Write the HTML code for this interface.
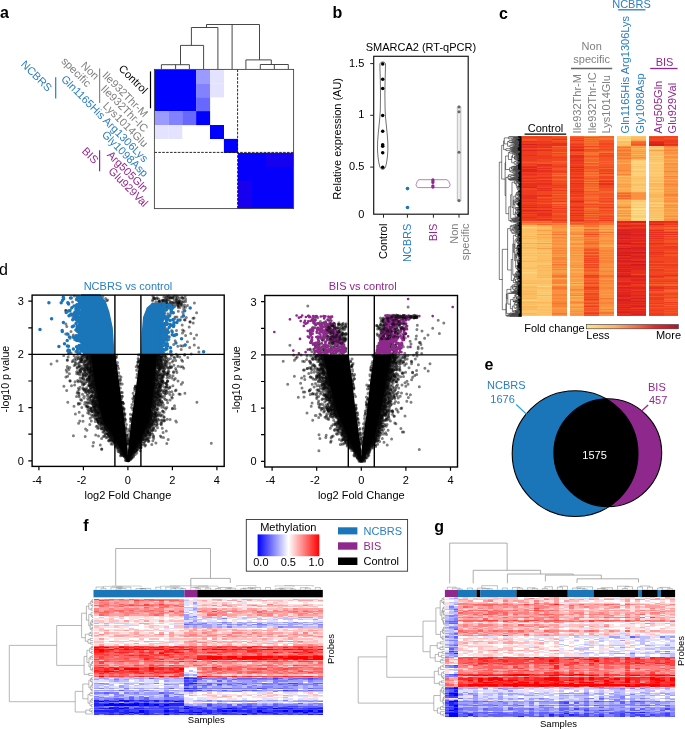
<!DOCTYPE html>
<html><head><meta charset="utf-8"><style>
html,body{margin:0;padding:0;background:#fff;width:685px;height:729px;overflow:hidden}
svg{display:block;will-change:transform}
svg{font-family:"Liberation Sans",sans-serif;font-size:11px}
</style></head><body>
<svg width="685" height="729" viewBox="0 0 685 729">
<text x="0" y="18.3" font-weight="bold" font-size="16">a</text>
<text x="332.5" y="18.3" font-weight="bold" font-size="16">b</text>
<text x="499" y="18.5" font-weight="bold" font-size="16">c</text>
<text x="-0.9" y="275.3" font-size="16">d</text>
<text x="484.5" y="370.3" font-weight="bold" font-size="16">e</text>
<text x="83.3" y="531" font-weight="bold" font-size="16">f</text>
<text x="434.3" y="532.1" font-weight="bold" font-size="16">g</text>
<rect x="154.4" y="69.4" width="41.8" height="41.8" fill="#0000ff"/>
<rect x="237.9" y="152.9" width="55.7" height="55.7" fill="#0500fc"/>
<rect x="196.1" y="69.4" width="14" height="14" fill="#9a9aff"/>
<rect x="196.1" y="83.3" width="14" height="14" fill="#8282ff"/>
<rect x="196.1" y="97.2" width="14" height="14" fill="#6868ff"/>
<rect x="210" y="69.4" width="14" height="14" fill="#e3e3ff"/>
<rect x="210" y="83.3" width="14" height="14" fill="#e3e3ff"/>
<rect x="154.3" y="111.1" width="14" height="14" fill="#9a9aff"/>
<rect x="168.3" y="111.1" width="14" height="14" fill="#8282ff"/>
<rect x="182.2" y="111.1" width="14" height="14" fill="#6868ff"/>
<rect x="196.1" y="111.1" width="14" height="14" fill="#0000ff"/>
<rect x="154.3" y="125" width="14" height="14" fill="#e3e3ff"/>
<rect x="168.3" y="125" width="14" height="14" fill="#e3e3ff"/>
<rect x="210" y="125" width="14" height="14" fill="#0000ff"/>
<rect x="223.9" y="138.9" width="14" height="14" fill="#0000ff"/>
<rect x="265.7" y="152.9" width="14" height="14" fill="#1500f0"/>
<rect x="279.6" y="152.9" width="14" height="14" fill="#1500f0"/>
<rect x="237.9" y="180.7" width="14" height="14" fill="#1800ee"/>
<rect x="237.9" y="194.6" width="14" height="14" fill="#1800ee"/>
<path d="M237.6 69.4L237.6 208.6" stroke="#111" stroke-width="0.9" stroke-dasharray="2.6 1.3"/>
<path d="M154.4 152.4L293.6 152.4" stroke="#111" stroke-width="0.9" stroke-dasharray="2.6 1.3"/>
<rect x="154.4" y="69.4" width="139.2" height="139.2" fill="none" stroke="#444" stroke-width="0.9"/>
<path d="M161.4 64.7L189.4 64.7M161.4 64.7L161.4 69M175.6 64.7L175.6 69M189.4 64.7L189.4 69M180.5 64.7L180.5 45.4M180.5 45.4L203.6 45.4M203.6 45.4L203.6 69M191.4 45.4L191.4 27.5M191.4 27.5L217.9 27.5M217.9 27.5L217.9 69M206.5 27.5L206.5 24.5M206.5 24.5L259.5 24.5M232.1 24.5L232.1 69M259.5 24.5L259.5 59.9M245.9 59.9L271.3 59.9M245.9 59.9L245.9 69M271.3 59.9L271.3 64.5M260.3 64.5L288.3 64.5M260.3 64.5L260.3 69M274.3 64.5L274.3 69M288.3 64.5L288.3 69" stroke="#333" stroke-width="0.9" fill="none"/>
<text transform="translate(143.2 94.4) rotate(45)" text-anchor="end">Control</text>
<text transform="translate(143.6 117.9) rotate(45)" text-anchor="end" fill="#7f7f7f">Ile932Thr-M</text>
<text transform="translate(143.6 132.8) rotate(45)" text-anchor="end" fill="#7f7f7f">Ile932Thr-IC</text>
<text transform="translate(143.6 147.8) rotate(45)" text-anchor="end" fill="#7f7f7f">Lys1014Glu</text>
<text transform="translate(143.6 162.8) rotate(45)" text-anchor="end" fill="#2a7ec1">Gln1165His Arg1306Lys</text>
<text transform="translate(143.6 177.7) rotate(45)" text-anchor="end" fill="#2a7ec1">Gly1098Asp</text>
<text transform="translate(143.6 192.7) rotate(45)" text-anchor="end" fill="#92278f">Arg505Gln</text>
<text transform="translate(143.6 207.6) rotate(45)" text-anchor="end" fill="#92278f">Glu929Val</text>
<text transform="translate(94.6 80.4) rotate(45)" text-anchor="end" fill="#7f7f7f">Non</text>
<text transform="translate(86.6 87.6) rotate(45)" text-anchor="end" fill="#7f7f7f">specific</text>
<text transform="translate(47.5 92.3) rotate(45)" text-anchor="end" fill="#2a7ec1">NCBRS</text>
<text transform="translate(93.9 164.4) rotate(45)" text-anchor="end" fill="#92278f">BIS</text>
<path d="M150.5 71.4L150.5 108.3" stroke="#000" stroke-width="1.2"/>
<path d="M99.6 68.4L99.6 102.9" stroke="#888" stroke-width="1.2"/>
<path d="M55.7 77.3L55.7 98.6" stroke="#2a7ec1" stroke-width="1.2"/>
<path d="M99.6 150.2L99.6 171.2" stroke="#92278f" stroke-width="1.2"/>
<rect x="373.7" y="56.3" width="94.5" height="157.9" fill="none" stroke="#1a1a1a" stroke-width="1.2"/>
<text x="420.9" y="51.3" text-anchor="middle">SMARCA2 (RT-qPCR)</text>
<path d="M370.2 63.6L373.7 63.6" stroke="#222" stroke-width="1"/>
<text x="364.3" y="66.7" text-anchor="end">1.5</text>
<path d="M370.2 115.3L373.7 115.3" stroke="#222" stroke-width="1"/>
<text x="364.3" y="118.4" text-anchor="end">1</text>
<path d="M370.2 167.1L373.7 167.1" stroke="#222" stroke-width="1"/>
<text x="364.3" y="170.2" text-anchor="end">0.5</text>
<text x="364.3" y="217.8" text-anchor="end">0</text>
<text transform="translate(341.2 138.8) rotate(-90)" text-anchor="middle">Relative expression (AU)</text>
<path d="M383.5 214.2L383.5 217.7" stroke="#222" stroke-width="1"/>
<path d="M407.4 214.2L407.4 217.7" stroke="#222" stroke-width="1"/>
<path d="M433.4 214.2L433.4 217.7" stroke="#222" stroke-width="1"/>
<path d="M459 214.2L459 217.7" stroke="#222" stroke-width="1"/>
<text transform="translate(387.4 223.6) rotate(-90)" text-anchor="end">Control</text>
<text transform="translate(411.3 223.6) rotate(-90)" text-anchor="end" fill="#2a7ec1">NCBRS</text>
<text transform="translate(437.3 223.6) rotate(-90)" text-anchor="end" fill="#92278f">BIS</text>
<text transform="translate(458.4 223.6) rotate(-90)" text-anchor="end" fill="#7f7f7f">Non</text>
<text transform="translate(469.4 223.6) rotate(-90)" text-anchor="end" fill="#7f7f7f">specific</text>
<path d="M382.7 61.8L384.5 62.4L385.5 63.8L385.4 70L385.1 80L384.9 95L385.1 110L385.6 118L386.4 126L387.2 134L387.8 142L387.9 150L387.4 157L386.5 163L385.5 167L384.3 168.8L382.7 169.5L382.7 169.5L381.1 168.8L379.9 167L378.9 163L378 157L377.5 150L377.6 142L378.2 134L379 126L379.8 118L380.3 110L380.5 95L380.3 80L380 70L379.9 63.8L380.9 62.4L382.7 61.8Z" fill="none" stroke="#333" stroke-width="0.7"/>
<circle cx="382.7" cy="64.1" r="1.75"/>
<circle cx="382.7" cy="79.2" r="1.75"/>
<circle cx="382.7" cy="88.5" r="1.75"/>
<circle cx="382.7" cy="115.5" r="1.75"/>
<circle cx="382.7" cy="131.3" r="1.75"/>
<circle cx="382.7" cy="144.8" r="1.75"/>
<circle cx="382.7" cy="146.2" r="1.75"/>
<circle cx="382.7" cy="152.7" r="1.75"/>
<circle cx="382.7" cy="167.2" r="1.75"/>
<circle cx="407.5" cy="188.6" r="1.8" fill="#1b75b9"/>
<circle cx="407.5" cy="207.5" r="1.8" fill="#1b75b9"/>
<path d="M419 179.7L446.5 179.7C448.5 179.7 449.5 183 450.2 184.8C449.5 186.5 449 187.6 448 187.6L418.2 187.6C417.2 187.6 416.6 186.5 416 184.8C416.7 183 417.5 179.7 419 179.7Z" fill="none" stroke="#8f288d" stroke-width="0.6"/>
<circle cx="432.9" cy="179.8" r="1.6" fill="#8f288d"/>
<circle cx="432.9" cy="181.1" r="1.6" fill="#8f288d"/>
<circle cx="432.9" cy="182.5" r="1.6" fill="#8f288d"/>
<circle cx="432.9" cy="185.8" r="1.6" fill="#8f288d"/>
<circle cx="432.9" cy="187.1" r="1.6" fill="#8f288d"/>
<path d="M457.3 107.5C457.3 105.3 460.9 105.3 460.9 107.5L460.9 200.2C460.9 202.3 457.3 202.3 457.3 200.2Z" fill="#ececec" stroke="#999" stroke-width="0.6"/>
<circle cx="459" cy="107.1" r="1.5" fill="#666"/>
<circle cx="459" cy="111.8" r="1.5" fill="#666"/>
<circle cx="459" cy="152.3" r="1.5" fill="#666"/>
<circle cx="459" cy="200.5" r="1.5" fill="#666"/>
<g transform="translate(522.3 136.3) scale(14.97 1)" shape-rendering="crispEdges">
<path fill="#f14620" d="M0 0h1v1h-1zM0 2h1v1h-1zM0 12h1v1h-1zM0 25h1v1h-1zM0 27h1v1h-1zM0 29h1v1h-1zM0 40h1v1h-1zM0 43h1v1h-1zM0 46h1v1h-1zM0 52h1v2h-1zM0 66h1v1h-1zM0 72h1v1h-1zM0 76h1v1h-1zM0 78h1v1h-1zM1 0h1v1h-1zM1 2h1v3h-1zM1 15h1v4h-1zM1 23h1v3h-1zM1 31h1v1h-1zM1 33h1v1h-1zM1 37h1v1h-1zM1 39h1v2h-1zM1 51h1v1h-1zM1 55h1v4h-1zM1 62h1v1h-1zM1 64h1v1h-1zM1 66h1v1h-1zM1 72h1v2h-1zM1 82h1v1h-1zM2 1h1v2h-1zM2 5h1v2h-1zM2 11h1v1h-1zM2 13h1v3h-1zM2 17h1v1h-1zM2 20h1v1h-1zM2 22h1v3h-1zM2 28h1v2h-1zM2 31h1v1h-1zM2 34h1v1h-1zM2 36h1v1h-1zM2 41h1v1h-1zM2 45h1v1h-1zM2 47h1v2h-1zM2 50h1v1h-1zM2 57h1v1h-1zM2 59h1v1h-1zM2 62h1v1h-1zM2 68h1v1h-1zM2 70h1v1h-1zM2 74h1v3h-1zM2 79h1v3h-1zM2 83h1v1h-1z"/>
<path fill="#ec3b1f" d="M0 1h1v1h-1zM0 6h1v2h-1zM0 9h1v1h-1zM0 13h1v1h-1zM0 15h1v4h-1zM0 20h1v5h-1zM0 28h1v1h-1zM0 32h1v1h-1zM0 36h1v2h-1zM0 39h1v1h-1zM0 41h1v1h-1zM0 44h1v1h-1zM0 54h1v5h-1zM0 63h1v2h-1zM0 67h1v2h-1zM0 70h1v1h-1zM0 73h1v1h-1zM0 79h1v2h-1zM0 82h1v3h-1zM1 1h1v1h-1zM1 5h1v3h-1zM1 10h1v1h-1zM1 13h1v1h-1zM1 19h1v4h-1zM1 30h1v1h-1zM1 36h1v1h-1zM1 38h1v1h-1zM1 42h1v1h-1zM1 45h1v2h-1zM1 49h1v2h-1zM1 53h1v1h-1zM1 60h1v1h-1zM1 63h1v1h-1zM1 65h1v1h-1zM1 68h1v3h-1zM1 75h1v2h-1zM1 80h1v2h-1zM1 84h1v1h-1zM2 21h1v1h-1zM2 30h1v1h-1zM2 35h1v1h-1zM2 49h1v1h-1zM2 51h1v1h-1zM2 54h1v1h-1zM2 65h1v1h-1zM2 72h1v1h-1zM2 84h1v1h-1z"/>
<path fill="#f35526" d="M0 3h1v2h-1zM0 26h1v1h-1zM1 12h1v1h-1zM1 26h1v2h-1zM1 43h1v1h-1zM1 61h1v1h-1zM1 67h1v1h-1zM2 0h1v1h-1zM2 4h1v1h-1zM2 12h1v1h-1zM2 18h1v2h-1zM2 26h1v2h-1zM2 32h1v2h-1zM2 38h1v1h-1zM2 40h1v1h-1zM2 42h1v1h-1zM2 44h1v1h-1zM2 46h1v1h-1zM2 52h1v2h-1zM2 55h1v2h-1zM2 60h1v2h-1zM2 63h1v2h-1zM2 71h1v1h-1zM2 73h1v1h-1zM2 77h1v2h-1zM2 82h1v1h-1zM2 85h1v2h-1z"/>
<path fill="#e62f1f" d="M0 5h1v1h-1zM0 10h1v2h-1zM0 19h1v1h-1zM0 30h1v1h-1zM0 38h1v1h-1zM0 42h1v1h-1zM0 45h1v1h-1zM0 47h1v4h-1zM0 59h1v4h-1zM0 65h1v1h-1zM0 69h1v1h-1zM0 75h1v1h-1zM0 77h1v1h-1zM0 81h1v1h-1zM1 8h1v2h-1zM1 11h1v1h-1zM1 14h1v1h-1zM1 28h1v2h-1zM1 32h1v1h-1zM1 34h1v2h-1zM1 41h1v1h-1zM1 44h1v1h-1zM1 47h1v2h-1zM1 52h1v1h-1zM1 54h1v1h-1zM1 59h1v1h-1zM1 71h1v1h-1zM1 77h1v3h-1zM1 83h1v1h-1zM2 3h1v1h-1zM2 7h1v3h-1z"/>
<path fill="#d61f1e" d="M0 8h1v1h-1z"/>
<path fill="#e1241e" d="M0 14h1v1h-1zM0 31h1v1h-1zM0 33h1v3h-1zM0 51h1v1h-1zM0 71h1v1h-1zM0 74h1v1h-1zM1 74h1v1h-1z"/>
<path fill="#f77431" d="M0 85h1v1h-1zM1 85h1v1h-1zM2 39h1v1h-1zM2 67h1v1h-1zM2 88h1v1h-1zM2 98h1v1h-1zM2 128h1v1h-1zM2 139h1v2h-1zM2 151h1v2h-1zM2 167h1v1h-1zM2 177h1v1h-1z"/>
<path fill="#f5652c" d="M0 86h1v1h-1zM1 86h1v1h-1zM1 88h1v1h-1zM2 10h1v1h-1zM2 16h1v1h-1zM2 25h1v1h-1zM2 37h1v1h-1zM2 43h1v1h-1zM2 58h1v1h-1zM2 66h1v1h-1zM2 69h1v1h-1z"/>
<path fill="#f98437" d="M0 87h1v2h-1zM1 87h1v1h-1zM2 87h1v1h-1zM2 96h1v1h-1zM2 101h1v1h-1zM2 112h1v1h-1zM2 114h1v1h-1zM2 117h1v1h-1zM2 121h1v3h-1zM2 126h1v1h-1zM2 129h1v1h-1zM2 131h1v1h-1zM2 133h1v1h-1zM2 141h1v1h-1zM2 144h1v4h-1zM2 150h1v1h-1zM2 153h1v1h-1zM2 158h1v2h-1zM2 162h1v1h-1zM2 165h1v2h-1zM2 168h1v3h-1zM2 178h1v1h-1z"/>
<path fill="#fcbe63" d="M0 89h1v2h-1zM0 93h1v4h-1zM0 98h1v1h-1zM0 109h1v1h-1zM0 114h1v1h-1zM0 117h1v1h-1zM0 119h1v1h-1zM0 122h1v1h-1zM0 124h1v1h-1zM0 131h1v2h-1zM0 144h1v3h-1zM0 150h1v1h-1zM0 152h1v3h-1zM0 156h1v1h-1zM0 159h1v3h-1zM0 165h1v1h-1zM0 167h1v2h-1zM0 172h1v1h-1zM0 178h1v1h-1zM1 91h1v2h-1zM1 97h1v1h-1zM1 99h1v1h-1zM1 104h1v1h-1zM1 108h1v2h-1zM1 111h1v1h-1zM1 113h1v2h-1zM1 116h1v1h-1zM1 119h1v5h-1zM1 125h1v2h-1zM1 130h1v1h-1zM1 132h1v2h-1zM1 135h1v4h-1zM1 140h1v1h-1zM1 144h1v4h-1zM1 151h1v2h-1zM1 167h1v1h-1zM1 170h1v2h-1zM1 173h1v2h-1zM1 176h1v1h-1zM1 178h1v1h-1z"/>
<path fill="#fdd57f" d="M0 91h1v1h-1zM0 136h1v1h-1zM0 164h1v1h-1zM1 150h1v1h-1z"/>
<path fill="#fdc56c" d="M0 92h1v1h-1zM0 97h1v1h-1zM0 99h1v1h-1zM0 101h1v1h-1zM0 103h1v4h-1zM0 108h1v1h-1zM0 110h1v1h-1zM0 116h1v1h-1zM0 118h1v1h-1zM0 120h1v1h-1zM0 126h1v5h-1zM0 133h1v1h-1zM0 135h1v1h-1zM0 138h1v6h-1zM0 149h1v1h-1zM0 163h1v1h-1zM0 169h1v1h-1zM0 174h1v3h-1zM0 179h1v1h-1zM1 106h1v1h-1zM1 115h1v1h-1zM1 118h1v1h-1zM1 127h1v2h-1zM1 142h1v2h-1zM1 148h1v2h-1zM1 153h1v3h-1zM1 157h1v1h-1zM1 161h1v5h-1zM1 168h1v2h-1zM1 172h1v1h-1zM1 175h1v1h-1zM1 177h1v1h-1z"/>
<path fill="#fcb65a" d="M0 100h1v1h-1zM0 102h1v1h-1zM0 111h1v2h-1zM0 125h1v1h-1zM0 147h1v1h-1zM0 151h1v1h-1zM0 155h1v1h-1zM0 157h1v2h-1zM0 162h1v1h-1zM0 166h1v1h-1zM0 170h1v2h-1zM0 173h1v1h-1zM0 177h1v1h-1zM1 90h1v1h-1zM1 93h1v1h-1zM1 95h1v2h-1zM1 100h1v1h-1zM1 102h1v2h-1zM1 105h1v1h-1zM1 110h1v1h-1zM1 117h1v1h-1zM1 124h1v1h-1zM1 129h1v1h-1zM1 131h1v1h-1zM1 134h1v1h-1zM1 139h1v1h-1zM1 141h1v1h-1zM1 159h1v1h-1zM1 166h1v1h-1z"/>
<path fill="#fbaa51" d="M0 107h1v1h-1zM1 89h1v1h-1zM1 101h1v1h-1zM2 142h1v1h-1zM2 148h1v1h-1z"/>
<path fill="#fdcd76" d="M0 113h1v1h-1zM0 115h1v1h-1zM0 121h1v1h-1zM0 123h1v1h-1zM0 134h1v1h-1zM0 137h1v1h-1zM0 148h1v1h-1zM1 156h1v1h-1zM1 158h1v1h-1zM1 160h1v1h-1zM1 179h1v1h-1z"/>
<path fill="#fa9d48" d="M1 94h1v1h-1zM1 98h1v1h-1zM1 107h1v1h-1zM1 112h1v1h-1zM2 92h1v3h-1zM2 97h1v1h-1zM2 99h1v2h-1zM2 103h1v1h-1zM2 106h1v1h-1zM2 109h1v2h-1zM2 113h1v1h-1zM2 118h1v1h-1zM2 120h1v1h-1zM2 127h1v1h-1zM2 132h1v1h-1zM2 134h1v3h-1zM2 149h1v1h-1zM2 172h1v1h-1zM2 179h1v1h-1z"/>
<path fill="#fa9040" d="M2 89h1v3h-1zM2 95h1v1h-1zM2 102h1v1h-1zM2 104h1v2h-1zM2 107h1v2h-1zM2 111h1v1h-1zM2 115h1v2h-1zM2 119h1v1h-1zM2 124h1v2h-1zM2 130h1v1h-1zM2 137h1v2h-1zM2 143h1v1h-1zM2 154h1v4h-1zM2 160h1v2h-1zM2 163h1v2h-1zM2 171h1v1h-1zM2 173h1v4h-1z"/>
</g>
<g transform="translate(569.6 136.3) scale(14.73 1)" shape-rendering="crispEdges">
<path fill="#f5652c" d="M0 0h1v1h-1zM0 86h1v1h-1zM0 88h1v1h-1zM1 3h1v1h-1zM1 5h1v1h-1zM1 7h1v2h-1zM1 11h1v1h-1zM1 19h1v1h-1zM1 21h1v1h-1zM1 23h1v3h-1zM1 28h1v1h-1zM1 33h1v2h-1zM1 38h1v1h-1zM1 40h1v2h-1zM1 43h1v1h-1zM1 48h1v3h-1zM1 52h1v1h-1zM1 56h1v2h-1zM1 59h1v2h-1zM1 62h1v2h-1zM1 65h1v1h-1zM1 67h1v1h-1zM1 69h1v1h-1zM1 73h1v2h-1zM1 76h1v1h-1zM1 80h1v1h-1zM1 87h1v2h-1zM1 93h1v1h-1zM1 96h1v1h-1zM1 100h1v1h-1zM1 107h1v1h-1zM1 112h1v1h-1zM1 121h1v1h-1zM1 132h1v2h-1zM1 135h1v1h-1zM1 137h1v2h-1zM1 142h1v2h-1zM1 145h1v1h-1zM1 148h1v2h-1zM1 154h1v1h-1zM1 156h1v1h-1zM1 165h1v1h-1zM1 168h1v1h-1zM1 171h1v1h-1zM1 175h1v1h-1zM2 0h1v2h-1zM2 15h1v1h-1zM2 25h1v1h-1zM2 27h1v1h-1zM2 32h1v1h-1zM2 38h1v2h-1zM2 43h1v1h-1zM2 55h1v2h-1zM2 61h1v1h-1zM2 73h1v1h-1zM2 78h1v1h-1zM2 85h1v2h-1z"/>
<path fill="#f35526" d="M0 1h1v1h-1zM0 3h1v1h-1zM0 5h1v2h-1zM0 16h1v1h-1zM0 18h1v1h-1zM0 43h1v1h-1zM0 61h1v1h-1zM0 87h1v1h-1zM1 1h1v1h-1zM1 14h1v2h-1zM1 20h1v1h-1zM1 27h1v1h-1zM1 30h1v3h-1zM1 35h1v1h-1zM1 42h1v1h-1zM1 45h1v1h-1zM1 47h1v1h-1zM1 55h1v1h-1zM1 58h1v1h-1zM1 64h1v1h-1zM1 70h1v2h-1zM1 75h1v1h-1zM1 79h1v1h-1zM1 81h1v2h-1zM1 85h1v2h-1zM1 113h1v2h-1zM1 116h1v1h-1zM1 119h1v1h-1zM1 123h1v1h-1zM1 125h1v1h-1zM1 129h1v2h-1zM1 134h1v1h-1zM1 144h1v1h-1zM1 146h1v1h-1zM1 150h1v1h-1zM1 155h1v1h-1zM1 159h1v2h-1zM1 162h1v1h-1zM1 164h1v1h-1zM1 166h1v1h-1zM1 169h1v1h-1zM1 172h1v3h-1zM1 178h1v2h-1zM2 4h1v3h-1zM2 9h1v1h-1zM2 11h1v2h-1zM2 14h1v1h-1zM2 18h1v1h-1zM2 21h1v4h-1zM2 26h1v1h-1zM2 28h1v3h-1zM2 36h1v1h-1zM2 46h1v1h-1zM2 52h1v3h-1zM2 57h1v4h-1zM2 63h1v2h-1zM2 66h1v1h-1zM2 69h1v2h-1zM2 72h1v1h-1zM2 75h1v3h-1zM2 79h1v1h-1zM2 81h1v1h-1zM2 83h1v1h-1z"/>
<path fill="#f14620" d="M0 2h1v1h-1zM0 7h1v1h-1zM0 9h1v1h-1zM0 12h1v1h-1zM0 15h1v1h-1zM0 17h1v1h-1zM0 28h1v1h-1zM0 32h1v1h-1zM0 36h1v1h-1zM0 39h1v2h-1zM0 46h1v1h-1zM0 52h1v1h-1zM0 58h1v1h-1zM0 62h1v2h-1zM0 67h1v3h-1zM0 72h1v2h-1zM0 75h1v2h-1zM0 78h1v1h-1zM0 80h1v1h-1zM0 82h1v1h-1zM0 85h1v1h-1zM1 10h1v1h-1zM1 13h1v1h-1zM1 68h1v1h-1zM1 77h1v1h-1zM1 84h1v1h-1zM1 98h1v1h-1zM1 117h1v1h-1zM1 120h1v1h-1zM1 122h1v1h-1zM1 124h1v1h-1zM1 126h1v1h-1zM1 128h1v1h-1zM1 131h1v1h-1zM1 140h1v2h-1zM1 147h1v1h-1zM1 152h1v2h-1zM1 157h1v2h-1zM1 161h1v1h-1zM1 167h1v1h-1zM1 176h1v1h-1zM2 7h1v2h-1zM2 10h1v1h-1zM2 13h1v1h-1zM2 17h1v1h-1zM2 19h1v2h-1zM2 31h1v1h-1zM2 33h1v3h-1zM2 40h1v3h-1zM2 44h1v1h-1zM2 49h1v3h-1zM2 62h1v1h-1zM2 65h1v1h-1zM2 68h1v1h-1zM2 74h1v1h-1zM2 80h1v1h-1zM2 82h1v1h-1z"/>
<path fill="#ec3b1f" d="M0 4h1v1h-1zM0 8h1v1h-1zM0 10h1v1h-1zM0 22h1v2h-1zM0 25h1v3h-1zM0 29h1v2h-1zM0 34h1v1h-1zM0 37h1v2h-1zM0 42h1v1h-1zM0 44h1v2h-1zM0 48h1v4h-1zM0 53h1v2h-1zM0 56h1v2h-1zM0 59h1v2h-1zM0 64h1v1h-1zM0 66h1v1h-1zM0 70h1v1h-1zM0 81h1v1h-1zM0 83h1v1h-1zM1 139h1v1h-1zM1 151h1v1h-1zM1 163h1v1h-1zM1 170h1v1h-1zM1 177h1v1h-1zM2 37h1v1h-1zM2 71h1v1h-1zM2 84h1v1h-1z"/>
<path fill="#e62f1f" d="M0 11h1v1h-1zM0 13h1v1h-1zM0 19h1v3h-1zM0 24h1v1h-1zM0 33h1v1h-1zM0 35h1v1h-1zM0 41h1v1h-1zM0 47h1v1h-1zM0 55h1v1h-1zM0 71h1v1h-1zM0 74h1v1h-1zM0 77h1v1h-1zM0 79h1v1h-1zM0 84h1v1h-1zM2 45h1v1h-1zM2 47h1v2h-1z"/>
<path fill="#e1241e" d="M0 14h1v1h-1zM0 31h1v1h-1zM0 65h1v1h-1z"/>
<path fill="#fa9d48" d="M0 89h1v1h-1zM0 93h1v1h-1zM0 95h1v1h-1zM0 102h1v1h-1zM0 104h1v1h-1zM0 113h1v1h-1zM0 115h1v2h-1zM0 120h1v5h-1zM0 126h1v3h-1zM0 130h1v1h-1zM0 133h1v2h-1zM0 137h1v3h-1zM0 141h1v1h-1zM0 143h1v3h-1zM0 150h1v3h-1zM0 155h1v1h-1zM0 158h1v1h-1zM0 161h1v2h-1zM0 170h1v1h-1zM0 173h1v2h-1zM0 176h1v1h-1zM0 179h1v1h-1zM1 92h1v1h-1zM2 89h1v3h-1zM2 95h1v1h-1zM2 99h1v1h-1zM2 101h1v3h-1zM2 106h1v1h-1zM2 108h1v1h-1zM2 132h1v1h-1zM2 143h1v1h-1zM2 155h1v1h-1zM2 158h1v1h-1zM2 161h1v1h-1zM2 171h1v2h-1zM2 174h1v1h-1z"/>
<path fill="#fa9040" d="M0 90h1v1h-1zM0 96h1v2h-1zM0 101h1v1h-1zM0 103h1v1h-1zM0 107h1v2h-1zM0 111h1v2h-1zM0 114h1v1h-1zM0 117h1v1h-1zM0 119h1v1h-1zM0 129h1v1h-1zM0 131h1v1h-1zM0 140h1v1h-1zM0 147h1v1h-1zM0 154h1v1h-1zM0 157h1v1h-1zM0 165h1v1h-1zM0 167h1v1h-1zM0 171h1v1h-1zM0 175h1v1h-1zM0 177h1v2h-1zM1 91h1v1h-1zM2 93h1v1h-1zM2 100h1v1h-1zM2 104h1v2h-1zM2 107h1v1h-1zM2 111h1v3h-1zM2 116h1v1h-1zM2 118h1v1h-1zM2 120h1v1h-1zM2 123h1v1h-1zM2 127h1v4h-1zM2 133h1v2h-1zM2 136h1v3h-1zM2 142h1v1h-1zM2 146h1v1h-1zM2 148h1v3h-1zM2 153h1v2h-1zM2 156h1v2h-1zM2 159h1v2h-1zM2 163h1v3h-1zM2 168h1v3h-1zM2 175h1v1h-1zM2 178h1v2h-1z"/>
<path fill="#fcb65a" d="M0 91h1v1h-1zM0 99h1v1h-1zM0 132h1v1h-1zM0 146h1v1h-1zM0 148h1v1h-1zM0 160h1v1h-1z"/>
<path fill="#fbaa51" d="M0 92h1v1h-1zM0 94h1v1h-1zM0 100h1v1h-1zM0 105h1v2h-1zM0 109h1v2h-1zM0 118h1v1h-1zM0 125h1v1h-1zM0 135h1v2h-1zM0 142h1v1h-1zM0 149h1v1h-1zM0 156h1v1h-1zM0 163h1v2h-1zM0 168h1v2h-1zM0 172h1v1h-1zM2 92h1v1h-1zM2 94h1v1h-1zM2 97h1v1h-1zM2 109h1v2h-1z"/>
<path fill="#f98437" d="M0 98h1v1h-1zM0 153h1v1h-1zM0 159h1v1h-1zM0 166h1v1h-1zM1 0h1v1h-1zM1 26h1v1h-1zM1 39h1v1h-1zM1 46h1v1h-1zM1 94h1v2h-1zM1 99h1v1h-1zM1 101h1v2h-1zM1 104h1v1h-1zM1 109h1v2h-1zM2 98h1v1h-1zM2 114h1v2h-1zM2 117h1v1h-1zM2 119h1v1h-1zM2 121h1v2h-1zM2 124h1v3h-1zM2 131h1v1h-1zM2 135h1v1h-1zM2 141h1v1h-1zM2 144h1v2h-1zM2 147h1v1h-1zM2 151h1v2h-1zM2 166h1v2h-1zM2 173h1v1h-1z"/>
<path fill="#f77431" d="M1 2h1v1h-1zM1 4h1v1h-1zM1 6h1v1h-1zM1 9h1v1h-1zM1 12h1v1h-1zM1 16h1v3h-1zM1 22h1v1h-1zM1 29h1v1h-1zM1 36h1v2h-1zM1 44h1v1h-1zM1 51h1v1h-1zM1 53h1v2h-1zM1 61h1v1h-1zM1 66h1v1h-1zM1 72h1v1h-1zM1 78h1v1h-1zM1 83h1v1h-1zM1 89h1v2h-1zM1 97h1v1h-1zM1 103h1v1h-1zM1 105h1v2h-1zM1 108h1v1h-1zM1 111h1v1h-1zM1 115h1v1h-1zM1 118h1v1h-1zM1 127h1v1h-1zM1 136h1v1h-1zM2 2h1v2h-1zM2 16h1v1h-1zM2 67h1v1h-1zM2 87h1v2h-1zM2 96h1v1h-1zM2 139h1v2h-1zM2 162h1v1h-1zM2 176h1v2h-1z"/>
</g>
<g transform="translate(616.7 136.3) scale(14.65 1)" shape-rendering="crispEdges">
<path fill="#fdd57f" d="M0 0h1v2h-1zM0 3h1v2h-1zM1 25h1v3h-1zM1 29h1v1h-1zM1 37h1v1h-1zM1 39h1v1h-1zM1 66h1v2h-1zM1 69h1v2h-1zM1 75h1v1h-1zM1 83h1v1h-1z"/>
<path fill="#fdcd76" d="M0 2h1v1h-1zM1 24h1v1h-1zM1 28h1v1h-1zM1 31h1v2h-1zM1 34h1v1h-1zM1 36h1v1h-1zM1 38h1v1h-1zM1 46h1v1h-1zM1 50h1v1h-1zM1 53h1v1h-1zM1 64h1v1h-1zM1 68h1v1h-1zM1 74h1v1h-1zM1 77h1v1h-1zM1 79h1v3h-1zM1 84h1v1h-1z"/>
<path fill="#fcbe63" d="M0 5h1v2h-1zM0 8h1v2h-1zM0 40h1v1h-1zM0 73h1v1h-1zM1 1h1v2h-1zM1 42h1v1h-1zM1 48h1v2h-1z"/>
<path fill="#fdc56c" d="M0 7h1v1h-1zM1 0h1v1h-1zM1 30h1v1h-1zM1 35h1v1h-1zM1 40h1v2h-1zM1 43h1v3h-1zM1 47h1v1h-1zM1 51h1v2h-1zM1 54h1v2h-1zM1 65h1v1h-1zM1 71h1v1h-1z"/>
<path fill="#fa9040" d="M0 10h1v1h-1zM0 12h1v1h-1zM0 16h1v1h-1zM0 20h1v1h-1zM0 23h1v1h-1zM0 25h1v1h-1zM0 28h1v6h-1zM0 35h1v1h-1zM0 63h1v1h-1zM0 77h1v1h-1zM0 79h1v1h-1zM1 21h1v1h-1zM1 57h1v6h-1z"/>
<path fill="#f77431" d="M0 11h1v1h-1zM0 14h1v1h-1zM0 17h1v1h-1zM0 19h1v1h-1zM0 22h1v1h-1zM1 5h1v1h-1z"/>
<path fill="#f98437" d="M0 13h1v1h-1zM0 15h1v1h-1zM0 18h1v1h-1zM0 21h1v1h-1zM0 34h1v1h-1zM0 38h1v1h-1zM0 56h1v1h-1zM0 58h1v1h-1zM0 61h1v1h-1zM0 71h1v1h-1z"/>
<path fill="#fa9d48" d="M0 24h1v1h-1zM0 26h1v1h-1zM0 36h1v2h-1zM0 39h1v1h-1zM0 48h1v1h-1zM0 50h1v1h-1zM0 70h1v1h-1zM0 74h1v2h-1zM0 80h1v1h-1zM0 83h1v2h-1zM1 11h1v1h-1zM1 15h1v1h-1zM1 17h1v1h-1zM1 19h1v1h-1zM1 22h1v1h-1zM1 56h1v1h-1zM1 63h1v1h-1z"/>
<path fill="#fbaa51" d="M0 27h1v1h-1zM0 41h1v2h-1zM0 44h1v2h-1zM0 47h1v1h-1zM0 49h1v1h-1zM0 51h1v1h-1zM0 53h1v3h-1zM0 65h1v1h-1zM0 68h1v2h-1zM0 72h1v1h-1zM0 76h1v1h-1zM0 82h1v1h-1zM1 4h1v1h-1zM1 10h1v1h-1zM1 13h1v2h-1zM1 16h1v1h-1zM1 20h1v1h-1z"/>
<path fill="#fcb65a" d="M0 43h1v1h-1zM0 46h1v1h-1zM0 52h1v1h-1zM0 64h1v1h-1zM0 66h1v2h-1zM0 78h1v1h-1zM0 81h1v1h-1zM1 3h1v1h-1zM1 12h1v1h-1zM1 18h1v1h-1zM1 23h1v1h-1z"/>
<path fill="#f5652c" d="M0 57h1v1h-1zM0 59h1v2h-1zM0 62h1v1h-1zM1 6h1v2h-1zM1 9h1v1h-1z"/>
<path fill="#e1241e" d="M0 85h1v2h-1zM0 89h1v2h-1zM0 93h1v1h-1zM0 95h1v1h-1zM0 97h1v1h-1zM0 99h1v3h-1zM0 104h1v3h-1zM0 108h1v1h-1zM0 110h1v1h-1zM0 113h1v3h-1zM0 118h1v1h-1zM0 121h1v1h-1zM0 126h1v1h-1zM0 128h1v1h-1zM0 130h1v1h-1zM0 134h1v1h-1zM0 137h1v2h-1zM0 141h1v1h-1zM0 146h1v3h-1zM0 152h1v1h-1zM0 154h1v1h-1zM0 156h1v3h-1zM0 165h1v3h-1zM0 169h1v1h-1zM0 173h1v1h-1zM0 175h1v1h-1zM1 89h1v1h-1zM1 93h1v4h-1zM1 99h1v2h-1zM1 102h1v1h-1zM1 104h1v2h-1zM1 108h1v1h-1zM1 113h1v2h-1zM1 119h1v1h-1zM1 121h1v2h-1zM1 126h1v1h-1zM1 130h1v4h-1zM1 139h1v1h-1zM1 141h1v1h-1zM1 143h1v2h-1zM1 147h1v1h-1zM1 151h1v2h-1zM1 155h1v1h-1zM1 159h1v1h-1zM1 167h1v1h-1zM1 169h1v1h-1zM1 173h1v1h-1zM1 175h1v3h-1z"/>
<path fill="#ec3b1f" d="M0 87h1v2h-1zM0 91h1v2h-1zM0 109h1v1h-1zM0 145h1v1h-1zM0 150h1v1h-1zM1 88h1v1h-1zM1 91h1v1h-1zM1 106h1v1h-1zM1 148h1v2h-1zM1 154h1v1h-1zM1 172h1v1h-1zM1 179h1v1h-1z"/>
<path fill="#d61f1e" d="M0 94h1v1h-1zM0 96h1v1h-1zM0 102h1v1h-1zM0 116h1v2h-1zM0 122h1v1h-1zM0 124h1v2h-1zM0 129h1v1h-1zM0 131h1v1h-1zM0 133h1v1h-1zM0 135h1v1h-1zM0 139h1v1h-1zM0 151h1v1h-1zM0 159h1v2h-1zM0 163h1v2h-1zM0 171h1v1h-1zM0 176h1v1h-1zM1 85h1v2h-1zM1 98h1v1h-1zM1 107h1v1h-1zM1 111h1v2h-1zM1 117h1v1h-1zM1 120h1v1h-1zM1 129h1v1h-1zM1 140h1v1h-1zM1 162h1v1h-1zM1 165h1v1h-1zM1 170h1v1h-1zM1 178h1v1h-1z"/>
<path fill="#cb1b1e" d="M0 98h1v1h-1zM0 107h1v1h-1zM0 112h1v1h-1zM0 119h1v1h-1zM0 140h1v1h-1zM1 116h1v1h-1zM1 125h1v1h-1zM1 128h1v1h-1z"/>
<path fill="#e62f1f" d="M0 103h1v1h-1zM0 111h1v1h-1zM0 120h1v1h-1zM0 123h1v1h-1zM0 127h1v1h-1zM0 132h1v1h-1zM0 136h1v1h-1zM0 142h1v3h-1zM0 149h1v1h-1zM0 153h1v1h-1zM0 155h1v1h-1zM0 161h1v2h-1zM0 168h1v1h-1zM0 170h1v1h-1zM0 172h1v1h-1zM0 174h1v1h-1zM0 177h1v3h-1zM1 90h1v1h-1zM1 92h1v1h-1zM1 97h1v1h-1zM1 101h1v1h-1zM1 103h1v1h-1zM1 109h1v2h-1zM1 115h1v1h-1zM1 118h1v1h-1zM1 123h1v2h-1zM1 127h1v1h-1zM1 134h1v4h-1zM1 142h1v1h-1zM1 145h1v2h-1zM1 150h1v1h-1zM1 153h1v1h-1zM1 156h1v3h-1zM1 160h1v2h-1zM1 163h1v2h-1zM1 166h1v1h-1zM1 168h1v1h-1zM1 171h1v1h-1zM1 174h1v1h-1z"/>
<path fill="#f35526" d="M1 8h1v1h-1z"/>
<path fill="#fedc88" d="M1 33h1v1h-1zM1 72h1v1h-1zM1 76h1v1h-1zM1 78h1v1h-1zM1 82h1v1h-1z"/>
<path fill="#fee491" d="M1 73h1v1h-1z"/>
<path fill="#f14620" d="M1 87h1v1h-1zM1 138h1v1h-1z"/>
</g>
<g transform="translate(649 136.3) scale(14.65 1)" shape-rendering="crispEdges">
<path fill="#f35526" d="M0 0h1v1h-1zM0 91h1v2h-1zM0 127h1v1h-1zM0 130h1v1h-1zM0 132h1v1h-1zM0 142h1v1h-1zM0 146h1v1h-1zM0 149h1v1h-1zM0 155h1v2h-1zM0 160h1v1h-1zM0 168h1v1h-1zM0 171h1v1h-1zM1 2h1v1h-1zM1 89h1v1h-1zM1 95h1v1h-1zM1 97h1v1h-1zM1 101h1v1h-1zM1 104h1v3h-1zM1 109h1v1h-1zM1 115h1v1h-1zM1 118h1v2h-1zM1 127h1v1h-1zM1 133h1v1h-1zM1 136h1v1h-1zM1 141h1v2h-1zM1 146h1v1h-1zM1 153h1v1h-1zM1 156h1v1h-1zM1 159h1v2h-1zM1 162h1v1h-1zM1 164h1v1h-1zM1 167h1v1h-1zM1 171h1v1h-1zM1 174h1v1h-1zM1 176h1v1h-1zM1 179h1v1h-1z"/>
<path fill="#ec3b1f" d="M0 1h1v1h-1zM0 87h1v1h-1zM0 104h1v1h-1zM0 108h1v1h-1zM0 111h1v2h-1zM0 114h1v1h-1zM0 117h1v2h-1zM0 120h1v1h-1zM0 125h1v2h-1zM0 128h1v2h-1zM0 131h1v1h-1zM0 133h1v2h-1zM0 139h1v1h-1zM0 141h1v1h-1zM0 145h1v1h-1zM0 147h1v1h-1zM0 150h1v1h-1zM0 154h1v1h-1zM0 158h1v2h-1zM0 161h1v3h-1zM0 167h1v1h-1zM0 170h1v1h-1zM0 174h1v1h-1zM0 177h1v2h-1zM1 4h1v3h-1zM1 9h1v1h-1zM1 88h1v1h-1zM1 100h1v1h-1zM1 107h1v1h-1zM1 110h1v3h-1zM1 117h1v1h-1zM1 128h1v2h-1zM1 145h1v1h-1zM1 150h1v1h-1zM1 152h1v1h-1zM1 166h1v1h-1z"/>
<path fill="#f14620" d="M0 2h1v3h-1zM0 89h1v2h-1zM0 93h1v1h-1zM0 95h1v1h-1zM0 97h1v1h-1zM0 99h1v1h-1zM0 101h1v1h-1zM0 103h1v1h-1zM0 105h1v2h-1zM0 109h1v2h-1zM0 113h1v1h-1zM0 115h1v1h-1zM0 119h1v1h-1zM0 121h1v4h-1zM0 135h1v4h-1zM0 143h1v2h-1zM0 153h1v1h-1zM0 157h1v1h-1zM0 164h1v3h-1zM0 169h1v1h-1zM0 172h1v2h-1zM0 175h1v2h-1zM0 179h1v1h-1zM1 0h1v2h-1zM1 3h1v1h-1zM1 7h1v1h-1zM1 87h1v1h-1zM1 90h1v1h-1zM1 93h1v1h-1zM1 102h1v2h-1zM1 108h1v1h-1zM1 113h1v2h-1zM1 116h1v1h-1zM1 120h1v7h-1zM1 130h1v3h-1zM1 134h1v2h-1zM1 137h1v2h-1zM1 140h1v1h-1zM1 143h1v2h-1zM1 147h1v1h-1zM1 151h1v1h-1zM1 157h1v2h-1zM1 161h1v1h-1zM1 168h1v1h-1zM1 170h1v1h-1zM1 172h1v2h-1zM1 175h1v1h-1zM1 177h1v2h-1z"/>
<path fill="#e62f1f" d="M0 5h1v1h-1zM0 86h1v1h-1zM0 94h1v1h-1zM0 96h1v1h-1zM0 98h1v1h-1zM0 100h1v1h-1zM0 102h1v1h-1zM0 107h1v1h-1zM0 116h1v1h-1zM0 140h1v1h-1zM0 151h1v2h-1zM1 8h1v1h-1zM1 85h1v2h-1zM1 96h1v1h-1zM1 98h1v1h-1zM1 139h1v1h-1z"/>
<path fill="#e1241e" d="M0 6h1v2h-1zM0 85h1v1h-1zM0 88h1v1h-1z"/>
<path fill="#d61f1e" d="M0 8h1v2h-1z"/>
<path fill="#fdc56c" d="M0 10h1v1h-1zM0 16h1v1h-1zM0 22h1v1h-1zM0 24h1v2h-1zM0 28h1v2h-1zM0 31h1v2h-1zM0 34h1v2h-1zM0 38h1v1h-1zM0 40h1v1h-1zM0 42h1v2h-1zM0 54h1v2h-1zM0 62h1v1h-1zM0 69h1v1h-1zM0 73h1v1h-1zM0 76h1v1h-1zM0 78h1v1h-1zM0 80h1v1h-1zM0 84h1v1h-1z"/>
<path fill="#fcbe63" d="M0 11h1v1h-1zM0 13h1v1h-1zM0 15h1v1h-1zM0 17h1v3h-1zM0 21h1v1h-1zM0 23h1v1h-1zM0 41h1v1h-1zM0 44h1v2h-1zM0 49h1v1h-1zM0 52h1v1h-1zM0 56h1v2h-1zM0 63h1v2h-1zM0 68h1v1h-1zM0 72h1v1h-1zM0 74h1v2h-1zM0 77h1v1h-1zM0 79h1v1h-1zM0 81h1v1h-1zM0 83h1v1h-1zM1 67h1v1h-1z"/>
<path fill="#fdcd76" d="M0 12h1v1h-1zM0 20h1v1h-1zM0 26h1v1h-1zM0 30h1v1h-1zM0 33h1v1h-1zM0 36h1v2h-1zM0 39h1v1h-1zM0 46h1v1h-1zM0 51h1v1h-1zM0 66h1v2h-1zM0 70h1v1h-1zM0 82h1v1h-1z"/>
<path fill="#fa9d48" d="M0 14h1v1h-1zM1 12h1v1h-1zM1 15h1v1h-1zM1 18h1v1h-1zM1 22h1v1h-1zM1 24h1v2h-1zM1 29h1v2h-1zM1 32h1v3h-1zM1 36h1v3h-1zM1 41h1v1h-1zM1 46h1v1h-1zM1 51h1v2h-1zM1 54h1v1h-1zM1 56h1v1h-1zM1 63h1v1h-1zM1 66h1v1h-1zM1 68h1v1h-1zM1 70h1v1h-1zM1 73h1v3h-1zM1 77h1v1h-1zM1 79h1v1h-1zM1 82h1v1h-1z"/>
<path fill="#fdd57f" d="M0 27h1v1h-1z"/>
<path fill="#fcb65a" d="M0 47h1v2h-1zM0 50h1v1h-1zM0 53h1v1h-1zM0 58h1v4h-1zM0 65h1v1h-1zM0 71h1v1h-1zM1 43h1v1h-1z"/>
<path fill="#f5652c" d="M0 148h1v1h-1zM1 91h1v2h-1zM1 94h1v1h-1zM1 99h1v1h-1zM1 148h1v2h-1zM1 154h1v2h-1zM1 163h1v1h-1zM1 165h1v1h-1zM1 169h1v1h-1z"/>
<path fill="#f98437" d="M1 10h1v1h-1zM1 14h1v1h-1zM1 35h1v1h-1zM1 40h1v1h-1zM1 48h1v1h-1zM1 58h1v2h-1z"/>
<path fill="#fa9040" d="M1 11h1v1h-1zM1 13h1v1h-1zM1 16h1v2h-1zM1 20h1v2h-1zM1 27h1v2h-1zM1 31h1v1h-1zM1 42h1v1h-1zM1 44h1v2h-1zM1 47h1v1h-1zM1 49h1v2h-1zM1 53h1v1h-1zM1 55h1v1h-1zM1 57h1v1h-1zM1 60h1v1h-1zM1 62h1v1h-1zM1 64h1v2h-1zM1 69h1v1h-1zM1 71h1v1h-1zM1 80h1v1h-1zM1 83h1v2h-1z"/>
<path fill="#fbaa51" d="M1 19h1v1h-1zM1 23h1v1h-1zM1 26h1v1h-1zM1 39h1v1h-1zM1 61h1v1h-1zM1 72h1v1h-1zM1 76h1v1h-1zM1 78h1v1h-1zM1 81h1v1h-1z"/>
</g>
<path d="M521.6 136.3L517.6 136.3L518.1 137.3L520.5 138.3L517.4 139.3L517.8 140.3L519.6 141.3L518.8 142.3L519.3 143.3L518.7 144.3L518.5 145.3L519.5 146.3L518.3 147.3L517.4 148.3L517.8 149.3L517.5 150.3L520 151.3L520 152.3L518.5 153.3L517.9 154.3L518.9 155.3L518.5 156.3L519.4 157.3L517.9 158.3L519.5 159.3L517.6 160.3L518.9 161.3L520.4 162.3L518.9 163.3L518.3 164.3L517.6 165.3L518 166.3L517.9 167.3L518.2 168.3L517.3 169.3L520.5 170.3L519.5 171.3L518.5 172.3L517.9 173.3L518.9 174.3L518.7 175.3L519.2 176.3L517.8 177.3L519.1 178.3L517.4 179.3L518.4 180.3L518.7 181.3L520.4 182.3L520.1 183.3L518.2 184.3L520.4 185.3L517.9 186.3L519.8 187.3L520.5 188.3L519.7 189.3L520.6 190.3L517.4 191.3L519.6 192.3L520.5 193.3L519.3 194.3L519.1 195.3L520 196.3L520 197.3L520 198.3L520.3 199.3L518.2 200.3L519.9 201.3L518.7 202.3L517.5 203.3L517.5 204.3L517.8 205.3L519 206.3L518.1 207.3L519.7 208.3L517.7 209.3L519.3 210.3L519.7 211.3L519 212.3L518.6 213.3L517.1 214.3L517.8 215.3L517.6 216.3L519.6 217.3L519.6 218.3L519.2 219.3L518.3 220.3L520.5 221.3L519 222.3L518.8 223.3L519.3 224.3L517.4 225.3L518.7 226.3L519 227.3L519.3 228.3L517.3 229.3L520.3 230.3L518.8 231.3L519.8 232.3L518.6 233.3L518.3 234.3L517.5 235.3L519.9 236.3L520.2 237.3L518.7 238.3L519.4 239.3L519.1 240.3L518.7 241.3L520.5 242.3L519.6 243.3L519.4 244.3L517.3 245.3L518.7 246.3L520.2 247.3L517.6 248.3L517.8 249.3L518.1 250.3L518 251.3L519 252.3L517.1 253.3L517.5 254.3L518.5 255.3L518.7 256.3L520.4 257.3L518.1 258.3L520.4 259.3L518 260.3L519.8 261.3L518.9 262.3L517.3 263.3L518.3 264.3L517.8 265.3L517.1 266.3L517.4 267.3L518.4 268.3L520.6 269.3L518.1 270.3L517.4 271.3L518.5 272.3L519.8 273.3L519.5 274.3L520 275.3L517.5 276.3L518.8 277.3L517.2 278.3L520 279.3L519.9 280.3L517.8 281.3L519.8 282.3L520 283.3L519.4 284.3L518.1 285.3L518.1 286.3L517.8 287.3L518.4 288.3L518 289.3L517.5 290.3L518.3 291.3L517.2 292.3L517.8 293.3L517.4 294.3L518 295.3L519.5 296.3L520.2 297.3L520.6 298.3L518.2 299.3L517.6 300.3L519.5 301.3L517.5 302.3L518.3 303.3L519.2 304.3L518.3 305.3L519.1 306.3L518.3 307.3L520.5 308.3L518.5 309.3L519.7 310.3L519.9 311.3L520.3 312.3L519.7 313.3L518.2 314.3L519.3 315.3L517.3 316.3L521.6 316.8Z" fill="#000"/>
<path d="M521.6 136.6L509.5 136.6M521.6 137.1L509.5 137.1M509.5 136.6L509.5 137.1M521.6 137.6L513.8 137.6M521.6 138.1L513.8 138.1M513.8 137.6L513.8 138.1M521.6 138.6L515.3 138.6M521.6 139.1L515.3 139.1M515.3 138.6L515.3 139.1M513.8 137.8L513.5 137.8M515.3 138.8L513.5 138.8M513.5 137.8L513.5 138.8M513.5 138.3L511.8 138.3M521.6 139.6L511.8 139.6M511.8 138.3L511.8 139.6M509.5 136.8L508.7 136.8M511.8 138.9L508.7 138.9M508.7 136.8L508.7 138.9M521.6 140.6L514.8 140.6M521.6 141.1L514.8 141.1M514.8 140.6L514.8 141.1M514.8 140.8L512.9 140.8M521.6 141.6L512.9 141.6M512.9 140.8L512.9 141.6M521.6 140.1L512.1 140.1M512.9 141.2L512.1 141.2M512.1 140.1L512.1 141.2M521.6 142.6L511.3 142.6M521.6 143.1L511.3 143.1M511.3 142.6L511.3 143.1M521.6 142.1L510.1 142.1M511.3 142.8L510.1 142.8M510.1 142.1L510.1 142.8M512.1 140.6L509 140.6M510.1 142.4L509 142.4M509 140.6L509 142.4M521.6 143.6L514.4 143.6M521.6 144.1L514.4 144.1M514.4 143.6L514.4 144.1M521.6 144.6L515 144.6M521.6 145.1L515 145.1M515 144.6L515 145.1M514.4 143.8L513.6 143.8M515 144.8L513.6 144.8M513.6 143.8L513.6 144.8M521.6 146.1L514.1 146.1M521.6 146.6L514.1 146.6M514.1 146.1L514.1 146.6M521.6 145.6L513.1 145.6M514.1 146.3L513.1 146.3M513.1 145.6L513.1 146.3M513.6 144.3L511.9 144.3M513.1 146L511.9 146M511.9 144.3L511.9 146M521.6 147.1L511.5 147.1M521.6 147.6L511.5 147.6M511.5 147.1L511.5 147.6M511.9 145.1L510 145.1M511.5 147.3L510 147.3M510 145.1L510 147.3M509 141.5L507.6 141.5M510 146.2L507.6 146.2M507.6 141.5L507.6 146.2M508.7 137.9L504.3 137.9M507.6 143.9L504.3 143.9M504.3 137.9L504.3 143.9M521.6 148.6L512.9 148.6M521.6 149.1L512.9 149.1M512.9 148.6L512.9 149.1M521.6 149.6L512 149.6M521.6 150.1L512 150.1M512 149.6L512 150.1M512.9 148.8L511 148.8M512 149.8L511 149.8M511 148.8L511 149.8M521.6 148.1L510.1 148.1M511 149.3L510.1 149.3M510.1 148.1L510.1 149.3M510.1 148.7L505.9 148.7M521.6 150.6L505.9 150.6M505.9 148.7L505.9 150.6M504.3 140.9L503.6 140.9M505.9 149.6L503.6 149.6M503.6 140.9L503.6 149.6M521.6 151.1L512.6 151.1M521.6 151.6L512.6 151.6M512.6 151.1L512.6 151.6M512.6 151.3L511.3 151.3M521.6 152.1L511.3 152.1M511.3 151.3L511.3 152.1M521.6 152.6L513.8 152.6M521.6 153.1L513.8 153.1M513.8 152.6L513.8 153.1M513.8 152.8L512.4 152.8M521.6 153.6L512.4 153.6M512.4 152.8L512.4 153.6M511.3 151.7L509.6 151.7M512.4 153.2L509.6 153.2M509.6 151.7L509.6 153.2M521.6 154.1L516.2 154.1M521.6 154.6L516.2 154.6M516.2 154.1L516.2 154.6M516.2 154.4L514.5 154.4M521.6 155.1L514.5 155.1M514.5 154.4L514.5 155.1M521.6 155.6L516.1 155.6M521.6 156.1L516.1 156.1M516.1 155.6L516.1 156.1M516.1 155.9L514.9 155.9M521.6 156.6L514.9 156.6M514.9 155.9L514.9 156.6M521.6 157.6L517.5 157.6M521.6 158.1L517.5 158.1M517.5 157.6L517.5 158.1M521.6 157.1L516.8 157.1M517.5 157.9L516.8 157.9M516.8 157.1L516.8 157.9M521.6 158.6L516.4 158.6M521.6 159.1L516.4 159.1M516.4 158.6L516.4 159.1M516.8 157.5L515.2 157.5M516.4 158.9L515.2 158.9M515.2 157.5L515.2 158.9M515.2 158.2L514.8 158.2M521.6 159.6L514.8 159.6M514.8 158.2L514.8 159.6M514.9 156.2L514.5 156.2M514.8 158.9L514.5 158.9M514.5 156.2L514.5 158.9M514.5 154.7L512.5 154.7M514.5 157.6L512.5 157.6M512.5 154.7L512.5 157.6M521.6 160.6L518.3 160.6M521.6 161.1L518.3 161.1M518.3 160.6L518.3 161.1M518.3 160.9L518.2 160.9M521.6 161.6L518.2 161.6M518.2 160.9L518.2 161.6M521.6 160.1L517.3 160.1M518.2 161.2L517.3 161.2M517.3 160.1L517.3 161.2M517.3 160.7L515.8 160.7M521.6 162.1L515.8 162.1M515.8 160.7L515.8 162.1M521.6 163.6L518.4 163.6M521.6 164.1L518.4 164.1M518.4 163.6L518.4 164.1M521.6 163.1L517.8 163.1M518.4 163.9L517.8 163.9M517.8 163.1L517.8 163.9M521.6 162.6L517.3 162.6M517.8 163.5L517.3 163.5M517.3 162.6L517.3 163.5M521.6 164.6L517.7 164.6M521.6 165.1L517.7 165.1M517.7 164.6L517.7 165.1M517.7 164.9L516.4 164.9M521.6 165.6L516.4 165.6M516.4 164.9L516.4 165.6M517.3 163.1L516 163.1M516.4 165.3L516 165.3M516 163.1L516 165.3M515.8 161.4L514.2 161.4M516 164.2L514.2 164.2M514.2 161.4L514.2 164.2M512.5 156.1L511.7 156.1M514.2 162.8L511.7 162.8M511.7 156.1L511.7 162.8M509.6 152.5L508.4 152.5M511.7 159.5L508.4 159.5M508.4 152.5L508.4 159.5M521.6 166.1L513.5 166.1M521.6 166.6L513.5 166.6M513.5 166.1L513.5 166.6M513.5 166.4L512.3 166.4M521.6 167.1L512.3 167.1M512.3 166.4L512.3 167.1M521.6 167.6L514.3 167.6M521.6 168.1L514.3 168.1M514.3 167.6L514.3 168.1M521.6 168.6L513.5 168.6M521.6 169.1L513.5 169.1M513.5 168.6L513.5 169.1M513.5 168.9L513.1 168.9M521.6 169.6L513.1 169.6M513.1 168.9L513.1 169.6M514.3 167.9L511.8 167.9M513.1 169.3L511.8 169.3M511.8 167.9L511.8 169.3M512.3 166.8L511.4 166.8M511.8 168.6L511.4 168.6M511.4 166.8L511.4 168.6M521.6 170.1L513.2 170.1M521.6 170.6L513.2 170.6M513.2 170.1L513.2 170.6M521.6 171.1L515.1 171.1M521.6 171.6L515.1 171.6M515.1 171.1L515.1 171.6M521.6 172.1L515.8 172.1M521.6 172.7L515.8 172.7M515.8 172.1L515.8 172.7M521.6 173.2L515.7 173.2M521.6 173.7L515.7 173.7M515.7 173.2L515.7 173.7M515.7 173.4L514.7 173.4M521.6 174.2L514.7 174.2M514.7 173.4L514.7 174.2M515.8 172.4L513.7 172.4M514.7 173.8L513.7 173.8M513.7 172.4L513.7 173.8M515.1 171.4L512.7 171.4M513.7 173.1L512.7 173.1M512.7 171.4L512.7 173.1M513.2 170.4L510.8 170.4M512.7 172.2L510.8 172.2M510.8 170.4L510.8 172.2M511.4 167.7L509.6 167.7M510.8 171.3L509.6 171.3M509.6 167.7L509.6 171.3M508.4 156L505.6 156M509.6 169.5L505.6 169.5M505.6 156L505.6 169.5M521.6 176.2L516.1 176.2M521.6 176.7L516.1 176.7M516.1 176.2L516.1 176.7M521.6 175.7L514.4 175.7M516.1 176.4L514.4 176.4M514.4 175.7L514.4 176.4M521.6 175.2L513.3 175.2M514.4 176L513.3 176M513.3 175.2L513.3 176M521.6 177.2L513.7 177.2M521.6 177.7L513.7 177.7M513.7 177.2L513.7 177.7M513.7 177.4L511.9 177.4M521.6 178.2L511.9 178.2M511.9 177.4L511.9 178.2M513.3 175.6L510.8 175.6M511.9 177.8L510.8 177.8M510.8 175.6L510.8 177.8M521.6 174.7L508.7 174.7M510.8 176.7L508.7 176.7M508.7 174.7L508.7 176.7M521.6 179.7L510 179.7M521.6 180.2L510 180.2M510 179.7L510 180.2M521.6 179.2L509.3 179.2M510 179.9L509.3 179.9M509.3 179.2L509.3 179.9M521.6 178.7L508.8 178.7M509.3 179.5L508.8 179.5M508.8 178.7L508.8 179.5M508.7 175.7L508.1 175.7M508.8 179.1L508.1 179.1M508.1 175.7L508.1 179.1M521.6 180.7L516.2 180.7M521.6 181.2L516.2 181.2M516.2 180.7L516.2 181.2M521.6 183.7L518.6 183.7M521.6 184.2L518.6 184.2M518.6 183.7L518.6 184.2M521.6 183.2L518.5 183.2M518.6 183.9L518.5 183.9M518.5 183.2L518.5 183.9M521.6 182.7L518.4 182.7M518.5 183.6L518.4 183.6M518.4 182.7L518.4 183.6M521.6 182.2L517.1 182.2M518.4 183.1L517.1 183.1M517.1 182.2L517.1 183.1M521.6 184.7L519.7 184.7M521.6 185.2L519.7 185.2M519.7 184.7L519.7 185.2M521.6 185.7L519.5 185.7M521.6 186.2L519.5 186.2M519.5 185.7L519.5 186.2M519.7 184.9L519.1 184.9M519.5 185.9L519.1 185.9M519.1 184.9L519.1 185.9M521.6 186.7L518.7 186.7M521.6 187.2L518.7 187.2M518.7 186.7L518.7 187.2M518.7 186.9L518.4 186.9M521.6 187.7L518.4 187.7M518.4 186.9L518.4 187.7M519.1 185.4L518.1 185.4M518.4 187.3L518.1 187.3M518.1 185.4L518.1 187.3M521.6 188.2L519 188.2M521.6 188.7L519 188.7M519 188.2L519 188.7M521.6 189.2L520 189.2M521.6 189.7L520 189.7M520 189.2L520 189.7M521.6 190.2L519.8 190.2M521.6 190.7L519.8 190.7M519.8 190.2L519.8 190.7M520 189.4L519.6 189.4M519.8 190.5L519.6 190.5M519.6 189.4L519.6 190.5M519.6 189.9L519 189.9M521.6 191.2L519 191.2M519 189.9L519 191.2M519 188.4L518.2 188.4M519 190.6L518.2 190.6M518.2 188.4L518.2 190.6M518.1 186.4L517.3 186.4M518.2 189.5L517.3 189.5M517.3 186.4L517.3 189.5M517.1 182.6L516.8 182.6M517.3 187.9L516.8 187.9M516.8 182.6L516.8 187.9M521.6 181.7L515.9 181.7M516.8 185.3L515.9 185.3M515.9 181.7L515.9 185.3M516.2 180.9L514.4 180.9M515.9 183.5L514.4 183.5M514.4 180.9L514.4 183.5M521.6 192.2L519 192.2M521.6 192.7L519 192.7M519 192.2L519 192.7M521.6 191.7L518 191.7M519 192.5L518 192.5M518 191.7L518 192.5M518 192.1L517.1 192.1M521.6 193.2L517.1 193.2M517.1 192.1L517.1 193.2M521.6 194.2L518.2 194.2M521.6 194.7L518.2 194.7M518.2 194.2L518.2 194.7M521.6 193.7L518.1 193.7M518.2 194.5L518.1 194.5M518.1 193.7L518.1 194.5M521.6 195.2L519.2 195.2M521.6 195.7L519.2 195.7M519.2 195.2L519.2 195.7M521.6 196.2L519.1 196.2M521.6 196.7L519.1 196.7M519.1 196.2L519.1 196.7M519.1 196.5L519 196.5M521.6 197.2L519 197.2M519 196.5L519 197.2M519.2 195.5L518.7 195.5M519 196.8L518.7 196.8M518.7 195.5L518.7 196.8M518.1 194.1L517.7 194.1M518.7 196.2L517.7 196.2M517.7 194.1L517.7 196.2M517.1 192.6L516.4 192.6M517.7 195.1L516.4 195.1M516.4 192.6L516.4 195.1M521.6 197.7L516.7 197.7M521.6 198.2L516.7 198.2M516.7 197.7L516.7 198.2M516.7 198L516.4 198M521.6 198.7L516.4 198.7M516.4 198L516.4 198.7M516.4 193.9L515.8 193.9M516.4 198.3L515.8 198.3M515.8 193.9L515.8 198.3M521.6 199.7L517.6 199.7M521.6 200.2L517.6 200.2M517.6 199.7L517.6 200.2M521.6 200.7L517.7 200.7M521.6 201.2L517.7 201.2M517.7 200.7L517.7 201.2M521.6 202.2L518.5 202.2M521.6 202.7L518.5 202.7M518.5 202.2L518.5 202.7M521.6 201.7L518.3 201.7M518.5 202.5L518.3 202.5M518.3 201.7L518.3 202.5M517.7 201L517.5 201M518.3 202.1L517.5 202.1M517.5 201L517.5 202.1M517.6 200L516.3 200M517.5 201.5L516.3 201.5M516.3 200L516.3 201.5M521.6 203.7L518.4 203.7M521.6 204.2L518.4 204.2M518.4 203.7L518.4 204.2M521.6 204.7L519.9 204.7M521.6 205.2L519.9 205.2M519.9 204.7L519.9 205.2M519.9 205L519.3 205M521.6 205.7L519.3 205.7M519.3 205L519.3 205.7M521.6 206.2L519.5 206.2M521.6 206.7L519.5 206.7M519.5 206.2L519.5 206.7M519.3 205.4L518.8 205.4M519.5 206.5L518.8 206.5M518.8 205.4L518.8 206.5M518.4 204L518 204M518.8 205.9L518 205.9M518 204L518 205.9M521.6 203.2L517 203.2M518 205L517 205M517 203.2L517 205M516.3 200.8L516.1 200.8M517 204.1L516.1 204.1M516.1 200.8L516.1 204.1M521.6 199.2L515.1 199.2M516.1 202.4L515.1 202.4M515.1 199.2L515.1 202.4M521.6 207.2L517.2 207.2M521.6 207.7L517.2 207.7M517.2 207.2L517.2 207.7M517.2 207.5L515.9 207.5M521.6 208.2L515.9 208.2M515.9 207.5L515.9 208.2M521.6 208.8L517.5 208.8M521.6 209.3L517.5 209.3M517.5 208.8L517.5 209.3M517.5 209L516.8 209M521.6 209.8L516.8 209.8M516.8 209L516.8 209.8M515.9 207.9L515.2 207.9M516.8 209.4L515.2 209.4M515.2 207.9L515.2 209.4M515.1 200.8L514.9 200.8M515.2 208.6L514.9 208.6M514.9 200.8L514.9 208.6M515.8 196.1L513.8 196.1M514.9 204.7L513.8 204.7M513.8 196.1L513.8 204.7M521.6 210.3L517.2 210.3M521.6 210.8L517.2 210.8M517.2 210.3L517.2 210.8M521.6 211.3L518.2 211.3M521.6 211.8L518.2 211.8M518.2 211.3L518.2 211.8M521.6 212.3L518.5 212.3M521.6 212.8L518.5 212.8M518.5 212.3L518.5 212.8M518.5 212.5L518 212.5M521.6 213.3L518 213.3M518 212.5L518 213.3M518.2 211.5L517.1 211.5M518 212.9L517.1 212.9M517.1 211.5L517.1 212.9M521.6 213.8L518.8 213.8M521.6 214.3L518.8 214.3M518.8 213.8L518.8 214.3M518.8 214L517.7 214M521.6 214.8L517.7 214.8M517.7 214L517.7 214.8M521.6 215.3L517.6 215.3M521.6 215.8L517.6 215.8M517.6 215.3L517.6 215.8M517.6 215.5L517.5 215.5M521.6 216.3L517.5 216.3M517.5 215.5L517.5 216.3M517.7 214.4L517.2 214.4M517.5 215.9L517.2 215.9M517.2 214.4L517.2 215.9M517.1 212.2L517 212.2M517.2 215.1L517 215.1M517 212.2L517 215.1M517.2 210.5L515.7 210.5M517 213.7L515.7 213.7M515.7 210.5L515.7 213.7M521.6 216.8L516.6 216.8M521.6 217.3L516.6 217.3M516.6 216.8L516.6 217.3M515.7 212.1L515.2 212.1M516.6 217L515.2 217M515.2 212.1L515.2 217M513.8 200.4L513.3 200.4M515.2 214.6L513.3 214.6M513.3 200.4L513.3 214.6M514.4 182.2L512 182.2M513.3 207.5L512 207.5M512 182.2L512 207.5M521.6 218.3L515.2 218.3M521.6 218.8L515.2 218.8M515.2 218.3L515.2 218.8M521.6 217.8L513.6 217.8M515.2 218.5L513.6 218.5M513.6 217.8L513.6 218.5M513.6 218.2L512 218.2M521.6 219.3L512 219.3M512 218.2L512 219.3M512 194.8L510.7 194.8M512 218.7L510.7 218.7M510.7 194.8L510.7 218.7M521.6 219.8L512.3 219.8M521.6 220.3L512.3 220.3M512.3 219.8L512.3 220.3M521.6 221.3L514.4 221.3M521.6 221.8L514.4 221.8M514.4 221.3L514.4 221.8M514.4 221.5L513.4 221.5M521.6 222.3L513.4 222.3M513.4 221.5L513.4 222.3M521.6 220.8L511.1 220.8M513.4 221.9L511.1 221.9M511.1 220.8L511.1 221.9M512.3 220L510.4 220M511.1 221.3L510.4 221.3M510.4 220L510.4 221.3M510.7 206.8L508.8 206.8M510.4 220.7L508.8 220.7M508.8 206.8L508.8 220.7M508.1 177.4L505.9 177.4M508.8 213.7L505.9 213.7M505.9 177.4L505.9 213.7M505.6 162.7L505.1 162.7M505.9 195.6L505.1 195.6M505.1 162.7L505.1 195.6M503.6 145.3L501.7 145.3M505.1 179.1L501.7 179.1M501.7 145.3L501.7 179.1M521.6 222.8L517.6 222.8M521.6 223.3L517.6 223.3M517.6 222.8L517.6 223.3M517.6 223L517.5 223M521.6 223.8L517.5 223.8M517.5 223L517.5 223.8M517.5 223.4L516.7 223.4M521.6 224.3L516.7 224.3M516.7 223.4L516.7 224.3M516.7 223.9L515.7 223.9M521.6 224.8L515.7 224.8M515.7 223.9L515.7 224.8M515.7 224.3L514.9 224.3M521.6 225.3L514.9 225.3M514.9 224.3L514.9 225.3M521.6 225.8L514.8 225.8M521.6 226.3L514.8 226.3M514.8 225.8L514.8 226.3M514.9 224.8L513.3 224.8M514.8 226L513.3 226M513.3 224.8L513.3 226M513.3 225.4L511 225.4M521.6 226.8L511 226.8M511 225.4L511 226.8M521.6 227.3L514.3 227.3M521.6 227.8L514.3 227.8M514.3 227.3L514.3 227.8M514.3 227.6L513.7 227.6M521.6 228.3L513.7 228.3M513.7 227.6L513.7 228.3M521.6 228.8L514.5 228.8M521.6 229.3L514.5 229.3M514.5 228.8L514.5 229.3M521.6 230.3L516.7 230.3M521.6 230.8L516.7 230.8M516.7 230.3L516.7 230.8M521.6 229.8L515.6 229.8M516.7 230.6L515.6 230.6M515.6 229.8L515.6 230.6M521.6 231.3L516.1 231.3M521.6 231.8L516.1 231.8M516.1 231.3L516.1 231.8M516.1 231.6L515.6 231.6M521.6 232.3L515.6 232.3M515.6 231.6L515.6 232.3M515.6 230.2L514.8 230.2M515.6 231.9L514.8 231.9M514.8 230.2L514.8 231.9M514.5 229.1L513.4 229.1M514.8 231.1L513.4 231.1M513.4 229.1L513.4 231.1M513.7 227.9L512.2 227.9M513.4 230.1L512.2 230.1M512.2 227.9L512.2 230.1M521.6 232.8L512.4 232.8M521.6 233.3L512.4 233.3M512.4 232.8L512.4 233.3M512.2 229L511.8 229M512.4 233.1L511.8 233.1M511.8 229L511.8 233.1M511 226.1L510.3 226.1M511.8 231L510.3 231M510.3 226.1L510.3 231M521.6 234.3L519 234.3M521.6 234.8L519 234.8M519 234.3L519 234.8M519 234.6L518 234.6M521.6 235.3L518 235.3M518 234.6L518 235.3M521.6 233.8L517.1 233.8M518 234.9L517.1 234.9M517.1 233.8L517.1 234.9M521.6 236.3L518.2 236.3M521.6 236.8L518.2 236.8M518.2 236.3L518.2 236.8M518.2 236.6L518 236.6M521.6 237.3L518 237.3M518 236.6L518 237.3M521.6 235.8L517 235.8M518 237L517 237M517 235.8L517 237M517.1 234.4L515.5 234.4M517 236.4L515.5 236.4M515.5 234.4L515.5 236.4M521.6 237.8L517 237.8M521.6 238.3L517 238.3M517 237.8L517 238.3M521.6 238.8L517.8 238.8M521.6 239.3L517.8 239.3M517.8 238.8L517.8 239.3M517.8 239.1L517.5 239.1M521.6 239.8L517.5 239.8M517.5 239.1L517.5 239.8M521.6 240.8L518 240.8M521.6 241.3L518 241.3M518 240.8L518 241.3M521.6 240.3L517.8 240.3M518 241.1L517.8 241.1M517.8 240.3L517.8 241.1M517.5 239.5L517.3 239.5M517.8 240.7L517.3 240.7M517.3 239.5L517.3 240.7M521.6 241.8L518.7 241.8M521.6 242.3L518.7 242.3M518.7 241.8L518.7 242.3M518.7 242.1L518 242.1M521.6 242.8L518 242.8M518 242.1L518 242.8M521.6 243.8L518.7 243.8M521.6 244.3L518.7 244.3M518.7 243.8L518.7 244.3M521.6 243.3L518.6 243.3M518.7 244.1L518.6 244.1M518.6 243.3L518.6 244.1M518 242.5L517.7 242.5M518.6 243.7L517.7 243.7M517.7 242.5L517.7 243.7M517.3 240.1L517 240.1M517.7 243.1L517 243.1M517 240.1L517 243.1M517 238.1L516.2 238.1M517 241.6L516.2 241.6M516.2 238.1L516.2 241.6M521.6 245.4L518.6 245.4M521.6 245.9L518.6 245.9M518.6 245.4L518.6 245.9M521.6 246.4L518.5 246.4M521.6 246.9L518.5 246.9M518.5 246.4L518.5 246.9M521.6 247.4L518.2 247.4M521.6 247.9L518.2 247.9M518.2 247.4L518.2 247.9M518.5 246.6L517.7 246.6M518.2 247.6L517.7 247.6M517.7 246.6L517.7 247.6M518.6 245.6L517.6 245.6M517.7 247.1L517.6 247.1M517.6 245.6L517.6 247.1M521.6 244.9L517.4 244.9M517.6 246.4L517.4 246.4M517.4 244.9L517.4 246.4M521.6 248.4L517.7 248.4M521.6 248.9L517.7 248.9M517.7 248.4L517.7 248.9M517.4 245.6L517.2 245.6M517.7 248.6L517.2 248.6M517.2 245.6L517.2 248.6M521.6 249.4L517.5 249.4M521.6 249.9L517.5 249.9M517.5 249.4L517.5 249.9M517.2 247.1L516.7 247.1M517.5 249.6L516.7 249.6M516.7 247.1L516.7 249.6M516.2 239.8L515 239.8M516.7 248.4L515 248.4M515 239.8L515 248.4M521.6 250.9L518.3 250.9M521.6 251.4L518.3 251.4M518.3 250.9L518.3 251.4M521.6 252.4L519.4 252.4M521.6 252.9L519.4 252.9M519.4 252.4L519.4 252.9M519.4 252.6L518.8 252.6M521.6 253.4L518.8 253.4M518.8 252.6L518.8 253.4M518.8 253L518.2 253M521.6 253.9L518.2 253.9M518.2 253L518.2 253.9M521.6 251.9L517.9 251.9M518.2 253.4L517.9 253.4M517.9 251.9L517.9 253.4M518.3 251.1L517.8 251.1M517.9 252.7L517.8 252.7M517.8 251.1L517.8 252.7M521.6 254.9L519.5 254.9M521.6 255.4L519.5 255.4M519.5 254.9L519.5 255.4M519.5 255.1L519.2 255.1M521.6 255.9L519.2 255.9M519.2 255.1L519.2 255.9M521.6 256.4L519.4 256.4M521.6 256.9L519.4 256.9M519.4 256.4L519.4 256.9M519.4 256.6L519.2 256.6M521.6 257.4L519.2 257.4M519.2 256.6L519.2 257.4M519.2 255.5L519.1 255.5M519.2 257L519.1 257M519.1 255.5L519.1 257M521.6 257.9L519.5 257.9M521.6 258.4L519.5 258.4M519.5 257.9L519.5 258.4M519.1 256.3L518.8 256.3M519.5 258.1L518.8 258.1M518.8 256.3L518.8 258.1M521.6 254.4L518.5 254.4M518.8 257.2L518.5 257.2M518.5 254.4L518.5 257.2M517.8 251.9L517.4 251.9M518.5 255.8L517.4 255.8M517.4 251.9L517.4 255.8M521.6 259.4L519.8 259.4M521.6 259.9L519.8 259.9M519.8 259.4L519.8 259.9M519.8 259.6L519.6 259.6M521.6 260.4L519.6 260.4M519.6 259.6L519.6 260.4M519.6 260L519.3 260M521.6 260.9L519.3 260.9M519.3 260L519.3 260.9M521.6 258.9L518.4 258.9M519.3 260.5L518.4 260.5M518.4 258.9L518.4 260.5M521.6 261.9L519 261.9M521.6 262.4L519 262.4M519 261.9L519 262.4M521.6 261.4L518.5 261.4M519 262.1L518.5 262.1M518.5 261.4L518.5 262.1M521.6 262.9L518.1 262.9M521.6 263.4L518.1 263.4M518.1 262.9L518.1 263.4M518.5 261.8L517.6 261.8M518.1 263.2L517.6 263.2M517.6 261.8L517.6 263.2M518.4 259.7L517.5 259.7M517.6 262.5L517.5 262.5M517.5 259.7L517.5 262.5M517.4 253.8L516.8 253.8M517.5 261.1L516.8 261.1M516.8 253.8L516.8 261.1M521.6 250.4L516.1 250.4M516.8 257.5L516.1 257.5M516.1 250.4L516.1 257.5M521.6 264.9L519.5 264.9M521.6 265.4L519.5 265.4M519.5 264.9L519.5 265.4M521.6 264.4L518.9 264.4M519.5 265.2L518.9 265.2M518.9 264.4L518.9 265.2M521.6 263.9L518.6 263.9M518.9 264.8L518.6 264.8M518.6 263.9L518.6 264.8M518.6 264.3L517.8 264.3M521.6 265.9L517.8 265.9M517.8 264.3L517.8 265.9M517.8 265.1L517.5 265.1M521.6 266.4L517.5 266.4M517.5 265.1L517.5 266.4M521.6 266.9L518.3 266.9M521.6 267.4L518.3 267.4M518.3 266.9L518.3 267.4M518.3 267.2L517.8 267.2M521.6 267.9L517.8 267.9M517.8 267.2L517.8 267.9M517.8 267.5L517.5 267.5M521.6 268.4L517.5 268.4M517.5 267.5L517.5 268.4M521.6 269.9L518.9 269.9M521.6 270.4L518.9 270.4M518.9 269.9L518.9 270.4M521.6 269.4L518 269.4M518.9 270.2L518 270.2M518 269.4L518 270.2M521.6 268.9L517.5 268.9M518 269.8L517.5 269.8M517.5 268.9L517.5 269.8M517.5 268L517.1 268M517.5 269.4L517.1 269.4M517.1 268L517.1 269.4M517.5 265.8L516.1 265.8M517.1 268.7L516.1 268.7M516.1 265.8L516.1 268.7M516.1 253.9L515.6 253.9M516.1 267.2L515.6 267.2M515.6 253.9L515.6 267.2M515 244.1L514.6 244.1M515.6 260.6L514.6 260.6M514.6 244.1L514.6 260.6M515.5 235.4L513.4 235.4M514.6 252.3L513.4 252.3M513.4 235.4L513.4 252.3M521.6 272.4L518.9 272.4M521.6 272.9L518.9 272.9M518.9 272.4L518.9 272.9M521.6 271.9L518.7 271.9M518.9 272.7L518.7 272.7M518.7 271.9L518.7 272.7M521.6 271.4L518.6 271.4M518.7 272.3L518.6 272.3M518.6 271.4L518.6 272.3M518.6 271.9L517.6 271.9M521.6 273.4L517.6 273.4M517.6 271.9L517.6 273.4M521.6 270.9L517.1 270.9M517.6 272.6L517.1 272.6M517.1 270.9L517.1 272.6M521.6 274.4L517.9 274.4M521.6 274.9L517.9 274.9M517.9 274.4L517.9 274.9M521.6 273.9L516.4 273.9M517.9 274.7L516.4 274.7M516.4 273.9L516.4 274.7M517.1 271.8L516 271.8M516.4 274.3L516 274.3M516 271.8L516 274.3M516 273L515.8 273M521.6 275.4L515.8 275.4M515.8 273L515.8 275.4M515.8 274.2L514 274.2M521.6 275.9L514 275.9M514 274.2L514 275.9M513.4 243.9L512.8 243.9M514 275.1L512.8 275.1M512.8 243.9L512.8 275.1M521.6 276.9L515.8 276.9M521.6 277.4L515.8 277.4M515.8 276.9L515.8 277.4M521.6 276.4L514.6 276.4M515.8 277.2L514.6 277.2M514.6 276.4L514.6 277.2M521.6 277.9L518.1 277.9M521.6 278.4L518.1 278.4M518.1 277.9L518.1 278.4M521.6 279.4L519.2 279.4M521.6 279.9L519.2 279.9M519.2 279.4L519.2 279.9M519.2 279.7L518.9 279.7M521.6 280.4L518.9 280.4M518.9 279.7L518.9 280.4M518.9 280.1L518.4 280.1M521.6 281L518.4 281M518.4 280.1L518.4 281M521.6 278.9L517.7 278.9M518.4 280.5L517.7 280.5M517.7 278.9L517.7 280.5M518.1 278.2L517.1 278.2M517.7 279.7L517.1 279.7M517.1 278.2L517.1 279.7M521.6 281.5L516 281.5M521.6 282L516 282M516 281.5L516 282M517.1 279L515.5 279M516 281.7L515.5 281.7M515.5 279L515.5 281.7M514.6 276.8L514.4 276.8M515.5 280.3L514.4 280.3M514.4 276.8L514.4 280.3M514.4 278.6L513.4 278.6M521.6 282.5L513.4 282.5M513.4 278.6L513.4 282.5M512.8 259.5L511.3 259.5M513.4 280.5L511.3 280.5M511.3 259.5L511.3 280.5M510.3 228.6L507.6 228.6M511.3 270L507.6 270M507.6 228.6L507.6 270M521.6 283L516.8 283M521.6 283.5L516.8 283.5M516.8 283L516.8 283.5M521.6 284L517.6 284M521.6 284.5L517.6 284.5M517.6 284L517.6 284.5M521.6 285L517.3 285M521.6 285.5L517.3 285.5M517.3 285L517.3 285.5M517.6 284.2L516.7 284.2M517.3 285.2L516.7 285.2M516.7 284.2L516.7 285.2M516.8 283.2L515.7 283.2M516.7 284.7L515.7 284.7M515.7 283.2L515.7 284.7M515.7 284L514.2 284M521.6 286L514.2 286M514.2 284L514.2 286M521.6 286.5L514.3 286.5M521.6 287L514.3 287M514.3 286.5L514.3 287M521.6 288L517.8 288M521.6 288.5L517.8 288.5M517.8 288L517.8 288.5M517.8 288.2L517 288.2M521.6 289L517 289M517 288.2L517 289M521.6 287.5L515.9 287.5M517 288.6L515.9 288.6M515.9 287.5L515.9 288.6M521.6 289.5L517.1 289.5M521.6 290L517.1 290M517.1 289.5L517.1 290M515.9 288L515.6 288M517.1 289.7L515.6 289.7M515.6 288L515.6 289.7M521.6 290.5L514.7 290.5M521.6 291L514.7 291M514.7 290.5L514.7 291M515.6 288.9L514.3 288.9M514.7 290.7L514.3 290.7M514.3 288.9L514.3 290.7M514.3 286.7L513 286.7M514.3 289.8L513 289.8M513 286.7L513 289.8M514.2 285L512.3 285M513 288.3L512.3 288.3M512.3 285L512.3 288.3M521.6 291.5L513.1 291.5M521.6 292L513.1 292M513.1 291.5L513.1 292M513.1 291.7L511.8 291.7M521.6 292.5L511.8 292.5M511.8 291.7L511.8 292.5M512.3 286.6L510.9 286.6M511.8 292.1L510.9 292.1M510.9 286.6L510.9 292.1M521.6 293L508.7 293M521.6 293.5L508.7 293.5M508.7 293L508.7 293.5M521.6 295L519 295M521.6 295.5L519 295.5M519 295L519 295.5M519 295.2L518.6 295.2M521.6 296L518.6 296M518.6 295.2L518.6 296M521.6 297L519.1 297M521.6 297.5L519.1 297.5M519.1 297L519.1 297.5M521.6 296.5L518.9 296.5M519.1 297.2L518.9 297.2M518.9 296.5L518.9 297.2M518.6 295.6L518.2 295.6M518.9 296.9L518.2 296.9M518.2 295.6L518.2 296.9M518.2 296.2L517.9 296.2M521.6 298L517.9 298M517.9 296.2L517.9 298M521.6 299L517.7 299M521.6 299.5L517.7 299.5M517.7 299L517.7 299.5M521.6 298.5L516.7 298.5M517.7 299.3L516.7 299.3M516.7 298.5L516.7 299.3M517.9 297.1L516.5 297.1M516.7 298.9L516.5 298.9M516.5 297.1L516.5 298.9M521.6 294.5L516.2 294.5M516.5 298L516.2 298M516.2 294.5L516.2 298M521.6 294L515.2 294M516.2 296.2L515.2 296.2M515.2 294L515.2 296.2M515.2 295.1L514.9 295.1M521.6 300L514.9 300M514.9 295.1L514.9 300M521.6 300.5L515.7 300.5M521.6 301L515.7 301M515.7 300.5L515.7 301M515.7 300.8L513.9 300.8M521.6 301.5L513.9 301.5M513.9 300.8L513.9 301.5M513.9 301.1L513.6 301.1M521.6 302L513.6 302M513.6 301.1L513.6 302M514.9 297.6L513.2 297.6M513.6 301.6L513.2 301.6M513.2 297.6L513.2 301.6M521.6 303L518.2 303M521.6 303.5L518.2 303.5M518.2 303L518.2 303.5M521.6 304L517.7 304M521.6 304.5L517.7 304.5M517.7 304L517.7 304.5M518.2 303.3L517.4 303.3M517.7 304.3L517.4 304.3M517.4 303.3L517.4 304.3M517.4 303.8L516.8 303.8M521.6 305L516.8 305M516.8 303.8L516.8 305M516.8 304.4L516 304.4M521.6 305.5L516 305.5M516 304.4L516 305.5M521.6 302.5L515 302.5M516 305L515 305M515 302.5L515 305M521.6 306L518.2 306M521.6 306.5L518.2 306.5M518.2 306L518.2 306.5M518.2 306.3L517.1 306.3M521.6 307L517.1 307M517.1 306.3L517.1 307M521.6 307.5L517.7 307.5M521.6 308L517.7 308M517.7 307.5L517.7 308M517.1 306.6L516.8 306.6M517.7 307.8L516.8 307.8M516.8 306.6L516.8 307.8M521.6 308.5L517.8 308.5M521.6 309L517.8 309M517.8 308.5L517.8 309M521.6 309.5L518.4 309.5M521.6 310L518.4 310M518.4 309.5L518.4 310M517.8 308.8L517.4 308.8M518.4 309.8L517.4 309.8M517.4 308.8L517.4 309.8M516.8 307.2L516.1 307.2M517.4 309.3L516.1 309.3M516.1 307.2L516.1 309.3M515 303.7L514.2 303.7M516.1 308.2L514.2 308.2M514.2 303.7L514.2 308.2M521.6 310.5L515 310.5M521.6 311L515 311M515 310.5L515 311M521.6 312L515.7 312M521.6 312.5L515.7 312.5M515.7 312L515.7 312.5M521.6 311.5L515.2 311.5M515.7 312.3L515.2 312.3M515.2 311.5L515.2 312.3M515 310.8L513 310.8M515.2 311.9L513 311.9M513 310.8L513 311.9M514.2 306L512.4 306M513 311.3L512.4 311.3M512.4 306L512.4 311.3M513.2 299.6L510.4 299.6M512.4 308.7L510.4 308.7M510.4 299.6L510.4 308.7M508.7 293.2L507.8 293.2M510.4 304.1L507.8 304.1M507.8 293.2L507.8 304.1M510.9 289.4L506.9 289.4M507.8 298.7L506.9 298.7M506.9 289.4L506.9 298.7M521.6 313.5L511.8 313.5M521.6 314L511.8 314M511.8 313.5L511.8 314M521.6 313L510.1 313M511.8 313.8L510.1 313.8M510.1 313L510.1 313.8M506.9 294L506.4 294M510.1 313.4L506.4 313.4M506.4 294L506.4 313.4M521.6 314.5L509 314.5M521.6 315L509 315M509 314.5L509 315M509 314.8L507.7 314.8M521.6 315.5L507.7 315.5M507.7 314.8L507.7 315.5M521.6 316L510.1 316M521.6 316.5L510.1 316.5M510.1 316L510.1 316.5M507.7 315.2L506.8 315.2M510.1 316.3L506.8 316.3M506.8 315.2L506.8 316.3M506.4 303.7L505.9 303.7M506.8 315.7L505.9 315.7M505.9 303.7L505.9 315.7M507.6 249.3L502.3 249.3M505.9 309.7L502.3 309.7M502.3 249.3L502.3 309.7M501.7 162.2L499.3 162.2M502.3 279.5L499.3 279.5M499.3 162.2L499.3 279.5" stroke="#000" stroke-width="0.5" fill="none"/>
<text x="545.5" y="131.7" text-anchor="middle">Control</text>
<path d="M524.6 134.2L566.2 134.2" stroke="#000" stroke-width="1.2"/>
<text transform="translate(580.9 133.4) rotate(-90)" fill="#7f7f7f">Ile932Thr-M</text>
<text transform="translate(595.6 133.4) rotate(-90)" fill="#7f7f7f">Ile932Thr-IC</text>
<text transform="translate(610.3 133.4) rotate(-90)" fill="#7f7f7f">Lys1014Glu</text>
<text transform="translate(629.1 133.4) rotate(-90)" fill="#2a7ec1">Gln1165His Arg1306Lys</text>
<text transform="translate(643.9 133.4) rotate(-90)" fill="#2a7ec1">Gly1098Asp</text>
<text transform="translate(661.6 133.4) rotate(-90)" fill="#92278f">Arg505Gln</text>
<text transform="translate(676.3 133.4) rotate(-90)" fill="#92278f">Glu929Val</text>
<text x="591.7" y="50.3" text-anchor="middle" fill="#7f7f7f">Non</text>
<text x="591.7" y="62.8" text-anchor="middle" fill="#7f7f7f">specific</text>
<path d="M571 68.5L612.2 68.5" stroke="#666" stroke-width="1.3"/>
<text x="631.5" y="7.8" text-anchor="middle" fill="#2a7ec1">NCBRS</text>
<path d="M618.2 9.8L645.4 9.8" stroke="#2a7ec1" stroke-width="1.3"/>
<text x="664.6" y="66.3" text-anchor="middle" fill="#92278f">BIS</text>
<path d="M650.2 68.5L677.5 68.5" stroke="#92278f" stroke-width="1.3"/>
<defs><linearGradient id="ylr"><stop offset="0" stop-color="#fee28c"/><stop offset="0.3" stop-color="#fbb470"/><stop offset="0.55" stop-color="#f46a45"/><stop offset="0.75" stop-color="#e8262c"/><stop offset="0.9" stop-color="#cc1a2c"/><stop offset="1" stop-color="#a81a32"/></linearGradient></defs>
<rect x="586.5" y="324.6" width="91.8" height="4.2" fill="url(#ylr)" stroke="#333" stroke-width="0.6"/>
<text x="524.2" y="331.8">Fold change</text>
<text x="586.3" y="338.7">Less</text>
<text x="681" y="338.7" text-anchor="end">More</text>
<path d="M127.9 460.8L127.9 458.1L127.9 455.5L127.9 452.8L127.8 450.2L127.5 447.5L127.2 444.8L126.9 442.2L126.6 439.5L126.3 436.9L126 434.2L125.7 431.5L125.4 428.9L125.1 426.2L124.8 423.6L124.5 420.9L124.1 418.2L123.8 415.6L123.4 412.9L123 410.3L122.7 407.6L122.3 404.9L121.9 402.3L121.6 399.6L121.2 397L120.8 394.3L120.5 391.6L120.1 389L119.7 386.3L119.4 383.7L119 381L118.6 378.3L118.3 375.7L117.9 373L117.6 370.4L117.2 367.7L116.9 365L116.5 362.4L116.2 359.7L115.8 357.1L115.4 354.4L91.2 354.4L91.5 357.1L91.9 359.7L92.2 362.4L92.5 365L92.9 367.7L93.2 370.4L93.5 373L93.9 375.7L94.2 378.3L94.5 381L95 383.7L95.5 386.3L96 389L96.5 391.6L97 394.3L97.5 397L98 399.6L98.4 402.3L98.9 404.9L99.4 407.6L100.2 410.3L101 412.9L101.7 415.6L102.5 418.2L103.3 420.9L104.8 423.6L106.6 426.2L108.4 428.9L110.1 431.5L111.9 434.2L113.4 436.9L114.9 439.5L116.4 442.2L117.9 444.8L119.4 447.5L121.2 450.2L122.9 452.8L124.6 455.5L125.7 458.1L126.8 460.8Z" fill="#000"/>
<path d="M127.9 460.8L127.9 458.1L127.9 455.5L127.9 452.8L128 450.2L128.3 447.5L128.6 444.8L128.9 442.2L129.2 439.5L129.5 436.9L129.8 434.2L130.1 431.5L130.4 428.9L130.7 426.2L131 423.6L131.3 420.9L131.7 418.2L132 415.6L132.4 412.9L132.8 410.3L133.1 407.6L133.5 404.9L133.9 402.3L134.2 399.6L134.6 397L135 394.3L135.3 391.6L135.7 389L136.1 386.3L136.4 383.7L136.8 381L137.2 378.3L137.5 375.7L137.9 373L138.2 370.4L138.6 367.7L138.9 365L139.3 362.4L139.6 359.7L140 357.1L140.4 354.4L156.8 354.4L156.6 357.1L156.4 359.7L156.2 362.4L155.9 365L155.7 367.7L155.5 370.4L155.3 373L155 375.7L154.8 378.3L154.6 381L154.3 383.7L153.9 386.3L153.6 389L153.3 391.6L152.9 394.3L152.6 397L152.3 399.6L151.9 402.3L151.6 404.9L151.3 407.6L150.8 410.3L150.4 412.9L150 415.6L149.6 418.2L149.1 420.9L148 423.6L146.8 426.2L145.5 428.9L144.3 431.5L143 434.2L141.7 436.9L140.4 439.5L139 442.2L137.7 444.8L136.4 447.5L134.6 450.2L132.9 452.8L131.2 455.5L130.1 458.1L129 460.8Z" fill="#000"/>
<path d="M111.9 435.5h0M118 444.8h0M82.5 384.8h0M103.1 419.7h0M96.1 384.8h0M124.9 456.1h0M97.6 395.8h0M98.6 406.9h0M95.6 394.1h0M107.7 427.5h0M96.5 386.5h0M113.6 440.5h0M101.9 416.1h0M98.9 405.6h0M126.2 459.4h0M115.3 439.8h0M101.1 415.8h0M93.4 392h0M89.7 375.6h0M77.2 367.2h0M120.7 449.8h0M76.7 371.8h0M113.2 435h0M116.8 443.7h0M116.4 441h0M126.7 458.3h0M96.1 409.6h0M112.6 433.3h0M93.2 399.1h0M79 366.4h0M99.9 403.8h0M119.7 445.8h0M111.4 432.5h0M111.4 432h0M96.1 404.7h0M103.3 428.9h0M95.2 392.1h0M86.9 368.2h0M121.7 449.2h0M86.1 365.1h0M102.8 417.8h0M91.3 358.1h0M113.1 434.2h0M85.3 391.2h0M120.9 448.6h0M99.9 409.7h0M109.1 435.6h0M122.3 449.1h0M91 396.5h0M89.6 372.5h0M96.1 383.3h0M123.2 451.8h0M93.5 378.5h0M101.7 414.8h0M104.2 421.2h0M128 459.7h0M100.9 414.8h0M93.4 374.8h0M83.9 390h0M87.7 412.7h0M82.9 385.3h0M102.9 432h0M89.4 371.6h0M93.6 364.5h0M104.2 420.1h0M113.1 434.6h0M94 372.2h0M122.4 448.6h0M103.4 421.1h0M97.1 392.1h0M123 454.5h0M101.4 421.2h0M94.2 403.9h0M98.2 397.1h0M85 356.6h0M93 366.7h0M86.1 356.3h0M124.7 454.4h0M97.4 419.9h0M109.9 434.7h0M97.1 408.6h0M99 398.7h0M102.6 428.6h0M92.6 386.6h0M114.4 439.4h0M98.9 410.1h0M94.8 380.9h0M96 415.3h0M105 421.2h0M118.9 443.7h0M107 430.8h0M95.1 412.7h0M98.6 400.3h0M95.3 394.5h0M127.7 460.3h0M91.6 358.2h0M90.7 362.3h0M78.3 381.7h0M89.1 366.8h0M96.4 383.4h0M74.6 384.9h0M101.9 415.9h0M92.6 361h0M124.2 453.3h0M109.8 439.5h0M106.1 424.2h0M114.2 442.7h0M96.4 384.7h0M104.8 420.5h0M107.3 430.9h0M115.8 440.4h0M114.6 435.9h0M97.2 397.6h0M97.7 408.1h0M95 401.1h0M124.5 456.1h0M127.8 460.1h0M107.9 434.3h0M108.9 428.3h0M86.5 389.5h0M94.3 391.8h0M103.8 419.1h0M99.8 405.8h0M98.3 413.1h0M98.2 394.9h0M95.4 373.6h0M124.8 453.2h0M93 357.4h0M102.2 416.7h0M97.1 392.2h0M83.8 369.7h0M93.2 365.8h0M119.1 451.4h0M121.5 454.2h0M117.3 444.2h0M87.8 358.5h0M92.2 386h0M105.7 428.5h0M118.6 443.5h0M96 405.5h0M102.9 423.3h0M127.2 457h0M116.1 444.6h0M113.9 434.9h0M119.5 446.9h0M89.6 372.3h0M126.2 455.7h0M97.7 400.5h0M101.5 428.4h0M89.4 369.9h0M122.2 451.4h0M105.7 433.6h0M99.4 407.1h0M84.1 358.8h0M123 451.8h0M88.3 390.4h0M108.6 430.5h0M107 424.1h0M97.6 398.1h0M96.3 411.4h0M120.9 451.7h0M97.6 396.7h0M94.2 377.7h0M95.3 381h0M97.5 398h0M126.1 460.5h0M89.9 397.8h0M120.9 448.5h0M99.3 420.9h0M99.3 423.7h0M94.2 365h0M93.5 372h0M79 363.3h0M88.9 375.9h0M98.3 410.8h0M98.8 422.3h0M120.8 447.1h0M110.6 430.6h0M91.6 357.7h0M97.6 400.4h0M107.4 428.5h0M97.3 398.4h0M91.7 411.6h0M90.1 364h0M91.1 361.6h0M120.3 448.7h0M87.6 365.5h0M85.3 365.4h0M84 379.1h0M93.2 378.4h0M117.8 441.9h0M94.8 384h0M89 361.6h0M118 444.7h0M101.9 414.1h0M89.7 361.3h0M95.8 374.8h0M90.4 362.8h0M101.2 415.3h0M110.3 432.6h0M117.8 441.6h0M113.2 433.5h0M77.1 393h0M83.6 368.6h0M127.7 460.1h0M89 377.8h0M112.7 432.8h0M113.6 440.3h0M95.2 385.2h0M120.7 449.8h0M91 401.1h0M94.1 406.2h0M98.5 396.7h0M110.9 434h0M95.5 414.6h0M81.6 368.3h0M120 449.3h0M113.3 434.5h0M94.3 399.1h0M91.1 371h0M121.5 453h0M92.8 402.8h0M92.6 382.3h0M96.6 411h0M88.7 403.3h0M97.7 395.5h0M84.9 402.6h0M108 434.3h0M91 387.5h0M96.5 392h0M95.4 386.7h0M109.2 427.5h0M106.9 425.7h0M80.2 370.7h0M89.3 372.1h0M105.3 425.5h0M114 435.4h0M99.5 404.5h0M122.3 451.5h0M100.9 410h0M106.9 426.3h0M103.7 416.4h0M111.4 436.8h0M91.2 386.6h0M123.7 452.3h0M84.3 369.3h0M80.7 361.3h0M88.3 365h0M87.2 356.4h0M97.1 393.9h0M100.9 422.6h0M89.7 368.7h0M88.3 358.7h0M95.2 407.4h0M102.9 417.7h0M105 424.2h0M82.9 378.7h0M91.3 380.6h0M88.5 370.5h0M92.8 366.9h0M101.6 421.7h0M63.9 386.2h0M91.1 365.3h0M88.9 363.5h0M94.9 406.8h0M92.8 377.2h0M84.6 366.5h0M123.3 452.2h0M97.3 395.8h0M101 414.8h0M100.3 407.4h0M101.2 415.8h0M97 395.4h0M112.9 435h0M94.8 413.5h0M99.1 408.8h0M98.6 404.8h0M82 359.5h0M94.3 368.5h0M99.6 407.8h0M82 355.6h0M80.6 371.2h0M92.1 383.6h0M123.1 450.4h0M96.1 383.9h0M67.2 359.9h0M121.6 448.1h0M92.4 356.7h0M95.2 387.4h0M90.3 355.2h0M97 396.5h0M98.6 413.9h0M117.5 443.1h0M109.3 432.9h0M95 379h0M91 355.6h0M91.4 408.3h0M89.4 385.9h0M85.5 373.2h0M100 417.9h0M99 407.7h0M104.1 430.8h0M109.5 431.9h0M88.3 411h0M89.8 380.8h0M123.8 451.4h0M111.1 430.7h0M100.6 412.3h0M125.7 456h0M114.2 436.2h0M93.5 380.1h0M108 428.6h0M89.9 359.7h0M120.5 448.7h0M87.9 391.2h0M97.8 399.2h0M91.8 365.1h0M126.3 455.1h0M121.1 451.4h0M92.8 374.2h0M123.4 403.4h0M127.4 438.3h0M126.6 439.7h0M127.7 443.9h0M122.3 402.3h0M122.3 396.4h0M124.7 414.9h0M120.1 382.9h0M119.2 381.1h0M126.9 436.4h0M122.3 392.5h0M117.5 362.5h0M153.3 393.4h0M147.7 430.8h0M151.5 399h0M149.2 420.7h0M150.2 415.9h0M140.5 436.6h0M159.4 377.9h0M161.4 364.9h0M143.8 432h0M132.1 457.8h0M154.4 367.4h0M152.1 400.3h0M158.4 399.9h0M134 448.9h0M136.7 446.6h0M157 371.5h0M161.4 401.8h0M170.1 375.6h0M129.3 456.6h0M149.6 409.8h0M163.1 432.4h0M148.9 414h0M151 419.3h0M147.4 422.3h0M149.2 415.1h0M147.4 428.1h0M169.5 392h0M146.4 424.1h0M158 408.9h0M153.5 389.9h0M151.4 400.1h0M131.9 452.3h0M149.8 421.5h0M158.6 378.1h0M153 388.8h0M151.5 394.5h0M157.7 368.1h0M149.2 420.3h0M166.8 362.8h0M143.9 443.2h0M138.7 441.1h0M154.3 359.8h0M137.3 445.5h0M152.2 393h0M127.8 460.2h0M145.9 425.5h0M150 415.2h0M151.3 394.1h0M166.8 364.5h0M160 366.4h0M142.7 437.3h0M128.1 459.3h0M159.2 383.3h0M149.9 402.7h0M169.9 394.4h0M151.3 405.4h0M146.5 439.1h0M155.6 393.8h0M153.1 407.8h0M155.8 396.9h0M161.5 380h0M158.6 392.1h0M145.5 427h0M146 428.3h0M148.3 441.6h0M135.7 446.2h0M139.8 438.7h0M156.3 356.7h0M132.9 452h0M137.7 443.6h0M149.2 416.9h0M132.3 452.8h0M153.4 382.6h0M153.2 397.2h0M128.8 460.7h0M156.6 362.5h0M144.9 428.8h0M153.5 394h0M159 369.5h0M152.3 414.2h0M128.1 459.7h0M161 416.1h0M142.8 438h0M151.4 404.8h0M153.7 389.6h0M147.5 421.2h0M151.4 399.1h0M130.6 458.8h0M155.6 357.3h0M160.7 423.7h0M147.1 435.1h0M152.7 401.9h0M155.1 361h0M143.5 432.7h0M154.8 414.8h0M143.3 436.8h0M148 423.9h0M140.2 446h0M158.6 415.1h0M148.5 415.3h0M132.7 453.7h0M146.3 428.4h0M161.3 389.7h0M158.4 405.8h0M154.2 392.4h0M139.5 437.2h0M150.5 402.5h0M152.2 400.6h0M156.7 380.1h0M151.2 400.9h0M149.8 417.8h0M133.3 454.7h0M152.6 388.8h0M153.7 428.3h0M130.5 455.7h0M157.2 421.8h0M132.7 450.4h0M132.1 453.4h0M151.1 391.6h0M157.2 378.9h0M134.9 451.8h0M160.9 385.9h0M138.5 445.9h0M159.6 391.8h0M149.4 424.7h0M134.9 447.4h0M165.3 354.6h0M160.2 363.5h0M168.2 388.4h0M159.9 356.7h0M137.1 446.7h0M155 380.6h0M152.1 384.4h0M153.2 383h0M152.9 396.9h0M141.5 439.7h0M161.1 380.7h0M157.8 359.9h0M152.4 385.8h0M164.7 360h0M155.3 364.8h0M152.8 421.4h0M154.5 389.5h0M158.5 406h0M157.3 409.4h0M155.5 365.9h0M155.7 365.1h0M163.5 371.1h0M165.5 389.9h0M142.9 432.8h0M161.3 378.8h0M164.8 372.2h0M152.9 391h0M160.3 390.9h0M138.8 443h0M157.7 357.6h0M137.8 441.6h0M146.3 427.7h0M154.2 385.2h0M149.7 417.4h0M139.3 440.7h0M137.7 441.1h0M134 448.8h0M136.5 450.4h0M167.6 402.8h0M154.8 383.2h0M152.1 404.5h0M154.1 365.8h0M159.4 396.6h0M158.6 390.7h0M160.5 359h0M153.4 401h0M155.5 356.7h0M159.2 365.3h0M147.5 420.4h0M151.6 412.1h0M162.1 396.4h0M129.9 455.4h0M146.4 424.6h0M148.9 415.4h0M158.1 406.4h0M129.7 454.9h0M136.9 446.7h0M157.7 403.6h0M160.2 387.1h0M152.2 397.2h0M158.8 363.4h0M158.6 364.4h0M155.4 356.3h0M146.5 424.7h0M154.3 378.6h0M134.2 449.1h0M163.5 376.8h0M154.4 373.5h0M149.8 426.1h0M149.4 419.6h0M159.7 357.2h0M158.9 400.2h0M142.9 439.4h0M146.6 427.1h0M159.4 390.4h0M160.5 393.7h0M144.9 427.9h0M145.1 426h0M134.8 449.4h0M166.1 357.2h0M152 423.9h0M158.8 374.8h0M154.5 383.2h0M151.8 414.2h0M157.4 378.6h0M160 367.5h0M168 392.8h0M156.7 366h0M167.2 358.3h0M150.4 411h0M146.4 425.5h0M154.4 416.8h0M157.1 379h0M155.5 365.1h0M157.7 372.9h0M145.5 444.9h0M144.9 428.4h0M134.9 450.1h0M154.7 372.7h0M132.5 450.1h0M155.2 363.6h0M152.8 396h0M153.5 381.1h0M159.1 394.1h0M140.2 442h0M158.9 355.4h0M128.4 459.5h0M167.2 372.5h0M134.2 450.6h0M142 433.6h0M147.6 426.9h0M142.7 436.9h0M140.4 436.8h0M165 364.4h0M131.3 454.4h0M151.5 390h0M150.2 413.1h0M163.3 377.2h0M152.7 414.2h0M153.2 437h0M138.6 448.3h0M146.8 426.9h0M153.4 382.9h0M135.8 449.1h0M155.5 403.3h0M152.9 393h0M148.3 419.4h0M130.7 458.6h0M147.4 433h0M144.8 438.2h0M151.4 432.9h0M140.5 436.4h0M159 360.4h0M158.8 394.1h0M147.8 419.6h0M139 441.6h0M155.7 372.4h0M152.3 399.2h0M166.2 383.5h0M137.6 447.6h0M154.3 394.3h0M155.2 378.3h0M156.1 355.6h0M159.1 382.5h0M159.1 354.5h0M127.8 459.7h0M154.5 360.4h0M160.8 357.1h0M163.7 382.6h0M159.1 395h0M157.3 372.8h0M150.7 417.9h0M161.9 383.8h0M152.1 400.1h0M150.8 414.5h0M155 357.7h0M150 420.5h0M150.9 406.1h0M151.2 399.9h0M128.5 460.1h0M131.9 453.8h0M141.4 434.8h0M145.5 425.4h0M153.1 391.2h0M148.7 420.3h0M140.2 436.1h0M140.8 438.2h0M151.4 416.3h0M160.1 358.5h0M156.1 361.8h0M141.5 436.3h0M157.5 398.7h0M148.4 420.1h0M154.6 369.9h0M127.1 460.6h0M145.6 436.9h0M155.9 391.7h0M151.2 406.3h0M155.8 372.7h0M161.6 362h0M134.8 448.4h0M147.2 420.5h0M153.5 428.5h0M158.5 386.3h0M164 417.4h0M153 383.2h0M156.1 398.2h0M138.8 443.3h0M132.4 453.3h0M156.4 398.8h0M148.7 426.5h0M149.1 424h0M134.3 448.1h0M157.3 364.6h0M138.5 361.3h0M133.1 393.3h0M128.7 434.3h0M130.6 418.2h0M130.5 421.5h0M127.8 435h0M132.1 415.1h0M137.3 365.2h0M135.7 386.6h0M128.6 439.9h0M128.6 436.5h0M138.1 358.5h0M173.1 297.9h0M179.9 307.5h0M178.8 303.1h0M178.5 306h0M167.5 298.3h0M166.8 303.2h0M166.1 297h0M158.7 298.9h0M163.4 302.2h0M162.5 300.2h0M178.3 307.6h0M168.2 297.3h0M160.9 304.5h0M167.1 307h0M183.8 301.6h0M179.6 300.4h0M178.3 306.7h0M176.9 299.1h0M181.2 305.7h0M183 298.5h0M152.9 296.2h0M159.5 300.2h0M154.2 298.5h0M166.5 301.3h0M165.9 306.1h0M170.5 306.3h0M158.6 306.6h0M168.7 305.5h0M160.1 305.8h0M178.4 300.3h0M175 317.1h0M190 321.8h0M170.1 301.6h0M167.8 313.7h0M194.1 317.9h0M194.2 338.5h0M173.8 325.1h0M174.1 321.9h0M191.3 354h0M169 339.4h0M172.9 307.2h0M179.9 305h0M182.5 333.1h0M185.6 335.4h0M100.3 296.4h0M106.6 300.8h0M97.2 303.6h0M95.3 302.9h0M66.1 310.6h0M78.8 298.2h0M75.3 315.1h0M74.6 339.5h0M71 331.4h0M77 296.7h0M75.2 313.2h0M78.2 350.5h0M77.4 331.5h0M82.2 337.2h0M87.8 303.8h0M85 297.2h0M97.5 426.1h0M80 403.5h0M63.7 355.4h0M79 392.9h0M83 421.2h0M84.7 404.3h0M166.3 431h0M176.1 389.9h0M182.6 361.3h0M171.2 355.6h0M151.8 444.5h0M174.9 408.6h0" stroke="#000" stroke-width="3.0" stroke-linecap="round" fill="none" stroke-opacity="0.5"/>
<path d="M93.5 396.5h0M94.2 405.1h0M92.6 375.6h0M87.6 398.6h0M97.5 399.8h0M95.1 384.4h0M92.9 368.5h0M113.9 435.5h0M102 423.3h0M108.8 428.8h0M101 425.3h0M117.3 441.3h0M119.9 444.2h0M114.9 436.6h0M106.4 428.9h0M115.4 442.6h0M128 460.6h0M115.8 440.5h0M102.6 421.2h0M84.2 365.3h0M116.6 445.5h0M95.8 375.8h0M91.4 395.3h0M93.8 389.1h0M97.2 398.5h0M117.1 442.5h0M99.3 418.2h0M80.4 369.4h0M105.5 425.2h0M91 360.6h0M101.8 423.3h0M95.2 397.2h0M125.6 456.3h0M87.9 377.9h0M108.3 434.2h0M91.8 396.8h0M78.5 358.8h0M89.7 369.5h0M116.2 439.5h0M102.3 421.3h0M121.9 449.1h0M101.3 410.3h0M95.9 393.9h0M89.4 357.2h0M82.7 388.4h0M91.8 384.1h0M81.7 367.3h0M113.7 435.2h0M116.4 440.8h0M84 379.8h0M101.4 409.2h0M86 361.7h0M92.3 362.9h0M93.9 381.3h0M98.9 411.5h0M99 403.8h0M99.6 402.7h0M87.1 380.1h0M96.4 396.7h0M106.3 427.3h0M95.4 389.7h0M106.9 427h0M128.6 460.2h0M91.6 389h0M90.5 355.7h0M95.6 409.2h0M81.3 361.6h0M67.6 376.3h0M79.1 396.8h0M99.7 412.6h0M89.9 356.4h0M98.4 398.6h0M80.2 371.7h0M106.9 423.4h0M97.3 413.8h0M121.6 451.4h0M116.1 439.3h0M111.6 440.2h0M125.1 454.7h0M92.3 389.4h0M86.7 365.2h0M91 370.3h0M78.3 403.2h0M120.7 449.1h0M122.1 450.1h0M92.2 358.4h0M91 357.1h0M95.8 402.9h0M81.4 381.5h0M93 366.7h0M126.1 457.3h0M112.8 436.3h0M93.8 396.8h0M91.6 354.4h0M94.1 364.4h0M92.4 381.6h0M97.4 401.2h0M114.9 439.2h0M103.4 414.9h0M99.6 409.9h0M82 378.2h0M91.5 362h0M106.1 425.4h0M112.7 444.3h0M97.8 390.1h0M121.4 448.7h0M102.3 420.1h0M118.1 448.6h0M96.8 412.8h0M112.1 438.4h0M112.8 437.7h0M100.9 414.2h0M101.8 415h0M94.3 372.3h0M118.1 441.9h0M107.3 429.6h0M120.5 450.8h0M98.7 399.2h0M95.4 375.8h0M86.1 362h0M97.1 400.1h0M112.3 438.4h0M85.3 366.6h0M92.5 356.2h0M105 433.4h0M101.2 408.9h0M121 448.5h0M110.3 436.8h0M92.4 386h0M123.1 454.4h0M87.2 367.7h0M91 358.9h0M92 357.6h0M124.1 453.5h0M94.4 382.1h0M93.9 404.8h0M128.9 460.5h0M83.7 381.7h0M95.1 408.1h0M83.6 361.9h0M90 376.4h0M121.7 452h0M125 453h0M101.4 427.2h0M97.2 405.4h0M91.9 356.6h0M106.8 425.4h0M90.8 363.7h0M101.9 413.6h0M91.8 354.7h0M89.1 396.8h0M114.7 437.2h0M115.5 438.2h0M126.8 458.2h0M93.4 415.1h0M97.5 396.7h0M104.7 423.4h0M84.5 364.2h0M87.9 370.5h0M91.1 367.7h0M96.4 404.4h0M94.9 378.1h0M97.4 406.7h0M81.8 359.7h0M122.6 450.7h0M96.2 393.9h0M93.9 375.5h0M114.3 438.9h0M116.9 439.5h0M95.4 406.3h0M79.8 421h0M87.4 359.3h0M81.8 407.4h0M90.1 373.8h0M116.3 439.6h0M101.2 426h0M112.3 441.6h0M96.3 397.3h0M92.6 359.8h0M109.1 428.5h0M91.9 371.3h0M93.3 370.8h0M96 402.1h0M124.1 456.5h0M89.1 382.9h0M118 445.8h0M116.7 442.1h0M89.9 381.5h0M92.8 358.1h0M98 415.5h0M89.5 370.5h0M95.6 381.2h0M85.3 363h0M123.2 451.3h0M108.9 428.3h0M94.6 378.2h0M80.3 356.7h0M116.4 440.9h0M74.1 355.7h0M128 460.1h0M93.6 405.9h0M96 385.1h0M117.5 442.1h0M95.1 381h0M121.5 448.8h0M104.5 424.4h0M92.4 364.5h0M92.6 386.7h0M91 370.9h0M97.2 401.2h0M121.3 455.3h0M84.2 389.9h0M97.9 403.9h0M105.2 422.4h0M124.8 452.6h0M87.5 357.3h0M87.4 359.2h0M90.3 385h0M95.1 389.7h0M92.7 381.3h0M90.7 400.2h0M116.5 443h0M104.5 425h0M120.9 447.9h0M116 440.2h0M89.8 424.5h0M94.9 410.4h0M106.8 428.1h0M106.4 425.3h0M93.7 371.8h0M113.4 433.7h0M93.1 386.7h0M96.9 395.5h0M95.7 420.9h0M80.5 357.8h0M92.9 401.7h0M99.2 411.4h0M86.1 406.2h0M109.2 428.8h0M103.4 417h0M91.6 370.7h0M117.6 449.5h0M88.7 407.1h0M121.2 449h0M117 441.7h0M101.6 425.7h0M91 392h0M102.3 415.4h0M122.9 451.1h0M128.3 459.7h0M102.8 417.4h0M87.7 381.4h0M127 459.7h0M75.5 357.6h0M87.3 364.3h0M85.4 383.3h0M95.2 375h0M92.4 378.1h0M81.9 361h0M122.2 450.7h0M113.8 434.7h0M96.6 401.7h0M93.4 401.4h0M93.1 387.1h0M104.4 423.8h0M91.3 410.5h0M95.9 401.1h0M94.4 385.2h0M127 459.4h0M123.1 453.5h0M106.2 424.4h0M95.1 384.1h0M95.2 370.9h0M92.8 375.9h0M110.3 430.7h0M128.1 460.3h0M85.2 361.2h0M74.8 359h0M94.7 410.5h0M112.5 443.2h0M95.2 374h0M95.3 421.4h0M105 427.2h0M127.6 458.1h0M125.1 457.3h0M101.2 409h0M90.3 407.9h0M95.8 384.5h0M97.9 421.4h0M111.6 435.1h0M107.3 426.2h0M88.3 385.6h0M92.4 358.6h0M94.1 374.8h0M94.9 382h0M119.8 449.2h0M103.9 432.1h0M95.4 410.4h0M83.4 375h0M97.3 389.2h0M100.3 418.5h0M96.9 419.3h0M91.1 368.4h0M98.8 399h0M114.4 437.8h0M90.9 369h0M98.3 402.7h0M110 433.5h0M95.5 396.3h0M93 360.9h0M95.4 382.8h0M92.5 369.4h0M94.8 406.7h0M95.8 414.5h0M90.5 378.5h0M89.8 407.6h0M97.3 386.4h0M93 364.5h0M77.2 368.3h0M95.5 384.6h0M126.6 435.9h0M124.3 415h0M122.8 406.7h0M126.5 431.4h0M126.2 434.7h0M122.1 396h0M125 422.1h0M116 357.3h0M125 413.7h0M119.3 375.7h0M123.2 407.9h0M121.6 398.6h0M133.5 449h0M139.8 440.5h0M143.3 439.6h0M131.7 453.4h0M159.4 368.7h0M150 437.2h0M147.3 437.3h0M148.4 425.3h0M162.2 382h0M129.1 456.5h0M152.7 394.8h0M148.6 432.5h0M153.6 375.3h0M147.8 419.6h0M145.4 440.8h0M159.9 387.3h0M128.5 458.5h0M167.1 400.3h0M128.6 458.8h0M150.4 423.7h0M153.9 406.5h0M156.3 357.1h0M156.9 404.8h0M159.7 364.8h0M159.9 394h0M141.8 437.1h0M157.2 375.1h0M151.1 414.8h0M152 422.9h0M153.8 394.3h0M168 367.7h0M149.3 418.2h0M151.9 413.9h0M130.9 455h0M162.7 386.1h0M150.5 402.1h0M155.3 416.3h0M151.4 420.7h0M137.2 446.2h0M149 414.4h0M148.9 441h0M161 355.1h0M149.5 413.7h0M139.9 440.1h0M167.8 381.1h0M153.7 376.9h0M156.5 355.2h0M155 379.5h0M161.8 407.2h0M146.5 436.4h0M152.9 396.6h0M150.5 417.2h0M128.4 459.5h0M148.5 417h0M165.9 383.3h0M157.5 355.5h0M133.9 452.3h0M156 392.7h0M142.3 437.5h0M160.2 366.1h0M148.1 435.7h0M139.2 446h0M152.5 402.5h0M155.4 419.5h0M152.2 395.6h0M158.4 394.4h0M153.9 400.2h0M153.6 395.3h0M129.5 455.5h0M134.5 448.1h0M156.9 423.7h0M154.7 375.5h0M173.9 356.9h0M154.4 373.1h0M152.2 385.5h0M127.5 460.2h0M152.3 419.2h0M146.4 428.6h0M149.3 413.1h0M136.6 442.7h0M159.2 361.6h0M143 435.3h0M137.6 443.2h0M154.5 377.8h0M151.3 419.9h0M130.7 458.8h0M139.1 441.7h0M152.2 399.2h0M149.6 413.7h0M156.4 397.6h0M160.1 369.1h0M147.2 423.3h0M165.7 365.9h0M155 412.2h0M151.3 399.1h0M153.7 436.1h0M148.5 420.7h0M151.3 423.2h0M160.3 399.3h0M165.7 374.2h0M129.9 454.8h0M154.4 401.7h0M156.5 359.2h0M128.9 458.2h0M144 436.5h0M154.2 398.7h0M167.4 361.3h0M156.5 359.7h0M153.1 409.2h0M152.5 430.7h0M161 394.7h0M184.5 355h0M155.5 362.1h0M141.1 440.2h0M140.4 437.5h0M129.4 456.4h0M147.5 430.5h0M137.2 450.1h0M150.1 413.4h0M133.5 452.5h0M148.7 417h0M165.1 363.3h0M152.5 395.8h0M146.8 425h0M135.6 446.3h0M158.6 392.2h0M154.6 386.6h0M139.6 447.8h0M159.6 400.7h0M132.9 450.6h0M155.8 382.4h0M149.9 426.7h0M155.3 375.1h0M139 441.1h0M145.1 428.7h0M145.2 434.7h0M162.3 365.5h0M147.1 424.9h0M160.3 383.8h0M162.3 415h0M152 401.4h0M148.8 418.2h0M128.2 459.8h0M147.8 426.4h0M157.2 364.9h0M164 390.4h0M149.8 428.2h0M152.4 393.7h0M138.1 443.2h0M159.5 380.4h0M144.1 431h0M153.3 387.2h0M159.1 365.2h0M160.6 386.7h0M150.2 411.6h0M155.8 414.6h0M157.9 377.9h0M154.3 395.9h0M155.3 387.4h0M152.7 390.3h0M139.6 447.4h0M156.5 385.1h0M136.7 446.3h0M149.4 423.8h0M161.1 374.6h0M130.7 454.4h0M150.6 412.7h0M154.5 383.8h0M154.4 399.1h0M166.8 385.2h0M150.9 420.7h0M139.7 438.7h0M156.9 403.5h0M144.8 431.4h0M148.8 425.2h0M155.9 423h0M149.6 415.4h0M155.6 385.6h0M130 455h0M158.3 376.7h0M157.2 397.9h0M148.2 417.1h0M156.3 397.5h0M156.8 426.5h0M151.7 403.2h0M140.5 438h0M158.1 403.1h0M146.3 423.6h0M168.1 372.8h0M161.7 423h0M168.9 371.8h0M152.1 407h0M153 400.9h0M162.4 376.4h0M160.5 366.5h0M135.6 446.6h0M163.2 374.3h0M157.8 401.6h0M145.7 430.7h0M128.9 460.1h0M140.3 442.8h0M150 420.2h0M158.1 356.1h0M146.6 423h0M155.5 406.2h0M163 385.5h0M150.6 416.5h0M153.3 370.6h0M146.3 425.1h0M146 427.6h0M153.4 374h0M129.1 458.3h0M176.2 370.5h0M173.6 372.6h0M140.4 435.4h0M157.3 379.9h0M150.9 425.1h0M142.5 434.7h0M161.1 362.5h0M151.4 401.6h0M143.3 437.9h0M151.6 391.5h0M155.4 354.4h0M155.4 400.7h0M147.8 438.2h0M158.2 389.6h0M160.4 386.6h0M167 386.4h0M146.1 426h0M151.8 418.5h0M132 453.2h0M149 412.3h0M150.4 411.7h0M145.7 426.7h0M161.9 401.3h0M152.9 392.4h0M149.5 434.8h0M160.4 359.4h0M160 375.8h0M160.2 363.1h0M164.9 420.3h0M162.9 380.6h0M162.1 406.8h0M129.3 457.3h0M140.9 437.1h0M153.4 387.2h0M154.6 399.6h0M148.2 423.4h0M147.2 423.4h0M154.4 379.5h0M130.5 455.2h0M151.9 398.4h0M141.1 447.5h0M138 444.1h0M151 420h0M164.4 368.7h0M149.1 426.2h0M159.7 391h0M131.6 452h0M162.5 358.7h0M132.3 452.2h0M155.1 361.9h0M164.4 387.2h0M153.4 387.5h0M153.8 408.9h0M152.1 404.2h0M160.8 378.7h0M156.3 356.1h0M158.1 360.3h0M150.1 423h0M142.2 432.4h0M153.7 393.7h0M160.7 404.1h0M149.4 409.4h0M158.6 390.6h0M162.5 359.6h0M142.4 434.5h0M157.5 427.8h0M144.7 428.4h0M179.8 357.1h0M153.8 418.9h0M156.3 423.2h0M178 356.1h0M137.9 442.3h0M158.2 389.1h0M151.1 400.4h0M150.1 417.2h0M158.3 363.7h0M155.3 423.8h0M152.4 388h0M155.1 365.4h0M165 356h0M133.9 449.6h0M134.4 446.7h0M161.1 356.2h0M147.1 423.9h0M145.1 431.9h0M160.6 389.5h0M128.2 458.8h0M144 432.7h0M160.2 389.8h0M141.6 436.9h0M161.9 402.6h0M132.4 451.9h0M141.9 435.7h0M151.7 398.2h0M157.9 360.8h0M135.5 445.4h0M162.4 374.6h0M150.5 410.7h0M140.3 441.6h0M152.5 404h0M158.6 419.8h0M159.9 404.4h0M172.2 362h0M145.6 432.2h0M151.3 425.2h0M143.9 433.2h0M148.7 415.4h0M159.1 389.1h0M128 444h0M130.4 425.6h0M139.2 361.5h0M138.9 359.4h0M132 404.6h0M135.5 386.8h0M138.7 366.5h0M134.4 397.6h0M130.3 427.8h0M138.1 362.9h0M133.3 401.8h0M136.7 377.6h0M178.8 306.5h0M168.5 296h0M174 304.8h0M173.6 303.6h0M177.6 296.7h0M170.5 297.2h0M179.2 301.3h0M172.4 305.6h0M178.9 303.3h0M177.5 297.1h0M155.9 305.4h0M179 302.6h0M152.4 306.1h0M156.8 298.8h0M169 299.7h0M159.2 301.5h0M158.5 307.5h0M169.3 297.3h0M174.7 303.2h0M176.7 303h0M166.1 305.6h0M176.3 300.3h0M161.3 304.6h0M152.5 306.7h0M173.1 297.2h0M155.6 298.9h0M168.7 299.4h0M175.2 305.3h0M152.5 300.8h0M161.2 303.7h0M164.7 312.8h0M184.7 345.3h0M170.3 314.4h0M167.7 307.3h0M176.5 330.6h0M190.8 333.5h0M187.4 341.8h0M182.6 329.9h0M189.7 347.4h0M198.9 351.9h0M174.5 319h0M173.7 344.5h0M167.4 354h0M194.4 303.1h0M95.4 302.7h0M105.6 298.4h0M107.6 299.9h0M94.5 298.2h0M81.8 334.9h0M82.1 328h0M71.1 353h0M78.4 338.8h0M79.3 346.7h0M65.6 310.6h0M82.7 326.2h0M85.2 335.5h0M78.9 300.8h0M70.1 338.2h0M88.4 303h0M91.2 295.9h0M73.4 435.8h0M86.7 374.6h0M51.1 364h0M67.8 402.3h0M70.1 381h0M77.8 391.6h0M196.9 402.3h0M211.3 443.2h0M172.4 408.7h0M166.8 407.6h0M178 381h0M180.2 394.3h0M161.3 436.9h0M163.5 437.4h0M85.6 428.9h0M90.1 418.2h0M80.6 399.4h0M93.5 442.5h0M78.6 423.2h0M86.9 430.2h0M85.2 436.4h0M81.6 366.3h0M155.9 442.9h0M170.3 367.7h0M173.1 394.6h0M168.2 439.5h0M170.1 419.6h0M171.7 397h0" stroke="#000" stroke-width="3.0" stroke-linecap="round" fill="none" stroke-opacity="0.5"/>
<path d="M125.9 459.4h0M123.6 454h0M93.5 367.3h0M82 362h0M66.2 369.9h0M89.2 356.5h0M91.3 365.4h0M96.2 405.4h0M127.7 458.4h0M126.7 457.9h0M93.6 369.8h0M89.4 392.5h0M67.4 367.2h0M104.9 430.3h0M92 416.8h0M84.6 375h0M121.7 447.5h0M93.6 401.7h0M98.5 416.1h0M102.1 411.4h0M123.8 451h0M94.3 406.4h0M103.2 421.7h0M85.7 392.4h0M80.1 387.3h0M95.7 378.4h0M100.7 411.1h0M92.3 368.8h0M114.3 438.4h0M94.4 380.2h0M99 400.5h0M100.4 412.1h0M93.3 379h0M116.3 440.7h0M82.9 375.3h0M89.7 378.8h0M89.4 376.5h0M89.2 384.6h0M92.9 386.4h0M114.9 437h0M125.6 454.4h0M105.8 423.9h0M78.4 388.2h0M75.6 363.2h0M89.3 382.1h0M101.5 419.6h0M85.8 365.4h0M93 392.2h0M94 373h0M95.6 396.6h0M93.6 382.6h0M87.4 355.8h0M117.6 441.2h0M107.8 429h0M98.2 422.5h0M112.6 439.1h0M108.7 434.5h0M90.1 372.4h0M118.2 442.6h0M84.7 370.2h0M74.2 365.5h0M120.9 446.8h0M124.6 453.4h0M123.8 455h0M119.6 445.3h0M127.5 458.5h0M81.1 358.3h0M93 404.9h0M83.4 369.1h0M67.8 367.7h0M89.3 402.4h0M101 421.3h0M97.4 388.2h0M116.8 441.3h0M125.2 453.8h0M89.1 361.3h0M119.5 446.7h0M78.1 373.3h0M117.1 441.9h0M93.4 380.9h0M69.4 373.8h0M91.1 369h0M93.8 381.2h0M95.6 383.7h0M90.1 368.4h0M99.6 406.5h0M116.1 443.2h0M126.4 455.8h0M111.1 443.9h0M121.7 452h0M93 357.5h0M106 427.2h0M97.8 405.3h0M92.1 354.5h0M107.3 428.4h0M95.6 406.7h0M98.8 396.8h0M111.8 435.3h0M93.9 380.9h0M102.2 414.8h0M83.7 397.5h0M91 359.8h0M96.1 403.1h0M88.5 363.5h0M102.7 418.4h0M102.1 417.5h0M103.1 420.9h0M93.4 376.2h0M85.9 354.5h0M87 406.5h0M91.4 370.7h0M95 386.5h0M102.9 423.4h0M103.2 429.1h0M98.5 412.4h0M91.8 408h0M110.8 435.4h0M97.4 386.1h0M96 418.6h0M94.6 406.8h0M89.4 366.7h0M92.4 372.9h0M114.1 440.1h0M86.9 360.2h0M95.3 410.5h0M88.1 366.4h0M97.5 398h0M114.9 442.8h0M93.8 372.2h0M92.2 373.3h0M102.9 415.5h0M82.8 375.7h0M76.7 373.8h0M107.9 430.9h0M94.9 402.7h0M115.2 440h0M100.4 421.2h0M86.9 357.9h0M91.3 382.4h0M125.3 460.3h0M106 427.9h0M123 453.4h0M112.6 434.5h0M103 421.1h0M113.4 440.4h0M83 355.6h0M75.4 413.9h0M88.8 356.9h0M98.5 405.2h0M127.7 459h0M109.1 431.7h0M109.8 437.9h0M96 396.6h0M104.7 420.9h0M97 391.4h0M98.3 393.2h0M96.1 407.1h0M88.1 356.7h0M96.5 386.8h0M91.1 382.2h0M102.9 426.9h0M91.6 360.5h0M91.4 391.4h0M88.2 373.6h0M84 397.9h0M108.6 428.7h0M88.3 360.7h0M95.6 391.6h0M95.5 380.7h0M110.4 441h0M111.8 431.8h0M114.7 440.8h0M124.9 453.3h0M99.5 402.9h0M100.5 404.8h0M96.5 406h0M90.6 387.4h0M114.7 439.3h0M121 453.9h0M126.9 455.8h0M94.7 417.8h0M91.1 380.4h0M114.5 441.2h0M110.2 431.3h0M113.8 440.3h0M115.2 437.6h0M109.5 433.1h0M117.9 443h0M91.3 356h0M96.1 401.2h0M82.5 361.3h0M87.4 395.6h0M108 430.7h0M96.3 412.4h0M100.5 407.2h0M85.2 374.5h0M98.4 414h0M105.5 430.2h0M101.5 408.3h0M93.8 385.3h0M100.6 403h0M88.7 380.8h0M117.9 448.1h0M92.5 371.4h0M78.9 366.8h0M127.2 459.6h0M89.7 366.4h0M93.8 400.2h0M95.9 384h0M100.3 412.6h0M101.2 416.3h0M91.6 359.1h0M93.6 374.1h0M84.2 361.6h0M111.6 431.2h0M92.9 355.9h0M116 446.7h0M88.5 390.8h0M104 426.3h0M85.1 372h0M91 369.8h0M93.6 369.9h0M91.9 365.1h0M120.3 445.6h0M119.8 446.6h0M105.6 423.2h0M109.1 429.6h0M73 360.4h0M99.5 416.3h0M120.9 451.2h0M108.8 431.6h0M94.5 383.4h0M124.4 455.7h0M123 450.2h0M100.8 418.4h0M84.4 396.6h0M105.1 423.8h0M94.8 412.4h0M101.9 415.9h0M92.2 387.3h0M105.7 423h0M106.8 424.4h0M104.6 428.1h0M83.3 374.4h0M99.3 402.9h0M95.1 369.8h0M111.5 434.9h0M77.6 356.3h0M119.4 446.4h0M106.8 429.7h0M92.2 380.1h0M88.7 368.8h0M93.6 378.1h0M97.4 387.6h0M116.5 438.8h0M93 373.8h0M101.2 416.8h0M116.7 443.9h0M90.6 385.3h0M77.3 373.4h0M108.9 435.3h0M92.6 355.7h0M122 451.9h0M115.3 447h0M80.4 359.5h0M84.7 374.1h0M90.1 409.2h0M115.2 439.1h0M95 399.2h0M93.6 371.1h0M83.8 384.3h0M107.1 425.4h0M94.3 404h0M103.5 423.1h0M109.8 432.1h0M90 363.1h0M112.8 436h0M126 455.8h0M97.4 390.3h0M91.3 367.6h0M92.5 362.7h0M91.2 364.9h0M93.4 360.5h0M107 434h0M92.6 411.5h0M113.8 439h0M125.4 455.8h0M121.1 447.9h0M94.9 379h0M91.7 375.3h0M100.9 413h0M101.3 424.1h0M91.2 362.7h0M88.8 356.5h0M94.1 371.4h0M112.3 434.8h0M90.8 358.7h0M83.5 388.4h0M120 452.8h0M101.9 411.4h0M85.5 354.9h0M99.3 407.8h0M96.2 387.6h0M99.9 410.1h0M94.9 389.6h0M92.9 385.4h0M99.9 398.8h0M81.6 400.2h0M95.1 384.6h0M88.8 358.6h0M109 441.1h0M109.3 431.4h0M114.5 436h0M88.3 368.7h0M108.4 431.2h0M94.7 399.6h0M94 371.8h0M95.7 393h0M93.2 408.6h0M102.3 423.1h0M125.6 429.3h0M120.7 384.3h0M126.4 424.4h0M123.8 410.6h0M128.5 442.5h0M120.1 379.1h0M116.2 357.6h0M122.5 402.2h0M122.2 383.9h0M122.7 407.9h0M125.1 419.1h0M123.3 403.4h0M137 444.3h0M155.5 355.8h0M138 443.6h0M146.7 422h0M164.1 416.8h0M156.8 409.6h0M151.8 392.4h0M157.7 383.7h0M153.5 382.8h0M143.6 434h0M149.4 410.9h0M156.9 371.8h0M155.5 421.5h0M156.3 357.6h0M157.9 394h0M159.4 396.8h0M154.2 388h0M144.2 433.2h0M140 441h0M158.4 363.8h0M154 393.5h0M154.3 375.3h0M160.5 384.4h0M154 367h0M154.5 404.8h0M152.5 402.7h0M152.5 398h0M151.2 416.1h0M151.5 400.6h0M147.5 427.7h0M158.8 402.7h0M150 406.8h0M131.4 453.4h0M149 426.2h0M153.3 394.5h0M153.3 403.1h0M163.6 355.1h0M154.6 360.3h0M157.1 375.9h0M128.5 460.5h0M127.7 460.7h0M155.6 376.4h0M135.2 446.7h0M173.3 360.4h0M175.3 378.4h0M160 367.2h0M155.5 373.3h0M157.1 374.5h0M128.9 460.5h0M157.9 364h0M155.1 425.5h0M160.7 405.1h0M138.2 441.5h0M151.5 392.1h0M144.5 436.3h0M155.9 360.8h0M152.4 405.6h0M148.9 416.4h0M145 430.8h0M157.7 364.3h0M163.9 371.1h0M142.5 435.5h0M152.9 416.2h0M160.3 375h0M161.1 374.1h0M162.8 403h0M127.3 459.8h0M131.3 456.7h0M172.3 398h0M155.3 413.1h0M137.4 449.5h0M153.8 365.2h0M151.5 405h0M164.4 366.6h0M131.8 454.2h0M162.1 361h0M142 434.9h0M164.6 392.9h0M147.2 422.9h0M154.7 369.7h0M153 413h0M154.4 370.3h0M132.6 451.3h0M140.5 447.6h0M143.9 428h0M158.4 404.8h0M153.5 387.8h0M144.9 428.3h0M153.2 376.6h0M161.4 403.2h0M141.1 438h0M146.9 434.1h0M156.3 378.2h0M148 423.9h0M153.1 381.5h0M152.2 426.1h0M152.7 412.9h0M161.8 357.8h0M162.7 391.1h0M150.1 408.8h0M138.6 442.4h0M149.6 417.1h0M151.6 403.9h0M155.5 385.7h0M156 379.7h0M147.4 422.2h0M133.1 452.3h0M153.4 384.6h0M156.2 415.7h0M158.5 370.9h0M148 440.1h0M136.3 449.7h0M154.8 395h0M153.9 390.9h0M155.3 384.6h0M139.2 439.5h0M149 412.6h0M160 413.1h0M155 393h0M153.6 392.1h0M130.5 453.9h0M155.2 407.3h0M139.7 440.6h0M152.2 391.7h0M167 384.8h0M180.7 366.8h0M148.4 421.7h0M156.9 415.3h0M160.6 405.2h0M141.7 442.4h0M161.4 364.4h0M152 406.3h0M161.9 397.2h0M128.4 458.3h0M154.6 413h0M178.1 366.3h0M155.9 376.1h0M149.5 410.2h0M158 397.2h0M150.9 412.2h0M156.1 378.5h0M152 400.2h0M130.4 455.7h0M154.4 384h0M159.9 390.7h0M163.5 354.9h0M162 357h0M154.2 374.4h0M159.7 355.3h0M140.1 441.4h0M141.7 445h0M151.6 398.1h0M150.5 403.5h0M151.9 404.1h0M129.7 456.6h0M154.4 368.7h0M139.7 440.7h0M163.4 404.8h0M132.3 451.5h0M137.9 447.6h0M154.5 376.2h0M147.6 431.9h0M132.3 453.5h0M155.8 371h0M171.9 391.8h0M159.9 378.8h0M145.8 428.1h0M150.2 399.7h0M164.5 369.2h0M155.8 396.1h0M147.1 422.3h0M158 363.6h0M164.2 407.5h0M153.5 399.4h0M187.8 357.4h0M129.2 458.6h0M153.6 421.1h0M149.7 431.7h0M153.8 375.6h0M166.9 374.4h0M154.6 384.2h0M156.9 360.6h0M159.8 367.4h0M154.2 395.7h0M150.7 430h0M154.8 369.4h0M139.1 442.4h0M151.9 394.2h0M152.6 415h0M157.7 363.3h0M151.7 408h0M149.1 424.1h0M165.4 363.9h0M155 372.6h0M153 399.6h0M153.5 373.8h0M133.4 455.7h0M157.6 418.9h0M130 454.5h0M131.9 453.9h0M149.5 429.2h0M165.2 362h0M163 370.4h0M140.7 440h0M147.6 423h0M167 378.1h0M159.7 386.3h0M152.4 393.4h0M163.2 359.4h0M156.2 388h0M165 357.7h0M150.5 423.6h0M154.2 379.4h0M165.3 367.6h0M139.1 440.8h0M152.1 392.6h0M138.3 440.4h0M158.7 387.6h0M151.2 398.5h0M149.4 421h0M167 367.3h0M151.2 407.6h0M131.9 453.2h0M133.2 451.7h0M152.8 379.2h0M160.7 420.5h0M165.8 358.1h0M154.4 405.3h0M162.2 359.1h0M153.4 395.2h0M147.6 419h0M152.8 388.2h0M159.6 357.3h0M160.8 358.8h0M181.6 360.1h0M158.7 354.4h0M184.9 393.2h0M153.3 393.3h0M132.3 452.5h0M164.5 395.8h0M156.3 413.1h0M139.4 440.5h0M131.2 453.3h0M140 437.5h0M172.1 354.8h0M168.3 370.4h0M155.7 414.2h0M158.6 387.7h0M148.2 417.4h0M151.4 409h0M158.7 389.9h0M158.2 394.5h0M154.2 402.3h0M145.1 430.2h0M166.5 390.9h0M159.1 365.5h0M149.7 416.8h0M156.4 399.9h0M145.8 439.9h0M150.5 410.9h0M143.3 432.8h0M158.4 358.4h0M171.3 354.5h0M135.7 450.7h0M154 372.7h0M152.3 428.5h0M157.8 358h0M159.5 363.4h0M166.2 383.2h0M152.7 388.4h0M163.6 363.3h0M175.6 368.6h0M161.7 367.2h0M155.5 359h0M165.1 373.3h0M150.2 413.2h0M156.8 420.8h0M135.2 454.6h0M152.7 390.4h0M154.1 373.8h0M151.4 400.9h0M161.4 360.7h0M151 417.7h0M163.5 420.4h0M162.8 411.2h0M158.2 356.4h0M157.9 391.8h0M146.2 429.3h0M134.5 448.7h0M135.1 452.3h0M135.1 448.3h0M133.2 449.5h0M162.8 375.3h0M152.5 430.1h0M153.2 395.6h0M143.2 433h0M166.3 361.5h0M129.8 455.4h0M150.2 410.7h0M157.8 362.8h0M151 418.5h0M160 387.2h0M165.9 387.2h0M135.6 446.4h0M169.6 363.3h0M150.6 408.1h0M128.6 458.8h0M147.9 431.8h0M153.5 386.3h0M161.5 381.4h0M151.6 408.1h0M162.7 367.4h0M150.6 410.8h0M148.4 421.7h0M159.7 366.3h0M150.7 400.2h0M183.7 368.2h0M155.3 376.3h0M138.2 444.4h0M145.3 435h0M138 370.9h0M128.7 429.4h0M129.7 431.4h0M136.6 370.2h0M132.7 409.5h0M133.9 400.2h0M138.6 367.3h0M133.7 399.4h0M137.7 362.1h0M134.1 396.1h0M134.7 390.5h0M138.3 355h0M153.6 297.7h0M166.8 302.9h0M161.8 306.9h0M170.4 302.7h0M156.7 307h0M177.8 305.8h0M163.3 304.2h0M178 304.6h0M181.3 303h0M165.1 300.6h0M163.9 300.3h0M172.3 297.8h0M184.5 304.9h0M158.5 304.7h0M176.7 303.3h0M156.8 302h0M172.4 302.4h0M155.8 302h0M182.4 302.3h0M176.4 302.3h0M182.2 298.1h0M159.3 301.6h0M176.5 302.1h0M171.6 304.7h0M165.4 304.1h0M179.8 303h0M155.4 305.3h0M162 301.6h0M168.8 307.5h0M165.9 306.2h0M182.7 312h0M176.9 317.1h0M178.3 311.3h0M196.6 334.9h0M190.1 322h0M198.5 347.7h0M175.2 335.1h0M173.4 312.7h0M176.2 354.3h0M186.3 317.5h0M187.5 305.4h0M170.2 353.6h0M183.2 313.6h0M166.7 318.2h0M96.8 299.5h0M104.6 302.8h0M100.8 298.6h0M97.7 303.8h0M83.5 307.9h0M68.3 334.3h0M85.4 298.3h0M72.5 302.1h0M75.8 351.5h0M83.1 307.9h0M72.8 316.5h0M75.9 330h0M74.3 296h0M73.3 334.9h0M85.1 296.4h0M87.6 298.8h0M82.5 394.3h0M74 406.3h0M67.4 360.3h0M92.9 446.1h0M67.3 366.5h0M70 380.8h0M175.7 360.4h0M179 394h0M176.4 421.9h0M161.2 421.4h0M166.8 443.5h0M175.8 420.9h0" stroke="#000" stroke-width="3.0" stroke-linecap="round" fill="none" stroke-opacity="0.5"/>
<path d="M98.5 435.9h0M110.4 428.7h0M106.3 437.7h0M97.3 389.4h0M92.1 375.6h0M109.3 427.9h0M95.8 405.5h0M99.5 416.6h0M91.5 358.3h0M108.9 427.8h0M86.5 391.6h0M120.7 447h0M76.3 359.7h0M87.3 364.7h0M106.6 424.5h0M87.5 393.9h0M94.4 369.9h0M123.9 452.3h0M111.8 434.7h0M86.4 390.3h0M118.3 441.7h0M80 381.1h0M103.3 416.3h0M121.5 450.6h0M94.6 385.8h0M97.5 409.8h0M91.1 384.4h0M95.7 383.2h0M100.9 419.2h0M89 391.2h0M98 393.7h0M123.6 453.5h0M101.2 417.9h0M87.2 374h0M101.6 420h0M97.3 405.1h0M104.4 422.5h0M79.9 375h0M96.3 391.7h0M94.9 377.5h0M98.4 417.4h0M95.3 383.4h0M127.9 460.4h0M107.1 428.4h0M86.9 401.9h0M96.9 385.2h0M104.8 421.4h0M104.6 436.3h0M92.4 358h0M90 371.9h0M97.7 396.3h0M98.3 403.8h0M108.2 429.5h0M116.8 444.5h0M92.6 411.5h0M83.7 356.6h0M112.7 433.1h0M118.7 442.8h0M87.7 355.2h0M98.9 395.6h0M110.2 440h0M123.6 452.4h0M109.3 432.3h0M113.5 440.6h0M93.2 363.4h0M90.9 377.6h0M111.3 432.5h0M97.1 403.3h0M90.8 356.9h0M98.2 413.8h0M86.9 368.5h0M123.4 452.1h0M102.8 420.6h0M98.3 406.4h0M94.2 415.9h0M123.5 451.7h0M101.1 423h0M90.6 363.6h0M94.6 386.9h0M94 397.2h0M88.2 354.9h0M90.2 398.8h0M90.2 388.6h0M115.7 439.9h0M124.6 453.8h0M83.1 356h0M99.2 406.7h0M112.2 438.3h0M94.8 409.2h0M79.2 412.3h0M97.9 419.5h0M96.9 397.2h0M123.3 454.1h0M101 409.8h0M109.4 428.3h0M94.4 389.1h0M94.8 382.3h0M113.1 435.1h0M110.9 431.8h0M92 392.1h0M80.2 369.8h0M90.6 357h0M99.7 406.8h0M103.7 415.4h0M97.4 397.7h0M94.3 409h0M127.3 459.7h0M91.6 403.3h0M100.3 402.4h0M89.7 385.8h0M97.4 389.6h0M87.1 379.3h0M86.8 360h0M99.1 409.2h0M89.1 390.6h0M106.9 424.3h0M123.3 454.2h0M78.9 371.3h0M86.6 387.7h0M103.6 421.4h0M93.8 366.8h0M87.2 364.6h0M97.2 391.3h0M95.1 370h0M100.3 405.1h0M93.3 374.2h0M90.2 373h0M89.7 356.8h0M123.6 451.5h0M115.6 442.5h0M111.3 434.2h0M99.7 417.4h0M95.8 386.4h0M88.7 393.6h0M109.2 433.5h0M97.8 411.5h0M102 418.5h0M101.5 411.4h0M95.5 377h0M122.5 449.6h0M96.3 398.3h0M93.3 370.4h0M98 402.1h0M90.8 367.9h0M99 400.8h0M121.7 452.7h0M86.9 369.4h0M106.6 424.7h0M114.5 437.8h0M110.6 430.8h0M125.4 454.7h0M89.1 413.7h0M92.3 395.5h0M108.8 433.7h0M115.4 439.2h0M99.9 407.4h0M98.1 398h0M88 391.4h0M117 447.3h0M107.9 429.7h0M92.9 370.6h0M72.3 361.7h0M126.2 456h0M90 363.4h0M113.6 433.7h0M92.9 383.7h0M122.2 451.7h0M82.1 382.8h0M108.3 426.9h0M97 402.8h0M82.5 356.6h0M87.8 363.2h0M104.3 426.2h0M91.2 361.6h0M121.5 450h0M96.9 385.9h0M95.6 405.6h0M115.2 439.7h0M103.3 414.7h0M84.5 370.6h0M97.7 394.2h0M93.2 400.4h0M97.8 404.1h0M109.8 430.1h0M101.8 423.4h0M89.9 370.4h0M112.5 433.3h0M94.2 380.9h0M115.5 445.3h0M99.6 410.8h0M112.8 437.2h0M99.6 408.8h0M114.3 436.8h0M85.7 354.6h0M85.9 359.8h0M127.8 458.2h0M89.2 376.5h0M104.5 426.7h0M95.8 395.9h0M113.7 434.9h0M112.6 434.4h0M85 355.7h0M99.8 410.1h0M111.1 438.3h0M124 452.9h0M108.8 433.7h0M119.8 444.2h0M126.8 456.9h0M96.9 405.5h0M90.4 359.9h0M104.8 422.9h0M90.2 360.6h0M104.6 421.8h0M99.1 395.3h0M120.3 447h0M127.1 457.5h0M115 438.6h0M118.2 441.3h0M110.2 429.8h0M98 419.9h0M91.2 356h0M97.7 398h0M114.6 438h0M128.1 460.8h0M124.3 453.9h0M88.9 378.5h0M103.4 421h0M116 446.2h0M106.7 424.8h0M128.2 460.7h0M107.3 426.7h0M97.1 392h0M81.4 369.4h0M98.8 428.1h0M110.9 433.7h0M100.7 410.5h0M99.4 406.9h0M98.2 398.4h0M108.8 436.3h0M118.4 443.5h0M90.2 364.5h0M97.3 391.6h0M113.2 440.9h0M100 425.4h0M128.2 459.4h0M98.1 418.7h0M84.4 368.4h0M95.5 387.7h0M111.7 436.5h0M121.5 449.4h0M102.4 424.5h0M118.1 442.9h0M93.4 406.4h0M98.1 395h0M79 370.7h0M94.6 376h0M123.9 453.5h0M116.7 439.7h0M84.6 356.8h0M95.6 389.6h0M113.7 440.4h0M92.3 374.9h0M91.7 402.8h0M125.8 457.3h0M91.5 375.2h0M101.4 429.1h0M93 369.9h0M114.6 436.7h0M119.8 445.4h0M105.1 426.8h0M92.4 359.1h0M97.2 397h0M95.1 383.1h0M90.5 360.2h0M126.7 456.6h0M78.5 404.2h0M114.6 437.5h0M93.1 354.7h0M101.3 414.9h0M109.1 435.7h0M93.1 374.6h0M127.4 457h0M86.1 368.1h0M116.8 439.5h0M97 396.5h0M92.1 370.7h0M86.2 375.7h0M123.8 452.5h0M109.5 429.9h0M98 407h0M75.1 361.8h0M113.5 435.9h0M108.2 426.8h0M123.6 455.6h0M101.5 410.7h0M94.7 389.1h0M84.2 383.9h0M86.6 357.3h0M102.5 413.5h0M103.8 422.5h0M90.6 383.4h0M94.8 372.6h0M121.9 453.6h0M88.6 400.1h0M104.5 423.8h0M128.4 459.9h0M116.6 443.9h0M94.2 382.6h0M117.5 441.8h0M113.7 441.5h0M88.2 407.6h0M95.7 403.2h0M98.3 420.9h0M96.7 416.5h0M96.2 381.4h0M93.9 370.6h0M91.5 414.7h0M122.7 451.2h0M92.8 371.6h0M101.2 407.4h0M121.3 392.6h0M125.3 419.9h0M118.7 372.7h0M123.8 412.9h0M117.2 365.2h0M124.4 417.4h0M127.3 438.4h0M123.4 409.1h0M122.6 402.7h0M118.5 368.5h0M126.2 428.4h0M127.1 440.1h0M136.5 445.5h0M150.9 417.8h0M131.9 454.2h0M151 395.8h0M155.4 366h0M158.7 363.6h0M147.7 421.2h0M163.3 367.8h0M153.9 387.4h0M152.9 440.7h0M150.7 406.8h0M149.4 429.4h0M140.3 437.6h0M154.6 383.6h0M153.5 399.1h0M153.7 438.5h0M154.5 370.2h0M157.9 368h0M154.9 404.8h0M151.3 405.3h0M153.5 375.6h0M151.7 416.1h0M158.4 382.1h0M149.6 409.8h0M153.8 385.4h0M154.6 386.5h0M160.5 375.3h0M143.6 434.4h0M147.4 425.4h0M141.2 438.2h0M154.3 369.7h0M145.5 425.4h0M153.4 408h0M154.5 365.6h0M162.3 377.3h0M160.1 356.3h0M143.5 431h0M145.7 429.6h0M143.9 428h0M147 422.6h0M152.6 423.2h0M149.3 431h0M127.9 459.8h0M129.6 456.4h0M146.3 430.1h0M151.2 409.4h0M152.7 400.9h0M141.8 433.3h0M149.2 421.9h0M132.2 452.8h0M155 397.4h0M147.3 426.4h0M152.5 387h0M135.7 447.8h0M131 457.1h0M159.7 362.8h0M153.5 407h0M160.8 363.2h0M134.6 448.7h0M133.2 452.1h0M154.2 406.7h0M142.5 434.6h0M151.1 416.2h0M147.1 430.8h0M134.5 450.8h0M158.9 384h0M170.2 365.9h0M132.9 451.7h0M153.8 372.7h0M157.2 376.3h0M152.7 397.4h0M155.1 385.4h0M149.4 432.6h0M150.3 417.2h0M149.5 412.1h0M152.9 381.9h0M131.1 452.8h0M131.3 452h0M151.2 434.6h0M143.2 441.4h0M136.3 447.7h0M130 455.3h0M157.5 413.7h0M148.8 417.7h0M133.4 450.3h0M154.8 410.6h0M153.8 396.6h0M156.7 357h0M127.7 459.4h0M160.6 385h0M162.7 355.6h0M145.2 426h0M142.5 439.6h0M153.6 405.6h0M158.1 365.6h0M144.4 441.7h0M130.8 456.8h0M156.5 380.5h0M159.6 372.5h0M153.5 374.2h0M160 356.3h0M150.2 404.9h0M155 359.7h0M138.5 441.6h0M156.6 372.1h0M162.6 381.2h0M153.9 369.6h0M159.4 400h0M148.3 421.8h0M157.2 364h0M140.8 444.1h0M149.9 416.7h0M156.9 358.3h0M158.1 392.5h0M156.5 361.4h0M150.1 424.4h0M158.3 359.9h0M135.5 445.6h0M131.6 452.6h0M141.5 437.6h0M137.1 446.5h0M149.9 411.2h0M152.8 403.9h0M154.2 374.2h0M140.2 439.4h0M164 420.9h0M154.5 418.2h0M154.3 373.1h0M140.2 439.7h0M151 412.9h0M140.4 440.7h0M152 410.3h0M129.6 457.8h0M155.1 384h0M141 437h0M157.6 415.9h0M159.5 395.9h0M152.5 398h0M136.3 448.9h0M132.7 452.2h0M156.6 355.1h0M158.5 383h0M150.1 418.5h0M155.7 361h0M157.8 412h0M150.4 404.1h0M143.1 432.6h0M163.9 374.7h0M153.5 386.6h0M155.5 375.2h0M154.1 421.3h0M159.2 374.5h0M151.4 405.4h0M150.2 417.2h0M156.5 384.4h0M162.1 419.9h0M127 460.4h0M153.7 380.5h0M160 363h0M137.8 441.6h0M156.7 377.7h0M140.2 437.2h0M155.7 418.7h0M148.5 415.5h0M142.2 438.1h0M157.3 424.5h0M127.9 458.7h0M165.8 408.9h0M158.4 356.8h0M155.3 375.4h0M151.6 402.6h0M145.7 426.1h0M138.6 442h0M139.6 442.6h0M146.9 424.6h0M132.1 453.4h0M135.9 450.7h0M135.6 451.1h0M155.1 362.6h0M163.2 382.8h0M151.7 394.3h0M135.6 445.8h0M150.5 418.9h0M149.9 421.4h0M149 413.7h0M151.6 400.9h0M162.7 372h0M154.7 400.8h0M175.4 390.8h0M149.7 408.5h0M155.6 370.5h0M162 367.8h0M155 362.6h0M149.5 428h0M155.7 366h0M171.4 366.8h0M156.6 388h0M137.1 444.5h0M150 415.1h0M168.5 359.6h0M162.7 411.1h0M151.1 413h0M153.6 388h0M153.9 376.9h0M138.5 440.9h0M148 424.5h0M146.3 428h0M134.5 451.8h0M145.7 425.8h0M152.7 434.3h0M167.2 381.4h0M153.2 374.3h0M132.7 450.8h0M162.3 363.9h0M146.6 428h0M168.2 374.1h0M151.6 393.2h0M133.2 449.5h0M154.8 367.9h0M151.7 406.4h0M157.1 398.6h0M153.1 400.8h0M159.8 401.5h0M156.6 391h0M153.7 383.3h0M173.5 371.7h0M159.5 363.2h0M153.1 384.8h0M149.9 423.5h0M155.6 375.8h0M155.3 404.7h0M151.1 397.2h0M147.5 426.1h0M142.1 433.9h0M148.1 426.2h0M170 386.9h0M151.1 412.9h0M138.9 441.9h0M137.8 443.4h0M153.4 420.1h0M157.9 413.7h0M132.4 452.3h0M166.5 387h0M149.1 426.7h0M149.4 407.9h0M133.8 450.7h0M141.4 435.2h0M148.8 419h0M166.2 393.6h0M155.3 364h0M154.9 357.7h0M144 433.2h0M138.5 440.2h0M149.7 418.6h0M158.8 367.8h0M142.1 437.4h0M136.7 445.5h0M131.7 457.1h0M145 446h0M153.3 381h0M138.6 441.5h0M137.3 443h0M156.3 415h0M139.4 439.1h0M146.5 431.2h0M139.3 437.5h0M142.5 438.3h0M147.4 432.7h0M133.3 450.6h0M147.9 430.5h0M150.5 408.9h0M132.8 450.1h0M160.6 360.1h0M141 440.2h0M156 375.5h0M143.9 444.8h0M158.1 365h0M153.1 399.6h0M154.6 370.5h0M151.1 405.4h0M128.2 459.8h0M155.9 358.6h0M140.3 444.4h0M154.2 389.9h0M146.8 422.7h0M144.5 434.7h0M145 433.2h0M139.6 443h0M156.1 363h0M148.5 414.8h0M149.1 411h0M145.9 425.1h0M150.3 407.2h0M151.1 396.4h0M153.6 379.5h0M143 432.9h0M149.8 435h0M154.6 414h0M155.7 376.4h0M156.4 376.2h0M157.4 356.3h0M156 411.4h0M148.8 427.3h0M155 392.5h0M161 368.9h0M153.5 394.8h0M157.1 394.7h0M152.5 400.1h0M155.4 430.4h0M159 384.2h0M159.6 357.4h0M151 420.3h0M159.4 386.8h0M158.6 364.2h0M155.1 386.9h0M159.4 369.6h0M150.9 412h0M165.4 399.5h0M153 423.8h0M154.7 376.7h0M136.2 366.8h0M128.2 440.9h0M137.2 374.2h0M134.3 395.9h0M137.7 366.4h0M137.2 374.6h0M126.7 441.9h0M130.4 414.3h0M130.9 419.6h0M137.9 367.6h0M134.4 396.5h0M134.7 388.5h0M181.8 304.4h0M178.7 302.6h0M168.6 304.9h0M165.1 307.4h0M164.8 299.6h0M153.3 305.1h0M171.2 297.9h0M152.6 304.1h0M165.7 302.3h0M183.7 307h0M174 302.5h0M168.2 303.7h0M169 307.5h0M176 297h0M170.1 297.7h0M173.6 306.9h0M163.9 296.7h0M176.3 296.3h0M173.8 305.9h0M179.5 298h0M185.1 296.8h0M185.7 299.3h0M161.9 307.2h0M155.2 307h0M167.4 305.6h0M153 304.2h0M184.4 297.7h0M159.4 301.4h0M166.2 300.2h0M162.6 300.3h0M193 318.2h0M168 304.5h0M172.6 307.6h0M183.7 309.1h0M170.6 304.3h0M181.6 317.1h0M185.1 320h0M182.6 346.1h0M177.8 346.3h0M184 330.9h0M182.2 325h0M172.2 320h0M173.2 325.7h0M173.7 306.5h0M99.1 300.3h0M102.9 301.7h0M94.9 302.7h0M96.5 297.9h0M65.9 324.1h0M83.2 336h0M76.1 336h0M68.5 303.1h0M79.6 339h0M69.6 351.4h0M78.6 320.7h0M81.5 322.1h0M78.8 324.4h0M82.9 300.2h0M91.3 301.4h0M83.6 300.9h0M76.5 396.4h0M75.1 381.8h0M80.6 370.5h0M87.8 409.1h0M101.8 449h0M65.9 377.1h0M160.4 435.9h0M177.2 356.4h0M166.2 391.2h0M184.8 354.6h0M171.9 377.9h0M172.9 385.8h0" stroke="#000" stroke-width="3.0" stroke-linecap="round" fill="none" stroke-opacity="0.5"/>
<path d="M91.4 371.8h0M96.5 410.5h0M96.8 394.1h0M78.1 358.2h0M106 429.5h0M126.8 457.5h0M95.6 401.3h0M93.1 395.3h0M97.2 397.7h0M113.6 435.4h0M114.8 436.9h0M110.7 431.9h0M86.1 381.5h0M79.9 365.4h0M94.5 410h0M111.2 431.9h0M107.5 427.2h0M91 396.5h0M124 453.2h0M90.7 389.8h0M118.4 447.9h0M105.8 426.3h0M90.1 357.3h0M98.2 405.8h0M97.6 398.6h0M84.8 372h0M92.8 369.9h0M92.9 372.1h0M107.8 431.6h0M77.6 380.6h0M98 391.1h0M93.4 403h0M98.7 423.3h0M118.5 445.2h0M78.6 393.4h0M100.4 404.5h0M86.9 403.5h0M96.8 414.3h0M92.8 380.2h0M116 440h0M101.5 417.9h0M89.5 411.3h0M117.9 442.7h0M123.7 451.5h0M103 416.7h0M89.1 380.1h0M92.9 359.1h0M97.5 401h0M122.6 451.7h0M114.2 438.9h0M90.2 354.9h0M75.3 364.7h0M124.9 456.5h0M68.1 356.9h0M109.7 429.2h0M126.2 457.1h0M93.2 394h0M79.4 365.4h0M104.5 423.4h0M96.6 402.3h0M97.4 420h0M123.5 452.3h0M104.7 435.7h0M122.4 455.6h0M57 360.9h0M97.6 403.5h0M90.2 356.7h0M97.2 396.9h0M94.5 407.5h0M95.6 415.5h0M107.5 428.8h0M126.9 457.7h0M110.7 430.3h0M94.5 390.6h0M106 425.5h0M89.8 369.6h0M86.3 369.6h0M117.4 441h0M113.9 437.3h0M124.4 454.8h0M94.9 384.5h0M121.2 450.8h0M97.6 409.9h0M122.3 449.4h0M93.5 360.6h0M93.9 364.7h0M92.6 381.5h0M81.6 359.4h0M94.9 402.9h0M108.2 432.8h0M95.4 389.8h0M126.6 458h0M118.9 450.2h0M103.8 416.7h0M118.1 451.4h0M128.4 460.1h0M112 433.5h0M116 441.8h0M114.7 439.9h0M111.8 440.1h0M119.9 445.4h0M92.4 366.3h0M85.2 361.4h0M112 432.6h0M100 399.6h0M91.8 379.1h0M98.4 408h0M69.8 367.5h0M123.8 451.1h0M88.5 379.3h0M83.7 375.7h0M121.3 453h0M93.2 390.5h0M115.3 439.3h0M128 460.6h0M102.5 422.1h0M91.7 354.7h0M79 395.1h0M111 432.6h0M108.2 436.5h0M67 372.1h0M97.3 401.1h0M98.5 405.1h0M93.9 394.5h0M87.3 379.5h0M104.5 418.1h0M107.3 426.5h0M94.3 373.6h0M100.1 407.6h0M120.1 449.1h0M88 357.5h0M113.3 435.8h0M118.9 449.2h0M94 384.8h0M79.2 389.4h0M85.3 376.2h0M88.5 356h0M88 371.7h0M117.3 440.8h0M117.2 442h0M113.7 439h0M93.3 365.3h0M105.3 424.6h0M118 442h0M116.2 439.3h0M127.1 459.7h0M92.7 387.7h0M93.7 372.1h0M93.7 365.2h0M124.6 452.6h0M99.7 407h0M94.3 379.3h0M91.1 371.1h0M104.6 429.6h0M126.8 458.4h0M92.3 373.1h0M93.1 361h0M109.1 428.4h0M111.2 431.3h0M107.3 433.6h0M104.9 428.5h0M80.1 378.3h0M84.4 354.8h0M108.9 427.6h0M93.3 393.6h0M102.8 423h0M92.8 383.7h0M98.9 418.2h0M115.2 440.6h0M110.3 429.4h0M93 403h0M118.3 444.7h0M95.5 374.8h0M87.8 367.9h0M101.8 410.3h0M80.9 359.5h0M96.2 404.2h0M99.7 420.9h0M85.8 355.1h0M99.5 412.9h0M98.1 394.3h0M109 432h0M68.9 369.5h0M100.9 422.5h0M82.9 377.4h0M92.7 357.5h0M91.1 385.2h0M123.3 452.8h0M82.5 358h0M95.9 411.8h0M98.8 397.4h0M91.5 359.4h0M123.7 454.5h0M127.1 459.6h0M120.2 449.2h0M95 386.8h0M126 455.5h0M87.6 367.3h0M96 410.7h0M103.3 436.6h0M93.7 398.3h0M96.3 426.6h0M97.3 414.3h0M98.6 422.3h0M125.4 457.8h0M104.2 417.1h0M94.5 374.4h0M89.8 356.8h0M110 432h0M97.9 390.7h0M104.9 420.9h0M102.5 418.7h0M81.1 372.9h0M92.2 395.6h0M113.6 436h0M94.8 396h0M106.3 426.5h0M95.6 385.3h0M93.1 380.4h0M97 391.4h0M101.6 417.2h0M93.2 376.5h0M93 362h0M92.5 371.9h0M93.7 363.9h0M87.3 405.9h0M124.7 452.7h0M99.9 405.6h0M92.8 361.1h0M101.6 410.3h0M101.6 410.2h0M97.5 397.8h0M107.2 436.9h0M99.3 418.5h0M104.9 419.5h0M120.9 447.1h0M79.8 361.9h0M82.7 373.2h0M94.1 387.4h0M90.9 366.8h0M91.1 368.2h0M125.6 454.4h0M85 389.2h0M126.4 458.6h0M114.3 441h0M102.8 422.9h0M108.2 427.7h0M127.1 458.2h0M117.5 446.3h0M126.1 457.1h0M92.1 369.4h0M107.4 426.7h0M83 373h0M85.9 370.8h0M108.5 427.2h0M88.7 355.2h0M66.7 390.5h0M94.8 393.1h0M91.6 374.6h0M113.9 436.5h0M90.1 371.6h0M99.3 400.5h0M97.9 421.6h0M120.5 455.8h0M77.7 364h0M100.5 407.1h0M108.5 440.5h0M95.5 403.2h0M92.4 383.8h0M89.4 359.1h0M94.2 379.1h0M96.6 383.1h0M87.1 358.1h0M97 394.6h0M111.8 438.4h0M92.5 368.3h0M109.6 429h0M94.2 376.5h0M101.6 438.4h0M89.9 377.2h0M78.3 373.7h0M96.5 412.3h0M120.4 449.5h0M92.8 400.4h0M93.5 371h0M87.6 370.6h0M120.6 449.2h0M92 362.4h0M97.6 418.7h0M106.7 428.6h0M88.8 362h0M113 434.8h0M93.6 362.6h0M84.7 354.7h0M104.4 421.2h0M95.1 389.8h0M111.2 432h0M95.5 388.3h0M95.7 377.8h0M91.7 403.7h0M85.9 368.8h0M92.2 369.7h0M111.1 434.7h0M90.8 361.7h0M97.3 386.8h0M91.3 421h0M108.1 430h0M95.5 419h0M94.9 389h0M114.8 437.8h0M91.2 359.6h0M89.9 368.4h0M97.8 395.8h0M95.7 434.9h0M106.1 425h0M124 452.8h0M116 441.3h0M83.9 364h0M94.4 367.9h0M116 441.8h0M121 377h0M124 414.1h0M117.7 366.3h0M124.9 419.4h0M124.3 408.7h0M126.7 435h0M120.5 380.2h0M120.3 388.1h0M128.3 441h0M122.2 402.2h0M125.7 427.2h0M116.8 355.2h0M144.5 427.6h0M155 386.9h0M150.6 415.1h0M154.7 395.7h0M158.4 389.6h0M156.4 355.3h0M156.8 360h0M137.3 445.3h0M146.9 426.2h0M133.2 449.5h0M172.5 408.3h0M137.9 442.4h0M153.9 367.7h0M148.6 421.1h0M153.1 382.2h0M152 391.7h0M130.4 453.9h0M132 453.3h0M153.4 404.7h0M145.1 430.9h0M132.4 452h0M141.5 433.6h0M155.9 420.2h0M169.6 387.8h0M146.3 438.9h0M152.6 425.1h0M135.9 446.8h0M162.1 377.9h0M174 379.8h0M158.2 361.3h0M146.5 424.2h0M156.3 364.8h0M152.9 429.5h0M149.2 410.5h0M141.9 436.3h0M152 415.7h0M157.9 383.6h0M151.6 396.6h0M157 355.2h0M157.9 367.8h0M148.2 432.4h0M173.9 365.2h0M155.7 376h0M150 420.7h0M151.8 405.6h0M132.2 451.5h0M146.8 425.5h0M156.4 401.1h0M155.4 396.9h0M153.9 378.6h0M128.1 458.7h0M139 444.8h0M140.2 450.8h0M143.6 438.9h0M153.7 381.6h0M143 432.3h0M141.1 436.5h0M147.6 427.2h0M149.6 421.3h0M154.5 361.9h0M167.5 381h0M169.3 377.6h0M140.5 439.8h0M160.4 396.3h0M155.1 379.6h0M163.5 366.1h0M156.2 394.5h0M160.9 360.4h0M174.7 358h0M149.7 423.2h0M151.6 430.2h0M151.1 416.6h0M154.9 362.9h0M143.8 432.7h0M154.6 377.8h0M155.7 416.8h0M138.6 439.8h0M150.7 421.3h0M154.2 380.1h0M157.7 364.2h0M148.5 416.5h0M138.4 441.2h0M130.7 455.8h0M152.5 396.3h0M152.2 392.4h0M149.9 425.8h0M151.5 393h0M145.6 435.6h0M150.3 401.1h0M151.9 397.7h0M158.6 355.4h0M140.7 438.5h0M154.3 410.3h0M154.1 413.8h0M133.6 454h0M152 423.1h0M157.2 385.5h0M135.7 446h0M158 396.1h0M145.5 430.2h0M152.6 397.6h0M153.2 391.8h0M138.1 444.2h0M154.2 383.4h0M149.5 408h0M149.6 433.4h0M149.4 408.9h0M161 366.8h0M133.9 451h0M159.2 366.4h0M176.9 372.5h0M149 426.5h0M154.8 374.3h0M136.8 442.8h0M149.8 434.8h0M159.7 399.4h0M153.7 402.2h0M148.5 424.5h0M165.4 360.7h0M153.5 402.8h0M155.3 367.3h0M138.8 439.5h0M150.6 427.1h0M152.7 395.6h0M153.4 416.1h0M162.1 376.4h0M138.6 445.7h0M163.9 371.6h0M133.7 449.7h0M161.3 356.6h0M141.5 439.2h0M141.2 435.1h0M156.2 392.7h0M159.3 371h0M150 414.6h0M131.7 454.2h0M173 375.7h0M165 356h0M155.2 358.9h0M155.2 369h0M135.3 448.7h0M153.1 382.1h0M159.1 358.1h0M128.8 456h0M137.5 446.4h0M152.3 398.9h0M152.8 381.3h0M148.4 438.3h0M153.2 404.8h0M154.1 372h0M171.5 367.3h0M150.3 416.9h0M151.7 409.8h0M129.9 455.6h0M128.2 460h0M136.5 447h0M169.7 367.8h0M167.8 373.3h0M150.2 410.3h0M151.2 419.1h0M158.3 393.9h0M157 359.8h0M154.7 374.8h0M157.7 363.9h0M149.8 417.2h0M128.9 459.1h0M146.1 427.6h0M157.6 382.4h0M165.3 393.4h0M153.7 428.1h0M162.8 367h0M149.3 419h0M150.6 417.7h0M161.8 367.9h0M138.6 442.9h0M143.5 432.6h0M130.9 458.3h0M182.6 382.5h0M131.2 452.7h0M157.3 367.2h0M157 354.6h0M149.5 411.2h0M153.8 377.5h0M155.1 408.5h0M136.8 444.4h0M157.9 381.3h0M138.8 445.2h0M138.3 446h0M127.8 459.7h0M154.5 376.7h0M149.6 419.5h0M157 389.5h0M129.4 455.6h0M167.3 419.3h0M155.9 387.5h0M152.4 410h0M130.3 456.6h0M155 387.2h0M143.5 429.3h0M158.2 373.2h0M157.5 394.8h0M156.1 373.6h0M156.1 355.5h0M151.3 393.1h0M130.7 458.3h0M156.5 396.2h0M131.8 458.3h0M150.7 401.8h0M151 423.6h0M149.2 407.5h0M135 451.2h0M148.4 421.5h0M140.6 447.7h0M138.6 440.9h0M162.1 357h0M145.7 434.8h0M154.3 419.3h0M164.3 398.2h0M151 413.3h0M134.6 448.6h0M138.2 444.2h0M155.7 363.1h0M152.3 391.1h0M153.1 391.9h0M153 393.6h0M157.6 365.2h0M151.6 396.3h0M136 445.1h0M145.3 432.1h0M150.6 406.7h0M143.9 433.6h0M154.5 417h0M160.2 415.2h0M154.2 369.3h0M156.7 392.1h0M170.5 358.4h0M155 354.6h0M159 385.7h0M144.6 431h0M153.4 423.7h0M159.5 387.8h0M129.5 458.3h0M130.2 455.6h0M156.3 375.7h0M139.8 437.7h0M162.4 380.8h0M161.3 424.7h0M136 449.1h0M153.8 373.9h0M136 447h0M144.9 427.3h0M152.9 402.3h0M139 444.8h0M155.9 367.2h0M137.8 442.5h0M139.5 440.9h0M147.8 427.1h0M140.8 436.7h0M131.5 452.1h0M149.5 418.2h0M153.4 401.7h0M144.1 434.6h0M153.2 420.7h0M150.3 400.8h0M162.8 354.8h0M154.6 407.1h0M155.5 363.2h0M130.6 459.6h0M159 384.5h0M129.7 458.5h0M155.5 394.3h0M170.1 399.9h0M153 396.9h0M155.2 403.9h0M153.5 390.1h0M127.7 460.5h0M130.3 455.4h0M150.7 415.7h0M157.5 382.4h0M152.2 411.6h0M151.1 405.7h0M182.6 366.7h0M155.3 413h0M150 409.5h0M153.1 380.6h0M152.7 403.7h0M150 419.9h0M159.1 368h0M141.3 434.4h0M136.1 450.5h0M132 453.5h0M153.8 384.5h0M159.4 359.4h0M161.5 381.7h0M158.5 396.3h0M133.5 456.7h0M135.2 446.4h0M133.3 449.6h0M140.4 445.1h0M151.2 399.4h0M169.1 368h0M147.6 431h0M159.7 366.6h0M154.8 372.6h0M153 394.9h0M142.9 438.2h0M156.4 379.8h0M131.8 453h0M157.1 408.8h0M136.8 453.1h0M150.2 402.3h0M157.8 357.9h0M155.5 390.9h0M159.5 369h0M164.1 412.3h0M154.1 387.4h0M154.9 381.4h0M153.3 389h0M132.4 451.8h0M151.9 392.2h0M128 443.7h0M135.4 386.1h0M131.6 407.4h0M129.2 439h0M135.2 388.6h0M131.2 420h0M132.7 398.4h0M130.9 419.1h0M135 387.6h0M139.6 354.7h0M138.7 361.2h0M129.8 430.7h0M174.3 296.1h0M167.4 300.5h0M170.5 297.8h0M174.3 300.1h0M176.2 299.2h0M166.8 299h0M165.7 298h0M181 304.3h0M177.7 304.7h0M178.8 302.2h0M175.8 300h0M153.2 304.6h0M181.8 297.2h0M185.6 301.5h0M169.8 304.3h0M171 307h0M152.9 299.5h0M157.1 297.7h0M160.1 304.1h0M181.5 301.5h0M154.5 298.4h0M185.5 307.3h0M156.8 305.6h0M167.3 307.3h0M163.6 301h0M171.7 302.2h0M176.9 301.9h0M166.9 297.1h0M171.4 306.6h0M154.4 298h0M180.7 345.8h0M181.2 349.6h0M167.2 344.3h0M194.3 344.9h0M193.2 322.9h0M166.4 328.7h0M175.2 340.8h0M180.7 303.3h0M184.4 319.7h0M189.2 327h0M179 301.7h0M173.9 335.7h0M171.7 330.4h0M196.6 312.7h0M102.8 296.4h0M95.4 297.9h0M97.1 300.1h0M102.8 301.3h0M81.7 340.5h0M77.6 304.4h0M78.4 300.4h0M70.4 315h0M77.4 328.7h0M65.7 334.1h0M66.8 326.5h0M68.7 352.4h0M76.4 306.9h0M79.5 304.1h0M87.2 302.3h0M89.3 301.7h0M71.5 385.8h0M101.6 449.2h0M91.3 409.4h0M97.6 428.2h0M100.3 445h0M82.8 415.8h0M162.3 428.2h0M164.7 392.5h0M181.3 384.2h0M174.5 405.7h0M163.2 392.5h0M167.4 375.9h0" stroke="#000" stroke-width="3.0" stroke-linecap="round" fill="none" stroke-opacity="0.5"/>
<path d="M114.6 354.4L112.8 327.8L109.4 311.8L105.7 301.2L100.3 294.3L81.2 294.3L80.1 311.8L82.3 333.1L84.5 354.4Z" fill="#1b75b9"/>
<path d="M80 348.6h0M78.4 310.5h0M84.4 330.5h0M81.4 318.8h0M79.9 313.9h0M80.9 333.6h0M78.3 308.9h0M83 306h0M82.8 351h0M83 328.7h0M83.1 319.1h0M68.3 349.9h0M83 315.9h0M82.6 326.4h0M75.5 318.9h0M79.8 345.8h0M82.5 340h0M81.1 350.3h0M84 309.9h0M80.4 317.1h0M80.4 348.3h0M80.3 330.9h0M84.2 324.3h0M78.3 312.8h0M83.3 316.7h0M80 319.2h0M77.1 307.3h0M69.4 350.4h0M80.2 339.4h0M81.6 316h0M81.5 342.2h0M84.6 327.5h0M82.9 319.5h0M79.6 297.2h0M79.4 326.3h0M62.2 330.4h0M74.8 317.6h0M79.9 338.1h0M77.5 310.7h0M77.7 299.2h0M77.1 321.1h0M79.9 298.4h0M78.5 325.9h0M79.2 333.5h0M81.9 303h0M78.4 335.6h0M83.9 340.4h0M82.9 316.7h0M67.3 333.9h0M74 306h0M86.7 351.8h0M83.9 343.9h0M81.9 345.1h0M76 323.5h0M70.5 298.1h0M83.3 298h0M63.6 298.8h0M84.8 332.2h0M75.9 309h0M84.9 335.9h0M85.3 351.5h0M83.3 298.1h0M80.9 319.7h0M77.3 339.2h0M63.3 297.2h0M79.3 322.3h0M74.4 314.4h0M83.5 313.5h0M75.4 315h0M71.2 297.9h0M78.4 300.6h0M84.2 351.3h0M82.9 341.4h0M85.7 338.5h0M85.9 346.9h0M80.3 334.9h0M81.6 313.4h0M76.6 346.8h0M80 326.8h0M82.1 334.2h0M77.7 305.3h0M83.4 312.9h0M82.7 337.1h0M79.4 327.1h0M86.8 352.9h0M79.3 329.3h0M82.2 321.3h0M84.2 325.6h0M85.3 340.9h0M81.7 307.1h0M76.9 351.3h0M70 310.6h0M83.8 344.3h0M78.4 340h0M66.2 312.5h0M84 336.2h0M80.2 304.7h0M84.3 335.8h0M83.3 313.9h0M86.1 353.3h0M83 317.2h0M81.8 304.2h0M83.2 313.3h0M86 344.3h0M79.7 321.2h0M83.4 302.9h0M74.3 317.4h0M82.3 343.6h0M77.2 316h0M77.9 311.6h0M81.9 320.4h0M85.6 352.5h0M84.2 334.9h0M71.8 307.8h0M78.3 311.4h0M84.1 333.6h0M67.2 340.4h0M62.6 300.2h0M86 353.4h0M81.9 341.1h0M82.7 327.4h0M85.2 350.9h0M84.6 334.1h0M76.8 318.2h0M76.5 315.7h0M78.1 331.5h0M71 313.9h0M79.1 328h0M77.6 349.1h0M77.1 327.9h0M86.3 353.2h0M81.7 305.5h0M74.5 337.3h0M68.9 353.8h0M76.4 319.8h0M68.5 346.2h0M77.2 326.6h0M74.2 315.9h0M83.2 306.4h0M77.1 311.6h0M78.8 320.9h0M83.5 341.4h0M83.3 332.9h0M81.2 303.4h0M80.2 333.1h0M84.7 353h0M80.4 304.1h0M83.5 351.2h0M68.6 303.9h0M69.4 336.9h0M82.9 323.2h0M82.7 304.7h0M81.4 312.2h0M80.8 329h0M51.6 318.7h0M74.2 313.3h0M82 305.2h0M80.7 324.6h0M83.9 344.4h0M83.4 344.5h0M77.6 297.3h0M79.1 321.6h0M81 301.6h0M80.2 302.9h0M83.8 325.8h0M77.9 328.8h0M80.6 346.4h0M83.4 300.3h0M80.1 320.2h0M84.5 351.7h0M77 314.3h0M80.2 303.2h0M79.7 340.9h0M81.7 319h0M84.4 335h0M82.4 324.5h0M80.2 340.7h0M82.2 304h0M73 336.9h0M84.9 350.9h0M85.1 343.7h0M77.3 304.8h0M82.9 312.3h0M82.9 333h0M85.5 343.7h0M85 341.1h0M79.8 307.2h0M77.8 300.1h0M86 348.6h0M83.4 336.4h0M78.5 310.6h0M78.7 320h0M82.1 334.9h0M69 315.8h0M80.5 329h0M82.6 301.4h0M83.8 333h0M81.2 325.7h0M83.3 342.9h0M83.9 326.5h0M79.5 302.5h0M79.8 323.9h0M82.4 337.7h0M82.7 308.4h0M83.7 318.8h0M84.1 327.6h0M73.6 325.9h0M83.8 328.9h0M85.1 346.9h0M68.5 311.1h0M85.4 344.1h0M83.3 312.3h0M73.9 337.5h0M83.2 335.6h0M82.2 332.4h0M83.4 324.7h0M77.7 317.6h0M82.6 326.6h0M79.1 345.5h0M76 340h0M75 312h0M80.8 329.7h0M83.5 330.7h0M81.5 317.3h0M82.7 326.5h0M82.3 337.9h0M83.1 348.3h0M76 336.2h0M82.9 323.1h0M72.7 319.8h0M81.1 325.1h0M83.7 342.5h0M81.8 308.3h0M67.4 346.1h0M79.7 352.8h0M76.3 335.8h0M80.4 312.2h0M76.5 299.6h0M80 348.7h0M82.7 347.6h0M84.3 328.9h0M80.1 348.3h0M82.7 307.5h0M76.1 330.1h0M77 351.9h0M84.6 353.5h0M84.2 333.2h0M83.1 332.4h0M81.6 317.3h0M78.1 353.1h0M82.2 336.4h0M77.5 304.9h0M84.9 342.6h0M77 340.6h0M77.9 336.6h0M76.6 305h0M82.8 351.3h0M82.4 311.6h0M40 329.4h0M48.9 302.8h0M61.2 302.8h0M63.4 322.5h0M64.5 343.8h0M67.8 350.7h0M62.3 331.5h0M58.9 346.4h0M72.3 326.7h0M67.8 302.8h0M71.2 314.5h0M73.4 349.1h0M76.7 338.4h0" stroke="#1b75b9" stroke-width="3.5" stroke-linecap="round" fill="none"/>
<path d="M141.2 354.4L141.7 333.1L143 317.2L146.8 307.6L152.4 302.8L161.3 302.8L163.9 317.2L162.4 338.4L161.3 354.4Z" fill="#1b75b9"/>
<path d="M170.3 324.6h0M166.1 333.6h0M165.1 316.4h0M173 312.4h0M163.3 328.7h0M169.9 320.6h0M162.5 346.1h0M161.3 337h0M161.7 351.8h0M165.5 343.8h0M168.7 308h0M171.1 312.6h0M161.2 353.7h0M166.3 309.9h0M162.5 319.7h0M162.3 315.1h0M163.8 311.1h0M167 339.8h0M185.2 345h0M173.1 312.7h0M167.1 336.9h0M166.4 320.8h0M171.9 309.1h0M164.4 317.9h0M170.8 306.1h0M164.3 329.6h0M165.5 305.5h0M163.3 311.8h0M162.4 307.5h0M163.5 313h0M160.7 333.8h0M164.3 309.7h0M183.5 316h0M166.9 324.6h0M161.2 316.7h0M167.5 346.1h0M173.2 319.5h0M163.3 325.5h0M170.2 304.9h0M161.3 324.3h0M161.6 336.2h0M162.9 338.2h0M162.8 352.3h0M166.9 349h0M161.4 341.5h0M174.2 306.4h0M162.8 323.9h0M162.5 343.1h0M165.7 318.4h0M163.9 313.7h0M163.6 332.9h0M161.4 345.6h0M164.4 325.9h0M162.2 307.9h0M167.2 323.6h0M163.6 315.2h0M162.6 310.3h0M163 332.3h0M163.2 304.1h0M161.9 340.3h0M165.7 349.5h0M170.5 347.8h0M175.9 342.9h0M163.5 340.1h0M164.1 310.8h0M168.5 316.3h0M165.2 305.5h0M161.2 328.1h0M160.8 353.6h0M161.4 315h0M163.3 304.6h0M165.1 337.9h0M164 303.9h0M167.8 305.3h0M164 353.7h0M161.4 335.5h0M164.2 327.5h0M167.4 330.2h0M169.2 327.4h0M162.2 334.6h0M162 341.7h0M173.8 325.4h0M171.2 325.2h0M162.3 332.8h0M167.8 331.5h0M169.5 316.1h0M166.6 334.9h0M167.1 340.3h0M165 349.9h0M167.1 343.8h0M166.8 319.6h0M163.8 326.9h0M180 320.1h0M161.8 315h0M170.9 351.5h0M171.7 309.4h0M162.9 349.2h0M167.8 318.3h0M161.9 326.1h0M171.2 310.6h0M172.3 334.7h0M164.7 323.4h0M163.7 308h0M162.4 319.4h0M165.1 305.8h0M163.9 341h0M163.6 316.4h0M162.6 328h0M162.1 349.2h0M176.5 334.4h0M181.6 338.8h0M162.7 307.2h0M162.8 310.3h0M169.3 327.3h0M163.3 337.8h0M162.9 325.9h0M165 318h0M161.5 325.1h0M169 336.9h0M161.2 325.1h0M168.7 307.6h0M167.8 317.1h0M168.4 332.3h0M166.3 348.1h0M174.5 335.2h0M164.8 334.7h0M173.9 323.1h0M165.7 318.2h0M162.2 330.4h0M161.7 330.9h0M173.5 326.5h0M162.2 324.4h0M161.1 348.2h0M166 339.7h0M163.9 318.1h0M178 320.3h0M162.7 310.8h0M165.3 331.1h0M165.1 307.2h0M165.1 340h0M165.4 316.6h0M165.3 345.2h0M161.5 343h0M172.2 331.7h0M172.2 308.3h0M184.7 310.8h0M163.4 307.4h0M162.9 327h0M163.9 341.7h0M171.5 307.8h0M203.6 351.7h0M190.2 308.1h0M176.9 322.5h0" stroke="#1b75b9" stroke-width="3.5" stroke-linecap="round" fill="none"/>
<path d="M114.9 295.1V466.4M140.9 295.1V466.4M32.1 354.4H224.2" stroke="#000" stroke-width="1.4" fill="none"/>
<rect x="32.1" y="295.1" width="192.1" height="171.3" fill="none" stroke="#000" stroke-width="1.4"/>
<path d="M28.3 460.8H32.1M28.3 434.2H32.1M28.3 407.6H32.1M28.3 381H32.1M28.3 354.4H32.1M28.3 327.8H32.1M28.3 301.2H32.1M38.9 466.4V470.2M83.4 466.4V470.2M127.9 466.4V470.2M172.4 466.4V470.2M216.9 466.4V470.2" stroke="#000" stroke-width="1.2"/>
<text x="23.9" y="464.8" text-anchor="end">0</text>
<text x="23.9" y="411.6" text-anchor="end">1</text>
<text x="23.9" y="358.4" text-anchor="end">2</text>
<text x="23.9" y="305.2" text-anchor="end">3</text>
<text x="37.1" y="484" text-anchor="middle">-4</text>
<text x="81.6" y="484" text-anchor="middle">-2</text>
<text x="127.9" y="484" text-anchor="middle">0</text>
<text x="172.4" y="484" text-anchor="middle">2</text>
<text x="216.9" y="484" text-anchor="middle">4</text>
<text x="127.9" y="499.2" text-anchor="middle">log2 Fold Change</text>
<text transform="translate(9.2 379.1) rotate(-90)" text-anchor="middle" font-size="10.6">-log10 p value</text>
<text x="128" y="290" text-anchor="middle" fill="#2a7ec1">NCBRS vs control</text>
<path d="M361.3 461.3L361.3 458.6L361.3 456L361.3 453.3L361.3 450.7L360.9 448L360.6 445.3L360.2 442.7L359.8 440L359.4 437.4L359.1 434.7L358.7 432L358.3 429.4L357.9 426.7L357.6 424.1L357.2 421.4L356.8 418.7L356.4 416.1L356 413.4L355.7 410.8L355.3 408.1L355 405.4L354.7 402.8L354.4 400.1L354.1 397.5L353.8 394.8L353.5 392.1L353.2 389.5L353 386.8L352.7 384.2L352.4 381.5L352 378.8L351.7 376.2L351.3 373.5L351 370.9L350.6 368.2L350.2 365.5L349.9 362.9L349.5 360.2L349.2 357.6L348.8 354.9L323.4 354.9L323.9 357.6L324.5 360.2L325.1 362.9L325.6 365.5L326.2 368.2L326.7 370.9L327.3 373.5L327.9 376.2L328.4 378.8L329 381.5L329.6 384.2L330.3 386.8L331 389.5L331.6 392.1L332.3 394.8L333 397.5L333.6 400.1L334.3 402.8L335 405.4L335.7 408.1L336.8 410.8L337.9 413.4L339 416.1L340.1 418.7L341.2 421.4L342.3 424.1L343.5 426.7L344.6 429.4L345.7 432L346.8 434.7L348.1 437.4L349.4 440L350.7 442.7L352 445.3L353.3 448L354.8 450.7L356.4 453.3L358 456L359.1 458.6L360.2 461.3Z" fill="#000"/>
<path d="M361.3 461.3L361.3 458.6L361.3 456L361.3 453.3L361.3 450.7L361.7 448L362 445.3L362.4 442.7L362.8 440L363.2 437.4L363.5 434.7L363.9 432L364.3 429.4L364.7 426.7L365 424.1L365.4 421.4L365.8 418.7L366.2 416.1L366.6 413.4L366.9 410.8L367.3 408.1L367.6 405.4L367.9 402.8L368.2 400.1L368.5 397.5L368.8 394.8L369.1 392.1L369.4 389.5L369.6 386.8L369.9 384.2L370.2 381.5L370.6 378.8L370.9 376.2L371.3 373.5L371.6 370.9L372 368.2L372.4 365.5L372.7 362.9L373.1 360.2L373.4 357.6L373.8 354.9L391.4 354.9L390.9 357.6L390.4 360.2L389.9 362.9L389.4 365.5L388.8 368.2L388.3 370.9L387.8 373.5L387.3 376.2L386.8 378.8L386.3 381.5L385.8 384.2L385.3 386.8L384.8 389.5L384.3 392.1L383.8 394.8L383.3 397.5L382.8 400.1L382.4 402.8L381.9 405.4L381.4 408.1L380.7 410.8L380.1 413.4L379.5 416.1L378.9 418.7L378.2 421.4L377.6 424.1L377 426.7L376.4 429.4L375.8 432L375.1 434.7L374 437.4L372.8 440L371.6 442.7L370.5 445.3L369.3 448L367.8 450.7L366.2 453.3L364.6 456L363.5 458.6L362.4 461.3Z" fill="#000"/>
<path d="M327.6 395h0M335.1 400.2h0M313.4 356.8h0M358.4 454.4h0M320.2 381.5h0M341.5 423.6h0M334.1 403.3h0M325.6 373.4h0M349.8 445.4h0M307 356.1h0M338.6 422.6h0M323.9 374.4h0M349.6 443.6h0M331 384.6h0M351.4 440.7h0M358.8 457.5h0M306.6 359.5h0M335 430.3h0M353.5 448.3h0M343.6 430.1h0M325.6 382h0M324.3 364.3h0M334.6 410.4h0M317.7 355.1h0M333.5 395.1h0M343.1 421.5h0M348.4 436.4h0M329.8 376.6h0M348.4 436.3h0M341.1 419.2h0M353 444.8h0M320.1 361.5h0M326.7 418.6h0M362 460.6h0M348.7 435.4h0M345.4 427.9h0M344.4 428.6h0M333.4 399.9h0M325.9 380.5h0M330.5 389.4h0M345.1 426.1h0M336.5 412.2h0M327.9 410h0M331.2 395.5h0M325.7 395h0M316.3 356.8h0M328.3 399.5h0M333.3 396.3h0M342.3 420.2h0M349.8 437.4h0M360.5 458.1h0M323.3 370.8h0M322.5 383h0M330.4 382.3h0M346.1 429.8h0M336.6 406.1h0M329.7 375h0M337.8 431.6h0M333 417.3h0M345.5 432.5h0M333.7 397.6h0M331.1 386.6h0M331.9 410.1h0M335.4 413.4h0M334.7 405h0M347.1 446h0M325.9 365.8h0M329.3 396.3h0M328.3 371.5h0M356.2 451.9h0M334.5 408.8h0M317.1 393.1h0M339.4 417.9h0M339.5 417h0M320.9 356.3h0M335.4 405h0M354.4 447h0M333.7 399.5h0M327 368h0M322.4 372.2h0M332.8 404.4h0M328.4 399.4h0M359.6 455.3h0M321.7 385.1h0M341.9 429.4h0M322.2 369.8h0M324.5 388.7h0M361.5 460.7h0M321.7 363.5h0M354.8 451.3h0M333.9 406.7h0M333.2 424.5h0M346.4 430.9h0M325.7 367.8h0M343.1 431h0M334 394.8h0M351.9 442.9h0M332.2 399.5h0M316.1 356.1h0M320.1 372.4h0M322.4 364.3h0M325.9 382.1h0M349.3 437h0M331.5 387.8h0M344.7 428.1h0M347 432.6h0M337.5 409.7h0M329.7 395.7h0M323.8 384.5h0M327.4 369.8h0M331.3 404.7h0M345.2 441h0M353.4 445.5h0M333.8 414.6h0M361.3 460.6h0M337.1 410.7h0M360.4 458.2h0M333.9 399.8h0M351.3 442h0M314.1 372.2h0M346.8 432.9h0M339.4 415.8h0M358.8 456.4h0M321.3 362.3h0M341.8 423.2h0M327.2 372.7h0M331.2 399.4h0M326.6 381.6h0M347.7 438.4h0M332 402.9h0M330.1 391.5h0M322.8 404.6h0M330.4 408.3h0M318.6 396.4h0M331.8 399.4h0M329.1 386.7h0M328.7 383.7h0M356.2 450h0M345.4 430.3h0M328.5 411.1h0M361.6 460.7h0M330.1 390.6h0M351.1 446h0M324.3 364.2h0M346 431.7h0M336.4 408.4h0M332.5 404.1h0M351.4 446.1h0M330.6 386.2h0M358.5 453.4h0M335.4 409.1h0M340.3 420.8h0M310.5 389.6h0M327.8 378.2h0M336.5 408.4h0M336.1 416.2h0M356.1 450.2h0M330.7 407.3h0M350 447.5h0M344.8 437.3h0M319.6 355.6h0M343.1 439.5h0M325.6 378h0M328.5 419.5h0M328.9 380.3h0M325.9 357.7h0M323.7 360.5h0M329 388h0M333.9 412.7h0M354.2 447.9h0M350.1 439h0M359.7 458.5h0M325.7 372.9h0M343.8 424.9h0M318.6 371.4h0M332.2 398.6h0M344.8 428.7h0M312.3 366h0M328.8 385.5h0M322.8 398.8h0M351.8 443.6h0M331.6 385h0M340.8 425.2h0M349.4 438.3h0M343.7 430.3h0M334.7 400.6h0M325.8 365.2h0M325.9 398.8h0M324.6 358.9h0M337.5 412.7h0M332.1 400h0M331.3 382.9h0M324.6 363.9h0M297.2 357.1h0M324.7 360.4h0M323.3 368.5h0M319.8 361.5h0M326.7 368.2h0M326.2 358.8h0M331.1 382.6h0M334.4 404.4h0M314.3 371.5h0M325.8 384.9h0M356 454h0M352.8 446.1h0M330.7 381.4h0M331 413.3h0M338.9 420.6h0M326.8 364.9h0M337.1 407.4h0M350.3 443h0M342.7 438.8h0M331.5 386.8h0M359.3 457.6h0M321 368.6h0M326.7 368.1h0M319.8 380.2h0M324.9 366.5h0M348.2 440.1h0M333.5 405.7h0M321.3 409.9h0M320.7 369.1h0M321.6 404.1h0M327.9 373.9h0M321.9 367.5h0M350.1 444.8h0M331.3 384.7h0M324.6 362.2h0M316 415.6h0M328.5 383.2h0M349.1 443.3h0M320.6 369.2h0M339.4 417.5h0M312.6 393.9h0M321.4 377.2h0M316.9 371.3h0M310.9 368.7h0M335.1 429.4h0M331.1 437.8h0M349.7 436.5h0M336.1 409.9h0M357 452.5h0M323.3 360.6h0M350.8 443.3h0M325.7 362h0M331.7 406.6h0M349.5 438.7h0M352.2 444.2h0M326.8 363.8h0M354.1 450.1h0M344.4 426.4h0M339.1 425.2h0M339.3 423.9h0M327.1 364.4h0M315 358.6h0M324.4 366.9h0M325.5 356h0M329.2 384.4h0M327.3 396.5h0M318.8 377.8h0M318.4 375.6h0M355.3 450h0M325.8 395.5h0M326.6 396.8h0M354.5 453.8h0M321 380.9h0M332.3 396h0M319 358.4h0M361.6 460.6h0M358.5 456.5h0M345.7 428.4h0M320.4 373.1h0M327.1 364.3h0M315.2 367.1h0M316.9 355.3h0M318.3 403.1h0M352.6 444.6h0M331 390h0M320.4 386.8h0M352.4 446.5h0M334.5 397.2h0M337 412.3h0M341.2 434.3h0M318.6 356.9h0M320.3 387.9h0M340.6 416.8h0M338.8 423.9h0M337.2 412.7h0M359.6 457h0M354.9 452.2h0M323.7 382.3h0M337 413.8h0M330.7 398.2h0M349.3 436.8h0M325.3 385.9h0M354.7 450.3h0M347.8 436.3h0M346.3 431.5h0M330 401.1h0M321.1 358.4h0M360 428.4h0M359 422.9h0M355.8 409.8h0M352.4 369.5h0M352 359h0M357.8 414.7h0M352.6 371h0M353.1 363.5h0M356.3 412.7h0M355.5 396.5h0M358.4 425h0M356.4 408.2h0M387.2 387h0M368 449.6h0M394.1 358h0M380.6 414.5h0M381.9 415h0M382.5 396.1h0M381 403.5h0M386.4 412.9h0M379.3 410.8h0M393 368.6h0M381.4 410.4h0M387.4 395.9h0M392.5 357.6h0M369.1 444.1h0M390.5 376.7h0M384.7 381.2h0M377.8 429.2h0M377.7 429.2h0M364.4 456.7h0M385.7 378.1h0M387.1 396.5h0M387 372.8h0M392.9 356.2h0M363.4 454.6h0M369.3 444.2h0M387.8 374.2h0M389.6 393.7h0M380.7 418.1h0M381.7 408.3h0M363.6 455.6h0M385.1 402.7h0M387.4 378.5h0M367.4 449.3h0M362.1 459.1h0M389.5 359h0M413.5 355.3h0M377.9 431.6h0M388.7 372.9h0M372.3 437.8h0M375 433.2h0M388.6 396.3h0M374.9 429.5h0M385.3 404.4h0M381.1 415.9h0M376.1 439.2h0M393.5 369.7h0M365.2 451.7h0M406.3 363.8h0M363.7 456.3h0M396.2 363h0M374.9 441.8h0M368.3 447h0M388.8 362.4h0M384.1 390.8h0M387.5 388h0M394.7 360.3h0M369 448.2h0M377.1 427.5h0M366.1 451.7h0M387.4 385.8h0M375.7 430.2h0M374.9 438h0M386.9 370.6h0M376.4 423.7h0M371.6 443h0M379 421.7h0M385.9 389.6h0M390.9 362h0M396.7 357.1h0M388.7 361.5h0M381.9 425.9h0M364.9 453h0M390.1 372.2h0M368.7 449.7h0M385.9 393.1h0M385.2 386.5h0M390.4 405.4h0M389.9 364h0M377.4 421.6h0M367 457.7h0M387.4 370.2h0M379 437.4h0M382.1 409.8h0M401.5 393h0M387.1 411.6h0M388.9 411h0M389.5 359h0M376.9 435h0M376.9 423.4h0M387.2 368.6h0M382.6 393.9h0M381.6 411.2h0M386.9 385.8h0M402.3 357.2h0M395.9 381.8h0M369.6 443.9h0M379.8 427.5h0M367.1 448.2h0M360.4 461.2h0M391.4 364.6h0M380.4 413.2h0M396 363.4h0M371.2 441.4h0M378.6 412.8h0M392.1 356.1h0M375.7 446.5h0M391.1 377.4h0M391.1 411.2h0M389.2 408.8h0M388.1 386h0M388.8 365.5h0M374.9 437.4h0M387.3 382.9h0M376.6 426.9h0M390.4 374.6h0M398.4 402.4h0M398.3 378.8h0M386.9 406.2h0M379.3 421.8h0M366.8 450.3h0M374.8 439.2h0M367.5 447.8h0M381.1 425.4h0M378.8 413.7h0M387.4 375.2h0M384.9 387.3h0M380.4 407.2h0M403 361.7h0M380.7 424.7h0M392.1 363.3h0M364.2 455.9h0M387.8 371h0M386.6 409.6h0M365 452.6h0M385.2 376.7h0M366.1 451.7h0M384.1 383.1h0M368.3 447.6h0M363.1 458.6h0M390.7 355.4h0M373 438h0M369.4 446.6h0M394.6 376.5h0M383.3 405h0M362.1 458.7h0M384.7 399.1h0M363.2 458.3h0M388.6 367.9h0M372.7 445.8h0M362.6 456.8h0M382.8 390.8h0M376.8 424.6h0M376 430h0M389.2 360.1h0M372.4 436.5h0M376.3 432.7h0M396 357.4h0M388.6 369.7h0M381 424.2h0M362.4 459.5h0M387.6 372.1h0M396.9 368.2h0M390.9 355.4h0M392.1 411.5h0M383.2 410.2h0M385.6 415.3h0M378.9 427.8h0M384.7 396.8h0M389.5 405.7h0M377.8 433.6h0M383.4 412.3h0M382.6 404.7h0M399.7 364.2h0M381.4 424.6h0M382.8 404.7h0M392.5 370.2h0M381.9 395.1h0M364.4 455.2h0M363.9 454.8h0M388 400.7h0M386.3 419.4h0M371.5 441.6h0M374.8 442.2h0M397.6 374.5h0M384.8 425.6h0M385.7 394.1h0M383.2 397.3h0M372.6 443.6h0M374.9 432h0M372 439.5h0M377.9 424.7h0M393.2 366.2h0M388.2 374.9h0M389 357.2h0M392.3 361.5h0M363.2 457.8h0M372.8 438.6h0M379.2 417.9h0M380.6 421.9h0M388 373.4h0M387.9 363.7h0M394.4 360.4h0M366.9 452.3h0M384 395.4h0M387.4 368.7h0M378.2 430.9h0M370.9 439.4h0M386.3 378h0M396.6 386.2h0M372.1 440.5h0M383.7 395.4h0M399.9 362.8h0M371.4 444.2h0M369 447.6h0M404.6 357.7h0M371.2 440h0M377.1 431.6h0M384.8 379.6h0M396.7 370.1h0M394.3 416.2h0M377.7 424.7h0M374.3 429.9h0M389.1 374.6h0M385.9 379.1h0M376.6 422.9h0M369.9 448.2h0M385.5 374.7h0M384.9 382h0M362.7 457.5h0M373.1 437.5h0M367.9 448.6h0M396.3 386.1h0M367.5 448.4h0M379.9 412.9h0M377.1 434.2h0M386.3 378.2h0M394.2 361.9h0M396.9 366.6h0M389.6 397.7h0M416.7 374.4h0M381.2 411.7h0M388.2 404.5h0M374.9 430.8h0M364.7 455.8h0M371.7 440.6h0M384.5 391.8h0M369.7 447h0M372.5 438.1h0M373.6 439.4h0M392.6 355.2h0M368 447.7h0M395.1 356.4h0M389.3 369.4h0M377.7 440.2h0M382.9 397h0M369.3 450.2h0M379 426.1h0M391.3 403.8h0M379.9 412h0M385.2 388.1h0M383.3 401.8h0M384.2 387h0M362.3 460.2h0M376.1 427.3h0M386.6 378.8h0M400 370.6h0M373.2 436.8h0M390.6 359.1h0M384.3 407.2h0M385.7 399.6h0M389.1 382.8h0M388.1 376h0M392.9 362.9h0M369 447.5h0M362 457.7h0M390.5 379.2h0M390 371.3h0M364.2 455.2h0M392.2 385.3h0M384.7 398.8h0M377.4 429h0M380.9 424.9h0M380.7 414.9h0M383.6 396.2h0M411.8 361.8h0M383.7 395.3h0M378.5 435.6h0M382.9 392.7h0M389.3 367.7h0M366.5 453h0M372.3 437.6h0M375.8 422.6h0M382.8 390.3h0M389.1 356.2h0M380.1 412.8h0M388.8 367.2h0M387.9 363.6h0M377.6 430h0M371.6 443.7h0M388.4 379.4h0M370 380h0M363.7 433.3h0M372 363.6h0M364.7 415.6h0M360 443.8h0M370.1 375.7h0M367.5 389.1h0M369.9 374.8h0M362.7 437.9h0M365.3 410.9h0M372.2 364.4h0M368.2 387.1h0M409.1 316.2h0M407.2 318h0M397.8 317.3h0M387.6 316.9h0M407.4 317.4h0M406.2 317.8h0M414.7 316.4h0M403.3 317.7h0M389.6 316.7h0M414.1 318h0M393.8 317.2h0M414.8 316.2h0M414.6 315.3h0M396.8 315.6h0M406.3 317.9h0M406 316.1h0M380.8 336.7h0M389.2 322.6h0M394.3 347.6h0M396 319.8h0M382.5 341.7h0M387.6 344.9h0M377.9 326.8h0M395.1 345.2h0M387.7 350.6h0M377.6 329.1h0M392.3 319.8h0M382 341.7h0M384.9 345.8h0M387 333.1h0M382.1 330.2h0M396.2 327.7h0M386.4 344.7h0M381.4 338.4h0M377.3 346.2h0M385.2 339.5h0M384.9 347.6h0M383.9 343.9h0M394 335.4h0M383.6 335.4h0M395.8 347.4h0M380.4 341.2h0M389.8 330.2h0M381.3 345.3h0M394.7 351.7h0M388.4 318.8h0M394.5 328.9h0M380.1 328.5h0M313.3 319.4h0M334.1 325.4h0M316.2 323.2h0M331.2 325.5h0M328.9 319.6h0M334.7 327.1h0M325.6 347.6h0M345.3 334h0M343.2 326.7h0M327.2 345.4h0M346.1 339.2h0M326.6 330.7h0M342.5 346.8h0M330.1 349.4h0M346.1 323.7h0M337.7 336.1h0M344.9 329.2h0M333.8 336.4h0M333.4 324.2h0M330.1 339.8h0M324.3 351.1h0M330.7 333.8h0M331.5 331.2h0M327.4 353.7h0M341.7 334.5h0M335.3 346.7h0M335.5 349.8h0M339.5 333.8h0M330.9 332.9h0M343 333.3h0M332.2 325.7h0M342.3 343.8h0M340 350.2h0M331.6 340h0M404.8 327.8h0M404.8 353.3h0M418.2 348.8h0M420.3 342.4h0M417.3 325.2h0M310.9 342.1h0M317.5 343.7h0M322.3 339.4h0M310.2 349.7h0M312.1 340h0M315.2 347h0M320.8 415.2h0M325.9 416.8h0M318.5 404h0M315.3 415.4h0M330.6 442.3h0M304 397.1h0M401 408.5h0M388.1 430.2h0M400.9 428.6h0M402.4 432.1h0M412.6 372.7h0M391 402h0" stroke="#000" stroke-width="3.0" stroke-linecap="round" fill="none" stroke-opacity="0.5"/>
<path d="M319.3 361h0M339.8 431.6h0M321.8 359h0M360.6 460.9h0M327.5 377.5h0M354.2 449.8h0M351.7 442.4h0M355.6 455.4h0M307 413.1h0M335 408.2h0M331.3 409.6h0M340.7 424.3h0M333.2 410.5h0M335.1 414.4h0M339.2 420.8h0M334.3 403.3h0M335.2 423.9h0M312.1 359h0M342.1 430.1h0M329.1 392.7h0M347.2 434.4h0M327 370.7h0M344.5 426.1h0M327.5 371.7h0M342 421h0M351.7 445.2h0M349.6 442.2h0M359.8 455.6h0M342 424.2h0M351.4 439.8h0M333.7 420.3h0M324.6 411.1h0M343.4 428.1h0M341.3 417.7h0M358.6 454.9h0M322.2 363.3h0M349.4 437.5h0M331.5 386.8h0M324 374.4h0M325.5 380h0M321.4 373.3h0M315.6 379.6h0M349.2 438.4h0M324.7 372.8h0M360.9 460.2h0M326.5 387.6h0M336.9 428.7h0M326.5 366h0M329.6 402.4h0M317.6 373h0M333.3 397.1h0M346.8 436.9h0M318.7 385.4h0M333.5 403.5h0M339.5 423.6h0M345.6 436h0M343.3 422.9h0M336.8 407.3h0M325 363.9h0M331.9 390.4h0M310.7 363.4h0M331 392.8h0M327.4 379.3h0M340.6 421.9h0M344.1 429.5h0M343 432h0M358 455.8h0M325.1 360.3h0M346.6 433.8h0M336.8 416.1h0M330.4 402.2h0M327.6 379.4h0M357 454.4h0M333.5 401.2h0M345.7 432.3h0M322.9 361.4h0M331.3 383.7h0M357.5 455.7h0M325 417.2h0M327.7 383.4h0M342.4 439.7h0M339 415h0M355.1 450h0M359.4 459.1h0M346.8 443.6h0M314.5 368.7h0M327.3 404.5h0M327.2 372.6h0M351.4 443.1h0M339 427.2h0M353 445.2h0M343.8 424.9h0M335.3 407.8h0M329.7 397.1h0M338.4 412.7h0M337.8 421.9h0M340.7 418.5h0M327.9 378.5h0M338.8 412.8h0M351.6 443.3h0M333.3 400.3h0M340.8 419.5h0M333.8 399.1h0M334.8 411.7h0M329 397.4h0M326.5 364.5h0M328.1 384.6h0M320.1 362.8h0M323.3 361.3h0M328.8 395.8h0M321.8 369.2h0M340.6 429.5h0M323.7 361.1h0M326.4 368.3h0M313.3 364.6h0M346.8 435.3h0M360.2 460.2h0M357.8 456.4h0M323.9 365.4h0M358 453.5h0M328.3 397.8h0M356.3 449.3h0M331.2 393.3h0M322.7 377.3h0M320.1 364.7h0M328.7 382.9h0M325 395.2h0M334.3 400h0M347.7 432.2h0M331.3 397h0M344 426.6h0M328.3 390.6h0M348.3 435.5h0M353.5 445.4h0M330.3 400h0M323.7 379.9h0M331 388.5h0M337.3 422.8h0M354.2 449.1h0M335.2 403.7h0M319.8 359.9h0M293.6 354.9h0M350.4 443.5h0M333.1 394.2h0M351.6 444.2h0M323 372.3h0M348.6 435.4h0M348.4 440.5h0M310.7 355.9h0M317 385.8h0M343.5 426.6h0M323.2 369.8h0M332.1 403.4h0M345.7 429.7h0M341.1 419h0M324.5 386.5h0M328.4 384h0M350.2 445.8h0M323.3 355.2h0M301.6 378.1h0M335 412.8h0M319.4 374.6h0M361.5 461.1h0M350.4 445.1h0M354 448.9h0M340.4 416.6h0M342.8 435h0M336.4 407.3h0M337.8 418.2h0M319.6 375h0M331.9 386.5h0M321.5 381.8h0M324.8 371.7h0M322 399.4h0M328.7 407.5h0M353.2 446.6h0M360.2 458.2h0M356.5 451.3h0M327.8 379h0M322.4 358.3h0M350.6 439.1h0M338.8 429.4h0M335.8 405.7h0M318.4 381.9h0M322.1 361.7h0M337 410.5h0M335.4 400.9h0M349.3 441.8h0M359.6 458.2h0M331.3 393h0M326.4 381.6h0M332 411.4h0M318.5 368.9h0M326.7 407.4h0M344.2 427h0M326.2 376.9h0M325 381.9h0M346.3 433.6h0M334.6 399.7h0M322.8 357.1h0M357.7 457.2h0M337.6 407.2h0M326.5 368.6h0M324 358.6h0M345.7 439.9h0M329.6 395.8h0M323.1 383.8h0M334.7 404.1h0M347.7 433.6h0M329.7 376.8h0M359.4 456.8h0M328.2 369.4h0M329.8 381.3h0M349.6 439.6h0M341.4 426h0M325.1 372.2h0M319.2 391.1h0M330.9 414.2h0M352.1 447.1h0M342.8 420.6h0M336.2 405.7h0M360.4 459h0M348.7 436.7h0M344.5 431.4h0M335.5 407.5h0M351.2 441.9h0M331.1 385.1h0M318.3 389.8h0M337.3 414.5h0M326.5 360.6h0M304.4 369.9h0M329.7 378.6h0M331.2 393.4h0M326.8 416h0M355.5 450.7h0M331.8 406.8h0M335.4 405.6h0M328.6 410.8h0M322.9 364.6h0M355.5 452.7h0M312.6 393.6h0M322.2 385.7h0M358.6 453.5h0M333.8 405.4h0M325.8 357h0M324.9 379.7h0M336.9 408.5h0M323.7 361.5h0M337 427.5h0M328.6 400.1h0M344.7 425.2h0M328 374.2h0M321.8 379.4h0M331.3 384.9h0M346.7 435.2h0M343 425.7h0M324.8 355.6h0M338.5 413.5h0M352.5 447.9h0M326.2 366.2h0M344.4 431.7h0M336.8 406.8h0M324.9 382.7h0M351.5 442.6h0M356.8 453.3h0M353.9 450.7h0M325.9 405.2h0M345.7 428.9h0M320.5 355.3h0M331.9 394.2h0M336.9 410h0M327 368.4h0M337.6 414h0M331.3 406.4h0M320.4 373.2h0M358.2 458.9h0M326.4 396.7h0M341.4 419.1h0M358.3 456.8h0M350.2 438.5h0M328.2 372.6h0M344 443.8h0M341.6 431.4h0M346.3 431h0M326.4 368.5h0M323.7 363.7h0M325.7 382.1h0M333.2 401.1h0M344.5 433.2h0M328.3 418.5h0M329.6 396.4h0M340 419.8h0M346.8 433.1h0M327.8 395.9h0M329.3 385.5h0M336.2 410.5h0M341.5 422.3h0M345 427.8h0M341.9 420.9h0M339.4 439.4h0M352.9 376.3h0M353.6 388.9h0M360.9 440.3h0M356.1 413.2h0M355.7 406.9h0M360.8 443h0M351.7 374.1h0M352.7 382.9h0M353.8 376.1h0M351.4 366.5h0M357.6 418.5h0M355.3 405.5h0M379.9 414.4h0M399.6 361h0M392.7 361.9h0M394.2 362.8h0M383.9 400.6h0M367.8 454h0M375.7 434.2h0M368.8 455.3h0M384.3 406.7h0M367.6 446.7h0M388.3 397.3h0M363.1 456.7h0M383.8 391.3h0M382.8 396.1h0M387.2 382.1h0M392.2 381.7h0M385.5 420.6h0M381.4 403.6h0M389.1 375.8h0M371.9 447.6h0M389.8 401.3h0M403.5 376.4h0M387.3 391.3h0M379.6 419.7h0M394.1 354.9h0M408 384.2h0M367.5 447.7h0M390.4 421h0M379.9 428h0M386.4 371.3h0M399.8 369h0M388.1 379.6h0M362.7 456.8h0M377.2 441h0M379.7 431.1h0M391.5 381.3h0M372.8 440.9h0M381.1 399.7h0M386.5 389.9h0M392.6 414.6h0M366.1 453.2h0M369.5 445.8h0M380.6 433.1h0M382 426.6h0M393.7 390.4h0M383.6 399.5h0M369.3 444h0M375.7 427.6h0M387.9 370.8h0M389.6 355h0M396.5 378.9h0M375.6 423.8h0M393.3 365.9h0M374.3 432.4h0M407 381.3h0M375.9 438.2h0M375.1 435.2h0M382.6 397.3h0M382.7 411h0M374.2 436.3h0M383.3 411.5h0M385.4 413.4h0M386.2 400.7h0M393.9 361.2h0M391 355h0M391.2 361h0M388.1 368.9h0M387.5 382.5h0M385.9 377.8h0M388.4 402.6h0M378.2 437.9h0M387.9 373.8h0M383.8 402.1h0M386.2 426.2h0M374.6 444.7h0M384.1 409h0M388.1 366.1h0M365.4 453.9h0M385.4 389.4h0M361.8 458.1h0M389.8 364.9h0M376.7 424.3h0M392.7 355.9h0M376 432.1h0M385.2 385.8h0M372.9 443.6h0M378.9 424.1h0M367.4 449.2h0M374 430.9h0M395.1 361.4h0M390 373.7h0M389.3 359.9h0M371.6 438.8h0M385.3 385.3h0M370.6 448.7h0M373.9 440h0M390.6 370h0M385.3 400.4h0M389.9 369.8h0M387.8 371.9h0M407.2 359h0M376 433.4h0M377.9 422.8h0M388.1 376.3h0M393.8 370.3h0M390.8 389.8h0M394.2 377h0M381.4 409h0M365 453.9h0M391.7 362.3h0M365.4 457.8h0M389.6 373.4h0M379.7 411.9h0M374.7 439.4h0M378.4 425.2h0M384.4 401.1h0M395.5 389.8h0M378.2 420.3h0M385 377.1h0M380.8 420.5h0M390.9 360.9h0M390 361.5h0M377.9 422.1h0M363.9 454.1h0M361.6 460.5h0M391.4 372.7h0M392.8 391.9h0M392 371.7h0M389.6 356.4h0M374.7 431.3h0M390.1 388h0M388 388.8h0M390.7 375.5h0M390.8 375.2h0M364.7 453.4h0M364.2 459.3h0M393 368.5h0M379.9 425.9h0M385.9 401.1h0M375 435.8h0M383.6 389.8h0M391 361.6h0M389.3 376.6h0M366.6 449.4h0M392.6 372.7h0M365.4 451.5h0M387.1 368.1h0M374.6 432h0M371.1 443.3h0M391.8 362.3h0M387.1 374.1h0M387.5 371.3h0M386.6 378.4h0M375.6 434.8h0M385.1 398.2h0M386.1 410.8h0M393.2 382.9h0M368.3 448.4h0M387.9 368.4h0M377 418.9h0M388.2 377.3h0M378.7 423.5h0M391.8 356.4h0M385 395.2h0M370 443.1h0M384.7 399.2h0M361.4 459.1h0M386.5 373.9h0M393.6 365.5h0M382.6 415.4h0M389.7 358.2h0M394 416h0M388.2 365.2h0M380.4 423.1h0M395.4 361.9h0M385.8 388h0M384.3 401.1h0M381.5 401.2h0M391.5 394.3h0M382.8 400.4h0M392.1 398.5h0M383.9 406h0M377.3 422.3h0M383 400.9h0M390.5 361.5h0M378.5 439.5h0M387.5 376.4h0M392.9 387.6h0M387.3 372.5h0M409 367.7h0M363.4 458.6h0M393.5 394.9h0M389.3 410.4h0M385.1 384.7h0M388 386.2h0M391.2 389h0M375.8 435.3h0M388.5 416.4h0M391.2 360.8h0M363.1 457h0M381.4 434.2h0M372 438.5h0M390.4 380.7h0M376.8 424h0M390.1 375.4h0M385.9 380.4h0M377.2 421.5h0M376.5 426h0M377.7 421.6h0M387.3 379.1h0M384.1 414.2h0M394.4 364.8h0M379.5 417.3h0M388.7 363.4h0M374.7 433.7h0M383.8 406.1h0M394.2 365.5h0M377.5 418.3h0M389.5 363.6h0M367.6 447.8h0M394.3 365.9h0M382.6 392.2h0M375.4 433.6h0M362 457.5h0M389.5 372.2h0M370.7 441.8h0M384.2 399.3h0M373.9 436.5h0M373.8 433.4h0M363.5 456.2h0M379 414.7h0M381.3 399.4h0M364.3 456.1h0M393 374.4h0M397.9 357h0M390.3 365h0M379.4 415.3h0M377.9 434.7h0M382.4 416h0M382.5 406.3h0M380 419h0M382.6 431.5h0M378.3 420.7h0M363.4 458.1h0M382.8 394.4h0M362.8 459.5h0M392.8 355.1h0M391.1 368.5h0M396.3 364.3h0M387.4 420.1h0M400.2 396.3h0M368.8 446.1h0M392.8 357h0M383.3 398.5h0M383.6 396.5h0M384.5 389h0M379.7 412.9h0M390.3 377.7h0M374.9 441.5h0M390.9 400.8h0M385.8 376.2h0M367.3 449.3h0M379.1 434.5h0M392.1 377.8h0M384.3 414.3h0M390.9 375.5h0M388 398.8h0M374 439.8h0M369.7 445.8h0M379.7 423.6h0M398.1 411.9h0M384.6 390.2h0M390.9 386.4h0M375.9 436.3h0M382.8 408.3h0M368.5 449.9h0M377.2 425.4h0M384.8 398.1h0M383.4 398.4h0M377.5 432.1h0M369.4 450.9h0M389.2 369.9h0M376 437.5h0M393.7 362.9h0M389.3 402.7h0M385.5 379.6h0M388.4 384h0M383.7 389.3h0M383.8 433.9h0M385.4 388.8h0M371.3 442.5h0M377.8 421.5h0M383.7 408.8h0M382.2 418.3h0M387.7 367.8h0M380.6 417.5h0M393.8 359.1h0M383.1 408.9h0M362 458.4h0M382.1 416.1h0M367.6 404.9h0M366.5 405.1h0M366.2 401.9h0M371.6 370.3h0M363.5 423.7h0M365.1 418.6h0M363.8 431.9h0M367.3 400.3h0M366.4 396.9h0M373.4 356.9h0M361.9 441.6h0M364.5 418.4h0M410.1 317.9h0M405.8 317.8h0M415.4 317.3h0M403.5 315.5h0M392.6 315.2h0M406.3 317.3h0M401.2 318.1h0M400.3 317.6h0M404 315.5h0M413.8 317.8h0M387.4 315.2h0M415 317.4h0M401.4 317.8h0M388.2 315.5h0M411.2 316.2h0M409.1 317.2h0M379.9 351.6h0M385.8 326.5h0M377.3 354.4h0M376.6 325.6h0M387.7 337.3h0M381 324.8h0M392.2 347.3h0M384 343.7h0M377.5 350.2h0M379.7 326.6h0M395.8 333.9h0M394.4 351.9h0M394.5 329h0M379.3 328.3h0M386.6 339.3h0M376.8 325.8h0M393 339h0M393.5 323.1h0M388.2 324.2h0M382.8 334.5h0M377.8 350.8h0M390.8 327.5h0M391.4 323.3h0M391.9 342.5h0M396.5 351.2h0M383.5 317.9h0M387.5 331.2h0M381 353.7h0M384.8 333.3h0M396 320.6h0M388.5 317.7h0M390.1 328.8h0M326.7 328.2h0M315.2 324.4h0M335.8 331.2h0M326.1 328.9h0M315.1 317.2h0M320.4 321.6h0M340.5 341.8h0M344.3 327.6h0M342.5 327.8h0M344.8 338.9h0M323.4 335.5h0M339.1 331.4h0M336.4 352.5h0M332.6 326.3h0M343.3 338.6h0M343.5 345.1h0M340.6 349.4h0M332.9 336.3h0M331.5 344.7h0M331 338.6h0M325.8 326.3h0M334.8 323.8h0M325 347.2h0M345.2 351.3h0M330.9 346.4h0M323.7 332.2h0M340.2 338.6h0M345.8 348.3h0M334.3 341.6h0M340.5 349.9h0M341.1 326.9h0M327.5 327.5h0M339.5 353.2h0M332.9 338.6h0M416.3 353.3h0M403.3 346.8h0M411 344.1h0M406 327.6h0M407.9 347h0M323.3 349.2h0M311.6 341.5h0M314.5 350.7h0M313.2 344.6h0M318.4 346.4h0M310.1 349.1h0M283.2 361.3h0M294.4 376.2h0M312.2 384.2h0M316.7 376.2h0M303.3 392.1h0M318.9 450.7h0M419.3 449.6h0M412.6 377.2h0M403.7 432h0M394.8 423h0M424.9 368.2h0M428.2 370.9h0M408.1 307h0M443.8 323h0M439.4 333.6h0M432.7 328.3h0M419.3 386.8h0M410.4 394.8h0M307.8 306h0M289.9 345.3h0M301.1 354.9h0M415.9 338.9h0M418.2 346.9h0M438.2 320.3h0M287.7 384.2h0M294.4 360.2h0M319.1 406.8h0M319.9 413.9h0M312.4 377.9h0M318.7 417.6h0M302.6 361.3h0M307.4 368.5h0M394.3 397.6h0M415.3 358.9h0M411.5 363.7h0M411.6 379.8h0M417 356h0M402.4 373.5h0" stroke="#000" stroke-width="3.0" stroke-linecap="round" fill="none" stroke-opacity="0.5"/>
<path d="M360.5 458.2h0M349.5 444.3h0M344.1 439.5h0M340.1 428.3h0M361.1 460.3h0M328.6 369.8h0M302 388h0M328.4 408.8h0M322.2 357.5h0M343.3 432.3h0M337.4 430h0M327.1 373.2h0M330.6 383.6h0M326.7 388.3h0M342.1 436h0M316.2 359.3h0M354.9 449.8h0M336.3 433.7h0M360.4 459.9h0M352.8 448.7h0M322.7 366.8h0M329 373h0M328.7 374.9h0M318.7 360h0M329 400.1h0M322.8 364.4h0M355.4 452.2h0M330.8 388.8h0M323.6 372.9h0M330.9 410.1h0M347 434.3h0M331.3 390.2h0M324.1 383.4h0M321 356h0M345.4 428.7h0M350.4 438.5h0M355.5 452h0M345 430.9h0M324.6 383.8h0M359.4 455.9h0M335.9 404.9h0M320.2 358.1h0M333.9 401.5h0M352.8 443.3h0M350.6 441.6h0M327.3 376.3h0M331.6 385.1h0M333.2 403.4h0M326.1 366.9h0M338.8 416.9h0M329.9 398h0M337.6 410.6h0M316.4 394.8h0M332.7 397.8h0M341.3 420.6h0M347.3 432.5h0M337.1 412.5h0M327.1 378.5h0M318.3 380.8h0M338.8 412.6h0M350.4 441.6h0M334.9 410.5h0M325.9 396.3h0M310.2 361.6h0M353.6 446.6h0M342.9 433.4h0M361.9 460.3h0M331.5 388.5h0M327.2 380.6h0M352.1 442.7h0M320 377.9h0M324.4 394.1h0M327.5 368.8h0M324.3 406.9h0M339.7 415.8h0M322.2 363.7h0M353.8 447.1h0M328.3 380h0M326.2 391.6h0M325.8 395.9h0M344.4 436h0M339.9 421.6h0M326.1 375.9h0M350.7 439.9h0M331 388h0M336.8 417h0M355.3 451.2h0M357 452.8h0M327.4 373.8h0M341.7 428.4h0M356.5 453.7h0M339.1 412.2h0M323.9 371.3h0M333.4 413.9h0M328.9 387.5h0M324.1 361.3h0M336 414.8h0M334.1 396.2h0M341.5 440.9h0M349.6 442.6h0M345.9 433.6h0M319.5 370.3h0M344 439.3h0M328.7 382.4h0M335.8 413.8h0M326.5 387.4h0M313.6 379.3h0M330.7 386.4h0M323.4 355.8h0M319.4 375.9h0M334.6 408.8h0M329.1 390.3h0M343.4 430.1h0M357.2 456.7h0M320.6 356.2h0M333.1 436h0M348.4 436.4h0M332.7 390.6h0M349.5 447h0M320.2 364.6h0M357.7 458h0M323.7 360.2h0M343.2 429.1h0M339.9 417h0M324.3 356.1h0M331.6 426.1h0M334.9 408.5h0M328.5 383.5h0M325.6 377.2h0M331 394.5h0M330.2 389h0M342.4 425.2h0M346.4 440.9h0M359.7 456.2h0M328.1 373.7h0M346.8 432.5h0M350.4 439.6h0M331.1 387.3h0M335.7 405.7h0M335.3 422.2h0M298.3 397.2h0M359.7 456.7h0M323.6 372.6h0M327.2 399.8h0M323.3 391.5h0M346.5 435.9h0M351.5 445.8h0M347.6 439.2h0M357.9 454.5h0M354.3 450.1h0M329 376h0M343.9 434.8h0M320 404.5h0M351.9 447.9h0M333.3 397h0M353.3 445.1h0M334.8 406.7h0M352.1 446.6h0M339.9 414.7h0M327.4 396.4h0M327.2 409.3h0M360.8 458.7h0M358.8 453.6h0M339.8 424.7h0M336.6 411.2h0M337 407.3h0M318.7 390.5h0M346.8 432.5h0M329.9 388.7h0M324.2 358.4h0M332.7 404.9h0M330.4 387.5h0M338.2 412h0M339.3 420.8h0M341.3 418.8h0M343.8 425.9h0M336.7 413.2h0M333.9 401.1h0M326.2 393h0M342.3 425h0M329.8 378.8h0M327.1 382.5h0M350.3 441h0M341.8 425.7h0M319.6 356.6h0M351.8 444.1h0M317.7 376.5h0M347.6 437.1h0M347.4 444.8h0M334.6 414.8h0M338 414.2h0M325.9 397.1h0M325.3 387.2h0M336.8 407.6h0M322 357.5h0M339 424.1h0M325.6 377.7h0M350 440.4h0M354.1 448.9h0M337.2 426.2h0M345.9 434h0M356.2 451.9h0M323.7 387.6h0M324.4 356.7h0M351 443.7h0M320.9 368.8h0M346.8 436.3h0M313.3 359.4h0M329.1 406.5h0M360.8 460.7h0M353.8 444.3h0M328.9 391.8h0M322 388.9h0M350.9 439.8h0M325.7 362.8h0M347.3 443.9h0M324.5 357.5h0M338.7 421.5h0M321.5 366.4h0M343.3 423.6h0M350.6 440.6h0M331.2 384.1h0M355.7 450.3h0M347.1 436.5h0M346.9 430.6h0M332.4 406.9h0M347.9 435.7h0M329.1 398.5h0M354.8 450.1h0M348.5 443.6h0M346.8 442.5h0M334.4 404h0M329.9 378.5h0M354.5 449.5h0M350.3 440.5h0M321.8 384.6h0M324.1 395.4h0M360.2 458.9h0M323 361.1h0M325.2 356.3h0M340.1 413.8h0M329.7 382h0M332.2 395h0M346.3 432.9h0M340.9 422.2h0M330.7 385.5h0M329.6 379.8h0M344.9 437.8h0M317.2 368.6h0M341.1 426.7h0M324.7 366.7h0M323 355.6h0M324.7 381.3h0M330.2 385.1h0M332.2 390.3h0M325.5 377.2h0M310.8 376.9h0M360.8 460.6h0M325.8 380.8h0M316.3 356.9h0M322.7 368h0M334.5 398.4h0M338.3 413.3h0M341.7 428h0M359.8 457.2h0M332.4 417h0M331.4 396h0M328.5 371.9h0M336.5 411.8h0M336.7 407.4h0M359.1 460.2h0M325 357h0M328.7 385.7h0M350.7 442.8h0M345.8 431.1h0M326.5 361.8h0M347.2 441h0M355.5 449.1h0M334.1 397.7h0M355.8 450.8h0M351.5 443.4h0M342.3 444.2h0M327.2 393.7h0M317.9 355.1h0M331.2 391.3h0M348.5 435.3h0M316.7 398.6h0M330.1 388.1h0M343.5 428.8h0M326.5 365.4h0M340.2 424h0M317.4 356.3h0M339.6 416.9h0M331.9 405.2h0M329.8 390h0M334.4 399.6h0M330.6 408.4h0M331.8 395.5h0M326.8 382.1h0M327.7 368.5h0M353.9 387.7h0M351.9 365.3h0M357.5 412.8h0M358.2 419.3h0M350.6 361.2h0M354.3 378.8h0M355.4 408.7h0M359.7 434.8h0M353 379.5h0M360.4 435.6h0M353.3 384.2h0M352.7 380.4h0M387.2 382.1h0M373.7 440.5h0M387.4 365.2h0M394.2 396.5h0M377.8 432.4h0M375.7 428.3h0M372.6 440.5h0M362.6 456.8h0M388.2 379h0M380.2 413.8h0M393.4 374h0M386.3 384.9h0M375.2 435.3h0M379.2 410.8h0M370.4 445.4h0M377.7 418.1h0M373.1 443h0M388.2 375.9h0M380.6 418.2h0M362.2 459.5h0M392.6 370.8h0M363.4 457h0M366.7 449.6h0M396.3 381.5h0M390.1 358.2h0M382.2 397.5h0M392.6 356.6h0M376.8 431.2h0M368.7 452.4h0M377.9 435.5h0M391.1 396h0M362.6 459.5h0M386.3 394h0M371 443.2h0M386.8 375.4h0M388.6 381.4h0M389 357.4h0M381.5 409.8h0M366.8 450.6h0M361.4 460.8h0M389.6 377.8h0M382.4 399.4h0M379.1 421.4h0M388.5 363.6h0M393.3 379.6h0M387.8 375h0M383.6 403.4h0M365 454.8h0M361.7 459h0M385.6 406.5h0M389.1 369.1h0M373.2 439.2h0M388.9 414.3h0M388.8 368.3h0M387.2 445.1h0M389.3 369.1h0M388.8 383.3h0M385.9 385.6h0M384.9 387.4h0M386.7 417.8h0M381.3 410.9h0M364.6 460.9h0M384.3 389.3h0M368.6 449.9h0M391.7 372.6h0M393.7 375.2h0M370.7 443.6h0M385.6 375.3h0M387.2 385.3h0M391.3 356.2h0M380.1 423.6h0M371 445.1h0M384.3 386.9h0M376.6 434.3h0M376.5 429.8h0M387.1 406.9h0M381.8 415.7h0M363.8 456.2h0M381 407.2h0M381.6 418.6h0M394.7 390.7h0M391.2 389.5h0M370.3 440.4h0M391.2 356h0M387.3 395.2h0M367.3 448.9h0M386.4 383.6h0M388.9 362.8h0M387.1 375.3h0M393.8 358h0M363.1 456h0M380 415.2h0M378.4 413.2h0M381.6 403.6h0M370.3 445h0M390.2 359.6h0M370.6 444.2h0M384.4 390.8h0M373.9 434.7h0M389.5 380.7h0M377.7 417.4h0M385.4 415.2h0M379.6 441.4h0M396.4 368.9h0M388 372.1h0M378.4 421.5h0M381.5 407.2h0M384 394.8h0M390.1 355.1h0M376 432h0M369.9 446.1h0M387.3 397.6h0M381.8 400.1h0M378.8 421.1h0M373.7 432.6h0M380.6 412.9h0M366.5 451h0M383.1 404.7h0M375.4 430.4h0M395.2 360.2h0M370.8 443.3h0M386.5 372.6h0M377.8 421.5h0M385.1 406.4h0M368.1 446.2h0M392.6 411.1h0M385.5 399.7h0M388.4 381.5h0M383.6 407.1h0M378.2 421.5h0M392.8 362.2h0M382.4 393.2h0M387.7 370.5h0M397.5 384.8h0M386.6 385.3h0M384.5 409.2h0M373.6 437.1h0M388.8 378.8h0M364 456.4h0M405 382.8h0M385.3 413.9h0M387.2 378h0M387.4 378.1h0M376.1 436.4h0M386.1 378.7h0M374.6 430.7h0M373.7 433.8h0M385.7 385.5h0M371.6 443.2h0M365.6 452.2h0M374.8 436.7h0M388.6 379.7h0M363.4 458.7h0M376.3 432.3h0M388.9 391.4h0M382.7 389.9h0M390 384.9h0M388.9 359.5h0M393.4 358.5h0M379.6 432.3h0M361.6 458.6h0M380.3 413.9h0M366.6 450.7h0M379.3 429.5h0M389.1 366.8h0M361.5 460.6h0M395.5 401.4h0M378.2 417.9h0M398.7 388h0M385.3 397.2h0M375.6 445.2h0M367.4 450.8h0M411.3 361.3h0M371.5 441h0M389.7 403.5h0M382.1 417h0M389.4 392.7h0M364.9 455.4h0M385.6 377.7h0M384.7 386h0M367.4 455.2h0M371.7 443.4h0M388.6 389.4h0M378.9 427.9h0M378.3 419h0M381.3 405.1h0M390.8 373.2h0M386.3 382.7h0M386.4 387.8h0M391.3 371.6h0M374.7 439.2h0M403.4 372.9h0M396 357.9h0M371 442.5h0M390.3 371.1h0M377.7 429.6h0M376.5 438.3h0M379.5 421.8h0M389.6 404.4h0M376.7 426.6h0M396 374.7h0M385.5 399.4h0M382.4 402.7h0M390.7 372.5h0M382.5 400.9h0M373.7 436.4h0M389.1 372.1h0M373.3 439.6h0M396.2 377.1h0M371.8 443.3h0M383 394.4h0M379.2 412.2h0M379 419.2h0M373.9 430.6h0M381.1 405.7h0M383.2 420.5h0M376.9 418.5h0M363.6 455.6h0M374.9 428.7h0M371.7 446.1h0M372.1 446.2h0M385 386.1h0M375.7 426h0M404.9 359.6h0M365.7 453.3h0M387.8 374.1h0M369.3 448.4h0M376.8 426.2h0M380.8 402.9h0M379 420.8h0M389.4 403.5h0M366.6 455.1h0M367.9 454.1h0M385 396.1h0M387.6 403.3h0M388.3 378.3h0M396.3 356.8h0M390.6 362.3h0M373 437h0M381.5 403.9h0M364.9 457.2h0M377.9 428.2h0M391 378h0M377.6 414.9h0M376.9 421.8h0M368.6 447.2h0M379.4 424.8h0M390.1 372.2h0M392.7 375.6h0M379.2 412.8h0M384.4 382.7h0M381.8 429.4h0M430 363.7h0M388.6 370.9h0M398.2 379.7h0M367 452.4h0M376.3 428.6h0M362.4 461.2h0M389.9 367.3h0M395.9 355.9h0M383.7 393.4h0M383.9 414.7h0M379.5 419.7h0M389.5 368.7h0M377 441.2h0M384.7 392.9h0M384.8 404.4h0M383.4 393.7h0M405.1 356.6h0M387.1 374.3h0M382.5 403.9h0M380.4 424.3h0M376.1 422.6h0M390.3 376.4h0M363.8 455.7h0M395.2 361.8h0M383.2 388.8h0M388.2 393.5h0M372.6 444.2h0M388.4 397.8h0M362.9 458.7h0M384.2 404.4h0M382.2 400.2h0M363.4 456.5h0M395.1 367.4h0M403.7 361.4h0M374.3 433.6h0M393.1 379.9h0M387.9 375.7h0M377.3 424h0M368.8 447.4h0M391 358.3h0M395.7 369.3h0M390.6 374.1h0M395 361.2h0M397.2 361.8h0M384.1 401.3h0M390.7 370.2h0M389.6 372.7h0M369.3 447.3h0M372.6 355.6h0M369.1 385.6h0M367.8 398.9h0M366.8 384.9h0M363.2 428.1h0M365 421.6h0M364.5 426.5h0M360.7 438.2h0M370.7 370h0M367.3 405h0M360.5 445h0M363 437h0M390.2 316.1h0M394.8 316.4h0M387.5 317.1h0M389.1 316.7h0M404.9 315.9h0M403.7 318.1h0M387 316h0M416.4 315.9h0M416.9 315.8h0M408 317.8h0M406.4 318.1h0M415.4 317.3h0M400.4 316.5h0M410.9 316.5h0M396.5 317h0M402.9 316.9h0M396.2 347.8h0M380.4 335.1h0M389.7 327.6h0M384.7 332.7h0M396.8 327.7h0M378.9 327.9h0M381 339.5h0M395.9 346.7h0M387.8 353.8h0M396.2 343.9h0M388.6 325.8h0M385.7 330.4h0M377.7 335.2h0M383.3 320.3h0M389.9 341.5h0M392.8 344.3h0M386.4 340.6h0M379.9 339.1h0M388 344.2h0M382.3 340.5h0M396.3 319.4h0M390.1 343.8h0M393.2 338.9h0M384.4 339.8h0M391.2 338.2h0M394.1 326.5h0M390.2 345.7h0M377 325.6h0M393.3 350.2h0M392.8 353.3h0M389.5 328.8h0M378.3 349.5h0M318 328.1h0M331 323.5h0M318.4 323.4h0M331.5 324.4h0M328.8 321.1h0M321.6 325.6h0M344.1 339h0M338.6 331.5h0M339.3 343.1h0M333.1 330.6h0M330.7 326.3h0M325.3 341.7h0M337.3 345.7h0M335.9 339.8h0M344.1 344.9h0M328.4 337.2h0M346 333.5h0M325.3 327.2h0M344.5 349.3h0M345.5 351.2h0M327.2 334.1h0M342 324.6h0M345.4 334.2h0M345.9 334.6h0M328.6 351.4h0M331.4 340h0M335.8 344.2h0M344.1 340.3h0M327.4 339.2h0M345.2 339h0M335.9 338.2h0M337.4 327.8h0M342 334.7h0M341.8 351h0M424.6 338.3h0M417.2 352.6h0M416.4 336.1h0M422 331.1h0M421.7 353.4h0M318.5 340h0M323.6 345.2h0M322.3 340.2h0M315.7 350.7h0M324.7 350.6h0M323.7 352.9h0M309.5 367.8h0M326.2 435.2h0M312.7 420.3h0M300.6 383.2h0M312.1 402.9h0M309.4 390.9h0M384 442.3h0M391.6 438.9h0M406.7 393.9h0M386.5 434.6h0M391.3 404.4h0M418.4 364.7h0" stroke="#000" stroke-width="3.0" stroke-linecap="round" fill="none" stroke-opacity="0.5"/>
<path d="M321 392.2h0M333 395.6h0M312.8 358.5h0M343.7 427.7h0M325.2 359.7h0M356.7 451.6h0M354.5 456.1h0M315.5 383.5h0M327.6 383.7h0M338.1 422.9h0M335.3 399.5h0M322.2 368.7h0M329.6 399.5h0M337 411.1h0M340.2 418.2h0M323.6 374.8h0M352.8 446.3h0M340.2 417.1h0M317.7 361.8h0M334.3 404.5h0M327.2 378.5h0M329 387.4h0M320.8 374.1h0M338.2 430.2h0M353.3 447h0M345.3 433.3h0M353.1 448h0M319.9 357.8h0M332.1 415.2h0M328.6 411.3h0M346.1 430.8h0M330 383.7h0M346.5 435.7h0M357.4 451.3h0M324.7 357.9h0M333.8 409.5h0M344.8 428h0M339.7 416.6h0M326.3 374.9h0M311.9 369.8h0M327.7 413.8h0M325.8 374.7h0M347.5 435.6h0M326.5 365.5h0M360.2 458.4h0M328.5 389h0M317 390h0M341.7 419.8h0M345.3 432.8h0M325 365h0M331 383.7h0M352.8 444.6h0M356 450.4h0M322.2 408.6h0M324.1 387.2h0M320.9 356.5h0M359.8 455.6h0M321.7 365.3h0M327.7 378.2h0M314.9 365.8h0M328.5 381.1h0M346.4 435.7h0M337.1 408h0M346.2 429.2h0M334.5 401.1h0M338.1 420h0M327.2 408.7h0M334.9 412.3h0M337.9 411.8h0M329.4 388.2h0M355.5 449.8h0M355.1 456h0M346 442.1h0M338.8 411.7h0M324.4 363.6h0M342.4 431.1h0M335.9 413.8h0M330.7 393.3h0M359.1 461.2h0M338 408.7h0M338.1 420.3h0M334.2 414h0M359.5 458.7h0M355.4 450.6h0M336.7 413.3h0M320.7 367.4h0M352.8 446h0M358.3 455.1h0M328.9 374.4h0M336.7 406.1h0M346.2 430.4h0M341 426.4h0M328.2 391.4h0M354.2 449.7h0M323.8 371.7h0M324.7 355.2h0M347.2 430.8h0M358.8 456.5h0M348 434.9h0M361.6 460.2h0M357.3 452.7h0M353.9 445.4h0M329.1 398.3h0M327.6 405.8h0M351.6 450.4h0M349.3 437h0M359.3 456.6h0M334.2 395.3h0M326 359.5h0M330.7 415.9h0M336.1 401.5h0M336.3 410.6h0M354 448.8h0M362.1 461h0M356.9 452.5h0M331.5 405.6h0M345.8 439h0M323.5 372.3h0M327.6 409.9h0M342.3 424.3h0M348.4 440.4h0M342.5 431.6h0M332.5 409.4h0M330 388.2h0M332.3 392.8h0M335 411.2h0M337.7 421.8h0M322.1 374.5h0M346.1 437h0M329.4 388.7h0M360.4 458.5h0M332.6 388.6h0M331.3 388.9h0M345.7 433.9h0M317.6 369.2h0M338.6 412h0M330.5 415.8h0M352.1 443.5h0M342.5 432.9h0M340.2 415.7h0M336.6 412.3h0M324.3 373.3h0M324.1 384.1h0M347.2 434.7h0M332.4 397.8h0M344.2 429.6h0M334.6 409h0M320.4 355.1h0M323.2 378.1h0M338.2 412h0M327.3 374.1h0M348.4 441.9h0M344.6 433.1h0M340.5 417h0M319.4 359h0M359.7 457.4h0M356.8 457h0M344.9 429.1h0M326.2 400.5h0M349.7 438h0M323.3 378.1h0M329.6 385.8h0M328.4 388.6h0M326.6 382h0M338.8 415h0M361.6 460.5h0M349.5 440.3h0M337.8 409.7h0M340.1 424.3h0M351 446.5h0M320.7 376.4h0M332.9 393.3h0M326.2 363.3h0M339.6 415.8h0M345.4 430.2h0M359.2 458.4h0M356.4 449.8h0M358.7 454.7h0M336.4 424.6h0M354.7 452.6h0M352.3 447.2h0M334.7 409h0M343.5 429.5h0M323.5 388.7h0M323.3 371.3h0M319.5 376.5h0M327.7 365.7h0M339.3 428.2h0M329.8 385.2h0M334.8 401.6h0M350.9 442h0M356.6 451.4h0M349.2 441.2h0M353.9 447h0M327.1 373.4h0M338.2 408.6h0M343.3 433.8h0M352.9 445.4h0M330.3 387h0M355.4 450.7h0M310.2 377h0M351.3 442.8h0M341.3 425.9h0M309.3 390.6h0M304.4 361.5h0M332 403.1h0M334.3 398.8h0M351.9 448.6h0M324.5 358.1h0M345.9 429.7h0M338.2 423h0M326.7 413.9h0M341.9 431.9h0M336.8 416.2h0M348.4 436.1h0M330.6 390.2h0M326.3 381.4h0M325.9 361h0M340.3 444.6h0M325.7 390h0M352 449.8h0M334.4 406.1h0M350.3 439.1h0M328.6 376.5h0M359.8 457.2h0M344.1 435.9h0M326.4 376.3h0M355.6 450.5h0M334.9 410.7h0M327.5 378.2h0M327.4 406.6h0M339.4 412.7h0M325.5 383.9h0M331.4 400.9h0M347.1 432.4h0M334.5 396.4h0M319.7 407.7h0M358.5 457.3h0M295.8 358.4h0M357.9 452.5h0M330.1 381h0M329.9 383.2h0M355.7 453.2h0M349.2 438.8h0M348.3 434h0M331.1 396.5h0M356.4 449.6h0M345.7 428.7h0M348 439.6h0M327.3 366.4h0M311.1 367.8h0M334.6 415.8h0M319.8 365.2h0M327.6 389h0M356.7 451.6h0M330.1 408.5h0M324.4 364.8h0M340.4 423h0M335 424.8h0M326.2 388.8h0M323.8 384.9h0M330.1 377.7h0M350.8 443.5h0M343.4 439.2h0M351.7 443.8h0M331 410.3h0M329.2 391.2h0M316.4 355.9h0M341.3 421.2h0M339.3 419.7h0M330.3 428.2h0M326.4 389.3h0M360.4 457.9h0M334.4 408.7h0M342.2 434.8h0M324.8 399.1h0M334.4 398.7h0M325 366.2h0M361 460.5h0M327 390.4h0M322.5 358.8h0M327.1 380.5h0M345.4 438.3h0M343.8 430.6h0M331.9 386.7h0M326.6 397.8h0M334.7 403.2h0M323.8 411.9h0M333.9 398.9h0M324.8 372h0M316.5 377.3h0M345.7 435h0M323.3 355.8h0M324.6 388.5h0M343 424.8h0M352.5 445.7h0M347.4 436.3h0M329.2 393.8h0M334.3 430.1h0M330.6 387h0M357.1 420.4h0M352.4 364.8h0M356 405.1h0M352.8 384.8h0M353.6 386h0M360.4 433.2h0M352 366.2h0M354.6 374.5h0M355.5 409.3h0M358.1 422.3h0M352.4 374.3h0M356.4 416h0M381.1 408.8h0M374.1 436.8h0M364.8 454.4h0M367.8 447.7h0M366.4 450.1h0M376.3 423.3h0M378.9 414.3h0M402.1 372.8h0M387 388.4h0M367.1 451.1h0M388.1 363.3h0M391.1 370.6h0M392 376.5h0M385.1 408.3h0M364.3 457.4h0M403.7 356.4h0M387.6 410.1h0M380.9 403.7h0M376.6 428.8h0M387.1 373.6h0M382.8 407.1h0M386.9 392h0M379.7 415.6h0M380 413.2h0M398.2 397.9h0M372.9 448h0M387.7 368.8h0M372.9 436.6h0M393.1 370.7h0M377.7 430.1h0M377.3 424.3h0M384 387.3h0M369.1 445.8h0M375.5 435.2h0M384.2 403.9h0M382.1 396.3h0M373.4 442.9h0M363.9 456.1h0M379.7 420.8h0M376 425h0M393.5 375.8h0M362.6 461.2h0M390.6 390.1h0M376.4 435.6h0M384.3 399.5h0M362.1 458.2h0M379.8 407.5h0M364.5 456.8h0M374.1 442.4h0M381.8 413h0M380.6 415.4h0M386.7 371.5h0M394.2 374h0M386.6 375.4h0M386.2 419.1h0M382.6 392.6h0M388.9 364.6h0M388.8 372h0M383.1 410.1h0M378.3 413.6h0M385.2 391.9h0M382.4 421h0M385.4 408h0M369.3 446.8h0M392.2 410.7h0M391.8 372.3h0M365.7 458.2h0M380.7 423.8h0M385 401.9h0M372.6 443.2h0M389.6 379.1h0M374.7 427.8h0M387.2 393.2h0M361.6 458.2h0M390.8 366.2h0M387.8 376.5h0M375.4 440.4h0M389.3 364h0M372.7 437.6h0M397.1 410.1h0M394.9 359.3h0M370 443.4h0M370.5 442.4h0M386.5 376h0M383.5 412.2h0M372.7 437.3h0M379.7 418.1h0M376.6 425.8h0M389.2 400h0M382.8 402.8h0M380.6 429.6h0M374.8 427.6h0M383.4 412.2h0M389.3 358.1h0M386.8 412h0M394.2 357.7h0M387.9 369h0M401.1 358.7h0M392.5 370.3h0M394.3 393.6h0M371.1 444.8h0M385 385h0M391.9 357.2h0M391.8 382.2h0M380.8 428.1h0M363.5 459h0M376.6 420.3h0M368.8 449.1h0M366.3 452.4h0M378.2 416.7h0M390.3 371.2h0M362.6 457.4h0M382.2 417.2h0M380.2 420.5h0M382.4 417.1h0M381.9 414h0M373.3 435.6h0M383.2 400.6h0M396 369.4h0M380 409.5h0M387.2 387.2h0M371.2 440.7h0M370.2 447h0M387.3 379.6h0M385.1 386.9h0M395.1 357.3h0M378.5 411.2h0M388.1 369.4h0M374.2 433.9h0M371.4 446.5h0M384.6 383.9h0M391.1 360.2h0M361.4 459.5h0M372.9 438.3h0M385.5 388h0M380.5 409.3h0M380.3 407h0M393.4 356.9h0M384.5 395.4h0M388.1 379.7h0M392.2 361.1h0M389 363.2h0M379.2 424h0M367.3 449.4h0M364.6 455h0M364.3 453.8h0M372.9 436.1h0M381.6 406.2h0M386.7 393.9h0M405.4 356h0M379 432h0M393.2 362.1h0M388.6 358.5h0M393.8 359.4h0M389.2 393.3h0M389.2 365.5h0M366.7 451.4h0M383.8 386.8h0M371.9 439.3h0M365.7 450.5h0M371 442.4h0M374.7 427.8h0M386.7 387.8h0M385.7 384.2h0M377.4 431.2h0M379.7 417.1h0M364.1 456.2h0M380 409.5h0M387.9 376.8h0M387.7 386.6h0M360.4 461.1h0M381.5 399.5h0M401.5 363.2h0M368.6 447.3h0M378.5 425.2h0M379.8 409.1h0M379.8 409h0M377.3 435.4h0M384.3 405.4h0M382.3 404.5h0M387.2 392.3h0M372.8 440.6h0M388 380.9h0M368.2 448.5h0M388 369h0M385.1 405.9h0M378.9 428.5h0M381.5 425.5h0M382.5 395.2h0M390.3 355.4h0M396.2 408.9h0M375.6 437.7h0M369.1 445.8h0M393 370h0M384.8 394h0M370.6 441.5h0M389.1 360.1h0M393.5 369.9h0M392.2 355.4h0M380.4 427.8h0M378.5 416.1h0M377.2 434.6h0M382.8 401.3h0M385.6 385.7h0M394.4 375.5h0M384.6 413.5h0M401.2 360.3h0M380.9 403h0M374.5 432.7h0M370.4 443.5h0M388.1 369.5h0M373.3 437.5h0M387.5 372.4h0M393 374h0M385.9 409.6h0M375.2 425.2h0M384.9 388h0M390.6 368.8h0M382.2 429.6h0M396.8 381.7h0M384.8 388.2h0M362.9 456.7h0M382.2 392.1h0M392.3 360.3h0M377.9 421.5h0M379.5 412.4h0M383 399.3h0M375.4 429.9h0M373.1 444.4h0M376.8 424.2h0M389.4 365.2h0M365.2 452.8h0M382 402.4h0M380.5 406.6h0M391.3 369.1h0M382.5 394.1h0M379 417.5h0M382.1 404.7h0M393.8 375.3h0M382.1 397.7h0M365.6 452h0M379.2 421.7h0M375 435.1h0M361.7 460.3h0M384.3 386.3h0M374 440.6h0M380.9 424.7h0M379.9 420.8h0M380.8 416.2h0M394 380.3h0M382.1 396.1h0M381.9 417.8h0M383.1 397.6h0M382.6 393.1h0M384.4 394.6h0M378.2 418.4h0M379.5 412.1h0M382.7 388.8h0M365.5 454h0M382.6 422.8h0M365.7 452.3h0M379.2 426.8h0M386.5 373.6h0M389.3 387.8h0M383.8 429.2h0M369.3 452.6h0M412.6 372.2h0M403.5 357h0M384.3 406.4h0M385.1 390.1h0M364.6 455.3h0M384.7 392h0M381.8 403.6h0M383.5 426.8h0M407.9 355.8h0M379.6 406.7h0M383.1 403.3h0M378.7 419.3h0M395.9 394h0M383.7 395.6h0M375.5 436.4h0M383.4 408.8h0M383.1 407.2h0M380.6 406.1h0M371.6 439.9h0M387.6 378.9h0M361.1 459.8h0M386.9 380.1h0M382.2 404.9h0M392 360.5h0M383.2 415.8h0M389 418.9h0M387.7 367.7h0M377.9 419.1h0M370.1 443.4h0M389 402h0M390.1 358.4h0M375.8 430.7h0M376.8 422.1h0M387.3 403.4h0M369.3 388.8h0M361.6 443.3h0M373.6 355h0M368 398.6h0M363.2 429.6h0M371.1 366.6h0M365.4 413.3h0M366.7 403.6h0M364 428.7h0M371.1 370.1h0M362.2 434.3h0M366.9 408.2h0M408.4 315.8h0M389.9 316.6h0M396.2 315h0M408.6 315.5h0M395.2 315.6h0M414.8 317.1h0M400.2 316.6h0M417 317.3h0M407.2 318.1h0M402.8 315.9h0M398.8 316.2h0M391.2 318.1h0M409.5 318.1h0M396.3 317.1h0M397.6 315.6h0M404.2 315.8h0M387.3 350.2h0M383.9 330.1h0M395.7 327.3h0M392.3 349.9h0M393.5 322.2h0M377.2 334h0M392.2 345.5h0M384.4 337.2h0M392.6 334.8h0M383.5 324.9h0M383.5 344.4h0M390.3 318h0M382.9 331.4h0M380.4 348.6h0M385 342.1h0M381.4 330.6h0M380.5 344.3h0M393.7 349.1h0M382.6 320.2h0M396.7 326.2h0M382.2 329h0M390.1 350.2h0M384.6 319.6h0M380.8 330.5h0M380.4 324.6h0M380.4 349.2h0M377.2 349.8h0M390.7 329.9h0M390.8 339.5h0M383.6 334h0M390.6 347.4h0M386 345.6h0M318.1 328.1h0M323.6 323.4h0M321.8 328.7h0M315.3 327.5h0M325.6 321.5h0M321.8 324.2h0M343.7 341h0M339.5 324.3h0M337.9 343.9h0M337.7 339.2h0M329.6 329.3h0M341.6 341h0M331.5 351.4h0M342.9 328.5h0M340 336h0M345.2 340.3h0M334 346.9h0M329.3 345.4h0M331.7 337.5h0M334.1 334.9h0M332.4 332.4h0M330.1 349.9h0M345.8 349h0M345 340.7h0M329.7 330.5h0M326.9 332.3h0M333.3 341.1h0M343.7 351.8h0M326.9 328.7h0M323.7 324h0M342.2 350.6h0M333.7 325.8h0M346 327h0M331.6 351.1h0M416.9 329.6h0M420.9 344.5h0M419.3 342.6h0M402.9 320h0M398.9 326.1h0M318.8 344.1h0M314.7 344.6h0M311.9 351.7h0M319.4 343.3h0M314 343.5h0M323.3 339.9h0M319 434.8h0M304.3 376.2h0M337.3 434.3h0M307.2 368.4h0M325.8 437.6h0M296.1 358h0M414.8 375.6h0M395.9 423.8h0M401.7 408.1h0M398.2 392.3h0M406.8 401.2h0M392.8 412h0" stroke="#000" stroke-width="3.0" stroke-linecap="round" fill="none" stroke-opacity="0.5"/>
<path d="M337.6 411.4h0M326.4 368.6h0M342.5 422.9h0M353.9 455.2h0M310.4 362.4h0M325.2 363.6h0M340.6 418.1h0M329.2 377.5h0M340.9 418.3h0M326.8 387.4h0M345.3 434.6h0M322 359.5h0M326.7 394.9h0M353.5 447.1h0M352.5 449.1h0M352.5 446.2h0M340.4 421.3h0M336.1 409h0M347.9 432.8h0M333.4 404.9h0M326.6 385.9h0M316.6 378.2h0M360 458.6h0M331.3 396.3h0M331.9 397.4h0M326.4 381.4h0M324.1 368h0M352.2 446.4h0M330.9 398.2h0M337.4 415.7h0M357.5 457.9h0M360.1 458.6h0M331.2 392.6h0M324 409h0M338.2 418.5h0M328 394.8h0M348.5 435.2h0M324.8 402.1h0M358.2 454.3h0M347.9 436.7h0M355.3 448.7h0M325.6 357.2h0M315.4 356.8h0M341.7 426.8h0M332.7 410.6h0M357.7 453h0M323.2 388.1h0M314 365.6h0M351 443.5h0M316.9 396.9h0M311.3 372.5h0M334.1 395.8h0M340.9 421.5h0M356.6 453.6h0M345.6 429.8h0M325.9 361.9h0M336.7 414.2h0M360.7 457.5h0M323.8 355.5h0M359.9 459.3h0M352.8 445.1h0M329.2 403.3h0M344 424.5h0M357.5 453.1h0M358.8 454.9h0M341.6 433.3h0M334.7 398.6h0M331.3 384.6h0M338.8 433.3h0M326 364.2h0M326.1 366.6h0M326.9 393.6h0M323 365.9h0M353.9 449.1h0M325.1 363.5h0M332.2 411.2h0M350.1 443.9h0M324.9 363.5h0M322.4 370.5h0M319.9 379.2h0M347.7 432.2h0M342.2 433.6h0M325 395h0M350 437.9h0M333 412.8h0M350.4 441h0M352.2 445.5h0M330.7 410.5h0M347.4 437.9h0M320.8 363.8h0M324.3 362.2h0M327.4 368.5h0M340 415.9h0M358.7 454.1h0M350.7 442.4h0M327.8 383.9h0M331.7 391.2h0M336.2 405.3h0M318 355.4h0M321.5 370.8h0M322.7 359.5h0M349.5 437h0M328.3 409.5h0M331.4 401.7h0M335.2 408.2h0M338.7 414.3h0M340.7 426.1h0M348 437.2h0M329.7 391.9h0M328.8 380.9h0M342.6 427.4h0M343.1 422.6h0M350.6 446h0M325 385.1h0M338.4 413.1h0M334.2 405.8h0M358.9 454h0M349.2 436.4h0M323.9 357h0M347.8 437.4h0M331.3 395.9h0M348.5 443.2h0M323.4 360.6h0M361 458.5h0M327.7 396.4h0M347.3 433.4h0M349.7 448.3h0M342.2 420.1h0M333.2 399.6h0M352 443.2h0M327 367.8h0M354.1 445.8h0M321.9 365h0M330 401.8h0M322.7 366.2h0M324.2 357.2h0M325.1 363.8h0M350.5 443.7h0M325.8 362.4h0M339.3 416.9h0M331.3 402.6h0M355.7 450.6h0M338.7 416.3h0M330.1 416.6h0M335 402.2h0M323.1 394.6h0M344.8 442.6h0M332.3 390.7h0M320.5 394h0M323 378.2h0M326.2 361.2h0M343.8 437.3h0M338.9 422.1h0M326.7 370.7h0M328.8 380.5h0M330.7 414.5h0M356.7 450.9h0M345.3 430h0M321.8 408.2h0M336.7 405.3h0M349.4 440.3h0M351.2 444h0M322.4 368.9h0M356.9 455.3h0M343.9 426h0M327.4 371.4h0M334.4 410.3h0M321.8 359h0M334.3 409.7h0M345.6 427.6h0M344.8 426.1h0M334.7 411h0M338.3 411.3h0M318.6 400.9h0M327.5 388.2h0M318.7 374h0M344.2 430.7h0M339.6 420.1h0M340.7 418h0M355.1 447.2h0M323.3 368.2h0M332.6 403.2h0M351.2 448.4h0M323.6 372.9h0M325.5 367.9h0M327.3 376.1h0M323.8 388.9h0M326.8 378.4h0M362.1 460.5h0M357.5 456.8h0M345.7 439.4h0M329.9 380.2h0M325.8 377.4h0M332.7 407.9h0M326 361.5h0M357.8 452.9h0M354.8 451.2h0M356.7 449.9h0M332.3 394.2h0M334.9 400.6h0M322.4 357.2h0M360.9 460.3h0M324.3 363.9h0M322.8 372.2h0M358.3 455.5h0M348.5 440.4h0M344.8 435.2h0M329.1 393.2h0M331.2 400.2h0M330.6 394.8h0M336.2 406.9h0M325.4 360h0M342.1 422.8h0M316.6 359.2h0M333.9 400.5h0M341.9 421h0M352.2 443.4h0M336.3 404.3h0M333.4 393.4h0M354 448.9h0M333.7 409.2h0M309.3 361.3h0M330.1 412.6h0M351.7 441.3h0M342 425.9h0M337.7 411h0M335 403.8h0M314.1 387h0M328.7 395.1h0M351.6 442.5h0M344.1 432.8h0M359.1 457.4h0M356.5 452.5h0M331.5 396.3h0M335.6 417.3h0M337.6 415.7h0M331.2 394.8h0M334 397.9h0M320 369.9h0M352.3 446.3h0M345.5 432.6h0M326.5 364.3h0M357.1 455.6h0M337.9 413.4h0M322.5 356.2h0M343.9 424.6h0M336.8 414.5h0M324.7 369h0M333.7 400h0M336.2 424.1h0M329.6 381.9h0M316.6 375.4h0M330.9 385.5h0M326.7 370.5h0M328.4 403.7h0M325.9 362.2h0M356.7 454h0M335.3 410h0M304.8 391.9h0M331.4 384.1h0M339.1 421.9h0M328.3 410.9h0M326 395.2h0M323.5 364.5h0M326.6 407.5h0M358.7 454.1h0M343.9 427.7h0M346 439.6h0M328.2 376.5h0M338.2 418.6h0M335.6 407.1h0M358.8 459h0M327.4 384.2h0M332.3 396.8h0M314.5 394.1h0M359.4 458.3h0M334.6 399.3h0M308.7 373.6h0M353.5 450.5h0M354 444.9h0M329.7 384.5h0M340.6 416h0M322.9 380.5h0M342.2 425.4h0M355.7 450.3h0M353.2 446.3h0M337.4 423.9h0M327.6 375.8h0M304.8 379.4h0M329.9 379h0M352.4 443.7h0M346.4 435h0M326.1 366.1h0M352.4 447.5h0M324.1 357h0M340.2 417.6h0M334.3 412.6h0M359.2 456.5h0M334.2 401.2h0M341.4 426.6h0M354.3 394.3h0M360 432.7h0M350.6 361.8h0M352.6 380.8h0M356.9 418.1h0M358.4 429.6h0M354.3 378.9h0M359.4 429.6h0M359.5 435h0M351.4 366.4h0M360.3 438.4h0M353.9 388.3h0M363.8 455.1h0M390.7 361.8h0M386.1 385.1h0M379.5 421.7h0M398.4 361.2h0M386.8 411.4h0M389.1 366.2h0M368.2 448.3h0M376.6 427.5h0M374.5 441.8h0M386.2 403.3h0M377.5 418.3h0M393.4 355.9h0M384.6 388.1h0M391.4 397.2h0M363.4 458.9h0M373.8 434.8h0M376.6 425.3h0M368 455.4h0M363 456.5h0M386.6 374.1h0M366.9 450.3h0M366 451.3h0M389 401.8h0M387 424.5h0M387.5 369.1h0M384.8 392h0M389.6 398.7h0M375 433.3h0M385.5 400h0M389.3 378.6h0M388.5 393.7h0M383 409.2h0M366.1 452.6h0M387.9 378.8h0M368.7 450.8h0M389.6 372.2h0M378.6 427.8h0M373.7 435.6h0M387.8 415h0M399.3 356.5h0M382.2 393h0M383.1 396.7h0M397 393.7h0M375.6 426.7h0M388.3 379h0M383 391.1h0M384.4 393.7h0M389.6 379h0M388.7 377.8h0M395.6 388.1h0M381.5 422.7h0M372 445h0M364.9 456.1h0M378.6 419.5h0M388.5 416.9h0M388.3 391h0M362.8 458.7h0M404.7 365.3h0M374.3 434.8h0M394.1 375.4h0M387 392.7h0M387.3 378.4h0M397.1 395.8h0M381.4 403.7h0M383 409h0M390.7 370.4h0M384.1 390h0M375.5 430.6h0M379.6 435.7h0M384.5 387.9h0M369.2 444h0M384.9 415.1h0M376.2 424.1h0M368.1 452.8h0M398.7 369.5h0M384.2 414.6h0M392.9 363.9h0M390 395.1h0M394.2 360h0M383.7 395.4h0M386.3 380.8h0M396.3 373.2h0M375.4 439.2h0M392 364.6h0M403.5 363h0M389 356.2h0M388.3 363.2h0M389.6 380.4h0M365.9 452.1h0M399.7 366.9h0M367.5 456.2h0M388.1 371.6h0M396.9 366.2h0M394.6 363.7h0M390.1 368.7h0M384.5 420.2h0M385.6 432.7h0M362.6 458.9h0M382.3 405.8h0M389.4 364.9h0M362 457.3h0M387.2 372.4h0M389.4 360h0M366.7 450.7h0M384 400.2h0M388.8 362.8h0M384.7 384.4h0M386.6 394.1h0M394.1 379.6h0M373.2 434.7h0M394.8 398.6h0M362.4 456.2h0M361.5 458.1h0M369 446.1h0M394.1 387.8h0M371.1 440.6h0M383.8 400.6h0M369.6 444h0M389.9 357.7h0M370 450.3h0M379.6 406.3h0M392.9 355.3h0M380.1 411.5h0M395.2 355.7h0M374.4 440.1h0M378 431.7h0M383.1 388.6h0M379.6 418.2h0M373.7 440.2h0M369.3 444.5h0M372.3 437.4h0M381.7 404.1h0M387.9 384.9h0M378.5 412.8h0M386.4 384.3h0M364.4 456.1h0M373.8 440.6h0M374.8 427.1h0M383.7 397.7h0M386.3 383.1h0M363.8 458.6h0M381.6 395.3h0M384.8 392.8h0M382.2 418.6h0M393.6 363.5h0M399.2 359.6h0M393.8 357h0M378.5 416.6h0M389.8 359.4h0M378.2 414.2h0M384.5 405.8h0M377.5 425.8h0M373.5 437.7h0M386.3 374.3h0M394.3 358.4h0M391 378.9h0M382.5 414.7h0M379.9 417.7h0M384.6 402.2h0M381.6 400.8h0M384.4 408.9h0M384.2 395.5h0M387.4 379.2h0M364.7 461.1h0M377.4 431.4h0M393 380.1h0M371 441.1h0M375.8 429.4h0M389.2 370.7h0M387.3 392.1h0M387.2 387.4h0M384.4 395.8h0M375.3 438.4h0M385.1 381.8h0M365.4 452.9h0M379.3 416.7h0M388.6 412.2h0M382.3 438.5h0M388.5 364.5h0M363.2 457.2h0M383.8 395.7h0M361 460.9h0M361.6 461h0M385.8 378.6h0M369 447.2h0M378.2 423.1h0M398.6 376h0M362.3 459h0M385.3 390.7h0M379.4 412.1h0M381.2 402.9h0M393.9 396.5h0M383.6 419.9h0M364.4 458.7h0M382.8 426.5h0M370 444.3h0M381.7 422.8h0M379.5 419.5h0M370.6 443.6h0M386.9 412h0M402 384.9h0M364 454.6h0M385.2 381.3h0M391.8 398.8h0M389.6 372.7h0M380.3 433.3h0M363.3 458.1h0M387.8 377.4h0M385.7 414.3h0M367 448.5h0M388.8 374h0M390.2 358.6h0M378.5 412.8h0M393.6 361.6h0M394.4 403.4h0M382.2 399.2h0M376.6 425.8h0M379.7 417.5h0M379.4 424.6h0M377.6 444.3h0M383.9 385.3h0M385.7 383.3h0M366.1 451h0M388.1 375.4h0M390.6 359h0M368.6 446.3h0M396.7 358.9h0M385.8 387.3h0M392 363.9h0M385 394.2h0M405.8 386.2h0M375.5 434.2h0M375.6 435h0M395.2 376.4h0M382.2 393.9h0M391.4 365.6h0M373.5 442.6h0M377.5 418.4h0M360.9 459.7h0M385.6 383.8h0M389.1 372.7h0M396.4 363.3h0M379 424.9h0M368.6 445.8h0M364.9 453.8h0M382.9 393.2h0M384.9 379.6h0M405.6 372.2h0M366.7 450h0M386.2 381.9h0M381.7 415.5h0M393.4 362.9h0M388.3 393.6h0M383.5 412.2h0M376.3 425.4h0M377.8 429.7h0M368.3 447.1h0M390 400.7h0M368.2 446.1h0M367.1 451.1h0M376.3 432h0M391.7 369.8h0M375.3 437.8h0M389.5 407.1h0M378.7 417h0M372 440.7h0M375.3 430.3h0M389.4 392.8h0M362.8 459.9h0M384.5 387.1h0M391 371.4h0M376.2 436.5h0M398.8 363.2h0M380.1 406.6h0M381.9 420.3h0M390.6 358.4h0M388.8 366.6h0M367.6 452.3h0M395.7 357.3h0M362.7 458.9h0M365.6 453.3h0M391.9 392.2h0M394.6 358h0M382.5 409.2h0M385.1 387.3h0M386 406.3h0M368.2 447.4h0M374.2 438.5h0M381.7 394.8h0M384.4 424h0M379.9 415.4h0M390.6 359h0M369.1 449h0M390.7 364.1h0M361.5 460.4h0M378 424.7h0M392.8 354.9h0M395.8 366.6h0M375.8 431.8h0M366.8 406.6h0M366.7 410.5h0M365.1 423.9h0M366.6 404.4h0M372.6 361.5h0M369 386h0M368 393.4h0M368.5 393h0M362.1 440.5h0M361.6 440.9h0M365.5 413.5h0M370.8 367.9h0M391.6 316.4h0M410.9 316.8h0M393.4 315.5h0M416.6 317.7h0M410.8 317.6h0M398.2 315.4h0M388.4 316.6h0M387.7 316.9h0M415.1 316.9h0M388.3 317.2h0M394 317.3h0M397.6 317.2h0M393.9 315.3h0M400.1 315.8h0M398.2 315.7h0M396.2 317.3h0M387.5 341h0M379.8 351.8h0M393.6 326.8h0M391.9 353.7h0M383.2 321.4h0M389.7 332.6h0M394 322.2h0M378.3 345.7h0M385.3 354.2h0M389.9 326.8h0M387.4 338.7h0M393.8 321.9h0M390.7 344.1h0M393 323.1h0M380.9 334.3h0M389.8 345.9h0M380.7 340.7h0M388.8 343.1h0M378.9 343.2h0M395.2 345.1h0M391.3 347.9h0M394.7 322.7h0M391 340.9h0M383.8 337h0M379.2 336.4h0M395.1 333.9h0M383.8 319h0M396.2 347.4h0M391.5 322.2h0M381.6 349.7h0M377.6 353.4h0M389.3 324.9h0M312.8 327.2h0M317.8 317.8h0M327 329.6h0M313.8 321.1h0M326.5 332.2h0M335.8 332.1h0M346.5 334.1h0M330.7 328.7h0M325.2 337.2h0M339.5 328.5h0M329.3 349.1h0M345.3 324.7h0M331.2 348.1h0M337.5 346.4h0M334.3 328.3h0M338.5 324.2h0M339.1 332.5h0M337.2 333.8h0M340.9 350h0M335.9 351.3h0M345.5 325.5h0M343.1 323.2h0M327.8 346.7h0M339.3 336.3h0M328.4 349.3h0M342.1 347.2h0M327.4 339h0M339.4 346.6h0M329.6 339.7h0M334.5 336.5h0M339.9 328.4h0M323.9 336.6h0M332.9 347.1h0M343.1 334.1h0M428 335.1h0M400.5 333.8h0M398.4 332.9h0M410.1 341.3h0M422 348.3h0M322.7 347.4h0M324.6 345.1h0M323 349.4h0M320 344.6h0M320.2 349.2h0M315.8 345.8h0M311.2 406.3h0M319.9 438.4h0M303.4 369.9h0M331.1 440.9h0M310.3 394.6h0M331.9 436.4h0M411 402.3h0M416.6 370.4h0M408.4 397.5h0M400.7 376.7h0M400.8 360.7h0M405 416h0" stroke="#000" stroke-width="3.0" stroke-linecap="round" fill="none" stroke-opacity="0.5"/>
<path d="M333.1 336.7h0M323.6 339h0M336.4 340.1h0M336.1 341.3h0M333.2 332.6h0M324.2 318.5h0M325.9 336.3h0M321.2 347.4h0M334.1 323.7h0M329.3 349.3h0M325.4 325.2h0M313 344.2h0M318.7 342.5h0M315 343.1h0M331.3 320.7h0M310.2 329.8h0M323.3 326.6h0M331.2 350.5h0M332.8 339.4h0M317.1 329.3h0M330.2 329.2h0M334.8 324.6h0M330.3 324.3h0M310.3 342.7h0M321.8 329.1h0M322.1 323h0M330.1 327.4h0M330.4 350h0M321 338.5h0M316.1 324.9h0M338.4 339.9h0M317.9 347.6h0M312.6 333.7h0M327.2 328.3h0M327.2 349.9h0M322.1 352.3h0M327.2 347h0M311.3 340.4h0M324.6 352.1h0M319.6 350.2h0M329.9 329.4h0M309.6 336.5h0M329.9 330.4h0M343.4 353.2h0M343.6 345.2h0M337.7 350.3h0M325.6 332.5h0M321.1 337.5h0M309.2 337.6h0M341.1 351.4h0M333.8 353.3h0M325.4 331.4h0M320.8 350h0M320.6 325.9h0M338.5 341.7h0M310.1 333.8h0M331.9 348.9h0M341.9 351.9h0M326.9 340.3h0M324 322.5h0M340 340h0M309.5 331.5h0M342.1 345.7h0M337.4 339.7h0M303.8 325.9h0M314.8 321.1h0M345.2 351.4h0M333.4 333.7h0M341.4 343h0M342.5 342.4h0M337.8 332.2h0M324.8 353.3h0M324.3 338.3h0M320.8 324.6h0M341.9 349.9h0M316.7 344.9h0M337.4 334.8h0M327.3 346.1h0M321.1 353.3h0M338.6 342.6h0M342.7 353.4h0M327.6 319.7h0M340 341.3h0M319.3 348.9h0M307.4 323h0M318 339.2h0M337.9 349.5h0M340.2 340.4h0M328.8 337h0M321.9 346.8h0M325.4 349.3h0M335.4 330.7h0M332.8 340h0M318.3 337h0M319.4 337.3h0M317.8 338.1h0M313.4 322.8h0M330.1 329.5h0M342.2 341.6h0M310.6 320.8h0M328.3 328.4h0M323 330.4h0M325.6 347.5h0M326.4 353.6h0M307.7 330.8h0M334 330.1h0M318.8 346.8h0M329.5 351.4h0M312 338.3h0M325.6 350.3h0M327.7 332.8h0M325.7 324.5h0M333.7 340.6h0M332.7 353h0M312 320.4h0M328.1 351.3h0M336.7 349.2h0M313.9 343.7h0M318.2 323.4h0M317.3 330.5h0M322.7 327.4h0M332.2 339.7h0M319.9 351.3h0M319.1 341.5h0M338 333.1h0M340.4 346.5h0M320 323.8h0M342.5 345.8h0M305 320.8h0M326 323.7h0M319.4 351.1h0M339.3 341.6h0M319.5 350.8h0M328.9 350.6h0M319.2 333.4h0M333.5 323.9h0M319.6 330.7h0M310.9 332h0M343.1 349.1h0M323.7 316.1h0M329.3 337.4h0M322.7 337.8h0M342 347.8h0M312.2 319.6h0M326.1 345h0M326 325h0M343.2 347.9h0M338.6 339.1h0M315.5 351.3h0M333.5 329.6h0M338.6 347.8h0M327.8 350h0M334.1 339.2h0M334.4 330.5h0M328.9 343.5h0M318.6 341.2h0M339.6 337h0M337.7 335.3h0M328.2 332.4h0M318.5 323h0M320.7 331h0M319.3 348h0M325.6 350.9h0M312.2 337.4h0M308.2 321.4h0M314.1 321.7h0M320 325.4h0M343.4 351.7h0M341.7 347h0M338.7 333.5h0M331.7 339.4h0M317.7 351.4h0M325.4 353.1h0M304.1 322.5h0M317.5 349.7h0M333.6 351.2h0M325.6 322.3h0M316.3 337.1h0M325.4 343.4h0M335.1 330h0M314.1 328.1h0M325.4 316.4h0M338.8 348.6h0M336.8 343.1h0M317.9 336.5h0M327.1 330.5h0M338.3 337.6h0M331.9 337.3h0M323.8 345.3h0M336.6 340.1h0M343.3 350.9h0M337.7 339.8h0M336.1 338.7h0M305.7 323.7h0M320.6 336.8h0M311.9 338.5h0M311.3 329.6h0M323.8 333.9h0M316.6 344.9h0M317.7 342.3h0M334.5 341.2h0M334.8 346h0M339.5 343h0M323.9 339.2h0M343.9 351h0M322.2 332.3h0M315.7 342.8h0M329.9 330h0M320.5 328.3h0M328.5 326h0M337.6 351.3h0M344.6 349.6h0M331.1 336.9h0M319.2 353.2h0M329.3 340.3h0M344 352.3h0M330.7 317.2h0M301 317h0M334.1 329.6h0M336.7 331.6h0M311.6 340.4h0M344.2 347.8h0M314.6 352.8h0M335.8 341.1h0M298.9 317.7h0M313.1 330.8h0M315.8 316.6h0M340.6 340.3h0M324.7 323.8h0M335.8 335.7h0M319.9 332.4h0M336 353h0M335.7 344.2h0M317.5 352h0M318.3 346.2h0M320.9 329.1h0M320.5 337.2h0M344.1 347.9h0M344.9 348.1h0M305.9 317h0M316.7 316.8h0M335.2 350.3h0M316.4 316.5h0M333.9 332.4h0M339 351h0M334.9 333.3h0M344.4 347.1h0M325.9 351.3h0M337.9 344h0M318.5 328.7h0M326.6 352.2h0M330.9 353.4h0M314.4 353.5h0M331.7 337.8h0M311.3 330.6h0M320.5 334.9h0M314.4 328.1h0M316.7 331.8h0M327.9 346.4h0M300.7 321.1h0M312.7 318.3h0M334.4 348.9h0M333.7 343.5h0M315.1 319.6h0M328.4 325.4h0M330.7 331.9h0M315 348.1h0M341.5 344.1h0M326 327.7h0M331.9 341.9h0M341.3 352.7h0M325.4 337.1h0M312.9 329.1h0M313.6 349.3h0M343.8 346.4h0M326 334.1h0M315.6 320h0M327.6 336.3h0M307.8 336.6h0M330.5 318.3h0M323.8 346.2h0M338.5 337.4h0M311.4 342.6h0M330.7 323.5h0M316.9 347.5h0M311.1 334.8h0M327.8 324.3h0M324.7 330.6h0M314.5 323.8h0M337.2 341.5h0M329.6 330.5h0M342.6 348.8h0M318.4 346.3h0M325.5 342.3h0M321.8 343.3h0M316.8 332.7h0M335.2 327.8h0M340.3 350.7h0M320.2 347.7h0M319.6 333.2h0M330.8 316.8h0M315.5 316.5h0M316.9 316.4h0M309.2 317.1h0M332.1 316.7h0M313.2 316.1h0M323.4 316.3h0M328.4 316.7h0M314.9 316.5h0M317 316.8h0M308.2 315.8h0M316.3 316.2h0M310.2 316.9h0M315.7 316.9h0M320.8 316.5h0M329.1 317h0M309.2 316h0M316.1 316.5h0M274.3 332h0M289.9 319.3h0M296.6 315.5h0M302.2 315.5h0M298.9 353.3h0M293.3 350.6h0M300 338.9h0M307.8 349.6h0M305.6 352.2h0M312.2 328.3h0M400.5 320.6h0M386.8 328.2h0M384.3 330.1h0M386.7 352.3h0M379 346.8h0M393.7 346.4h0M393 331.3h0M400.6 320.5h0M381.8 338.2h0M388.3 333.6h0M386.9 340.5h0M395.5 348.8h0M400.4 351.6h0M384.2 345h0M383.8 352.9h0M401.3 329.6h0M384.8 348.7h0M389.3 351h0M396.2 330.5h0M390.3 349.4h0M383.1 348.6h0M401.4 348.1h0M407.1 326.1h0M383.8 329.2h0M378.3 347.4h0M384.8 332.4h0M391.7 334.5h0M386.3 323.9h0M388.3 331.6h0M380.8 345.2h0M398.2 343.8h0M376.8 351h0M391.1 321h0M387.7 337.6h0M398.6 343.1h0M384.1 325h0M394.3 341.4h0M385.3 341h0M390.8 318.8h0M407 329.2h0M394.3 326.1h0M393.3 349.4h0M384.5 328.4h0M401 331.4h0M406.6 326.5h0M406 320.3h0M396.2 341h0M401.2 319.7h0M397.4 318.4h0M396.5 353.1h0M393.2 334.7h0M398.8 330.5h0M384.2 351.9h0M388.6 335.5h0M394.1 338h0M380.1 341.8h0M384 342.6h0M379.4 347.5h0M388.2 324.1h0M395 346.1h0M383 335.9h0M387.1 335.9h0M384.5 344.4h0M393 328h0M395.1 353h0M380.1 345.5h0M385.8 319.8h0M390.1 323.5h0M394.4 319h0M388.6 348.9h0M385.1 338.4h0M388.8 319.4h0M397.3 337h0M381.5 351.2h0M401.9 327.3h0M399 317.5h0M392.3 347.2h0M383.1 333.3h0M377.2 351.4h0M381.5 348.9h0M386.2 319.6h0M378.9 345.4h0M389.2 339.4h0M388.5 333.4h0M384.6 325h0M406.2 317.4h0M396.1 324.5h0M391.2 349.1h0M399.5 331.2h0M389.5 323.8h0M399.1 321.2h0M377.6 347.9h0M376.1 353.4h0M382.3 349.1h0M391.4 317.3h0M402.4 327.9h0M404 333.2h0M391.1 331.6h0M403.2 337h0M392.6 318.7h0M399.9 349.8h0M393.2 321.8h0M375.7 353.4h0M384.1 353.1h0M387.7 329.2h0M377.3 351.2h0M379.6 343.2h0M406.1 323.6h0M388 343.6h0M382.9 333.7h0M383.8 338.6h0M392.6 345.6h0M401.2 328.1h0M381.7 350.2h0M395.3 319.6h0M404.4 333.9h0M388 351.2h0M390.4 322.5h0M396.8 339.6h0M402.1 343.3h0M386.5 317.3h0M388.6 350.4h0M385.7 330.3h0M387.2 318.6h0M394.1 324.8h0M401.1 348.2h0M392.2 342.2h0M399.1 346.4h0M389.1 345.4h0M378.2 353.7h0M405.5 333.6h0M388.7 347.8h0M387.3 346.6h0M393.2 342.5h0M395.4 323.1h0M386.9 341.7h0M402.6 340.1h0M380.8 337.3h0M389.5 349h0M379.3 347h0M393.2 320.8h0M395.2 331.4h0M398.9 346.1h0M385.8 345.1h0M397.3 347.9h0M398.9 317h0M408.1 319.3h0M387.6 349.5h0M401.5 338.2h0M383.7 335.1h0M392 338.8h0M389.5 349.8h0M396.9 334.1h0M381.7 349.1h0M391.3 329.7h0M392.9 324.1h0M396.5 351.2h0M379 348.3h0M384.7 331.1h0M393 326.1h0M391.1 335.4h0M392 348.2h0M380.5 340.1h0M397.7 316.9h0M388.7 332.9h0M398.4 323.3h0M388.3 348.9h0M404.1 321.8h0M403.7 338.4h0M404.9 328.6h0M380 342.9h0M381.4 334.7h0M394 325.2h0M389.3 351.7h0M386.4 353h0M381.6 351.6h0M380.4 352.7h0M377.7 348.3h0M392.1 320.1h0M409 319.3h0M397.3 349.6h0M394.9 316.9h0M393.5 344.8h0M394 348.2h0M389.7 330.4h0M385 346.7h0M388.9 339.6h0M381.3 347.4h0M399.4 321.5h0M387.3 342.8h0M395.6 340.9h0M388.1 339h0M380.4 349.1h0M379.2 352.1h0M386 318.5h0M391.7 327.7h0M398 343.6h0M394.7 320.5h0M391.9 323.4h0M384.6 349.6h0M387.5 326.6h0M387.7 342.7h0M387.9 332h0M381.8 347.1h0M386.6 319.1h0M385.7 321.9h0M392.2 341.3h0M389.2 323.3h0M386.4 343.1h0M393.5 341.1h0M400.7 336.1h0M381.8 336.2h0M405.2 323.3h0M388.8 353.6h0M382 348.5h0M383.4 351.7h0M386.2 320.3h0M393.2 316.9h0M383 349.8h0M385.4 345.9h0M399.2 347.9h0M392.8 345.4h0M394.4 320.5h0M403.3 334.7h0M402.3 345.2h0M400.6 331.7h0M391.6 338.5h0M404.3 332h0M385.5 340.3h0M388.4 342.8h0M381.1 335.7h0M387 338.9h0M388.6 331.3h0M397.6 338.4h0M391.1 335.6h0M387.6 333.9h0M398.9 324.1h0M399.1 352.7h0M381.9 349.5h0M377 352.3h0M390.8 339.4h0M390.3 342h0M382 340.6h0M395.6 324h0M389.9 334.1h0M388.9 328.9h0M400.7 323.3h0M397.8 321.2h0M383.8 329h0M383.5 347.3h0M395.7 339.1h0M396.1 331.1h0M382.2 350.1h0M385.8 348.3h0M386.9 331.7h0M394.6 323.6h0M404.2 333.2h0M383.4 338h0M383.1 345h0M386.6 334.2h0M388.9 324.6h0M385.3 342.1h0M390.9 323.6h0M392.1 347.6h0M391.4 338.6h0M388.7 335.1h0M388.6 344.5h0M390.9 321.5h0M386.8 318.6h0M404.1 331h0M386.1 324.5h0M393 319.4h0M395.4 334.2h0M401.4 342.8h0M396.8 322h0M393.2 338.3h0M396.9 342.8h0M398 336.8h0M385.5 349.8h0M390.1 350.8h0M393.4 323.9h0M403.6 333.4h0M380.2 343.5h0M383.5 353.5h0M397.1 324.2h0M384.4 339.9h0M389.5 320.1h0M404.1 331.5h0M403.8 323.1h0M391.8 349.1h0M386.7 334.4h0M387.8 325.7h0M403.9 340.1h0M387.1 319.9h0M382 338.5h0M381.1 336.4h0M383.7 334.8h0M390 318.1h0M390.1 353.5h0M377.5 348.1h0M384.9 329.2h0M382.5 343.4h0M390.6 338h0M392.1 336.4h0M393.1 337.5h0M389.5 322.6h0M390.8 342.4h0M393.3 326.6h0M391.6 329.6h0M378.8 352.6h0M379.2 350.1h0M393.6 335.7h0M385.3 351h0M393.5 348.5h0M392.1 324.3h0M395.5 327.6h0M399.4 322.1h0M400.5 327.6h0M401 345.7h0M383.6 340h0M392 341.1h0M392.7 346.7h0M403 321.4h0M395.2 332.1h0M382.4 334.5h0M396.2 321.9h0M379.6 347.1h0M383.3 336.3h0M388.6 348.9h0M387.5 347.1h0M397 333.7h0M393.1 318.7h0M385.7 343.7h0M382.8 345.6h0M393.3 322.9h0M391.4 330.6h0M391.3 335.2h0M385.9 322.4h0M382.5 351.4h0M393.9 339.3h0M395.2 336.2h0M383.5 352.8h0M385.9 343.5h0M400.1 324.3h0M383.7 333.3h0M397.1 348.5h0M390.1 352.4h0M385.1 344.5h0M397.6 330.6h0M378.2 351.3h0M387.5 322.1h0M388.8 334.6h0M388.8 321.3h0M380.8 343.1h0M390.8 340.2h0M389.9 318.1h0M382.5 330.5h0M388.8 347.5h0M392.4 320.6h0M389.1 348h0M392.7 323.9h0M381.4 337.3h0M386.4 326.9h0M387.1 348.8h0M385.7 322.4h0M396.2 342.1h0M384.3 349.8h0M382 337.7h0M394 341.2h0M379.8 353.8h0M384.4 341.7h0M390.9 328.6h0M376.2 353h0M390.2 340.9h0M403.2 320.1h0M394.3 350.1h0M382.4 352.4h0M379.4 347.6h0M391.1 337.8h0M377.2 351.5h0M406.8 316.4h0M400.4 316.4h0M394.2 316.4h0M408.5 316.7h0M389.8 315.8h0M403.1 315.9h0M391.5 316.2h0M385.4 315.6h0M387.9 315.8h0M405.1 316h0M389.5 315.9h0M391.2 316.2h0M410.4 316.1h0M419.3 316.1h0M432.7 316.1h0M408.1 336.3h0M410.4 346.9h0M400.3 344.3h0M401.4 352.2h0M408.1 299h0M452.7 307h0M403.7 328.3h0M405.9 333.6h0" stroke="#8f288d" stroke-width="2.7" stroke-linecap="round" fill="none"/>
<path d="M341.6 338.8h0M341.9 335.9h0M330.4 334.6h0M332.2 324.9h0M337.2 336.1h0M333 339.7h0M331.8 336.4h0M338.3 324.3h0M341.8 343.3h0M344.4 338.1h0M328.5 330h0M331.6 329.6h0M338.8 330h0M330.7 336.2h0M329.3 331h0M330.5 339.1h0M330.8 337h0M340 339h0M335 328.2h0M333.2 332.4h0M327.9 326.9h0M333.3 343.8h0M343.4 333.7h0M336.7 334.7h0M336.8 336.2h0M333.6 341.6h0M329.4 327.5h0M334.2 337.3h0M327.6 336.2h0M339.3 337.3h0M329.9 329.2h0M339.9 331.7h0M337.1 328.6h0M331.2 342.5h0M334 341.8h0M331.4 325.6h0M341 335.1h0M341.4 332h0M329.9 330.4h0M330.3 331.2h0M337.5 331.5h0M334.3 328.7h0M329.1 326.9h0M332.7 331h0M329.7 332.5h0M390.2 317.9h0M388.6 321.6h0M390.7 331.1h0M380.6 325.1h0M383.4 326h0M387.1 329.5h0M383.9 335.6h0M381.6 321.6h0M392.2 324.1h0M394 324.3h0M393.9 336.6h0M390.4 335.8h0M395.8 318.7h0M384.5 324.9h0M385 334.3h0M387.6 338.8h0M386.3 328.6h0M383.4 322.7h0M404.1 335.6h0M399.3 325.3h0M390.4 329.1h0M389.9 331.4h0M384 329.6h0M382 327h0M380.4 317.9h0M395.2 332.2h0M394.9 329.3h0M403.3 323.8h0M402.3 328.8h0M405.8 333.7h0M381 322.3h0M393.3 337.1h0M390.7 333.5h0M397.3 318.7h0M401.1 329h0M404 318.9h0M381.1 333h0M389.4 331.1h0M387.7 335.2h0M381.2 338.7h0M389.1 331.3h0M405.3 319h0M391.1 333.2h0M387.8 318.5h0M389.9 337.1h0M386 331.3h0M404.6 329.6h0M399.2 321.4h0M389.8 318.3h0M398.3 333h0M402.8 318.5h0M383.8 327h0M386.4 324.3h0M392.7 320.1h0M399.5 318.1h0M410.7 317h0M416.5 316.6h0M396.7 317.2h0M404.9 317.4h0M414.2 317.2h0M398.2 316.3h0M410.6 316.5h0M414.6 316.3h0M414.4 316.4h0M399.3 316.8h0M401.6 317h0M399.7 317.6h0M414.9 315.7h0M413.1 317.6h0M413 315.9h0M404.4 317.1h0M394.4 316.2h0M392.3 316.4h0M403.1 315.6h0M414.7 316.6h0" stroke="#000" stroke-width="3.0" stroke-linecap="round" fill="none" stroke-opacity="0.45"/>
<path d="M341 324.9h0M343.2 340.3h0M341.8 338.7h0M330.8 338.9h0M341.9 333.1h0M338.3 341.4h0M335.7 337.4h0M339 340h0M336.3 341.3h0M343.2 330.1h0M327 330.1h0M329.9 323h0M338.9 322.7h0M332.6 336.3h0M344.5 341.2h0M330.9 332.7h0M340.3 337.5h0M338.3 327.6h0M340.5 329.7h0M332.7 342.7h0M333 336.1h0M341.2 324.9h0M329.6 342.2h0M331.6 343.6h0M333.2 326h0M342.7 324.5h0M333.6 322.9h0M337.8 332.9h0M345.6 326.3h0M335.1 326.8h0M345.4 337.5h0M342.9 336.5h0M338.6 325.5h0M340.1 343.2h0M336.4 335.6h0M329.1 327.8h0M333.2 334.2h0M335.9 338.3h0M336.5 328.2h0M342 329.1h0M344.4 336.2h0M343.5 335.8h0M344 342.3h0M339.3 331.4h0M344.9 341.1h0M382.3 320.4h0M387.8 330.8h0M397.2 324.2h0M384.1 327.2h0M381.9 318.7h0M382.4 338.8h0M397.9 334.3h0M391.9 326h0M402.7 327h0M381.2 320.2h0M404.4 338h0M396.5 329.5h0M387.6 332.6h0M385.5 338.8h0M381.9 320.9h0M397.7 329.5h0M383 336.4h0M398.2 335.4h0M405.3 338h0M392 331.8h0M384.3 322.6h0M398 321.5h0M403.9 324.4h0M382.9 326.6h0M381.1 332.1h0M381.8 337.8h0M387 318.2h0M389.2 338.2h0M393.3 323.1h0M387.7 320.6h0M401.1 323h0M392.2 326.6h0M401.2 327.8h0M387.4 338.6h0M380.9 330.3h0M395.1 320h0M395.6 336.5h0M401.7 323.6h0M395.3 332.3h0M394.4 324.7h0M405.4 324.7h0M389.5 336.2h0M399.4 324.2h0M394 320.7h0M395.8 331.2h0M392.8 324.8h0M382.2 337.7h0M387.4 318.5h0M398.7 336.9h0M402.8 328.7h0M382.9 332h0M404.1 337.8h0M383.1 328.8h0M383.7 329h0M383.6 325.5h0M399.2 316.7h0M404.2 316.1h0M400.7 316.6h0M409 316.5h0M398.9 316.7h0M416.9 317.2h0M406.9 316.9h0M396.3 317.1h0M416.5 316.5h0M391.8 316.9h0M413.3 316h0M412.8 316.5h0M411 316.7h0M414.4 317.5h0M397.9 316.7h0M404.5 317.6h0M413.3 315.8h0M396.1 316.6h0M402.4 316.5h0M396.6 317h0" stroke="#000" stroke-width="3.0" stroke-linecap="round" fill="none" stroke-opacity="0.45"/>
<path d="M348.3 295.5V467M374.3 295.5V467M264.8 354.9H457.5" stroke="#000" stroke-width="1.4" fill="none"/>
<rect x="264.8" y="295.5" width="192.7" height="171.5" fill="none" stroke="#000" stroke-width="1.4"/>
<path d="M261 461.3H264.8M261 434.7H264.8M261 408.1H264.8M261 381.5H264.8M261 354.9H264.8M261 328.3H264.8M261 301.7H264.8M272.1 467V470.8M316.7 467V470.8M361.3 467V470.8M405.9 467V470.8M450.5 467V470.8" stroke="#000" stroke-width="1.2"/>
<text x="256.6" y="465.3" text-anchor="end">0</text>
<text x="256.6" y="412.1" text-anchor="end">1</text>
<text x="256.6" y="358.9" text-anchor="end">2</text>
<text x="256.6" y="305.7" text-anchor="end">3</text>
<text x="270.3" y="484" text-anchor="middle">-4</text>
<text x="314.9" y="484" text-anchor="middle">-2</text>
<text x="361.3" y="484" text-anchor="middle">0</text>
<text x="405.9" y="484" text-anchor="middle">2</text>
<text x="450.5" y="484" text-anchor="middle">4</text>
<text x="361.3" y="499.2" text-anchor="middle">log2 Fold Change</text>
<text transform="translate(239.5 379.6) rotate(-90)" text-anchor="middle" font-size="10.6">-log10 p value</text>
<text x="362.7" y="290" text-anchor="middle" fill="#92278f">BIS vs control</text>
<defs><clipPath id="cb"><circle cx="607.8" cy="452.7" r="53.9"/></clipPath></defs>
<circle cx="575.1" cy="453.6" r="62.9" fill="#1b75b9"/>
<circle cx="607.8" cy="452.7" r="53.9" fill="#8f288d"/>
<circle cx="575.1" cy="453.6" r="62.9" fill="#000" clip-path="url(#cb)"/>
<circle cx="575.1" cy="453.6" r="62.9" fill="none" stroke="#000" stroke-width="1.1"/>
<circle cx="607.8" cy="452.7" r="53.9" fill="none" stroke="#000" stroke-width="1.1"/>
<text x="594.6" y="458.6" text-anchor="middle" fill="#fff">1575</text>
<text x="487" y="389.3" fill="#2a7ec1">NCBRS</text>
<text x="490.3" y="402.7" fill="#2a7ec1">1676</text>
<path d="M516.2 404.5L526.7 414.4" stroke="#27a6df" stroke-width="1.3"/>
<text x="648" y="391.3" fill="#92278f">BIS</text>
<text x="648.9" y="404.1" fill="#92278f">457</text>
<path d="M648.1 405.1L641.6 410.9" stroke="#92278f" stroke-width="1.3"/>
<g transform="translate(93.5 598.7) scale(5.05 1.2)" shape-rendering="crispEdges">
<path fill="#ff4040" d="M0 0h1v1h-1zM1 1h1v1h-1zM8 1h1v1h-1zM13 1h1v1h-1zM10 4h1v1h-1zM13 4h1v1h-1zM7 5h1v1h-1zM10 5h1v1h-1zM15 10h1v1h-1zM6 39h1v1h-1zM9 39h2v1h-2zM14 39h1v1h-1zM17 39h1v1h-1zM3 40h1v1h-1zM8 40h1v1h-1zM10 40h1v1h-1zM16 40h1v1h-1zM1 41h1v1h-1zM7 41h1v1h-1zM9 41h6v1h-6zM17 41h1v1h-1zM4 42h1v1h-1zM14 42h1v1h-1zM3 43h1v1h-1zM5 43h3v1h-3zM9 43h1v1h-1zM11 43h1v1h-1zM16 43h1v1h-1zM2 44h1v1h-1zM7 44h1v1h-1zM10 44h1v1h-1zM15 44h1v1h-1zM0 45h2v1h-2zM5 45h1v1h-1zM11 45h1v1h-1zM0 46h3v1h-3zM9 46h1v1h-1zM11 46h3v1h-3zM15 46h1v1h-1zM17 46h1v1h-1zM2 47h1v1h-1zM4 47h1v1h-1zM6 47h1v1h-1zM8 47h1v1h-1zM12 47h2v1h-2zM1 48h1v1h-1zM9 48h3v1h-3zM15 48h1v1h-1zM1 49h1v1h-1zM6 49h1v1h-1zM11 49h2v1h-2zM17 49h1v1h-1zM0 50h1v1h-1zM16 50h2v1h-2zM1 52h2v1h-2zM5 52h1v1h-1zM12 52h2v1h-2zM15 52h1v1h-1zM1 53h1v1h-1zM1 55h1v1h-1zM8 55h1v1h-1zM11 55h1v1h-1zM13 55h1v1h-1zM15 55h1v1h-1zM0 57h1v1h-1zM4 57h5v1h-5zM10 57h1v1h-1zM12 57h1v1h-1zM14 57h2v1h-2zM17 57h1v1h-1zM0 58h2v1h-2zM3 58h1v1h-1zM9 58h2v1h-2zM14 58h1v1h-1zM16 58h1v1h-1zM1 59h1v1h-1zM3 59h1v1h-1zM7 59h2v1h-2zM10 59h1v1h-1zM13 59h1v1h-1zM15 59h1v1h-1zM5 60h2v1h-2zM9 60h2v1h-2zM12 60h4v1h-4zM0 61h2v1h-2zM4 61h4v1h-4zM9 61h1v1h-1zM13 61h1v1h-1zM3 62h1v1h-1zM5 62h1v1h-1zM8 62h1v1h-1zM11 62h1v1h-1zM13 62h2v1h-2zM17 62h1v1h-1zM17 63h1v1h-1zM3 64h3v1h-3zM8 64h1v1h-1zM10 64h3v1h-3z"/>
<path fill="#ff9f9f" d="M1 0h1v1h-1zM6 0h1v1h-1zM9 0h1v1h-1zM17 0h1v1h-1zM0 1h1v1h-1zM4 1h1v1h-1zM7 1h1v1h-1zM0 2h3v1h-3zM4 2h3v1h-3zM9 2h3v1h-3zM16 2h1v1h-1zM0 3h1v1h-1zM3 3h1v1h-1zM5 3h2v1h-2zM9 3h2v1h-2zM12 3h1v1h-1zM17 3h1v1h-1zM3 4h2v1h-2zM9 4h1v1h-1zM16 4h1v1h-1zM17 5h1v1h-1zM3 6h1v1h-1zM6 6h5v1h-5zM12 6h1v1h-1zM15 6h1v1h-1zM1 7h2v1h-2zM4 7h1v1h-1zM6 7h1v1h-1zM8 7h1v1h-1zM11 7h1v1h-1zM15 7h1v1h-1zM1 8h2v1h-2zM4 8h2v1h-2zM9 8h1v1h-1zM11 8h1v1h-1zM16 8h2v1h-2zM1 9h1v1h-1zM8 9h1v1h-1zM14 9h1v1h-1zM16 9h1v1h-1zM1 10h1v1h-1zM6 10h1v1h-1zM16 10h1v1h-1zM8 11h3v1h-3zM12 11h1v1h-1zM15 11h1v1h-1zM0 12h1v1h-1zM3 12h3v1h-3zM9 12h1v1h-1zM14 12h1v1h-1zM17 12h1v1h-1zM3 13h3v1h-3zM7 13h4v1h-4zM15 13h2v1h-2zM5 14h1v1h-1zM6 18h1v1h-1zM10 18h1v1h-1zM13 18h1v1h-1zM0 20h1v1h-1zM2 20h1v1h-1zM9 20h2v1h-2zM2 22h1v1h-1zM2 26h1v1h-1zM6 26h1v1h-1zM2 28h1v1h-1zM8 28h1v1h-1zM13 28h1v1h-1zM15 28h1v1h-1zM8 29h1v1h-1zM12 29h1v1h-1zM15 29h1v1h-1zM0 30h1v1h-1zM4 30h3v1h-3zM9 30h1v1h-1zM15 30h1v1h-1zM17 30h1v1h-1zM4 31h2v1h-2zM8 31h1v1h-1zM15 31h1v1h-1zM1 33h1v1h-1zM3 35h1v1h-1zM10 35h2v1h-2zM8 37h1v1h-1zM1 38h1v1h-1zM7 45h1v1h-1zM9 51h1v1h-1zM13 51h5v1h-5zM2 53h2v1h-2zM6 53h1v1h-1zM14 53h1v1h-1zM1 54h1v1h-1zM4 54h1v1h-1zM6 54h2v1h-2zM9 54h1v1h-1zM12 54h1v1h-1zM16 54h1v1h-1zM3 55h1v1h-1zM5 55h1v1h-1zM3 56h1v1h-1zM7 56h1v1h-1zM13 56h2v1h-2zM7 63h1v1h-1zM14 63h2v1h-2z"/>
<path fill="#ff8080" d="M2 0h1v1h-1zM4 0h1v1h-1zM8 0h1v1h-1zM12 0h5v1h-5zM3 1h1v1h-1zM5 1h2v1h-2zM10 1h1v1h-1zM14 1h1v1h-1zM17 1h1v1h-1zM8 2h1v1h-1zM13 2h1v1h-1zM15 2h1v1h-1zM17 2h1v1h-1zM1 3h2v1h-2zM4 3h1v1h-1zM8 3h1v1h-1zM13 3h1v1h-1zM1 4h1v1h-1zM6 4h1v1h-1zM8 4h1v1h-1zM11 4h2v1h-2zM14 4h2v1h-2zM17 4h1v1h-1zM2 5h4v1h-4zM12 5h1v1h-1zM15 5h1v1h-1zM2 6h1v1h-1zM4 6h1v1h-1zM11 6h1v1h-1zM13 6h1v1h-1zM16 6h1v1h-1zM14 7h1v1h-1zM0 8h1v1h-1zM3 8h1v1h-1zM6 8h3v1h-3zM10 8h1v1h-1zM12 8h2v1h-2zM0 9h1v1h-1zM2 9h2v1h-2zM6 9h1v1h-1zM9 9h2v1h-2zM12 9h2v1h-2zM15 9h1v1h-1zM17 9h1v1h-1zM3 10h2v1h-2zM7 10h3v1h-3zM11 10h2v1h-2zM0 11h1v1h-1zM3 11h1v1h-1zM5 11h3v1h-3zM11 11h1v1h-1zM13 11h2v1h-2zM16 11h2v1h-2zM1 12h2v1h-2zM6 12h3v1h-3zM11 12h2v1h-2zM16 12h1v1h-1zM2 13h1v1h-1zM6 13h1v1h-1zM11 13h1v1h-1zM13 13h1v1h-1zM17 13h1v1h-1zM1 29h1v1h-1zM13 29h1v1h-1zM12 39h1v1h-1zM3 41h1v1h-1zM10 43h1v1h-1zM12 44h1v1h-1zM4 45h1v1h-1zM12 45h1v1h-1zM14 45h2v1h-2zM16 47h1v1h-1zM4 48h1v1h-1zM13 48h1v1h-1zM0 49h1v1h-1zM3 49h1v1h-1zM7 49h2v1h-2zM15 49h2v1h-2zM7 50h2v1h-2zM14 50h2v1h-2zM0 51h1v1h-1zM3 51h3v1h-3zM12 51h1v1h-1zM9 52h1v1h-1zM0 53h1v1h-1zM4 53h2v1h-2zM7 53h2v1h-2zM10 53h4v1h-4zM15 53h1v1h-1zM0 54h1v1h-1zM2 54h1v1h-1zM5 54h1v1h-1zM8 54h1v1h-1zM10 54h1v1h-1zM13 54h1v1h-1zM4 55h1v1h-1zM6 55h2v1h-2zM10 55h1v1h-1zM14 55h1v1h-1zM1 56h2v1h-2zM6 56h1v1h-1zM8 56h3v1h-3zM15 56h3v1h-3zM4 59h1v1h-1zM16 62h1v1h-1zM0 63h1v1h-1zM2 63h1v1h-1zM4 63h1v1h-1zM8 63h4v1h-4zM13 63h1v1h-1z"/>
<path fill="#ff6060" d="M3 0h1v1h-1zM5 0h1v1h-1zM7 0h1v1h-1zM10 0h2v1h-2zM2 1h1v1h-1zM9 1h1v1h-1zM11 1h2v1h-2zM15 1h2v1h-2zM2 4h1v1h-1zM5 4h1v1h-1zM7 4h1v1h-1zM0 5h2v1h-2zM6 5h1v1h-1zM8 5h2v1h-2zM11 5h1v1h-1zM13 5h2v1h-2zM16 5h1v1h-1zM1 6h1v1h-1zM5 6h1v1h-1zM14 6h1v1h-1zM17 6h1v1h-1zM10 7h1v1h-1zM13 7h1v1h-1zM4 9h2v1h-2zM7 9h1v1h-1zM11 9h1v1h-1zM0 10h1v1h-1zM2 10h1v1h-1zM5 10h1v1h-1zM10 10h1v1h-1zM13 10h1v1h-1zM17 10h1v1h-1zM1 11h2v1h-2zM13 12h1v1h-1zM1 13h1v1h-1zM12 13h1v1h-1zM0 39h1v1h-1zM2 39h3v1h-3zM7 39h1v1h-1zM11 39h1v1h-1zM15 39h1v1h-1zM4 40h1v1h-1zM14 40h1v1h-1zM2 41h1v1h-1zM5 41h1v1h-1zM15 41h2v1h-2zM4 43h1v1h-1zM8 43h1v1h-1zM12 43h2v1h-2zM17 43h1v1h-1zM3 44h1v1h-1zM8 44h1v1h-1zM2 45h2v1h-2zM6 45h1v1h-1zM8 45h3v1h-3zM16 45h2v1h-2zM3 46h6v1h-6zM10 46h1v1h-1zM16 46h1v1h-1zM0 47h2v1h-2zM3 47h1v1h-1zM5 47h1v1h-1zM11 47h1v1h-1zM15 47h1v1h-1zM17 47h1v1h-1zM0 48h1v1h-1zM2 48h2v1h-2zM5 48h4v1h-4zM12 48h1v1h-1zM14 48h1v1h-1zM16 48h2v1h-2zM2 49h1v1h-1zM4 49h2v1h-2zM9 49h1v1h-1zM13 49h2v1h-2zM1 50h6v1h-6zM9 50h1v1h-1zM11 50h2v1h-2zM2 51h1v1h-1zM6 51h3v1h-3zM10 51h2v1h-2zM0 52h1v1h-1zM3 52h2v1h-2zM6 52h3v1h-3zM10 52h2v1h-2zM14 52h1v1h-1zM16 52h1v1h-1zM16 53h1v1h-1zM11 54h1v1h-1zM0 55h1v1h-1zM2 55h1v1h-1zM9 55h1v1h-1zM12 55h1v1h-1zM16 55h2v1h-2zM0 56h1v1h-1zM5 56h1v1h-1zM11 56h2v1h-2zM2 57h1v1h-1zM9 57h1v1h-1zM5 58h1v1h-1zM6 59h1v1h-1zM9 59h1v1h-1zM12 59h1v1h-1zM14 59h1v1h-1zM3 61h1v1h-1zM10 61h2v1h-2zM17 61h1v1h-1zM0 62h1v1h-1zM2 62h1v1h-1zM4 62h1v1h-1zM6 62h2v1h-2zM10 62h1v1h-1zM12 62h1v1h-1zM15 62h1v1h-1zM1 63h1v1h-1zM3 63h1v1h-1zM5 63h2v1h-2zM12 63h1v1h-1zM16 63h1v1h-1zM0 64h1v1h-1zM2 64h1v1h-1zM6 64h2v1h-2zM14 64h1v1h-1zM17 64h1v1h-1z"/>
<path fill="#ffbfbf" d="M3 2h1v1h-1zM7 2h1v1h-1zM7 3h1v1h-1zM11 3h1v1h-1zM14 3h3v1h-3zM0 4h1v1h-1zM0 6h1v1h-1zM3 7h1v1h-1zM5 7h1v1h-1zM7 7h1v1h-1zM9 7h1v1h-1zM12 7h1v1h-1zM16 7h2v1h-2zM14 8h2v1h-2zM14 10h1v1h-1zM4 11h1v1h-1zM10 12h1v1h-1zM15 12h1v1h-1zM0 13h1v1h-1zM3 14h1v1h-1zM10 14h1v1h-1zM13 14h1v1h-1zM15 14h1v1h-1zM17 14h1v1h-1zM1 15h1v1h-1zM3 16h1v1h-1zM5 16h1v1h-1zM3 17h1v1h-1zM9 17h1v1h-1zM0 18h2v1h-2zM3 18h2v1h-2zM8 18h1v1h-1zM15 18h3v1h-3zM1 19h1v1h-1zM3 19h1v1h-1zM4 20h3v1h-3zM11 20h1v1h-1zM13 20h1v1h-1zM16 20h2v1h-2zM10 21h1v1h-1zM0 22h2v1h-2zM4 22h5v1h-5zM11 22h2v1h-2zM16 22h2v1h-2zM0 23h1v1h-1zM4 23h1v1h-1zM11 23h1v1h-1zM14 23h1v1h-1zM16 23h2v1h-2zM1 24h1v1h-1zM7 24h1v1h-1zM1 25h1v1h-1zM7 25h2v1h-2zM12 25h1v1h-1zM1 26h1v1h-1zM4 26h2v1h-2zM8 26h4v1h-4zM13 26h1v1h-1zM17 26h1v1h-1zM8 27h1v1h-1zM0 28h1v1h-1zM3 28h2v1h-2zM7 28h1v1h-1zM11 28h1v1h-1zM2 29h1v1h-1zM4 29h4v1h-4zM9 29h2v1h-2zM14 29h1v1h-1zM16 29h2v1h-2zM1 30h1v1h-1zM7 30h1v1h-1zM10 30h4v1h-4zM16 30h1v1h-1zM0 31h1v1h-1zM3 31h1v1h-1zM6 31h2v1h-2zM9 31h5v1h-5zM17 31h1v1h-1zM9 33h1v1h-1zM11 33h2v1h-2zM15 33h3v1h-3zM7 34h1v1h-1zM0 35h2v1h-2zM4 35h3v1h-3zM8 35h1v1h-1zM12 35h2v1h-2zM15 35h2v1h-2zM0 36h2v1h-2zM14 36h2v1h-2zM11 37h3v1h-3zM4 38h1v1h-1zM6 38h1v1h-1zM11 38h1v1h-1zM17 38h1v1h-1zM1 51h1v1h-1zM9 53h1v1h-1zM17 53h1v1h-1zM3 54h1v1h-1zM14 54h1v1h-1zM17 54h1v1h-1zM4 56h1v1h-1z"/>
<path fill="#ffdfdf" d="M12 2h1v1h-1zM14 2h1v1h-1zM0 7h1v1h-1zM14 13h1v1h-1zM2 14h1v1h-1zM4 14h1v1h-1zM6 14h4v1h-4zM11 14h2v1h-2zM14 14h1v1h-1zM16 14h1v1h-1zM3 15h1v1h-1zM5 15h1v1h-1zM7 15h5v1h-5zM13 15h1v1h-1zM16 15h2v1h-2zM0 16h3v1h-3zM7 16h2v1h-2zM10 16h2v1h-2zM13 16h1v1h-1zM16 16h1v1h-1zM0 17h1v1h-1zM2 17h1v1h-1zM4 17h1v1h-1zM7 17h1v1h-1zM10 17h4v1h-4zM17 17h1v1h-1zM2 18h1v1h-1zM5 18h1v1h-1zM7 18h1v1h-1zM9 18h1v1h-1zM11 18h2v1h-2zM14 18h1v1h-1zM2 19h1v1h-1zM5 19h2v1h-2zM8 19h2v1h-2zM11 19h1v1h-1zM13 19h2v1h-2zM16 19h2v1h-2zM1 20h1v1h-1zM3 20h1v1h-1zM7 20h2v1h-2zM12 20h1v1h-1zM15 20h1v1h-1zM8 21h1v1h-1zM11 21h1v1h-1zM17 21h1v1h-1zM3 22h1v1h-1zM13 22h2v1h-2zM1 23h3v1h-3zM5 23h2v1h-2zM10 23h1v1h-1zM12 23h2v1h-2zM0 24h1v1h-1zM5 24h1v1h-1zM11 24h2v1h-2zM16 24h2v1h-2zM0 25h1v1h-1zM2 25h2v1h-2zM5 25h2v1h-2zM10 25h1v1h-1zM14 25h1v1h-1zM0 26h1v1h-1zM3 26h1v1h-1zM7 26h1v1h-1zM12 26h1v1h-1zM14 26h3v1h-3zM1 27h2v1h-2zM9 27h1v1h-1zM15 27h1v1h-1zM17 27h1v1h-1zM5 28h2v1h-2zM9 28h2v1h-2zM16 28h2v1h-2zM0 29h1v1h-1zM3 29h1v1h-1zM11 29h1v1h-1zM2 30h2v1h-2zM8 30h1v1h-1zM1 31h2v1h-2zM14 31h1v1h-1zM16 31h1v1h-1zM3 32h1v1h-1zM6 32h1v1h-1zM8 32h2v1h-2zM16 32h1v1h-1zM0 33h1v1h-1zM2 33h1v1h-1zM4 33h3v1h-3zM14 33h1v1h-1zM0 34h2v1h-2zM4 34h1v1h-1zM8 34h2v1h-2zM16 34h2v1h-2zM2 35h1v1h-1zM7 35h1v1h-1zM9 35h1v1h-1zM14 35h1v1h-1zM17 35h1v1h-1zM4 36h2v1h-2zM10 36h1v1h-1zM13 36h1v1h-1zM16 36h2v1h-2zM0 37h4v1h-4zM5 37h3v1h-3zM14 37h1v1h-1zM16 37h1v1h-1zM0 38h1v1h-1zM2 38h2v1h-2zM7 38h4v1h-4zM12 38h3v1h-3zM15 54h1v1h-1zM2 75h1v1h-1zM10 75h1v1h-1zM1 77h1v1h-1z"/>
<path fill="#ffffff" d="M0 14h2v1h-2zM0 15h1v1h-1zM2 15h1v1h-1zM6 15h1v1h-1zM12 15h1v1h-1zM14 15h1v1h-1zM4 16h1v1h-1zM6 16h1v1h-1zM9 16h1v1h-1zM12 16h1v1h-1zM14 16h2v1h-2zM17 16h1v1h-1zM1 17h1v1h-1zM5 17h2v1h-2zM8 17h1v1h-1zM14 17h1v1h-1zM16 17h1v1h-1zM7 19h1v1h-1zM10 19h1v1h-1zM12 19h1v1h-1zM15 19h1v1h-1zM14 20h1v1h-1zM0 21h2v1h-2zM3 21h3v1h-3zM9 21h1v1h-1zM12 21h3v1h-3zM9 22h2v1h-2zM15 22h1v1h-1zM7 23h3v1h-3zM15 23h1v1h-1zM2 24h3v1h-3zM6 24h1v1h-1zM8 24h3v1h-3zM13 24h1v1h-1zM9 25h1v1h-1zM11 25h1v1h-1zM13 25h1v1h-1zM15 25h3v1h-3zM0 27h1v1h-1zM3 27h5v1h-5zM10 27h4v1h-4zM16 27h1v1h-1zM1 28h1v1h-1zM12 28h1v1h-1zM14 28h1v1h-1zM14 30h1v1h-1zM0 32h3v1h-3zM4 32h2v1h-2zM11 32h4v1h-4zM17 32h1v1h-1zM3 33h1v1h-1zM7 33h2v1h-2zM10 33h1v1h-1zM13 33h1v1h-1zM2 34h2v1h-2zM5 34h2v1h-2zM10 34h5v1h-5zM2 36h2v1h-2zM6 36h4v1h-4zM11 36h2v1h-2zM4 37h1v1h-1zM9 37h2v1h-2zM15 37h1v1h-1zM17 37h1v1h-1zM5 38h1v1h-1zM15 38h1v1h-1zM7 68h1v1h-1zM13 68h1v1h-1zM1 69h2v1h-2zM9 69h1v1h-1zM13 69h1v1h-1zM4 71h2v1h-2zM8 71h1v1h-1zM12 71h2v1h-2zM2 72h1v1h-1zM4 72h1v1h-1zM7 72h1v1h-1zM17 72h1v1h-1zM13 73h1v1h-1zM0 75h2v1h-2zM4 75h1v1h-1zM7 75h2v1h-2zM11 75h2v1h-2zM15 75h2v1h-2z"/>
<path fill="#dfdfff" d="M4 15h1v1h-1zM15 15h1v1h-1zM15 17h1v1h-1zM0 19h1v1h-1zM4 19h1v1h-1zM2 21h1v1h-1zM6 21h2v1h-2zM15 21h2v1h-2zM14 24h2v1h-2zM4 25h1v1h-1zM14 27h1v1h-1zM7 32h1v1h-1zM10 32h1v1h-1zM15 32h1v1h-1zM15 34h1v1h-1zM16 38h1v1h-1zM0 65h1v1h-1zM8 65h1v1h-1zM10 65h1v1h-1zM12 65h1v1h-1zM17 65h1v1h-1zM3 66h1v1h-1zM1 67h1v1h-1zM7 67h2v1h-2zM10 67h2v1h-2zM0 68h3v1h-3zM8 68h1v1h-1zM10 68h2v1h-2zM0 69h1v1h-1zM3 69h6v1h-6zM10 69h3v1h-3zM14 69h4v1h-4zM3 70h2v1h-2zM13 70h1v1h-1zM11 71h1v1h-1zM17 71h1v1h-1zM9 72h7v1h-7zM1 73h1v1h-1zM3 73h2v1h-2zM7 73h6v1h-6zM17 73h1v1h-1zM5 74h1v1h-1zM3 75h1v1h-1zM5 75h1v1h-1zM13 75h1v1h-1zM17 75h1v1h-1zM13 76h1v1h-1zM2 77h1v1h-1zM4 77h2v1h-2zM10 77h1v1h-1zM13 77h1v1h-1zM15 77h1v1h-1zM5 78h1v1h-1zM17 78h1v1h-1zM3 79h1v1h-1zM0 80h1v1h-1zM3 80h1v1h-1zM7 80h1v1h-1zM9 80h1v1h-1zM12 80h1v1h-1zM16 80h1v1h-1zM2 81h1v1h-1zM10 81h1v1h-1z"/>
<path fill="#ff2020" d="M1 39h1v1h-1zM5 39h1v1h-1zM8 39h1v1h-1zM13 39h1v1h-1zM16 39h1v1h-1zM1 40h1v1h-1zM6 40h2v1h-2zM9 40h1v1h-1zM11 40h3v1h-3zM15 40h1v1h-1zM17 40h1v1h-1zM0 41h1v1h-1zM4 41h1v1h-1zM6 41h1v1h-1zM8 41h1v1h-1zM2 42h1v1h-1zM5 42h1v1h-1zM7 42h1v1h-1zM11 42h1v1h-1zM16 42h2v1h-2zM0 43h1v1h-1zM2 43h1v1h-1zM14 43h2v1h-2zM0 44h2v1h-2zM4 44h3v1h-3zM9 44h1v1h-1zM11 44h1v1h-1zM13 44h2v1h-2zM17 44h1v1h-1zM14 46h1v1h-1zM7 47h1v1h-1zM9 47h2v1h-2zM14 47h1v1h-1zM10 49h1v1h-1zM10 50h1v1h-1zM13 50h1v1h-1zM17 52h1v1h-1zM1 57h1v1h-1zM3 57h1v1h-1zM13 57h1v1h-1zM16 57h1v1h-1zM2 58h1v1h-1zM12 58h2v1h-2zM15 58h1v1h-1zM0 59h1v1h-1zM2 59h1v1h-1zM5 59h1v1h-1zM11 59h1v1h-1zM16 59h2v1h-2zM0 60h2v1h-2zM4 60h1v1h-1zM7 60h2v1h-2zM11 60h1v1h-1zM16 60h2v1h-2zM2 61h1v1h-1zM8 61h1v1h-1zM12 61h1v1h-1zM14 61h3v1h-3zM1 62h1v1h-1zM9 62h1v1h-1zM9 64h1v1h-1zM15 64h2v1h-2z"/>
<path fill="#ff0000" d="M0 40h1v1h-1zM2 40h1v1h-1zM5 40h1v1h-1zM0 42h2v1h-2zM3 42h1v1h-1zM6 42h1v1h-1zM8 42h3v1h-3zM12 42h2v1h-2zM15 42h1v1h-1zM1 43h1v1h-1zM16 44h1v1h-1zM13 45h1v1h-1zM11 57h1v1h-1zM4 58h1v1h-1zM6 58h3v1h-3zM11 58h1v1h-1zM17 58h1v1h-1zM2 60h2v1h-2zM1 64h1v1h-1zM13 64h1v1h-1z"/>
<path fill="#9f9fff" d="M1 65h1v1h-1zM5 65h1v1h-1zM7 65h1v1h-1zM13 65h1v1h-1zM15 65h2v1h-2zM1 66h2v1h-2zM4 66h1v1h-1zM8 66h2v1h-2zM12 66h1v1h-1zM14 66h1v1h-1zM16 66h2v1h-2zM0 67h1v1h-1zM6 67h1v1h-1zM4 68h1v1h-1zM14 68h1v1h-1zM0 70h1v1h-1zM2 70h1v1h-1zM6 70h1v1h-1zM9 70h1v1h-1zM17 70h1v1h-1zM2 71h1v1h-1zM9 71h1v1h-1zM15 71h2v1h-2zM5 72h1v1h-1zM5 73h1v1h-1zM0 74h1v1h-1zM3 74h1v1h-1zM8 74h2v1h-2zM12 74h1v1h-1zM14 74h1v1h-1zM0 76h5v1h-5zM6 76h2v1h-2zM9 76h1v1h-1zM11 76h1v1h-1zM14 76h3v1h-3zM9 77h1v1h-1zM14 77h1v1h-1zM7 78h1v1h-1zM10 78h3v1h-3zM0 79h1v1h-1zM2 79h1v1h-1zM5 79h1v1h-1zM7 79h6v1h-6zM4 80h1v1h-1zM5 81h1v1h-1zM11 81h1v1h-1zM17 81h1v1h-1zM0 82h1v1h-1zM2 82h3v1h-3zM6 82h1v1h-1zM8 82h1v1h-1zM11 82h1v1h-1zM13 82h1v1h-1zM17 82h1v1h-1zM1 83h1v1h-1zM6 83h1v1h-1zM8 83h1v1h-1zM11 83h3v1h-3zM13 86h1v1h-1zM15 86h1v1h-1zM3 89h1v1h-1z"/>
<path fill="#bfbfff" d="M2 65h3v1h-3zM6 65h1v1h-1zM9 65h1v1h-1zM11 65h1v1h-1zM14 65h1v1h-1zM0 66h1v1h-1zM5 66h3v1h-3zM10 66h1v1h-1zM13 66h1v1h-1zM15 66h1v1h-1zM2 67h2v1h-2zM5 67h1v1h-1zM9 67h1v1h-1zM12 67h6v1h-6zM3 68h1v1h-1zM5 68h2v1h-2zM9 68h1v1h-1zM12 68h1v1h-1zM15 68h3v1h-3zM5 70h1v1h-1zM7 70h2v1h-2zM10 70h2v1h-2zM14 70h3v1h-3zM0 71h2v1h-2zM3 71h1v1h-1zM6 71h2v1h-2zM10 71h1v1h-1zM0 72h2v1h-2zM3 72h1v1h-1zM6 72h1v1h-1zM8 72h1v1h-1zM16 72h1v1h-1zM0 73h1v1h-1zM2 73h1v1h-1zM6 73h1v1h-1zM14 73h3v1h-3zM2 74h1v1h-1zM4 74h1v1h-1zM7 74h1v1h-1zM10 74h2v1h-2zM13 74h1v1h-1zM16 74h2v1h-2zM6 75h1v1h-1zM9 75h1v1h-1zM14 75h1v1h-1zM8 76h1v1h-1zM12 76h1v1h-1zM17 76h1v1h-1zM0 77h1v1h-1zM3 77h1v1h-1zM6 77h3v1h-3zM11 77h2v1h-2zM16 77h2v1h-2zM9 78h1v1h-1zM16 78h1v1h-1zM1 79h1v1h-1zM6 79h1v1h-1zM13 79h1v1h-1zM15 79h1v1h-1zM1 80h2v1h-2zM6 80h1v1h-1zM8 80h1v1h-1zM10 80h2v1h-2zM13 80h1v1h-1zM15 80h1v1h-1zM17 80h1v1h-1zM1 81h1v1h-1zM3 81h1v1h-1zM6 81h1v1h-1zM8 81h1v1h-1zM12 81h2v1h-2zM15 81h1v1h-1zM5 82h1v1h-1zM12 82h1v1h-1zM5 86h1v1h-1z"/>
<path fill="#6060ff" d="M11 66h1v1h-1zM15 74h1v1h-1zM5 76h1v1h-1zM2 78h1v1h-1zM13 78h1v1h-1zM14 80h1v1h-1zM14 81h1v1h-1zM7 82h1v1h-1zM10 82h1v1h-1zM4 83h2v1h-2zM7 83h1v1h-1zM10 83h1v1h-1zM1 84h1v1h-1zM3 84h2v1h-2zM13 84h1v1h-1zM16 84h1v1h-1zM8 85h1v1h-1zM11 85h1v1h-1zM13 85h1v1h-1zM2 86h1v1h-1zM10 86h1v1h-1zM17 86h1v1h-1zM1 89h1v1h-1zM4 89h2v1h-2zM7 89h1v1h-1zM10 89h1v1h-1zM12 89h1v1h-1zM15 89h2v1h-2zM0 90h2v1h-2zM5 90h1v1h-1zM8 90h2v1h-2zM11 90h2v1h-2zM14 90h1v1h-1zM17 90h1v1h-1zM7 91h1v1h-1zM0 92h1v1h-1zM2 92h2v1h-2zM9 92h5v1h-5zM17 92h1v1h-1zM17 93h1v1h-1zM4 95h1v1h-1zM7 95h1v1h-1zM9 95h1v1h-1zM13 95h1v1h-1zM17 95h1v1h-1zM6 96h1v1h-1zM13 96h1v1h-1zM15 96h1v1h-1zM17 96h1v1h-1z"/>
<path fill="#8080ff" d="M4 67h1v1h-1zM1 70h1v1h-1zM12 70h1v1h-1zM14 71h1v1h-1zM1 74h1v1h-1zM6 74h1v1h-1zM10 76h1v1h-1zM0 78h2v1h-2zM3 78h2v1h-2zM6 78h1v1h-1zM8 78h1v1h-1zM14 78h2v1h-2zM4 79h1v1h-1zM14 79h1v1h-1zM16 79h2v1h-2zM5 80h1v1h-1zM0 81h1v1h-1zM4 81h1v1h-1zM7 81h1v1h-1zM9 81h1v1h-1zM16 81h1v1h-1zM1 82h1v1h-1zM9 82h1v1h-1zM14 82h3v1h-3zM0 83h1v1h-1zM2 83h2v1h-2zM9 83h1v1h-1zM14 83h4v1h-4zM1 86h1v1h-1zM3 86h2v1h-2zM6 86h2v1h-2zM9 86h1v1h-1zM11 86h2v1h-2zM14 86h1v1h-1zM16 86h1v1h-1zM2 89h1v1h-1zM6 89h1v1h-1zM8 89h1v1h-1zM17 89h1v1h-1zM2 90h1v1h-1zM7 90h1v1h-1zM10 90h1v1h-1zM1 92h1v1h-1zM15 92h1v1h-1zM12 95h1v1h-1zM1 96h1v1h-1zM8 96h1v1h-1z"/>
<path fill="#2020ff" d="M0 84h1v1h-1zM2 84h1v1h-1zM6 84h2v1h-2zM9 84h1v1h-1zM12 84h1v1h-1zM14 84h1v1h-1zM0 85h1v1h-1zM3 85h2v1h-2zM10 85h1v1h-1zM12 85h1v1h-1zM14 85h1v1h-1zM17 85h1v1h-1zM0 87h1v1h-1zM7 87h1v1h-1zM9 87h1v1h-1zM15 87h3v1h-3zM0 88h2v1h-2zM9 88h1v1h-1zM11 88h1v1h-1zM15 88h3v1h-3zM13 89h1v1h-1zM3 90h2v1h-2zM6 90h1v1h-1zM1 91h2v1h-2zM4 91h1v1h-1zM6 91h1v1h-1zM8 91h2v1h-2zM14 91h1v1h-1zM4 92h1v1h-1zM0 93h5v1h-5zM6 93h1v1h-1zM10 93h1v1h-1zM15 93h2v1h-2zM3 94h1v1h-1zM5 94h2v1h-2zM8 94h1v1h-1zM10 94h1v1h-1zM14 94h1v1h-1zM16 94h1v1h-1zM6 95h1v1h-1zM8 95h1v1h-1zM10 95h1v1h-1zM3 96h1v1h-1zM5 96h1v1h-1zM10 96h1v1h-1z"/>
<path fill="#0000ff" d="M5 84h1v1h-1zM1 85h1v1h-1zM6 85h1v1h-1zM16 85h1v1h-1zM3 87h1v1h-1zM5 87h1v1h-1zM8 87h1v1h-1zM10 87h1v1h-1zM2 88h7v1h-7zM10 88h1v1h-1zM12 88h1v1h-1zM14 88h1v1h-1zM3 91h1v1h-1zM5 91h1v1h-1zM9 93h1v1h-1zM14 93h1v1h-1zM7 94h1v1h-1zM9 94h1v1h-1zM17 94h1v1h-1zM14 96h1v1h-1z"/>
<path fill="#4040ff" d="M8 84h1v1h-1zM10 84h2v1h-2zM15 84h1v1h-1zM17 84h1v1h-1zM2 85h1v1h-1zM5 85h1v1h-1zM7 85h1v1h-1zM9 85h1v1h-1zM15 85h1v1h-1zM0 86h1v1h-1zM8 86h1v1h-1zM1 87h2v1h-2zM4 87h1v1h-1zM6 87h1v1h-1zM11 87h4v1h-4zM13 88h1v1h-1zM0 89h1v1h-1zM9 89h1v1h-1zM11 89h1v1h-1zM14 89h1v1h-1zM13 90h1v1h-1zM15 90h2v1h-2zM0 91h1v1h-1zM10 91h4v1h-4zM15 91h3v1h-3zM5 92h4v1h-4zM14 92h1v1h-1zM16 92h1v1h-1zM5 93h1v1h-1zM7 93h2v1h-2zM11 93h3v1h-3zM0 94h3v1h-3zM4 94h1v1h-1zM11 94h3v1h-3zM15 94h1v1h-1zM0 95h4v1h-4zM5 95h1v1h-1zM11 95h1v1h-1zM14 95h3v1h-3zM0 96h1v1h-1zM2 96h1v1h-1zM4 96h1v1h-1zM7 96h1v1h-1zM9 96h1v1h-1zM11 96h2v1h-2zM16 96h1v1h-1z"/>
</g>
<g transform="translate(184.4 598.7) scale(4.27 1.2)" shape-rendering="crispEdges">
<path fill="#dfdfff" d="M0 0h1v1h-1zM2 0h1v1h-1zM2 1h1v1h-1zM0 2h3v1h-3zM0 3h1v1h-1zM0 4h1v1h-1zM0 5h1v1h-1zM2 6h1v1h-1zM0 8h2v1h-2zM0 9h1v1h-1zM2 10h1v1h-1zM2 11h1v1h-1zM1 13h2v1h-2zM1 16h1v1h-1zM0 18h2v1h-2zM0 61h1v1h-1zM2 61h1v1h-1zM0 62h2v1h-2zM0 64h1v1h-1zM2 64h1v1h-1zM0 78h1v1h-1zM0 83h2v1h-2zM0 84h2v1h-2zM0 85h2v1h-2zM1 87h1v1h-1z"/>
<path fill="#ffffff" d="M1 0h1v1h-1zM1 5h1v1h-1zM0 6h2v1h-2zM1 10h1v1h-1zM1 11h1v1h-1zM0 12h1v1h-1zM0 32h2v1h-2zM1 57h1v1h-1zM0 58h3v1h-3zM0 59h1v1h-1zM2 59h1v1h-1zM0 60h1v1h-1zM1 61h1v1h-1zM2 62h1v1h-1zM1 64h1v1h-1zM0 80h1v1h-1zM0 81h3v1h-3zM1 82h2v1h-2zM2 83h1v1h-1zM1 86h1v1h-1z"/>
<path fill="#bfbfff" d="M0 1h1v1h-1zM2 4h1v1h-1zM0 7h3v1h-3zM1 9h2v1h-2zM0 11h1v1h-1zM1 12h1v1h-1zM1 14h1v1h-1zM2 15h1v1h-1zM2 16h1v1h-1zM1 17h2v1h-2zM0 19h1v1h-1zM2 19h1v1h-1zM2 20h1v1h-1zM0 22h2v1h-2zM1 23h1v1h-1zM1 59h1v1h-1zM1 60h1v1h-1zM1 63h1v1h-1zM1 78h1v1h-1zM2 84h1v1h-1zM2 85h1v1h-1zM0 87h1v1h-1zM2 87h1v1h-1zM2 88h1v1h-1z"/>
<path fill="#ffdfdf" d="M1 1h1v1h-1zM1 3h1v1h-1zM1 4h1v1h-1zM2 5h1v1h-1zM0 10h1v1h-1zM2 12h1v1h-1zM1 24h1v1h-1zM0 26h1v1h-1zM0 27h1v1h-1zM2 27h1v1h-1zM2 32h1v1h-1zM0 34h1v1h-1zM2 57h1v1h-1zM2 60h1v1h-1zM2 78h1v1h-1zM0 79h3v1h-3zM0 82h1v1h-1zM0 86h1v1h-1zM2 86h1v1h-1z"/>
<path fill="#9f9fff" d="M2 3h1v1h-1zM2 8h1v1h-1zM0 13h1v1h-1zM0 14h1v1h-1zM0 15h2v1h-2zM0 16h1v1h-1zM0 17h1v1h-1zM2 18h1v1h-1zM0 20h2v1h-2zM2 22h1v1h-1zM0 23h1v1h-1zM2 23h1v1h-1zM0 63h1v1h-1zM2 63h1v1h-1zM2 69h1v1h-1zM1 73h1v1h-1zM0 75h2v1h-2zM0 88h2v1h-2z"/>
<path fill="#8080ff" d="M2 14h1v1h-1zM1 19h1v1h-1zM1 21h2v1h-2zM2 65h1v1h-1zM1 67h1v1h-1zM2 71h1v1h-1zM1 72h2v1h-2zM0 73h1v1h-1zM2 75h1v1h-1zM0 77h1v1h-1zM2 77h1v1h-1z"/>
<path fill="#6060ff" d="M0 21h1v1h-1zM1 65h1v1h-1zM0 67h1v1h-1zM2 67h1v1h-1zM1 68h1v1h-1zM0 69h2v1h-2zM1 71h1v1h-1zM2 73h1v1h-1zM2 76h1v1h-1zM1 77h1v1h-1zM1 89h2v1h-2zM0 92h1v1h-1zM2 95h1v1h-1zM0 96h1v1h-1z"/>
<path fill="#ffbfbf" d="M0 24h1v1h-1zM0 25h2v1h-2zM0 33h3v1h-3zM1 34h1v1h-1zM2 36h1v1h-1zM0 37h1v1h-1zM0 38h1v1h-1zM0 57h1v1h-1zM2 80h1v1h-1z"/>
<path fill="#ff9f9f" d="M2 24h1v1h-1zM2 25h1v1h-1zM1 26h2v1h-2zM1 27h1v1h-1zM0 28h3v1h-3zM0 29h1v1h-1zM0 30h1v1h-1zM1 31h2v1h-2zM2 34h1v1h-1zM0 35h1v1h-1zM0 36h2v1h-2zM1 37h2v1h-2zM1 38h2v1h-2zM1 50h1v1h-1zM0 51h1v1h-1zM2 51h1v1h-1zM0 53h1v1h-1zM2 53h1v1h-1zM0 54h2v1h-2zM0 55h2v1h-2zM1 56h2v1h-2zM1 80h1v1h-1z"/>
<path fill="#ff8080" d="M1 29h2v1h-2zM1 30h2v1h-2zM0 31h1v1h-1zM1 35h2v1h-2zM0 41h1v1h-1zM0 43h1v1h-1zM0 47h1v1h-1zM2 47h1v1h-1zM0 50h1v1h-1zM1 51h1v1h-1zM1 53h1v1h-1zM2 54h1v1h-1zM0 56h1v1h-1z"/>
<path fill="#ff6060" d="M0 39h1v1h-1zM2 39h1v1h-1zM1 40h1v1h-1zM2 41h1v1h-1zM0 44h2v1h-2zM0 45h3v1h-3zM0 46h3v1h-3zM1 47h1v1h-1zM1 48h2v1h-2zM0 49h2v1h-2zM2 50h1v1h-1zM0 52h2v1h-2zM2 55h1v1h-1z"/>
<path fill="#ff4040" d="M1 39h1v1h-1zM0 40h1v1h-1zM2 40h1v1h-1zM1 41h1v1h-1zM2 42h1v1h-1zM1 43h2v1h-2zM2 44h1v1h-1zM0 48h1v1h-1zM2 49h1v1h-1z"/>
<path fill="#ff0000" d="M0 42h1v1h-1z"/>
<path fill="#ff2020" d="M1 42h1v1h-1zM2 52h1v1h-1z"/>
<path fill="#4040ff" d="M0 65h1v1h-1zM1 66h1v1h-1zM0 68h1v1h-1zM2 68h1v1h-1zM0 70h1v1h-1zM0 71h1v1h-1zM0 72h1v1h-1zM1 74h2v1h-2zM0 76h2v1h-2zM0 90h1v1h-1zM2 90h1v1h-1zM1 91h2v1h-2zM1 92h2v1h-2zM0 93h1v1h-1zM2 93h1v1h-1zM0 95h2v1h-2zM2 96h1v1h-1z"/>
<path fill="#2020ff" d="M0 66h1v1h-1zM2 66h1v1h-1zM1 70h2v1h-2zM0 74h1v1h-1zM0 89h1v1h-1zM1 90h1v1h-1zM1 93h1v1h-1zM0 94h2v1h-2zM1 96h1v1h-1z"/>
<path fill="#0000ff" d="M0 91h1v1h-1zM2 94h1v1h-1z"/>
</g>
<g transform="translate(197.2 598.7) scale(5.02 1.2)" shape-rendering="crispEdges">
<path fill="#ffdfdf" d="M0 0h3v1h-3zM5 0h1v1h-1zM8 0h1v1h-1zM14 0h5v1h-5zM24 0h1v1h-1zM2 1h1v1h-1zM5 1h1v1h-1zM8 1h2v1h-2zM11 1h1v1h-1zM17 1h1v1h-1zM19 1h1v1h-1zM23 1h1v1h-1zM0 2h1v1h-1zM2 2h1v1h-1zM9 2h1v1h-1zM11 2h2v1h-2zM15 2h1v1h-1zM17 2h1v1h-1zM21 2h4v1h-4zM0 3h3v1h-3zM4 3h1v1h-1zM8 3h1v1h-1zM13 3h2v1h-2zM16 3h2v1h-2zM21 3h1v1h-1zM0 4h1v1h-1zM3 4h2v1h-2zM9 4h1v1h-1zM12 4h1v1h-1zM15 4h1v1h-1zM17 4h4v1h-4zM23 4h2v1h-2zM4 5h1v1h-1zM9 5h1v1h-1zM18 5h1v1h-1zM23 5h1v1h-1zM0 6h4v1h-4zM5 6h1v1h-1zM9 6h3v1h-3zM21 6h1v1h-1zM0 7h1v1h-1zM2 7h1v1h-1zM7 7h4v1h-4zM14 7h2v1h-2zM21 7h1v1h-1zM23 7h1v1h-1zM9 8h1v1h-1zM13 8h1v1h-1zM14 9h1v1h-1zM0 12h1v1h-1zM10 12h1v1h-1zM18 12h1v1h-1zM22 12h1v1h-1zM15 13h1v1h-1zM18 13h1v1h-1zM0 14h1v1h-1zM3 14h1v1h-1zM8 14h1v1h-1zM12 14h1v1h-1zM17 14h1v1h-1zM7 18h1v1h-1zM12 18h1v1h-1zM1 24h1v1h-1zM5 24h5v1h-5zM16 24h4v1h-4zM8 25h3v1h-3zM16 25h1v1h-1zM19 25h1v1h-1zM21 25h1v1h-1zM23 25h1v1h-1zM2 26h1v1h-1zM6 26h1v1h-1zM16 26h1v1h-1zM4 27h4v1h-4zM9 27h1v1h-1zM11 27h1v1h-1zM16 27h2v1h-2zM21 27h1v1h-1zM23 27h2v1h-2zM4 28h1v1h-1zM20 28h1v1h-1zM22 28h1v1h-1zM17 29h1v1h-1zM23 29h1v1h-1zM5 30h1v1h-1zM15 30h1v1h-1zM24 30h1v1h-1zM20 31h1v1h-1zM4 32h1v1h-1zM8 32h1v1h-1zM14 32h2v1h-2zM20 32h1v1h-1zM23 32h1v1h-1zM4 33h1v1h-1zM15 33h2v1h-2zM23 33h2v1h-2zM0 34h2v1h-2zM3 34h2v1h-2zM7 34h2v1h-2zM10 34h1v1h-1zM12 34h1v1h-1zM17 34h1v1h-1zM20 34h3v1h-3zM24 34h1v1h-1zM10 35h1v1h-1zM13 35h1v1h-1zM24 35h1v1h-1zM3 36h1v1h-1zM11 36h2v1h-2zM14 36h1v1h-1zM16 36h1v1h-1zM24 36h1v1h-1zM4 37h2v1h-2zM8 37h3v1h-3zM16 37h2v1h-2zM22 37h2v1h-2zM0 38h1v1h-1zM2 38h1v1h-1zM4 38h1v1h-1zM7 38h2v1h-2zM10 38h2v1h-2zM14 38h1v1h-1zM0 51h1v1h-1zM10 53h1v1h-1zM18 56h1v1h-1zM5 63h2v1h-2zM8 63h1v1h-1zM11 63h1v1h-1zM13 63h1v1h-1zM21 63h3v1h-3zM4 78h1v1h-1zM9 78h1v1h-1zM19 78h1v1h-1zM21 78h1v1h-1zM2 79h3v1h-3zM6 79h2v1h-2zM9 79h2v1h-2zM12 79h1v1h-1zM14 79h1v1h-1zM16 79h1v1h-1zM18 79h1v1h-1zM22 79h1v1h-1zM0 80h2v1h-2zM6 80h2v1h-2zM9 80h1v1h-1zM16 80h1v1h-1zM19 80h1v1h-1zM22 80h1v1h-1zM2 81h1v1h-1zM4 81h1v1h-1zM11 81h3v1h-3zM17 81h1v1h-1zM22 81h3v1h-3zM0 82h4v1h-4zM5 82h1v1h-1zM11 82h2v1h-2zM15 82h2v1h-2zM21 82h1v1h-1zM23 82h1v1h-1zM2 83h2v1h-2zM6 83h2v1h-2zM15 83h1v1h-1zM21 83h1v1h-1zM0 86h1v1h-1zM11 86h1v1h-1z"/>
<path fill="#ff9f9f" d="M3 0h2v1h-2zM9 0h2v1h-2zM19 0h1v1h-1zM1 1h1v1h-1zM4 1h1v1h-1zM6 1h2v1h-2zM10 1h1v1h-1zM13 1h1v1h-1zM20 1h3v1h-3zM24 1h1v1h-1zM8 2h1v1h-1zM5 4h1v1h-1zM1 5h1v1h-1zM6 5h1v1h-1zM10 5h1v1h-1zM14 5h4v1h-4zM6 6h1v1h-1zM12 6h1v1h-1zM0 8h3v1h-3zM5 8h1v1h-1zM7 8h1v1h-1zM10 8h2v1h-2zM17 8h1v1h-1zM20 8h5v1h-5zM2 9h1v1h-1zM6 9h1v1h-1zM9 9h2v1h-2zM18 9h3v1h-3zM22 9h1v1h-1zM2 10h1v1h-1zM4 10h1v1h-1zM9 10h3v1h-3zM14 10h1v1h-1zM17 10h1v1h-1zM20 10h1v1h-1zM1 11h1v1h-1zM3 11h1v1h-1zM7 11h3v1h-3zM11 11h1v1h-1zM13 11h5v1h-5zM20 11h2v1h-2zM24 11h1v1h-1zM5 12h1v1h-1zM8 12h1v1h-1zM11 12h2v1h-2zM15 12h1v1h-1zM17 12h1v1h-1zM19 12h1v1h-1zM24 12h1v1h-1zM4 13h1v1h-1zM6 13h2v1h-2zM10 13h1v1h-1zM13 13h1v1h-1zM16 13h2v1h-2zM21 13h3v1h-3zM1 14h2v1h-2zM4 14h1v1h-1zM6 14h1v1h-1zM13 14h2v1h-2zM16 14h1v1h-1zM18 14h1v1h-1zM24 14h1v1h-1zM2 24h1v1h-1zM15 24h1v1h-1zM3 25h1v1h-1zM7 25h1v1h-1zM1 26h1v1h-1zM7 26h3v1h-3zM11 26h1v1h-1zM13 26h2v1h-2zM22 26h2v1h-2zM2 27h2v1h-2zM2 28h1v1h-1zM9 28h1v1h-1zM12 28h1v1h-1zM14 28h3v1h-3zM19 28h1v1h-1zM23 28h1v1h-1zM2 29h4v1h-4zM12 29h2v1h-2zM18 29h1v1h-1zM20 29h2v1h-2zM0 30h1v1h-1zM7 30h2v1h-2zM12 30h1v1h-1zM16 30h2v1h-2zM20 30h2v1h-2zM0 31h4v1h-4zM6 31h1v1h-1zM8 31h3v1h-3zM14 31h1v1h-1zM17 31h1v1h-1zM19 31h1v1h-1zM21 31h1v1h-1zM23 31h1v1h-1zM18 32h1v1h-1zM1 33h1v1h-1zM3 33h1v1h-1zM5 33h1v1h-1zM13 33h1v1h-1zM18 33h1v1h-1zM5 35h1v1h-1zM7 35h1v1h-1zM9 35h1v1h-1zM11 35h1v1h-1zM17 35h1v1h-1zM19 35h1v1h-1zM4 36h1v1h-1zM6 36h1v1h-1zM10 36h1v1h-1zM20 36h1v1h-1zM14 37h1v1h-1zM1 38h1v1h-1zM6 38h1v1h-1zM19 38h3v1h-3zM23 38h1v1h-1zM13 41h1v1h-1zM8 45h1v1h-1zM18 45h1v1h-1zM0 46h4v1h-4zM16 46h1v1h-1zM4 51h2v1h-2zM10 51h1v1h-1zM16 51h1v1h-1zM22 51h3v1h-3zM0 53h2v1h-2zM4 53h1v1h-1zM7 53h1v1h-1zM11 53h2v1h-2zM14 53h1v1h-1zM17 53h2v1h-2zM20 53h2v1h-2zM0 54h1v1h-1zM5 54h4v1h-4zM10 54h2v1h-2zM19 54h4v1h-4zM2 55h1v1h-1zM5 55h2v1h-2zM8 55h2v1h-2zM16 55h1v1h-1zM18 55h1v1h-1zM0 56h1v1h-1zM5 56h1v1h-1zM11 56h2v1h-2zM17 56h1v1h-1zM19 56h2v1h-2zM22 56h1v1h-1zM24 56h1v1h-1zM13 57h1v1h-1zM17 57h1v1h-1zM9 58h1v1h-1zM9 59h2v1h-2zM13 59h1v1h-1zM18 59h1v1h-1zM22 59h1v1h-1zM4 60h1v1h-1zM16 60h1v1h-1zM18 60h1v1h-1zM3 61h1v1h-1zM0 62h1v1h-1zM6 62h2v1h-2zM9 62h1v1h-1zM11 62h1v1h-1zM24 62h1v1h-1zM1 63h1v1h-1zM14 63h1v1h-1zM17 63h1v1h-1zM24 63h1v1h-1zM17 80h1v1h-1zM5 81h1v1h-1z"/>
<path fill="#ffffff" d="M6 0h1v1h-1zM13 0h1v1h-1zM3 2h5v1h-5zM10 2h1v1h-1zM14 2h1v1h-1zM18 2h2v1h-2zM7 3h1v1h-1zM10 3h3v1h-3zM18 3h3v1h-3zM22 3h3v1h-3zM13 4h1v1h-1zM8 6h1v1h-1zM24 6h1v1h-1zM3 7h4v1h-4zM11 7h3v1h-3zM17 7h3v1h-3zM22 7h1v1h-1zM24 7h1v1h-1zM6 11h1v1h-1zM5 14h1v1h-1zM9 14h1v1h-1zM13 15h2v1h-2zM0 16h1v1h-1zM7 16h1v1h-1zM11 16h1v1h-1zM13 16h1v1h-1zM3 17h1v1h-1zM6 17h1v1h-1zM10 17h1v1h-1zM16 17h1v1h-1zM19 17h1v1h-1zM24 17h1v1h-1zM1 18h1v1h-1zM4 18h1v1h-1zM6 18h1v1h-1zM8 18h2v1h-2zM11 18h1v1h-1zM13 18h1v1h-1zM16 18h2v1h-2zM19 18h4v1h-4zM11 20h1v1h-1zM10 24h4v1h-4zM0 25h1v1h-1zM13 25h1v1h-1zM18 25h1v1h-1zM13 27h1v1h-1zM15 27h1v1h-1zM18 27h1v1h-1zM0 32h1v1h-1zM2 32h1v1h-1zM5 32h1v1h-1zM10 32h1v1h-1zM12 32h2v1h-2zM16 32h2v1h-2zM21 32h2v1h-2zM2 33h1v1h-1zM5 34h2v1h-2zM9 34h1v1h-1zM15 34h1v1h-1zM18 34h1v1h-1zM9 36h1v1h-1zM17 36h2v1h-2zM0 37h1v1h-1zM7 37h1v1h-1zM20 37h1v1h-1zM13 38h1v1h-1zM16 38h1v1h-1zM18 38h1v1h-1zM13 69h1v1h-1zM21 69h1v1h-1zM12 75h1v1h-1zM16 75h1v1h-1zM20 75h1v1h-1zM0 78h2v1h-2zM3 78h1v1h-1zM5 78h4v1h-4zM10 78h2v1h-2zM15 78h2v1h-2zM20 78h1v1h-1zM23 78h1v1h-1zM0 79h1v1h-1zM8 79h1v1h-1zM17 79h1v1h-1zM20 79h2v1h-2zM24 79h1v1h-1zM4 80h1v1h-1zM11 80h1v1h-1zM13 80h1v1h-1zM0 81h2v1h-2zM7 81h1v1h-1zM9 81h2v1h-2zM15 81h2v1h-2zM19 81h1v1h-1zM7 82h4v1h-4zM14 82h1v1h-1zM18 82h3v1h-3zM22 82h1v1h-1zM24 82h1v1h-1zM4 83h2v1h-2zM8 83h1v1h-1zM10 83h3v1h-3zM16 83h1v1h-1zM19 83h1v1h-1zM24 83h1v1h-1zM1 86h3v1h-3zM6 86h3v1h-3zM10 86h1v1h-1zM17 86h1v1h-1zM19 86h1v1h-1zM24 86h1v1h-1z"/>
<path fill="#ffbfbf" d="M7 0h1v1h-1zM11 0h2v1h-2zM20 0h4v1h-4zM0 1h1v1h-1zM3 1h1v1h-1zM12 1h1v1h-1zM14 1h3v1h-3zM18 1h1v1h-1zM1 2h1v1h-1zM16 2h1v1h-1zM3 3h1v1h-1zM5 3h1v1h-1zM15 3h1v1h-1zM1 4h2v1h-2zM6 4h3v1h-3zM10 4h2v1h-2zM16 4h1v1h-1zM21 4h2v1h-2zM0 5h1v1h-1zM2 5h1v1h-1zM7 5h2v1h-2zM12 5h2v1h-2zM19 5h2v1h-2zM22 5h1v1h-1zM24 5h1v1h-1zM4 6h1v1h-1zM7 6h1v1h-1zM13 6h8v1h-8zM22 6h2v1h-2zM1 7h1v1h-1zM16 7h1v1h-1zM4 8h1v1h-1zM6 8h1v1h-1zM8 8h1v1h-1zM12 8h1v1h-1zM14 8h3v1h-3zM18 8h1v1h-1zM0 9h1v1h-1zM3 9h1v1h-1zM5 9h1v1h-1zM8 9h1v1h-1zM12 9h1v1h-1zM16 9h1v1h-1zM23 9h1v1h-1zM0 11h1v1h-1zM10 11h1v1h-1zM23 11h1v1h-1zM1 12h1v1h-1zM6 12h2v1h-2zM9 12h1v1h-1zM16 12h1v1h-1zM0 13h2v1h-2zM8 13h2v1h-2zM11 13h1v1h-1zM19 13h1v1h-1zM24 13h1v1h-1zM7 14h1v1h-1zM10 14h2v1h-2zM15 14h1v1h-1zM19 14h5v1h-5zM0 24h1v1h-1zM3 24h2v1h-2zM14 24h1v1h-1zM20 24h5v1h-5zM1 25h2v1h-2zM4 25h3v1h-3zM11 25h2v1h-2zM14 25h2v1h-2zM17 25h1v1h-1zM20 25h1v1h-1zM22 25h1v1h-1zM24 25h1v1h-1zM0 26h1v1h-1zM4 26h2v1h-2zM10 26h1v1h-1zM12 26h1v1h-1zM15 26h1v1h-1zM17 26h5v1h-5zM24 26h1v1h-1zM1 27h1v1h-1zM8 27h1v1h-1zM10 27h1v1h-1zM12 27h1v1h-1zM14 27h1v1h-1zM19 27h2v1h-2zM22 27h1v1h-1zM0 28h1v1h-1zM3 28h1v1h-1zM5 28h2v1h-2zM10 28h1v1h-1zM13 28h1v1h-1zM17 28h2v1h-2zM24 28h1v1h-1zM0 29h2v1h-2zM7 29h3v1h-3zM11 29h1v1h-1zM15 29h2v1h-2zM22 29h1v1h-1zM24 29h1v1h-1zM1 30h1v1h-1zM4 30h1v1h-1zM9 30h3v1h-3zM13 30h2v1h-2zM18 30h2v1h-2zM23 30h1v1h-1zM4 31h1v1h-1zM11 31h1v1h-1zM13 31h1v1h-1zM15 31h1v1h-1zM18 31h1v1h-1zM22 31h1v1h-1zM1 32h1v1h-1zM3 32h1v1h-1zM6 32h2v1h-2zM9 32h1v1h-1zM11 32h1v1h-1zM19 32h1v1h-1zM24 32h1v1h-1zM0 33h1v1h-1zM6 33h7v1h-7zM14 33h1v1h-1zM17 33h1v1h-1zM19 33h4v1h-4zM2 34h1v1h-1zM11 34h1v1h-1zM13 34h1v1h-1zM16 34h1v1h-1zM19 34h1v1h-1zM23 34h1v1h-1zM0 35h3v1h-3zM4 35h1v1h-1zM6 35h1v1h-1zM8 35h1v1h-1zM12 35h1v1h-1zM14 35h2v1h-2zM21 35h3v1h-3zM2 36h1v1h-1zM5 36h1v1h-1zM7 36h2v1h-2zM13 36h1v1h-1zM15 36h1v1h-1zM19 36h1v1h-1zM21 36h3v1h-3zM1 37h3v1h-3zM6 37h1v1h-1zM11 37h3v1h-3zM15 37h1v1h-1zM18 37h2v1h-2zM21 37h1v1h-1zM24 37h1v1h-1zM3 38h1v1h-1zM5 38h1v1h-1zM9 38h1v1h-1zM12 38h1v1h-1zM15 38h1v1h-1zM17 38h1v1h-1zM24 38h1v1h-1zM3 51h1v1h-1zM6 51h2v1h-2zM9 51h1v1h-1zM18 51h1v1h-1zM3 53h1v1h-1zM8 53h2v1h-2zM13 53h1v1h-1zM19 53h1v1h-1zM23 53h1v1h-1zM2 54h1v1h-1zM4 54h1v1h-1zM9 54h1v1h-1zM12 54h1v1h-1zM15 54h1v1h-1zM17 54h2v1h-2zM1 56h2v1h-2zM13 56h1v1h-1zM16 56h1v1h-1zM23 56h1v1h-1zM0 59h1v1h-1zM21 59h1v1h-1zM0 60h1v1h-1zM2 62h1v1h-1zM0 63h1v1h-1zM3 63h2v1h-2zM7 63h1v1h-1zM9 63h2v1h-2zM12 63h1v1h-1zM15 63h2v1h-2zM18 63h3v1h-3zM2 78h1v1h-1zM14 78h1v1h-1zM22 78h1v1h-1zM1 79h1v1h-1zM13 79h1v1h-1zM15 79h1v1h-1zM23 79h1v1h-1zM2 80h2v1h-2zM5 80h1v1h-1zM8 80h1v1h-1zM10 80h1v1h-1zM12 80h1v1h-1zM14 80h2v1h-2zM18 80h1v1h-1zM20 80h2v1h-2zM23 80h2v1h-2zM3 81h1v1h-1zM6 81h1v1h-1zM8 81h1v1h-1zM14 81h1v1h-1zM4 82h1v1h-1z"/>
<path fill="#dfdfff" d="M13 2h1v1h-1zM20 2h1v1h-1zM6 3h1v1h-1zM9 3h1v1h-1zM20 7h1v1h-1zM0 15h1v1h-1zM5 15h2v1h-2zM8 15h1v1h-1zM12 15h1v1h-1zM16 15h1v1h-1zM18 15h2v1h-2zM23 15h1v1h-1zM2 16h2v1h-2zM6 16h1v1h-1zM8 16h1v1h-1zM10 16h1v1h-1zM14 16h2v1h-2zM20 16h4v1h-4zM1 17h2v1h-2zM5 17h1v1h-1zM7 17h3v1h-3zM11 17h1v1h-1zM14 17h1v1h-1zM21 17h2v1h-2zM0 18h1v1h-1zM2 18h2v1h-2zM5 18h1v1h-1zM10 18h1v1h-1zM14 18h2v1h-2zM18 18h1v1h-1zM23 18h2v1h-2zM7 19h1v1h-1zM2 20h1v1h-1zM4 20h1v1h-1zM7 20h1v1h-1zM10 20h1v1h-1zM13 20h1v1h-1zM16 20h2v1h-2zM21 20h2v1h-2zM24 20h1v1h-1zM5 22h1v1h-1zM7 22h1v1h-1zM9 22h1v1h-1zM11 22h1v1h-1zM16 22h2v1h-2zM19 22h2v1h-2zM22 22h2v1h-2zM14 23h1v1h-1zM0 27h1v1h-1zM14 34h1v1h-1zM6 65h1v1h-1zM12 65h1v1h-1zM2 68h1v1h-1zM14 69h1v1h-1zM3 75h1v1h-1zM5 75h2v1h-2zM15 75h1v1h-1zM22 75h1v1h-1zM3 77h1v1h-1zM9 77h2v1h-2zM14 77h1v1h-1zM16 77h1v1h-1zM12 78h2v1h-2zM17 78h2v1h-2zM24 78h1v1h-1zM5 79h1v1h-1zM11 79h1v1h-1zM19 79h1v1h-1zM18 81h1v1h-1zM20 81h2v1h-2zM6 82h1v1h-1zM13 82h1v1h-1zM0 83h2v1h-2zM9 83h1v1h-1zM13 83h2v1h-2zM17 83h2v1h-2zM20 83h1v1h-1zM22 83h2v1h-2zM18 84h1v1h-1zM16 85h1v1h-1zM4 86h2v1h-2zM9 86h1v1h-1zM12 86h5v1h-5zM18 86h1v1h-1zM20 86h4v1h-4z"/>
<path fill="#ff8080" d="M14 4h1v1h-1zM3 5h1v1h-1zM5 5h1v1h-1zM11 5h1v1h-1zM21 5h1v1h-1zM3 8h1v1h-1zM19 8h1v1h-1zM1 9h1v1h-1zM4 9h1v1h-1zM7 9h1v1h-1zM11 9h1v1h-1zM13 9h1v1h-1zM15 9h1v1h-1zM17 9h1v1h-1zM21 9h1v1h-1zM24 9h1v1h-1zM1 10h1v1h-1zM5 10h4v1h-4zM13 10h1v1h-1zM15 10h2v1h-2zM18 10h1v1h-1zM22 10h3v1h-3zM2 11h1v1h-1zM4 11h2v1h-2zM18 11h2v1h-2zM22 11h1v1h-1zM2 12h3v1h-3zM13 12h2v1h-2zM20 12h2v1h-2zM23 12h1v1h-1zM5 13h1v1h-1zM12 13h1v1h-1zM14 13h1v1h-1zM20 13h1v1h-1zM3 26h1v1h-1zM1 28h1v1h-1zM7 28h2v1h-2zM11 28h1v1h-1zM21 28h1v1h-1zM6 29h1v1h-1zM10 29h1v1h-1zM14 29h1v1h-1zM19 29h1v1h-1zM2 30h2v1h-2zM6 30h1v1h-1zM22 30h1v1h-1zM5 31h1v1h-1zM7 31h1v1h-1zM12 31h1v1h-1zM16 31h1v1h-1zM24 31h1v1h-1zM3 35h1v1h-1zM16 35h1v1h-1zM18 35h1v1h-1zM20 35h1v1h-1zM0 36h2v1h-2zM22 38h1v1h-1zM8 39h1v1h-1zM0 40h1v1h-1zM24 40h1v1h-1zM0 41h1v1h-1zM9 41h1v1h-1zM12 41h1v1h-1zM15 41h1v1h-1zM24 41h1v1h-1zM0 43h1v1h-1zM17 44h1v1h-1zM0 45h1v1h-1zM4 45h3v1h-3zM10 45h1v1h-1zM13 45h1v1h-1zM15 45h3v1h-3zM19 45h1v1h-1zM24 45h1v1h-1zM5 46h2v1h-2zM8 46h1v1h-1zM10 46h2v1h-2zM13 46h1v1h-1zM15 46h1v1h-1zM17 46h1v1h-1zM19 46h1v1h-1zM24 46h1v1h-1zM4 47h2v1h-2zM10 47h2v1h-2zM20 47h1v1h-1zM1 51h2v1h-2zM8 51h1v1h-1zM11 51h5v1h-5zM19 51h3v1h-3zM0 52h2v1h-2zM13 52h1v1h-1zM19 52h1v1h-1zM23 52h1v1h-1zM2 53h1v1h-1zM5 53h2v1h-2zM15 53h2v1h-2zM22 53h1v1h-1zM1 54h1v1h-1zM3 54h1v1h-1zM13 54h2v1h-2zM16 54h1v1h-1zM23 54h2v1h-2zM1 55h1v1h-1zM3 55h2v1h-2zM7 55h1v1h-1zM10 55h2v1h-2zM15 55h1v1h-1zM17 55h1v1h-1zM22 55h3v1h-3zM3 56h1v1h-1zM6 56h2v1h-2zM9 56h2v1h-2zM14 56h2v1h-2zM21 56h1v1h-1zM0 57h1v1h-1zM4 57h2v1h-2zM10 57h3v1h-3zM15 57h1v1h-1zM21 57h1v1h-1zM23 57h2v1h-2zM0 58h1v1h-1zM2 58h1v1h-1zM14 58h1v1h-1zM20 58h3v1h-3zM1 59h2v1h-2zM5 59h1v1h-1zM8 59h1v1h-1zM11 59h2v1h-2zM15 59h1v1h-1zM17 59h1v1h-1zM19 59h1v1h-1zM23 59h2v1h-2zM1 60h1v1h-1zM6 60h2v1h-2zM9 60h1v1h-1zM13 60h2v1h-2zM19 60h1v1h-1zM22 60h1v1h-1zM5 61h3v1h-3zM9 61h1v1h-1zM13 61h2v1h-2zM16 61h2v1h-2zM19 61h3v1h-3zM23 61h1v1h-1zM1 62h1v1h-1zM3 62h1v1h-1zM5 62h1v1h-1zM12 62h4v1h-4zM17 62h2v1h-2zM20 62h4v1h-4zM2 63h1v1h-1z"/>
<path fill="#ff6060" d="M0 10h1v1h-1zM12 10h1v1h-1zM19 10h1v1h-1zM21 10h1v1h-1zM12 11h1v1h-1zM2 13h2v1h-2zM0 39h2v1h-2zM3 39h1v1h-1zM9 39h2v1h-2zM13 39h6v1h-6zM21 39h3v1h-3zM1 40h2v1h-2zM6 40h1v1h-1zM11 40h2v1h-2zM15 40h2v1h-2zM18 40h1v1h-1zM21 40h1v1h-1zM23 40h1v1h-1zM1 41h1v1h-1zM4 41h4v1h-4zM11 41h1v1h-1zM14 41h1v1h-1zM16 41h4v1h-4zM21 41h3v1h-3zM0 42h1v1h-1zM1 43h4v1h-4zM8 43h2v1h-2zM13 43h8v1h-8zM24 43h1v1h-1zM0 44h2v1h-2zM6 44h4v1h-4zM12 44h3v1h-3zM23 44h1v1h-1zM1 45h3v1h-3zM7 45h1v1h-1zM9 45h1v1h-1zM11 45h1v1h-1zM14 45h1v1h-1zM20 45h1v1h-1zM22 45h2v1h-2zM7 46h1v1h-1zM9 46h1v1h-1zM14 46h1v1h-1zM18 46h1v1h-1zM21 46h3v1h-3zM3 47h1v1h-1zM6 47h4v1h-4zM13 47h1v1h-1zM15 47h3v1h-3zM21 47h2v1h-2zM17 51h1v1h-1zM2 52h1v1h-1zM4 52h3v1h-3zM8 52h1v1h-1zM12 52h1v1h-1zM16 52h3v1h-3zM24 52h1v1h-1zM24 53h1v1h-1zM0 55h1v1h-1zM12 55h3v1h-3zM20 55h2v1h-2zM4 56h1v1h-1zM8 56h1v1h-1zM1 57h2v1h-2zM6 57h4v1h-4zM14 57h1v1h-1zM16 57h1v1h-1zM18 57h3v1h-3zM22 57h1v1h-1zM1 58h1v1h-1zM5 58h1v1h-1zM7 58h2v1h-2zM10 58h2v1h-2zM15 58h2v1h-2zM18 58h2v1h-2zM23 58h2v1h-2zM3 59h2v1h-2zM6 59h2v1h-2zM14 59h1v1h-1zM16 59h1v1h-1zM20 59h1v1h-1zM2 60h2v1h-2zM5 60h1v1h-1zM8 60h1v1h-1zM10 60h3v1h-3zM15 60h1v1h-1zM17 60h1v1h-1zM21 60h1v1h-1zM23 60h2v1h-2zM0 61h3v1h-3zM4 61h1v1h-1zM8 61h1v1h-1zM10 61h1v1h-1zM12 61h1v1h-1zM15 61h1v1h-1zM18 61h1v1h-1zM24 61h1v1h-1zM4 62h1v1h-1zM8 62h1v1h-1zM10 62h1v1h-1zM16 62h1v1h-1zM19 62h1v1h-1zM5 64h1v1h-1zM8 64h1v1h-1zM14 64h1v1h-1zM23 64h2v1h-2z"/>
<path fill="#ff4040" d="M3 10h1v1h-1zM2 39h1v1h-1zM4 39h4v1h-4zM12 39h1v1h-1zM19 39h2v1h-2zM24 39h1v1h-1zM3 40h1v1h-1zM5 40h1v1h-1zM7 40h3v1h-3zM13 40h1v1h-1zM19 40h1v1h-1zM2 41h2v1h-2zM8 41h1v1h-1zM10 41h1v1h-1zM20 41h1v1h-1zM2 42h1v1h-1zM6 42h1v1h-1zM10 42h1v1h-1zM16 42h1v1h-1zM23 42h1v1h-1zM5 43h3v1h-3zM12 43h1v1h-1zM22 43h2v1h-2zM4 44h2v1h-2zM10 44h2v1h-2zM16 44h1v1h-1zM18 44h1v1h-1zM21 44h1v1h-1zM24 44h1v1h-1zM12 45h1v1h-1zM21 45h1v1h-1zM4 46h1v1h-1zM12 46h1v1h-1zM20 46h1v1h-1zM0 47h3v1h-3zM12 47h1v1h-1zM14 47h1v1h-1zM18 47h2v1h-2zM24 47h1v1h-1zM8 48h1v1h-1zM22 49h1v1h-1zM7 50h1v1h-1zM16 50h1v1h-1zM20 50h1v1h-1zM7 52h1v1h-1zM9 52h3v1h-3zM14 52h2v1h-2zM20 52h3v1h-3zM19 55h1v1h-1zM3 58h2v1h-2zM6 58h1v1h-1zM12 58h2v1h-2zM17 58h1v1h-1zM20 60h1v1h-1zM11 61h1v1h-1zM22 61h1v1h-1zM2 64h3v1h-3zM6 64h1v1h-1zM9 64h1v1h-1zM11 64h3v1h-3zM15 64h2v1h-2zM18 64h3v1h-3z"/>
<path fill="#bfbfff" d="M1 15h1v1h-1zM3 15h2v1h-2zM7 15h1v1h-1zM9 15h3v1h-3zM15 15h1v1h-1zM17 15h1v1h-1zM24 15h1v1h-1zM1 16h1v1h-1zM4 16h1v1h-1zM9 16h1v1h-1zM12 16h1v1h-1zM16 16h4v1h-4zM24 16h1v1h-1zM0 17h1v1h-1zM4 17h1v1h-1zM12 17h2v1h-2zM15 17h1v1h-1zM17 17h2v1h-2zM20 17h1v1h-1zM0 19h4v1h-4zM9 19h1v1h-1zM12 19h5v1h-5zM18 19h1v1h-1zM20 19h1v1h-1zM22 19h2v1h-2zM3 20h1v1h-1zM6 20h1v1h-1zM8 20h1v1h-1zM15 20h1v1h-1zM19 20h1v1h-1zM3 21h1v1h-1zM5 21h1v1h-1zM10 21h1v1h-1zM14 21h1v1h-1zM20 21h1v1h-1zM23 21h1v1h-1zM0 22h1v1h-1zM3 22h2v1h-2zM6 22h1v1h-1zM14 22h2v1h-2zM21 22h1v1h-1zM0 23h1v1h-1zM3 23h1v1h-1zM5 23h1v1h-1zM7 23h5v1h-5zM13 23h1v1h-1zM15 23h1v1h-1zM21 23h3v1h-3zM1 65h1v1h-1zM11 65h1v1h-1zM1 67h1v1h-1zM3 68h1v1h-1zM5 68h1v1h-1zM7 68h1v1h-1zM14 68h1v1h-1zM21 68h1v1h-1zM0 69h6v1h-6zM8 69h1v1h-1zM12 69h1v1h-1zM16 69h4v1h-4zM23 69h2v1h-2zM3 71h1v1h-1zM11 71h2v1h-2zM24 71h1v1h-1zM3 72h1v1h-1zM5 72h1v1h-1zM9 72h2v1h-2zM12 72h1v1h-1zM20 72h1v1h-1zM22 72h1v1h-1zM0 73h1v1h-1zM2 73h1v1h-1zM5 73h2v1h-2zM9 73h1v1h-1zM20 73h1v1h-1zM22 73h1v1h-1zM20 74h1v1h-1zM0 75h3v1h-3zM4 75h1v1h-1zM7 75h5v1h-5zM14 75h1v1h-1zM17 75h2v1h-2zM21 75h1v1h-1zM23 75h2v1h-2zM0 77h1v1h-1zM2 77h1v1h-1zM11 77h3v1h-3zM20 77h1v1h-1zM22 77h3v1h-3zM17 82h1v1h-1zM1 84h1v1h-1zM3 84h1v1h-1zM5 84h4v1h-4zM10 84h2v1h-2zM13 84h1v1h-1zM16 84h1v1h-1zM19 84h1v1h-1zM22 84h1v1h-1zM24 84h1v1h-1zM0 85h1v1h-1zM3 85h1v1h-1zM12 85h4v1h-4zM17 85h2v1h-2zM0 87h1v1h-1zM3 87h1v1h-1zM6 87h3v1h-3zM12 87h1v1h-1zM14 87h1v1h-1zM17 87h2v1h-2zM21 87h1v1h-1zM7 88h1v1h-1z"/>
<path fill="#9f9fff" d="M2 15h1v1h-1zM20 15h3v1h-3zM23 17h1v1h-1zM4 19h1v1h-1zM6 19h1v1h-1zM8 19h1v1h-1zM10 19h2v1h-2zM17 19h1v1h-1zM21 19h1v1h-1zM24 19h1v1h-1zM0 20h1v1h-1zM5 20h1v1h-1zM9 20h1v1h-1zM14 20h1v1h-1zM18 20h1v1h-1zM20 20h1v1h-1zM23 20h1v1h-1zM1 21h2v1h-2zM7 21h1v1h-1zM9 21h1v1h-1zM15 21h5v1h-5zM21 21h2v1h-2zM1 22h2v1h-2zM8 22h1v1h-1zM10 22h1v1h-1zM12 22h2v1h-2zM18 22h1v1h-1zM24 22h1v1h-1zM1 23h2v1h-2zM4 23h1v1h-1zM12 23h1v1h-1zM17 23h4v1h-4zM24 23h1v1h-1zM2 65h2v1h-2zM7 65h4v1h-4zM13 65h2v1h-2zM16 65h2v1h-2zM19 65h5v1h-5zM6 66h2v1h-2zM17 66h1v1h-1zM2 67h1v1h-1zM4 67h1v1h-1zM6 67h1v1h-1zM11 67h1v1h-1zM16 67h2v1h-2zM20 67h1v1h-1zM0 68h2v1h-2zM8 68h3v1h-3zM12 68h2v1h-2zM18 68h3v1h-3zM23 68h2v1h-2zM6 69h2v1h-2zM9 69h3v1h-3zM20 69h1v1h-1zM22 69h1v1h-1zM10 70h1v1h-1zM21 70h2v1h-2zM0 71h2v1h-2zM5 71h1v1h-1zM7 71h2v1h-2zM10 71h1v1h-1zM15 71h1v1h-1zM18 71h1v1h-1zM6 72h1v1h-1zM8 72h1v1h-1zM13 72h5v1h-5zM21 72h1v1h-1zM24 72h1v1h-1zM3 73h2v1h-2zM7 73h2v1h-2zM11 73h2v1h-2zM15 73h2v1h-2zM18 73h2v1h-2zM21 73h1v1h-1zM23 73h2v1h-2zM14 74h1v1h-1zM19 74h1v1h-1zM21 74h1v1h-1zM13 75h1v1h-1zM19 75h1v1h-1zM1 76h1v1h-1zM4 76h1v1h-1zM6 76h3v1h-3zM13 76h3v1h-3zM21 76h1v1h-1zM1 77h1v1h-1zM4 77h3v1h-3zM17 77h3v1h-3zM21 77h1v1h-1zM0 84h1v1h-1zM4 84h1v1h-1zM9 84h1v1h-1zM12 84h1v1h-1zM14 84h2v1h-2zM20 84h2v1h-2zM23 84h1v1h-1zM1 85h2v1h-2zM5 85h2v1h-2zM9 85h1v1h-1zM19 85h3v1h-3zM23 85h1v1h-1zM1 87h1v1h-1zM5 87h1v1h-1zM9 87h1v1h-1zM13 87h1v1h-1zM16 87h1v1h-1zM19 87h1v1h-1zM22 87h1v1h-1zM0 88h2v1h-2zM12 88h1v1h-1zM14 88h1v1h-1zM20 88h2v1h-2zM23 88h1v1h-1zM1 89h1v1h-1z"/>
<path fill="#8080ff" d="M5 16h1v1h-1zM5 19h1v1h-1zM19 19h1v1h-1zM1 20h1v1h-1zM12 20h1v1h-1zM0 21h1v1h-1zM4 21h1v1h-1zM6 21h1v1h-1zM8 21h1v1h-1zM11 21h3v1h-3zM24 21h1v1h-1zM6 23h1v1h-1zM16 23h1v1h-1zM4 65h2v1h-2zM15 65h1v1h-1zM18 65h1v1h-1zM24 65h1v1h-1zM2 66h3v1h-3zM14 66h1v1h-1zM18 66h1v1h-1zM24 66h1v1h-1zM3 67h1v1h-1zM5 67h1v1h-1zM8 67h3v1h-3zM12 67h3v1h-3zM19 67h1v1h-1zM21 67h1v1h-1zM23 67h2v1h-2zM6 68h1v1h-1zM11 68h1v1h-1zM15 68h3v1h-3zM22 68h1v1h-1zM15 69h1v1h-1zM1 70h1v1h-1zM3 70h5v1h-5zM9 70h1v1h-1zM11 70h2v1h-2zM14 70h4v1h-4zM20 70h1v1h-1zM13 71h2v1h-2zM17 71h1v1h-1zM19 71h5v1h-5zM0 72h1v1h-1zM2 72h1v1h-1zM4 72h1v1h-1zM7 72h1v1h-1zM11 72h1v1h-1zM18 72h1v1h-1zM23 72h1v1h-1zM1 73h1v1h-1zM10 73h1v1h-1zM13 73h2v1h-2zM17 73h1v1h-1zM1 74h4v1h-4zM7 74h5v1h-5zM15 74h1v1h-1zM17 74h2v1h-2zM23 74h2v1h-2zM3 76h1v1h-1zM10 76h1v1h-1zM12 76h1v1h-1zM16 76h1v1h-1zM20 76h1v1h-1zM23 76h2v1h-2zM7 77h2v1h-2zM15 77h1v1h-1zM2 84h1v1h-1zM17 84h1v1h-1zM4 85h1v1h-1zM7 85h2v1h-2zM10 85h2v1h-2zM22 85h1v1h-1zM24 85h1v1h-1zM2 87h1v1h-1zM4 87h1v1h-1zM10 87h2v1h-2zM15 87h1v1h-1zM23 87h2v1h-2zM3 88h3v1h-3zM9 88h1v1h-1zM11 88h1v1h-1zM13 88h1v1h-1zM16 88h4v1h-4zM22 88h1v1h-1zM24 88h1v1h-1zM3 89h1v1h-1zM5 89h1v1h-1zM8 89h1v1h-1zM16 89h1v1h-1zM24 89h1v1h-1zM2 90h1v1h-1zM5 90h1v1h-1zM11 90h1v1h-1zM15 90h1v1h-1zM20 90h1v1h-1zM2 91h1v1h-1zM3 92h1v1h-1zM9 92h1v1h-1zM24 95h1v1h-1z"/>
<path fill="#ff2020" d="M11 39h1v1h-1zM4 40h1v1h-1zM14 40h1v1h-1zM17 40h1v1h-1zM20 40h1v1h-1zM22 40h1v1h-1zM8 42h2v1h-2zM11 42h2v1h-2zM15 42h1v1h-1zM19 42h1v1h-1zM21 42h2v1h-2zM10 43h2v1h-2zM21 43h1v1h-1zM2 44h2v1h-2zM20 44h1v1h-1zM23 47h1v1h-1zM0 48h2v1h-2zM5 48h1v1h-1zM15 48h1v1h-1zM17 48h1v1h-1zM22 48h1v1h-1zM0 49h2v1h-2zM5 49h2v1h-2zM13 49h4v1h-4zM1 50h2v1h-2zM4 50h2v1h-2zM8 50h1v1h-1zM10 50h2v1h-2zM14 50h1v1h-1zM17 50h2v1h-2zM3 52h1v1h-1zM3 57h1v1h-1zM0 64h1v1h-1zM7 64h1v1h-1zM10 64h1v1h-1zM17 64h1v1h-1zM21 64h2v1h-2z"/>
<path fill="#ff0000" d="M10 40h1v1h-1zM1 42h1v1h-1zM3 42h3v1h-3zM7 42h1v1h-1zM13 42h2v1h-2zM17 42h2v1h-2zM20 42h1v1h-1zM24 42h1v1h-1zM15 44h1v1h-1zM19 44h1v1h-1zM22 44h1v1h-1zM2 48h3v1h-3zM6 48h2v1h-2zM9 48h6v1h-6zM16 48h1v1h-1zM18 48h4v1h-4zM23 48h2v1h-2zM2 49h3v1h-3zM7 49h6v1h-6zM17 49h5v1h-5zM23 49h2v1h-2zM0 50h1v1h-1zM3 50h1v1h-1zM6 50h1v1h-1zM9 50h1v1h-1zM12 50h2v1h-2zM15 50h1v1h-1zM19 50h1v1h-1zM21 50h4v1h-4zM1 64h1v1h-1z"/>
<path fill="#6060ff" d="M0 65h1v1h-1zM0 66h2v1h-2zM5 66h1v1h-1zM8 66h6v1h-6zM16 66h1v1h-1zM19 66h3v1h-3zM23 66h1v1h-1zM0 67h1v1h-1zM7 67h1v1h-1zM15 67h1v1h-1zM18 67h1v1h-1zM22 67h1v1h-1zM4 68h1v1h-1zM0 70h1v1h-1zM2 70h1v1h-1zM8 70h1v1h-1zM13 70h1v1h-1zM23 70h2v1h-2zM2 71h1v1h-1zM6 71h1v1h-1zM9 71h1v1h-1zM16 71h1v1h-1zM1 72h1v1h-1zM19 72h1v1h-1zM0 74h1v1h-1zM5 74h2v1h-2zM13 74h1v1h-1zM16 74h1v1h-1zM22 74h1v1h-1zM2 76h1v1h-1zM5 76h1v1h-1zM9 76h1v1h-1zM11 76h1v1h-1zM18 76h2v1h-2zM22 76h1v1h-1zM20 87h1v1h-1zM6 88h1v1h-1zM8 88h1v1h-1zM10 88h1v1h-1zM15 88h1v1h-1zM0 89h1v1h-1zM2 89h1v1h-1zM4 89h1v1h-1zM6 89h2v1h-2zM11 89h2v1h-2zM15 89h1v1h-1zM17 89h1v1h-1zM20 89h4v1h-4zM0 90h2v1h-2zM3 90h2v1h-2zM6 90h1v1h-1zM8 90h1v1h-1zM10 90h1v1h-1zM13 90h1v1h-1zM18 90h2v1h-2zM21 90h3v1h-3zM3 91h1v1h-1zM2 92h1v1h-1zM5 92h2v1h-2zM14 92h4v1h-4zM19 92h2v1h-2zM24 92h1v1h-1zM7 94h1v1h-1zM1 95h1v1h-1zM3 95h1v1h-1zM8 95h2v1h-2zM12 95h1v1h-1zM16 95h1v1h-1zM19 95h2v1h-2zM22 95h2v1h-2zM2 96h1v1h-1zM4 96h1v1h-1zM10 96h1v1h-1zM12 96h3v1h-3zM17 96h1v1h-1zM19 96h1v1h-1zM21 96h1v1h-1z"/>
<path fill="#4040ff" d="M15 66h1v1h-1zM22 66h1v1h-1zM18 70h2v1h-2zM4 71h1v1h-1zM12 74h1v1h-1zM0 76h1v1h-1zM17 76h1v1h-1zM2 88h1v1h-1zM9 89h2v1h-2zM13 89h2v1h-2zM18 89h2v1h-2zM7 90h1v1h-1zM9 90h1v1h-1zM12 90h1v1h-1zM14 90h1v1h-1zM16 90h2v1h-2zM24 90h1v1h-1zM1 91h1v1h-1zM4 91h1v1h-1zM8 91h4v1h-4zM14 91h1v1h-1zM19 91h3v1h-3zM0 92h2v1h-2zM7 92h2v1h-2zM10 92h4v1h-4zM18 92h1v1h-1zM21 92h3v1h-3zM0 93h1v1h-1zM3 93h1v1h-1zM11 93h1v1h-1zM13 93h2v1h-2zM18 93h1v1h-1zM23 93h1v1h-1zM1 94h1v1h-1zM3 94h4v1h-4zM8 94h2v1h-2zM11 94h1v1h-1zM15 94h4v1h-4zM20 94h1v1h-1zM22 94h1v1h-1zM0 95h1v1h-1zM4 95h1v1h-1zM6 95h2v1h-2zM10 95h1v1h-1zM13 95h2v1h-2zM17 95h2v1h-2zM21 95h1v1h-1zM1 96h1v1h-1zM3 96h1v1h-1zM5 96h4v1h-4zM11 96h1v1h-1zM15 96h2v1h-2zM18 96h1v1h-1zM20 96h1v1h-1zM23 96h1v1h-1z"/>
<path fill="#2020ff" d="M0 91h1v1h-1zM5 91h1v1h-1zM7 91h1v1h-1zM12 91h2v1h-2zM16 91h3v1h-3zM22 91h3v1h-3zM4 92h1v1h-1zM1 93h2v1h-2zM4 93h1v1h-1zM6 93h1v1h-1zM8 93h3v1h-3zM15 93h2v1h-2zM21 93h1v1h-1zM2 94h1v1h-1zM10 94h1v1h-1zM12 94h1v1h-1zM14 94h1v1h-1zM19 94h1v1h-1zM23 94h2v1h-2zM2 95h1v1h-1zM5 95h1v1h-1zM11 95h1v1h-1zM15 95h1v1h-1zM0 96h1v1h-1zM22 96h1v1h-1zM24 96h1v1h-1z"/>
<path fill="#0000ff" d="M6 91h1v1h-1zM15 91h1v1h-1zM5 93h1v1h-1zM7 93h1v1h-1zM12 93h1v1h-1zM17 93h1v1h-1zM19 93h2v1h-2zM22 93h1v1h-1zM24 93h1v1h-1zM0 94h1v1h-1zM13 94h1v1h-1zM21 94h1v1h-1zM9 96h1v1h-1z"/>
</g>
<rect x="93.5" y="589.9" width="90.9" height="7.4" fill="#1b75b9"/>
<rect x="184.4" y="589.9" width="12.8" height="7.4" fill="#8f288d"/>
<rect x="197.2" y="589.9" width="125.6" height="7.4" fill="#000"/>
<g transform="translate(444.9 596.8) scale(4.33 1.2)" shape-rendering="crispEdges">
<path fill="#ffdfdf" d="M0 0h1v1h-1zM0 2h1v1h-1zM0 4h1v1h-1zM0 6h1v1h-1zM0 7h1v1h-1zM0 13h1v1h-1zM2 50h1v1h-1zM1 53h2v1h-2zM2 54h1v1h-1zM0 56h1v1h-1zM0 59h1v1h-1zM0 61h1v1h-1zM0 62h1v1h-1zM0 63h1v1h-1zM2 70h1v1h-1zM2 72h1v1h-1zM1 84h2v1h-2z"/>
<path fill="#ffffff" d="M1 0h1v1h-1zM0 1h1v1h-1zM0 3h2v1h-2zM2 7h1v1h-1zM0 11h1v1h-1zM0 12h1v1h-1zM0 43h1v1h-1zM2 51h1v1h-1zM1 56h2v1h-2zM1 59h1v1h-1zM1 62h2v1h-2zM1 63h1v1h-1z"/>
<path fill="#bfbfff" d="M2 0h1v1h-1zM1 1h1v1h-1zM1 4h2v1h-2zM2 5h1v1h-1zM1 7h1v1h-1zM2 8h1v1h-1zM0 10h1v1h-1zM1 12h1v1h-1zM1 13h2v1h-2zM0 16h1v1h-1zM0 17h2v1h-2zM0 18h1v1h-1zM0 23h1v1h-1zM2 23h1v1h-1zM0 26h1v1h-1zM1 27h1v1h-1zM0 28h2v1h-2zM1 29h1v1h-1zM0 32h2v1h-2zM1 34h1v1h-1zM0 35h3v1h-3zM1 37h1v1h-1zM1 38h1v1h-1zM0 40h1v1h-1zM1 41h2v1h-2zM2 44h1v1h-1zM0 46h1v1h-1zM0 48h1v1h-1zM1 49h1v1h-1zM1 60h2v1h-2zM2 61h1v1h-1zM2 63h1v1h-1z"/>
<path fill="#9f9fff" d="M2 1h1v1h-1zM2 6h1v1h-1zM1 9h2v1h-2zM1 10h1v1h-1zM2 11h1v1h-1zM2 14h1v1h-1zM0 15h1v1h-1zM2 16h1v1h-1zM2 17h1v1h-1zM1 18h1v1h-1zM0 19h2v1h-2zM0 21h1v1h-1zM0 22h1v1h-1zM1 24h2v1h-2zM0 25h1v1h-1zM1 26h1v1h-1zM2 29h1v1h-1zM0 30h2v1h-2zM1 31h1v1h-1zM1 33h1v1h-1zM0 36h1v1h-1zM2 37h1v1h-1zM2 38h1v1h-1zM0 39h2v1h-2zM0 42h1v1h-1zM2 43h1v1h-1zM1 44h1v1h-1zM2 46h1v1h-1zM1 48h2v1h-2zM0 49h1v1h-1zM0 58h1v1h-1zM0 65h1v1h-1z"/>
<path fill="#dfdfff" d="M1 2h2v1h-2zM2 3h1v1h-1zM0 5h2v1h-2zM1 6h1v1h-1zM0 8h1v1h-1zM0 9h1v1h-1zM1 11h1v1h-1zM0 14h2v1h-2zM1 23h1v1h-1zM0 24h1v1h-1zM0 27h1v1h-1zM2 28h1v1h-1zM0 29h1v1h-1zM0 31h1v1h-1zM2 32h1v1h-1zM0 34h1v1h-1zM0 37h1v1h-1zM0 38h1v1h-1zM0 41h1v1h-1zM0 44h1v1h-1zM0 45h1v1h-1zM2 59h1v1h-1zM0 60h1v1h-1zM1 61h1v1h-1z"/>
<path fill="#8080ff" d="M1 8h1v1h-1zM2 12h1v1h-1zM1 15h2v1h-2zM1 16h1v1h-1zM2 18h1v1h-1zM2 19h1v1h-1zM0 20h1v1h-1zM1 21h2v1h-2zM1 25h2v1h-2zM2 26h1v1h-1zM2 31h1v1h-1zM0 33h1v1h-1zM2 34h1v1h-1zM1 36h2v1h-2zM2 39h1v1h-1zM1 40h1v1h-1zM1 42h2v1h-2zM1 46h1v1h-1zM0 47h2v1h-2zM2 49h1v1h-1zM0 57h2v1h-2zM1 58h1v1h-1zM0 64h1v1h-1zM1 65h1v1h-1zM0 66h3v1h-3zM0 78h1v1h-1zM0 79h1v1h-1zM0 81h1v1h-1zM1 86h1v1h-1zM0 91h1v1h-1zM0 98h1v1h-1z"/>
<path fill="#6060ff" d="M2 10h1v1h-1zM1 20h2v1h-2zM1 22h2v1h-2zM2 27h1v1h-1zM2 30h1v1h-1zM2 33h1v1h-1zM2 40h1v1h-1zM1 43h1v1h-1zM2 45h1v1h-1zM2 58h1v1h-1zM1 64h1v1h-1zM2 65h1v1h-1zM0 75h2v1h-2zM0 77h2v1h-2zM1 78h1v1h-1zM0 83h1v1h-1zM0 86h1v1h-1zM0 87h1v1h-1zM0 89h1v1h-1zM0 90h1v1h-1zM1 91h1v1h-1zM0 93h1v1h-1zM0 95h2v1h-2z"/>
<path fill="#4040ff" d="M1 45h1v1h-1zM2 57h1v1h-1zM2 64h1v1h-1zM0 76h1v1h-1zM2 77h1v1h-1zM1 79h2v1h-2zM0 80h1v1h-1zM0 82h1v1h-1zM1 83h2v1h-2zM0 88h1v1h-1zM2 88h1v1h-1zM0 92h3v1h-3zM1 93h1v1h-1zM0 94h1v1h-1zM0 96h1v1h-1zM0 99h1v1h-1z"/>
<path fill="#2020ff" d="M2 47h1v1h-1zM2 75h1v1h-1zM1 76h1v1h-1zM2 78h1v1h-1zM1 81h1v1h-1zM1 82h1v1h-1zM2 86h1v1h-1zM1 88h1v1h-1zM1 89h2v1h-2zM1 90h1v1h-1zM2 94h1v1h-1zM2 95h1v1h-1zM1 96h2v1h-2zM0 97h1v1h-1z"/>
<path fill="#ff6060" d="M0 50h1v1h-1zM0 68h1v1h-1zM0 72h1v1h-1zM0 73h2v1h-2z"/>
<path fill="#ff8080" d="M1 50h1v1h-1zM0 52h1v1h-1zM0 53h1v1h-1zM0 67h1v1h-1zM0 69h2v1h-2zM0 85h1v1h-1z"/>
<path fill="#ff9f9f" d="M0 51h1v1h-1zM2 52h1v1h-1zM0 54h2v1h-2zM0 55h1v1h-1zM2 67h1v1h-1zM1 68h2v1h-2zM0 70h1v1h-1zM0 71h2v1h-2zM1 72h1v1h-1zM2 73h1v1h-1zM0 74h3v1h-3zM2 85h1v1h-1z"/>
<path fill="#ffbfbf" d="M1 51h1v1h-1zM1 52h1v1h-1zM1 55h2v1h-2zM1 67h1v1h-1zM2 69h1v1h-1zM1 70h1v1h-1zM2 71h1v1h-1zM0 84h1v1h-1zM1 85h1v1h-1z"/>
<path fill="#0000ff" d="M2 76h1v1h-1zM1 80h2v1h-2zM2 81h1v1h-1zM2 82h1v1h-1zM1 87h2v1h-2zM2 90h1v1h-1zM2 91h1v1h-1zM2 93h1v1h-1zM1 94h1v1h-1zM1 97h2v1h-2zM1 98h2v1h-2zM1 99h2v1h-2z"/>
</g>
<g transform="translate(457.9 596.8) scale(5.05 1.2)" shape-rendering="crispEdges">
<path fill="#ffdfdf" d="M0 0h1v1h-1zM2 0h2v1h-2zM8 0h1v1h-1zM13 0h1v1h-1zM17 0h1v1h-1zM20 0h1v1h-1zM24 0h1v1h-1zM29 0h3v1h-3zM36 0h2v1h-2zM0 1h1v1h-1zM2 1h1v1h-1zM4 1h1v1h-1zM6 1h1v1h-1zM16 1h1v1h-1zM20 1h5v1h-5zM32 1h1v1h-1zM34 1h3v1h-3zM38 1h1v1h-1zM40 1h1v1h-1zM2 2h1v1h-1zM8 2h1v1h-1zM12 2h1v1h-1zM14 2h3v1h-3zM20 2h2v1h-2zM25 2h1v1h-1zM28 2h1v1h-1zM31 2h1v1h-1zM34 2h1v1h-1zM41 2h1v1h-1zM7 3h2v1h-2zM14 3h1v1h-1zM17 3h2v1h-2zM24 3h2v1h-2zM27 3h2v1h-2zM32 3h1v1h-1zM40 3h1v1h-1zM0 4h1v1h-1zM8 4h1v1h-1zM14 4h1v1h-1zM16 4h1v1h-1zM18 4h1v1h-1zM20 4h1v1h-1zM22 4h2v1h-2zM26 4h2v1h-2zM29 4h2v1h-2zM33 4h3v1h-3zM38 4h1v1h-1zM42 4h1v1h-1zM12 5h1v1h-1zM14 5h1v1h-1zM21 5h1v1h-1zM34 5h1v1h-1zM37 5h1v1h-1zM40 5h3v1h-3zM32 6h1v1h-1zM34 7h1v1h-1zM40 7h1v1h-1zM20 8h1v1h-1zM32 8h1v1h-1zM34 8h1v1h-1zM41 8h2v1h-2zM21 9h1v1h-1zM25 9h1v1h-1zM28 9h1v1h-1zM34 9h1v1h-1zM36 9h2v1h-2zM1 10h1v1h-1zM4 10h1v1h-1zM14 10h1v1h-1zM20 10h2v1h-2zM23 10h2v1h-2zM28 10h1v1h-1zM31 10h1v1h-1zM33 10h2v1h-2zM36 10h2v1h-2zM39 10h1v1h-1zM34 11h1v1h-1zM14 12h1v1h-1zM30 12h1v1h-1zM34 12h1v1h-1zM36 12h1v1h-1zM38 12h1v1h-1zM25 13h1v1h-1zM32 14h1v1h-1zM37 14h1v1h-1zM40 14h1v1h-1zM1 15h1v1h-1zM21 15h1v1h-1zM38 15h1v1h-1zM41 15h1v1h-1zM25 16h1v1h-1zM31 16h2v1h-2zM40 16h1v1h-1zM42 16h1v1h-1zM12 18h1v1h-1zM20 18h1v1h-1zM24 18h3v1h-3zM28 18h1v1h-1zM30 18h1v1h-1zM36 18h1v1h-1zM42 18h1v1h-1zM4 21h2v1h-2zM7 21h1v1h-1zM11 21h1v1h-1zM14 21h1v1h-1zM16 21h1v1h-1zM18 21h1v1h-1zM21 21h4v1h-4zM26 21h3v1h-3zM35 21h1v1h-1zM0 22h1v1h-1zM5 22h1v1h-1zM8 22h3v1h-3zM14 22h3v1h-3zM18 22h1v1h-1zM20 22h1v1h-1zM22 22h1v1h-1zM24 22h1v1h-1zM26 22h1v1h-1zM33 22h1v1h-1zM20 23h1v1h-1zM30 23h1v1h-1zM32 23h3v1h-3zM36 23h1v1h-1zM39 23h2v1h-2zM30 24h5v1h-5zM36 24h1v1h-1zM38 24h1v1h-1zM41 24h2v1h-2zM5 25h1v1h-1zM8 25h1v1h-1zM13 25h2v1h-2zM22 25h2v1h-2zM25 25h2v1h-2zM29 25h2v1h-2zM35 25h1v1h-1zM1 26h1v1h-1zM11 26h1v1h-1zM17 26h1v1h-1zM22 26h3v1h-3zM27 26h1v1h-1zM34 26h3v1h-3zM41 26h2v1h-2zM11 27h1v1h-1zM16 27h1v1h-1zM20 27h1v1h-1zM23 27h4v1h-4zM30 27h1v1h-1zM34 27h2v1h-2zM40 27h1v1h-1zM32 28h1v1h-1zM34 28h1v1h-1zM37 28h1v1h-1zM21 29h2v1h-2zM31 29h1v1h-1zM33 29h3v1h-3zM38 29h2v1h-2zM14 30h1v1h-1zM17 30h2v1h-2zM20 30h2v1h-2zM23 30h1v1h-1zM27 30h1v1h-1zM30 30h2v1h-2zM37 30h2v1h-2zM40 30h3v1h-3zM3 31h1v1h-1zM14 31h1v1h-1zM23 31h1v1h-1zM27 31h1v1h-1zM30 31h1v1h-1zM34 31h1v1h-1zM37 31h1v1h-1zM39 31h1v1h-1zM28 32h1v1h-1zM31 32h2v1h-2zM34 32h1v1h-1zM36 32h3v1h-3zM40 32h1v1h-1zM2 33h1v1h-1zM11 33h1v1h-1zM13 33h1v1h-1zM0 34h1v1h-1zM3 34h1v1h-1zM6 34h1v1h-1zM8 34h1v1h-1zM12 34h1v1h-1zM15 34h1v1h-1zM17 34h1v1h-1zM22 34h1v1h-1zM24 34h1v1h-1zM35 34h1v1h-1zM38 34h1v1h-1zM2 35h1v1h-1zM4 35h3v1h-3zM11 35h3v1h-3zM17 35h2v1h-2zM21 35h1v1h-1zM23 35h1v1h-1zM29 35h1v1h-1zM33 35h1v1h-1zM35 35h1v1h-1zM2 36h1v1h-1zM4 36h1v1h-1zM6 36h1v1h-1zM9 36h1v1h-1zM12 36h1v1h-1zM15 36h1v1h-1zM18 36h1v1h-1zM26 36h1v1h-1zM33 36h1v1h-1zM1 37h1v1h-1zM8 37h1v1h-1zM15 37h1v1h-1zM20 37h1v1h-1zM22 37h2v1h-2zM33 37h1v1h-1zM2 38h1v1h-1zM4 38h2v1h-2zM8 38h1v1h-1zM14 38h1v1h-1zM17 38h1v1h-1zM22 38h1v1h-1zM30 38h1v1h-1zM32 38h1v1h-1zM1 39h1v1h-1zM3 39h3v1h-3zM10 39h1v1h-1zM12 39h1v1h-1zM14 39h2v1h-2zM19 39h1v1h-1zM27 39h1v1h-1zM33 39h1v1h-1zM0 40h1v1h-1zM3 40h4v1h-4zM9 40h3v1h-3zM14 40h2v1h-2zM19 40h1v1h-1zM0 41h2v1h-2zM7 41h1v1h-1zM9 41h2v1h-2zM12 41h2v1h-2zM16 41h1v1h-1zM18 41h1v1h-1zM26 41h1v1h-1zM29 41h2v1h-2zM33 41h2v1h-2zM37 41h1v1h-1zM2 42h1v1h-1zM5 42h3v1h-3zM12 42h2v1h-2zM16 42h2v1h-2zM19 42h1v1h-1zM31 42h1v1h-1zM38 42h1v1h-1zM1 43h1v1h-1zM5 43h3v1h-3zM15 43h1v1h-1zM17 43h1v1h-1zM29 43h1v1h-1zM3 44h2v1h-2zM9 44h1v1h-1zM17 44h1v1h-1zM20 44h2v1h-2zM25 44h5v1h-5zM36 44h1v1h-1zM1 45h1v1h-1zM6 45h2v1h-2zM10 45h2v1h-2zM13 45h1v1h-1zM18 45h1v1h-1zM20 45h1v1h-1zM38 45h1v1h-1zM1 46h1v1h-1zM6 46h1v1h-1zM16 46h1v1h-1zM21 46h1v1h-1zM0 47h1v1h-1zM4 47h1v1h-1zM6 47h1v1h-1zM11 47h1v1h-1zM15 47h1v1h-1zM22 47h1v1h-1zM0 48h1v1h-1zM2 48h3v1h-3zM7 48h2v1h-2zM11 48h1v1h-1zM13 48h3v1h-3zM17 48h3v1h-3zM21 48h3v1h-3zM3 49h3v1h-3zM7 49h1v1h-1zM10 49h1v1h-1zM12 49h2v1h-2zM15 49h1v1h-1zM19 49h1v1h-1zM22 49h1v1h-1zM24 49h1v1h-1zM26 49h1v1h-1zM33 49h1v1h-1zM1 60h1v1h-1zM34 60h1v1h-1zM42 60h1v1h-1zM7 77h1v1h-1zM13 78h1v1h-1zM19 78h1v1h-1zM29 78h1v1h-1zM33 78h1v1h-1zM24 79h1v1h-1zM39 79h1v1h-1zM2 83h1v1h-1zM6 86h1v1h-1z"/>
<path fill="#ffbfbf" d="M1 0h1v1h-1zM4 0h1v1h-1zM6 0h2v1h-2zM9 0h3v1h-3zM16 0h1v1h-1zM18 0h1v1h-1zM26 0h3v1h-3zM33 0h2v1h-2zM38 0h1v1h-1zM42 0h1v1h-1zM1 1h1v1h-1zM3 1h1v1h-1zM7 1h5v1h-5zM13 1h1v1h-1zM15 1h1v1h-1zM18 1h1v1h-1zM26 1h2v1h-2zM29 1h2v1h-2zM33 1h1v1h-1zM37 1h1v1h-1zM41 1h2v1h-2zM3 2h3v1h-3zM7 2h1v1h-1zM10 2h2v1h-2zM18 2h1v1h-1zM23 2h1v1h-1zM27 2h1v1h-1zM32 2h1v1h-1zM40 2h1v1h-1zM0 3h2v1h-2zM10 3h1v1h-1zM13 3h1v1h-1zM16 3h1v1h-1zM22 3h2v1h-2zM35 3h1v1h-1zM42 3h1v1h-1zM1 4h5v1h-5zM7 4h1v1h-1zM9 4h2v1h-2zM40 4h1v1h-1zM3 5h1v1h-1zM8 5h1v1h-1zM11 5h1v1h-1zM13 5h1v1h-1zM22 5h10v1h-10zM35 5h1v1h-1zM21 6h1v1h-1zM38 6h2v1h-2zM41 6h1v1h-1zM0 7h1v1h-1zM17 7h1v1h-1zM20 7h2v1h-2zM25 7h1v1h-1zM27 7h1v1h-1zM30 7h2v1h-2zM35 7h1v1h-1zM42 7h1v1h-1zM3 8h1v1h-1zM12 8h1v1h-1zM14 8h1v1h-1zM21 8h1v1h-1zM23 8h1v1h-1zM28 8h2v1h-2zM36 8h1v1h-1zM1 9h3v1h-3zM9 9h2v1h-2zM13 9h1v1h-1zM18 9h1v1h-1zM20 9h1v1h-1zM23 9h2v1h-2zM27 9h1v1h-1zM31 9h1v1h-1zM33 9h1v1h-1zM35 9h1v1h-1zM39 9h3v1h-3zM0 10h1v1h-1zM2 10h1v1h-1zM5 10h2v1h-2zM9 10h2v1h-2zM16 10h3v1h-3zM22 10h1v1h-1zM26 10h2v1h-2zM29 10h1v1h-1zM32 10h1v1h-1zM35 10h1v1h-1zM38 10h1v1h-1zM42 10h1v1h-1zM20 11h1v1h-1zM25 11h3v1h-3zM40 11h1v1h-1zM0 12h1v1h-1zM3 12h2v1h-2zM11 12h1v1h-1zM18 12h1v1h-1zM20 12h1v1h-1zM23 12h1v1h-1zM25 12h1v1h-1zM27 12h2v1h-2zM31 12h3v1h-3zM37 12h1v1h-1zM39 12h1v1h-1zM16 13h1v1h-1zM20 13h2v1h-2zM30 13h1v1h-1zM32 13h1v1h-1zM35 13h1v1h-1zM37 13h1v1h-1zM41 13h2v1h-2zM10 14h1v1h-1zM23 14h1v1h-1zM30 14h1v1h-1zM34 14h1v1h-1zM41 14h1v1h-1zM5 15h1v1h-1zM7 15h1v1h-1zM10 15h1v1h-1zM12 15h2v1h-2zM18 15h1v1h-1zM22 15h2v1h-2zM27 15h2v1h-2zM31 15h2v1h-2zM34 15h2v1h-2zM39 15h1v1h-1zM42 15h1v1h-1zM0 16h1v1h-1zM3 16h1v1h-1zM5 16h1v1h-1zM8 16h2v1h-2zM16 16h1v1h-1zM20 16h4v1h-4zM28 16h1v1h-1zM34 16h1v1h-1zM37 16h3v1h-3zM41 16h1v1h-1zM5 17h1v1h-1zM22 17h1v1h-1zM25 17h1v1h-1zM41 17h1v1h-1zM0 18h1v1h-1zM4 18h1v1h-1zM6 18h1v1h-1zM14 18h1v1h-1zM17 18h1v1h-1zM21 18h1v1h-1zM27 18h1v1h-1zM29 18h1v1h-1zM31 18h1v1h-1zM33 18h2v1h-2zM38 18h2v1h-2zM41 18h1v1h-1zM0 20h1v1h-1zM15 20h1v1h-1zM35 20h1v1h-1zM37 20h1v1h-1zM1 21h2v1h-2zM6 21h1v1h-1zM9 21h1v1h-1zM12 21h2v1h-2zM1 22h3v1h-3zM6 22h2v1h-2zM11 22h1v1h-1zM3 23h1v1h-1zM8 23h1v1h-1zM11 23h1v1h-1zM17 23h1v1h-1zM22 23h6v1h-6zM38 23h1v1h-1zM42 23h1v1h-1zM15 24h1v1h-1zM18 24h1v1h-1zM20 24h4v1h-4zM27 24h2v1h-2zM37 24h1v1h-1zM0 25h1v1h-1zM2 25h2v1h-2zM10 25h3v1h-3zM17 25h2v1h-2zM20 25h1v1h-1zM24 25h1v1h-1zM27 25h1v1h-1zM33 25h1v1h-1zM4 26h1v1h-1zM7 26h2v1h-2zM12 26h1v1h-1zM14 26h2v1h-2zM18 26h2v1h-2zM26 26h1v1h-1zM40 26h1v1h-1zM1 27h3v1h-3zM5 27h1v1h-1zM7 27h1v1h-1zM9 27h2v1h-2zM12 27h1v1h-1zM14 27h1v1h-1zM17 27h1v1h-1zM22 27h1v1h-1zM27 27h1v1h-1zM29 27h1v1h-1zM15 28h2v1h-2zM24 28h1v1h-1zM28 28h2v1h-2zM35 28h1v1h-1zM40 28h3v1h-3zM4 29h1v1h-1zM9 29h1v1h-1zM14 29h1v1h-1zM23 29h5v1h-5zM29 29h2v1h-2zM36 29h2v1h-2zM40 29h3v1h-3zM1 30h1v1h-1zM5 30h1v1h-1zM8 30h1v1h-1zM12 30h2v1h-2zM15 30h2v1h-2zM22 30h1v1h-1zM24 30h1v1h-1zM29 30h1v1h-1zM32 30h2v1h-2zM0 31h1v1h-1zM6 31h1v1h-1zM9 31h1v1h-1zM11 31h2v1h-2zM15 31h1v1h-1zM18 31h1v1h-1zM20 31h2v1h-2zM24 31h1v1h-1zM28 31h1v1h-1zM31 31h1v1h-1zM33 31h1v1h-1zM35 31h1v1h-1zM38 31h1v1h-1zM7 32h1v1h-1zM11 32h2v1h-2zM14 32h1v1h-1zM20 32h2v1h-2zM24 32h3v1h-3zM29 32h2v1h-2zM35 32h1v1h-1zM39 32h1v1h-1zM41 32h2v1h-2zM1 34h2v1h-2zM4 34h2v1h-2zM7 34h1v1h-1zM9 34h2v1h-2zM18 34h2v1h-2zM1 35h1v1h-1zM7 35h1v1h-1zM10 35h1v1h-1zM15 35h1v1h-1zM1 36h1v1h-1zM8 36h1v1h-1zM10 36h1v1h-1zM0 37h1v1h-1zM2 37h1v1h-1zM5 37h3v1h-3zM9 37h1v1h-1zM11 37h1v1h-1zM13 37h1v1h-1zM17 37h1v1h-1zM19 37h1v1h-1zM26 37h1v1h-1zM0 38h1v1h-1zM3 38h1v1h-1zM7 38h1v1h-1zM11 38h3v1h-3zM15 38h1v1h-1zM19 38h1v1h-1zM26 38h1v1h-1zM33 38h1v1h-1zM0 39h1v1h-1zM16 39h1v1h-1zM1 40h1v1h-1zM2 41h5v1h-5zM11 41h1v1h-1zM15 41h1v1h-1zM19 41h1v1h-1zM22 41h1v1h-1zM4 42h1v1h-1zM9 42h2v1h-2zM14 42h1v1h-1zM33 42h1v1h-1zM0 43h1v1h-1zM4 43h1v1h-1zM8 43h3v1h-3zM13 43h1v1h-1zM16 43h1v1h-1zM0 44h3v1h-3zM5 44h1v1h-1zM8 44h1v1h-1zM11 44h1v1h-1zM13 44h3v1h-3zM22 44h1v1h-1zM24 44h1v1h-1zM33 44h1v1h-1zM2 45h1v1h-1zM4 45h1v1h-1zM14 45h1v1h-1zM4 46h1v1h-1zM7 46h1v1h-1zM9 46h2v1h-2zM15 46h1v1h-1zM1 47h1v1h-1zM10 47h1v1h-1zM5 48h2v1h-2zM12 48h1v1h-1zM6 49h1v1h-1zM9 49h1v1h-1zM18 49h1v1h-1zM14 57h1v1h-1zM2 58h1v1h-1zM0 59h2v1h-2zM4 60h1v1h-1zM7 60h2v1h-2zM11 60h1v1h-1zM14 60h1v1h-1zM23 60h1v1h-1zM25 60h1v1h-1zM28 60h1v1h-1zM36 60h2v1h-2zM21 61h1v1h-1zM25 62h1v1h-1zM1 66h2v1h-2zM8 66h1v1h-1zM12 66h1v1h-1zM20 66h4v1h-4zM25 66h1v1h-1zM31 66h2v1h-2zM35 66h1v1h-1z"/>
<path fill="#dfdfff" d="M5 0h1v1h-1zM21 0h1v1h-1zM23 0h1v1h-1zM5 1h1v1h-1zM25 1h1v1h-1zM31 1h1v1h-1zM37 3h1v1h-1zM21 4h1v1h-1zM36 5h1v1h-1zM37 18h1v1h-1zM25 21h1v1h-1zM32 21h1v1h-1zM38 21h1v1h-1zM42 21h1v1h-1zM27 22h2v1h-2zM35 22h2v1h-2zM39 22h2v1h-2zM42 22h1v1h-1zM21 23h1v1h-1zM28 23h1v1h-1zM28 25h1v1h-1zM34 25h1v1h-1zM41 25h1v1h-1zM25 26h1v1h-1zM28 26h1v1h-1zM37 26h1v1h-1zM31 27h1v1h-1zM37 27h1v1h-1zM32 29h1v1h-1zM28 30h1v1h-1zM32 31h1v1h-1zM3 33h1v1h-1zM5 33h3v1h-3zM9 33h2v1h-2zM15 33h4v1h-4zM20 33h2v1h-2zM24 33h6v1h-6zM32 33h2v1h-2zM38 33h2v1h-2zM14 34h1v1h-1zM20 34h1v1h-1zM26 34h1v1h-1zM29 34h1v1h-1zM33 34h2v1h-2zM40 34h1v1h-1zM3 35h1v1h-1zM8 35h1v1h-1zM14 35h1v1h-1zM20 35h1v1h-1zM28 35h1v1h-1zM34 35h1v1h-1zM37 35h4v1h-4zM42 35h1v1h-1zM13 36h1v1h-1zM29 36h3v1h-3zM37 36h3v1h-3zM41 36h1v1h-1zM14 37h1v1h-1zM18 37h1v1h-1zM25 37h1v1h-1zM27 37h1v1h-1zM30 37h2v1h-2zM34 37h2v1h-2zM40 37h1v1h-1zM25 38h1v1h-1zM27 38h1v1h-1zM31 38h1v1h-1zM34 38h1v1h-1zM38 38h1v1h-1zM41 38h2v1h-2zM24 39h1v1h-1zM26 39h1v1h-1zM28 39h1v1h-1zM30 39h3v1h-3zM35 39h1v1h-1zM37 39h4v1h-4zM42 39h1v1h-1zM2 40h1v1h-1zM12 40h2v1h-2zM23 40h1v1h-1zM25 40h1v1h-1zM27 40h1v1h-1zM29 40h1v1h-1zM35 40h1v1h-1zM39 40h2v1h-2zM42 40h1v1h-1zM14 41h1v1h-1zM20 41h1v1h-1zM24 41h1v1h-1zM28 41h1v1h-1zM32 41h1v1h-1zM38 41h1v1h-1zM40 41h3v1h-3zM0 42h1v1h-1zM23 42h2v1h-2zM28 42h1v1h-1zM34 42h1v1h-1zM36 42h2v1h-2zM20 43h1v1h-1zM28 43h1v1h-1zM31 43h2v1h-2zM36 43h1v1h-1zM39 43h1v1h-1zM30 44h1v1h-1zM32 44h1v1h-1zM34 44h1v1h-1zM39 44h1v1h-1zM16 45h1v1h-1zM24 45h1v1h-1zM28 45h1v1h-1zM32 45h1v1h-1zM34 45h2v1h-2zM37 45h1v1h-1zM42 45h1v1h-1zM2 46h1v1h-1zM13 46h1v1h-1zM17 46h1v1h-1zM20 46h1v1h-1zM23 46h1v1h-1zM28 46h4v1h-4zM35 46h2v1h-2zM38 46h1v1h-1zM41 46h2v1h-2zM3 47h1v1h-1zM7 47h2v1h-2zM12 47h1v1h-1zM18 47h1v1h-1zM20 47h2v1h-2zM23 47h1v1h-1zM26 47h2v1h-2zM29 47h1v1h-1zM33 47h1v1h-1zM35 47h1v1h-1zM39 47h1v1h-1zM24 48h2v1h-2zM27 48h1v1h-1zM30 48h1v1h-1zM33 48h1v1h-1zM37 48h1v1h-1zM40 48h2v1h-2zM16 49h1v1h-1zM21 49h1v1h-1zM23 49h1v1h-1zM25 49h1v1h-1zM28 49h2v1h-2zM31 49h2v1h-2zM35 49h2v1h-2zM40 49h2v1h-2zM2 75h1v1h-1zM7 75h2v1h-2zM10 75h1v1h-1zM13 75h2v1h-2zM21 75h1v1h-1zM24 75h3v1h-3zM33 75h1v1h-1zM35 75h1v1h-1zM4 76h1v1h-1zM13 76h1v1h-1zM15 76h2v1h-2zM18 76h2v1h-2zM23 76h2v1h-2zM35 76h1v1h-1zM42 76h1v1h-1zM1 77h3v1h-3zM6 77h1v1h-1zM8 77h1v1h-1zM10 77h2v1h-2zM13 77h4v1h-4zM18 77h1v1h-1zM20 77h5v1h-5zM26 77h3v1h-3zM34 77h1v1h-1zM36 77h1v1h-1zM38 77h2v1h-2zM42 77h1v1h-1zM0 78h3v1h-3zM4 78h3v1h-3zM8 78h2v1h-2zM11 78h2v1h-2zM15 78h4v1h-4zM27 78h1v1h-1zM30 78h1v1h-1zM34 78h3v1h-3zM40 78h3v1h-3zM0 79h1v1h-1zM2 79h1v1h-1zM5 79h3v1h-3zM9 79h5v1h-5zM16 79h1v1h-1zM18 79h1v1h-1zM20 79h1v1h-1zM26 79h2v1h-2zM29 79h1v1h-1zM34 79h1v1h-1zM41 79h1v1h-1zM1 80h1v1h-1zM4 80h1v1h-1zM13 80h1v1h-1zM18 80h1v1h-1zM26 80h1v1h-1zM29 80h1v1h-1zM33 80h1v1h-1zM4 81h1v1h-1zM7 81h1v1h-1zM15 81h1v1h-1zM17 81h1v1h-1zM19 81h1v1h-1zM21 81h2v1h-2zM33 81h1v1h-1zM35 81h2v1h-2zM38 81h1v1h-1zM1 82h2v1h-2zM4 82h2v1h-2zM7 82h1v1h-1zM11 82h2v1h-2zM16 82h1v1h-1zM28 82h1v1h-1zM30 82h1v1h-1zM41 82h1v1h-1zM0 83h2v1h-2zM4 83h1v1h-1zM6 83h2v1h-2zM9 83h3v1h-3zM13 83h4v1h-4zM18 83h2v1h-2zM22 83h1v1h-1zM27 83h1v1h-1zM29 83h1v1h-1zM37 83h2v1h-2zM5 84h1v1h-1zM13 84h1v1h-1zM18 84h2v1h-2zM22 84h2v1h-2zM27 84h1v1h-1zM38 84h2v1h-2zM1 85h2v1h-2zM4 85h1v1h-1zM7 85h1v1h-1zM9 85h1v1h-1zM13 85h1v1h-1zM15 85h1v1h-1zM19 85h1v1h-1zM21 85h1v1h-1zM23 85h1v1h-1zM26 85h2v1h-2zM29 85h1v1h-1zM35 85h1v1h-1zM37 85h1v1h-1zM39 85h1v1h-1zM41 85h1v1h-1zM0 86h1v1h-1zM8 86h4v1h-4zM15 86h2v1h-2zM20 86h1v1h-1zM26 86h1v1h-1zM30 86h1v1h-1zM39 86h1v1h-1zM41 86h2v1h-2zM15 88h1v1h-1zM22 88h1v1h-1zM15 89h1v1h-1zM18 89h2v1h-2zM38 89h1v1h-1zM9 91h1v1h-1zM13 91h1v1h-1zM19 91h1v1h-1zM22 91h1v1h-1zM24 91h1v1h-1zM33 91h1v1h-1zM38 91h1v1h-1zM40 91h1v1h-1zM19 92h1v1h-1zM6 95h1v1h-1zM9 95h2v1h-2z"/>
<path fill="#ffffff" d="M12 0h1v1h-1zM14 0h2v1h-2zM22 0h1v1h-1zM25 0h1v1h-1zM35 0h1v1h-1zM39 0h2v1h-2zM12 1h1v1h-1zM28 1h1v1h-1zM37 2h1v1h-1zM3 3h2v1h-2zM20 3h1v1h-1zM26 3h1v1h-1zM29 3h3v1h-3zM34 3h1v1h-1zM36 3h1v1h-1zM38 3h2v1h-2zM41 3h1v1h-1zM6 4h1v1h-1zM11 4h1v1h-1zM24 4h2v1h-2zM28 4h1v1h-1zM31 4h2v1h-2zM36 4h2v1h-2zM39 4h1v1h-1zM41 4h1v1h-1zM20 5h1v1h-1zM32 5h1v1h-1zM38 5h1v1h-1zM36 7h1v1h-1zM32 9h1v1h-1zM25 10h1v1h-1zM30 10h1v1h-1zM41 10h1v1h-1zM21 12h1v1h-1zM25 15h1v1h-1zM36 15h2v1h-2zM36 16h1v1h-1zM37 17h1v1h-1zM32 18h1v1h-1zM0 21h1v1h-1zM3 21h1v1h-1zM8 21h1v1h-1zM29 21h3v1h-3zM33 21h2v1h-2zM36 21h2v1h-2zM39 21h3v1h-3zM12 22h2v1h-2zM17 22h1v1h-1zM19 22h1v1h-1zM21 22h1v1h-1zM23 22h1v1h-1zM25 22h1v1h-1zM29 22h4v1h-4zM31 23h1v1h-1zM35 23h1v1h-1zM37 23h1v1h-1zM41 23h1v1h-1zM25 24h1v1h-1zM35 24h1v1h-1zM39 24h2v1h-2zM21 25h1v1h-1zM31 25h2v1h-2zM37 25h4v1h-4zM42 25h1v1h-1zM16 26h1v1h-1zM20 26h2v1h-2zM29 26h4v1h-4zM38 26h2v1h-2zM21 27h1v1h-1zM28 27h1v1h-1zM32 27h2v1h-2zM36 27h1v1h-1zM38 27h2v1h-2zM41 27h2v1h-2zM20 29h1v1h-1zM28 29h1v1h-1zM25 30h1v1h-1zM34 30h3v1h-3zM39 30h1v1h-1zM25 31h1v1h-1zM36 31h1v1h-1zM40 31h3v1h-3zM0 33h2v1h-2zM4 33h1v1h-1zM8 33h1v1h-1zM12 33h1v1h-1zM14 33h1v1h-1zM19 33h1v1h-1zM22 33h1v1h-1zM11 34h1v1h-1zM13 34h1v1h-1zM16 34h1v1h-1zM21 34h1v1h-1zM23 34h1v1h-1zM25 34h1v1h-1zM27 34h1v1h-1zM30 34h1v1h-1zM39 34h1v1h-1zM42 34h1v1h-1zM0 35h1v1h-1zM16 35h1v1h-1zM22 35h1v1h-1zM24 35h1v1h-1zM26 35h1v1h-1zM30 35h3v1h-3zM0 36h1v1h-1zM3 36h1v1h-1zM5 36h1v1h-1zM7 36h1v1h-1zM11 36h1v1h-1zM14 36h1v1h-1zM17 36h1v1h-1zM19 36h1v1h-1zM21 36h2v1h-2zM24 36h2v1h-2zM27 36h1v1h-1zM34 36h1v1h-1zM40 36h1v1h-1zM12 37h1v1h-1zM16 37h1v1h-1zM21 37h1v1h-1zM24 37h1v1h-1zM29 37h1v1h-1zM32 37h1v1h-1zM38 37h2v1h-2zM41 37h1v1h-1zM18 38h1v1h-1zM20 38h2v1h-2zM23 38h2v1h-2zM28 38h2v1h-2zM35 38h1v1h-1zM37 38h1v1h-1zM39 38h2v1h-2zM2 39h1v1h-1zM6 39h4v1h-4zM11 39h1v1h-1zM13 39h1v1h-1zM17 39h2v1h-2zM21 39h3v1h-3zM29 39h1v1h-1zM34 39h1v1h-1zM7 40h2v1h-2zM16 40h3v1h-3zM20 40h1v1h-1zM22 40h1v1h-1zM24 40h1v1h-1zM33 40h1v1h-1zM36 40h1v1h-1zM8 41h1v1h-1zM17 41h1v1h-1zM21 41h1v1h-1zM23 41h1v1h-1zM25 41h1v1h-1zM27 41h1v1h-1zM31 41h1v1h-1zM35 41h2v1h-2zM39 41h1v1h-1zM1 42h1v1h-1zM3 42h1v1h-1zM8 42h1v1h-1zM11 42h1v1h-1zM18 42h1v1h-1zM20 42h3v1h-3zM27 42h1v1h-1zM29 42h1v1h-1zM35 42h1v1h-1zM2 43h2v1h-2zM11 43h2v1h-2zM14 43h1v1h-1zM18 43h2v1h-2zM21 43h2v1h-2zM26 43h2v1h-2zM30 43h1v1h-1zM33 43h2v1h-2zM16 44h1v1h-1zM23 44h1v1h-1zM31 44h1v1h-1zM35 44h1v1h-1zM37 44h2v1h-2zM40 44h3v1h-3zM0 45h1v1h-1zM3 45h1v1h-1zM5 45h1v1h-1zM8 45h2v1h-2zM12 45h1v1h-1zM15 45h1v1h-1zM17 45h1v1h-1zM19 45h1v1h-1zM21 45h3v1h-3zM25 45h3v1h-3zM29 45h1v1h-1zM33 45h1v1h-1zM36 45h1v1h-1zM0 46h1v1h-1zM3 46h1v1h-1zM5 46h1v1h-1zM8 46h1v1h-1zM11 46h2v1h-2zM14 46h1v1h-1zM18 46h2v1h-2zM22 46h1v1h-1zM24 46h1v1h-1zM27 46h1v1h-1zM32 46h2v1h-2zM40 46h1v1h-1zM2 47h1v1h-1zM5 47h1v1h-1zM9 47h1v1h-1zM13 47h2v1h-2zM16 47h2v1h-2zM1 48h1v1h-1zM9 48h2v1h-2zM16 48h1v1h-1zM20 48h1v1h-1zM26 48h1v1h-1zM28 48h2v1h-2zM31 48h2v1h-2zM35 48h2v1h-2zM38 48h2v1h-2zM0 49h3v1h-3zM8 49h1v1h-1zM11 49h1v1h-1zM14 49h1v1h-1zM17 49h1v1h-1zM20 49h1v1h-1zM27 49h1v1h-1zM30 49h1v1h-1zM38 49h2v1h-2zM6 75h1v1h-1zM16 75h1v1h-1zM19 75h1v1h-1zM38 75h1v1h-1zM40 75h1v1h-1zM6 76h1v1h-1zM4 77h1v1h-1zM12 77h1v1h-1zM17 77h1v1h-1zM19 77h1v1h-1zM29 77h1v1h-1zM33 77h1v1h-1zM40 77h1v1h-1zM14 78h1v1h-1zM21 78h2v1h-2zM24 78h1v1h-1zM26 78h1v1h-1zM39 78h1v1h-1zM4 79h1v1h-1zM15 79h1v1h-1zM19 79h1v1h-1zM21 79h1v1h-1zM23 79h1v1h-1zM30 79h1v1h-1zM33 79h1v1h-1zM35 79h1v1h-1zM38 79h1v1h-1zM29 81h1v1h-1zM40 81h1v1h-1zM9 82h1v1h-1zM19 82h1v1h-1zM27 82h1v1h-1zM12 83h1v1h-1zM17 83h1v1h-1zM26 83h1v1h-1zM33 83h1v1h-1zM39 83h2v1h-2zM42 83h1v1h-1zM0 85h1v1h-1zM40 85h1v1h-1zM12 86h1v1h-1zM19 86h1v1h-1zM29 86h1v1h-1zM33 86h1v1h-1zM40 86h1v1h-1zM26 91h1v1h-1z"/>
<path fill="#ff9f9f" d="M19 0h1v1h-1zM41 0h1v1h-1zM17 1h1v1h-1zM19 1h1v1h-1zM39 1h1v1h-1zM0 2h2v1h-2zM6 2h1v1h-1zM9 2h1v1h-1zM13 2h1v1h-1zM19 2h1v1h-1zM22 2h1v1h-1zM24 2h1v1h-1zM26 2h1v1h-1zM29 2h2v1h-2zM33 2h1v1h-1zM36 2h1v1h-1zM38 2h2v1h-2zM42 2h1v1h-1zM2 3h1v1h-1zM5 3h1v1h-1zM11 3h2v1h-2zM19 3h1v1h-1zM21 3h1v1h-1zM33 3h1v1h-1zM12 4h2v1h-2zM15 4h1v1h-1zM17 4h1v1h-1zM19 4h1v1h-1zM2 5h1v1h-1zM4 5h4v1h-4zM10 5h1v1h-1zM16 5h1v1h-1zM18 5h1v1h-1zM33 5h1v1h-1zM39 5h1v1h-1zM11 6h1v1h-1zM16 6h1v1h-1zM22 6h2v1h-2zM25 6h2v1h-2zM28 6h1v1h-1zM35 6h3v1h-3zM40 6h1v1h-1zM1 7h2v1h-2zM7 7h1v1h-1zM9 7h1v1h-1zM12 7h1v1h-1zM14 7h1v1h-1zM19 7h1v1h-1zM23 7h2v1h-2zM26 7h1v1h-1zM28 7h1v1h-1zM32 7h2v1h-2zM37 7h3v1h-3zM41 7h1v1h-1zM0 8h1v1h-1zM4 8h2v1h-2zM7 8h2v1h-2zM10 8h1v1h-1zM13 8h1v1h-1zM18 8h2v1h-2zM24 8h1v1h-1zM26 8h2v1h-2zM30 8h1v1h-1zM33 8h1v1h-1zM35 8h1v1h-1zM37 8h4v1h-4zM0 9h1v1h-1zM5 9h1v1h-1zM7 9h2v1h-2zM11 9h2v1h-2zM14 9h1v1h-1zM17 9h1v1h-1zM19 9h1v1h-1zM26 9h1v1h-1zM29 9h2v1h-2zM42 9h1v1h-1zM3 10h1v1h-1zM7 10h2v1h-2zM11 10h2v1h-2zM19 10h1v1h-1zM40 10h1v1h-1zM1 11h1v1h-1zM6 11h1v1h-1zM12 11h1v1h-1zM21 11h4v1h-4zM28 11h6v1h-6zM35 11h1v1h-1zM37 11h1v1h-1zM39 11h1v1h-1zM41 11h2v1h-2zM2 12h1v1h-1zM5 12h1v1h-1zM10 12h1v1h-1zM12 12h1v1h-1zM15 12h1v1h-1zM19 12h1v1h-1zM22 12h1v1h-1zM24 12h1v1h-1zM26 12h1v1h-1zM29 12h1v1h-1zM35 12h1v1h-1zM41 12h2v1h-2zM5 13h1v1h-1zM10 13h1v1h-1zM14 13h1v1h-1zM18 13h2v1h-2zM22 13h1v1h-1zM26 13h2v1h-2zM29 13h1v1h-1zM31 13h1v1h-1zM33 13h2v1h-2zM36 13h1v1h-1zM40 13h1v1h-1zM0 14h1v1h-1zM2 14h1v1h-1zM4 14h1v1h-1zM8 14h1v1h-1zM12 14h1v1h-1zM14 14h1v1h-1zM21 14h1v1h-1zM25 14h1v1h-1zM31 14h1v1h-1zM38 14h2v1h-2zM42 14h1v1h-1zM0 15h1v1h-1zM2 15h2v1h-2zM6 15h1v1h-1zM11 15h1v1h-1zM14 15h3v1h-3zM20 15h1v1h-1zM24 15h1v1h-1zM26 15h1v1h-1zM29 15h1v1h-1zM33 15h1v1h-1zM40 15h1v1h-1zM1 16h2v1h-2zM4 16h1v1h-1zM7 16h1v1h-1zM10 16h4v1h-4zM15 16h1v1h-1zM17 16h1v1h-1zM24 16h1v1h-1zM26 16h2v1h-2zM29 16h2v1h-2zM33 16h1v1h-1zM35 16h1v1h-1zM6 17h3v1h-3zM10 17h1v1h-1zM14 17h1v1h-1zM20 17h2v1h-2zM27 17h2v1h-2zM34 17h2v1h-2zM39 17h2v1h-2zM42 17h1v1h-1zM1 18h3v1h-3zM7 18h5v1h-5zM13 18h1v1h-1zM18 18h1v1h-1zM22 18h1v1h-1zM40 18h1v1h-1zM8 19h1v1h-1zM23 19h1v1h-1zM36 19h1v1h-1zM41 19h1v1h-1zM5 20h1v1h-1zM8 20h1v1h-1zM10 20h2v1h-2zM14 20h1v1h-1zM25 20h1v1h-1zM27 20h2v1h-2zM31 20h2v1h-2zM41 20h1v1h-1zM10 21h1v1h-1zM15 21h1v1h-1zM17 21h1v1h-1zM20 21h1v1h-1zM4 22h1v1h-1zM0 23h1v1h-1zM2 23h1v1h-1zM7 23h1v1h-1zM10 23h1v1h-1zM13 23h2v1h-2zM16 23h1v1h-1zM18 23h2v1h-2zM29 23h1v1h-1zM0 24h1v1h-1zM2 24h1v1h-1zM6 24h7v1h-7zM19 24h1v1h-1zM24 24h1v1h-1zM26 24h1v1h-1zM1 25h1v1h-1zM4 25h1v1h-1zM6 25h2v1h-2zM9 25h1v1h-1zM15 25h1v1h-1zM19 25h1v1h-1zM0 26h1v1h-1zM2 26h1v1h-1zM5 26h2v1h-2zM9 26h2v1h-2zM13 26h1v1h-1zM33 26h1v1h-1zM0 27h1v1h-1zM6 27h1v1h-1zM8 27h1v1h-1zM13 27h1v1h-1zM15 27h1v1h-1zM18 27h2v1h-2zM5 28h1v1h-1zM13 28h1v1h-1zM20 28h2v1h-2zM31 28h1v1h-1zM36 28h1v1h-1zM38 28h2v1h-2zM2 29h1v1h-1zM6 29h3v1h-3zM11 29h1v1h-1zM13 29h1v1h-1zM15 29h3v1h-3zM19 29h1v1h-1zM0 30h1v1h-1zM4 30h1v1h-1zM7 30h1v1h-1zM10 30h1v1h-1zM19 30h1v1h-1zM26 30h1v1h-1zM1 31h2v1h-2zM4 31h1v1h-1zM7 31h2v1h-2zM10 31h1v1h-1zM16 31h1v1h-1zM19 31h1v1h-1zM22 31h1v1h-1zM26 31h1v1h-1zM29 31h1v1h-1zM0 32h1v1h-1zM3 32h1v1h-1zM6 32h1v1h-1zM8 32h1v1h-1zM10 32h1v1h-1zM15 32h2v1h-2zM18 32h2v1h-2zM22 32h2v1h-2zM27 32h1v1h-1zM33 32h1v1h-1zM9 35h1v1h-1zM19 35h1v1h-1zM3 37h2v1h-2zM10 37h1v1h-1zM1 38h1v1h-1zM6 38h1v1h-1zM9 38h2v1h-2zM16 38h1v1h-1zM15 42h1v1h-1zM6 44h1v1h-1zM10 44h1v1h-1zM12 44h1v1h-1zM18 44h1v1h-1zM37 50h1v1h-1zM23 52h1v1h-1zM1 56h1v1h-1zM14 56h1v1h-1zM25 56h1v1h-1zM28 56h1v1h-1zM2 57h1v1h-1zM5 57h1v1h-1zM10 57h1v1h-1zM23 57h1v1h-1zM28 57h1v1h-1zM30 57h2v1h-2zM34 57h1v1h-1zM10 58h1v1h-1zM14 58h1v1h-1zM21 58h1v1h-1zM40 58h1v1h-1zM14 59h1v1h-1zM20 59h1v1h-1zM28 59h1v1h-1zM32 59h1v1h-1zM0 60h1v1h-1zM2 60h1v1h-1zM5 60h1v1h-1zM9 60h2v1h-2zM12 60h1v1h-1zM15 60h1v1h-1zM17 60h2v1h-2zM20 60h2v1h-2zM24 60h1v1h-1zM29 60h4v1h-4zM40 60h1v1h-1zM1 61h3v1h-3zM8 61h2v1h-2zM14 61h1v1h-1zM19 61h2v1h-2zM30 61h3v1h-3zM34 61h3v1h-3zM1 62h2v1h-2zM11 62h1v1h-1zM17 62h1v1h-1zM21 62h1v1h-1zM26 62h1v1h-1zM31 62h2v1h-2zM34 62h1v1h-1zM37 62h1v1h-1zM40 62h1v1h-1zM42 62h1v1h-1zM3 63h1v1h-1zM7 63h2v1h-2zM16 63h1v1h-1zM23 63h1v1h-1zM25 63h1v1h-1zM30 63h2v1h-2zM39 63h1v1h-1zM41 63h1v1h-1zM0 66h1v1h-1zM3 66h5v1h-5zM10 66h1v1h-1zM13 66h1v1h-1zM17 66h1v1h-1zM24 66h1v1h-1zM28 66h1v1h-1zM34 66h1v1h-1zM37 66h1v1h-1zM42 66h1v1h-1zM21 70h1v1h-1zM36 71h1v1h-1z"/>
<path fill="#bfbfff" d="M32 0h1v1h-1zM34 22h1v1h-1zM38 22h1v1h-1zM41 22h1v1h-1zM36 25h1v1h-1zM23 33h1v1h-1zM36 33h2v1h-2zM41 33h1v1h-1zM28 34h1v1h-1zM31 34h2v1h-2zM36 34h2v1h-2zM41 34h1v1h-1zM25 35h1v1h-1zM27 35h1v1h-1zM36 35h1v1h-1zM41 35h1v1h-1zM16 36h1v1h-1zM20 36h1v1h-1zM23 36h1v1h-1zM28 36h1v1h-1zM35 36h2v1h-2zM42 36h1v1h-1zM28 37h1v1h-1zM36 37h2v1h-2zM42 37h1v1h-1zM36 38h1v1h-1zM20 39h1v1h-1zM25 39h1v1h-1zM36 39h1v1h-1zM41 39h1v1h-1zM21 40h1v1h-1zM26 40h1v1h-1zM28 40h1v1h-1zM30 40h3v1h-3zM34 40h1v1h-1zM38 40h1v1h-1zM25 42h2v1h-2zM30 42h1v1h-1zM39 42h3v1h-3zM23 43h3v1h-3zM35 43h1v1h-1zM37 43h2v1h-2zM40 43h3v1h-3zM30 45h2v1h-2zM40 45h1v1h-1zM25 46h2v1h-2zM34 46h1v1h-1zM37 46h1v1h-1zM39 46h1v1h-1zM19 47h1v1h-1zM24 47h2v1h-2zM28 47h1v1h-1zM30 47h1v1h-1zM36 47h3v1h-3zM42 47h1v1h-1zM34 48h1v1h-1zM42 48h1v1h-1zM34 49h1v1h-1zM37 49h1v1h-1zM42 49h1v1h-1zM0 75h2v1h-2zM3 75h3v1h-3zM9 75h1v1h-1zM11 75h2v1h-2zM15 75h1v1h-1zM17 75h2v1h-2zM20 75h1v1h-1zM22 75h2v1h-2zM29 75h1v1h-1zM31 75h2v1h-2zM34 75h1v1h-1zM36 75h1v1h-1zM39 75h1v1h-1zM41 75h2v1h-2zM1 76h1v1h-1zM7 76h1v1h-1zM14 76h1v1h-1zM17 76h1v1h-1zM20 76h1v1h-1zM22 76h1v1h-1zM25 76h3v1h-3zM33 76h1v1h-1zM37 76h4v1h-4zM0 77h1v1h-1zM5 77h1v1h-1zM25 77h1v1h-1zM30 77h2v1h-2zM35 77h1v1h-1zM37 77h1v1h-1zM41 77h1v1h-1zM3 78h1v1h-1zM7 78h1v1h-1zM20 78h1v1h-1zM23 78h1v1h-1zM25 78h1v1h-1zM28 78h1v1h-1zM31 78h2v1h-2zM37 78h2v1h-2zM3 79h1v1h-1zM8 79h1v1h-1zM14 79h1v1h-1zM17 79h1v1h-1zM22 79h1v1h-1zM28 79h1v1h-1zM32 79h1v1h-1zM37 79h1v1h-1zM40 79h1v1h-1zM42 79h1v1h-1zM5 80h3v1h-3zM9 80h1v1h-1zM12 80h1v1h-1zM14 80h1v1h-1zM16 80h2v1h-2zM19 80h1v1h-1zM31 80h2v1h-2zM34 80h3v1h-3zM38 80h2v1h-2zM42 80h1v1h-1zM1 81h1v1h-1zM5 81h2v1h-2zM9 81h1v1h-1zM11 81h1v1h-1zM13 81h2v1h-2zM16 81h1v1h-1zM18 81h1v1h-1zM20 81h1v1h-1zM23 81h2v1h-2zM26 81h2v1h-2zM30 81h1v1h-1zM32 81h1v1h-1zM37 81h1v1h-1zM39 81h1v1h-1zM42 81h1v1h-1zM6 82h1v1h-1zM8 82h1v1h-1zM10 82h1v1h-1zM15 82h1v1h-1zM17 82h2v1h-2zM22 82h1v1h-1zM26 82h1v1h-1zM29 82h1v1h-1zM34 82h2v1h-2zM37 82h1v1h-1zM39 82h2v1h-2zM5 83h1v1h-1zM20 83h2v1h-2zM23 83h3v1h-3zM34 83h3v1h-3zM41 83h1v1h-1zM1 84h1v1h-1zM4 84h1v1h-1zM7 84h1v1h-1zM9 84h1v1h-1zM11 84h1v1h-1zM21 84h1v1h-1zM24 84h1v1h-1zM30 84h2v1h-2zM33 84h1v1h-1zM35 84h1v1h-1zM40 84h1v1h-1zM42 84h1v1h-1zM5 85h2v1h-2zM11 85h2v1h-2zM17 85h1v1h-1zM20 85h1v1h-1zM22 85h1v1h-1zM24 85h1v1h-1zM33 85h1v1h-1zM36 85h1v1h-1zM38 85h1v1h-1zM2 86h1v1h-1zM4 86h2v1h-2zM7 86h1v1h-1zM13 86h2v1h-2zM17 86h2v1h-2zM21 86h4v1h-4zM27 86h2v1h-2zM32 86h1v1h-1zM35 86h4v1h-4zM5 88h1v1h-1zM10 88h1v1h-1zM13 88h1v1h-1zM24 88h1v1h-1zM26 88h1v1h-1zM29 88h1v1h-1zM31 88h1v1h-1zM33 88h1v1h-1zM37 88h1v1h-1zM42 88h1v1h-1zM3 89h1v1h-1zM10 89h1v1h-1zM12 89h2v1h-2zM16 89h2v1h-2zM23 89h1v1h-1zM26 89h2v1h-2zM29 89h1v1h-1zM35 89h1v1h-1zM40 89h3v1h-3zM13 90h1v1h-1zM15 90h1v1h-1zM0 91h3v1h-3zM4 91h2v1h-2zM7 91h1v1h-1zM10 91h1v1h-1zM12 91h1v1h-1zM14 91h2v1h-2zM17 91h2v1h-2zM25 91h1v1h-1zM27 91h1v1h-1zM29 91h1v1h-1zM34 91h4v1h-4zM39 91h1v1h-1zM4 92h2v1h-2zM9 92h1v1h-1zM11 92h1v1h-1zM13 92h3v1h-3zM29 92h1v1h-1zM33 92h1v1h-1zM36 92h1v1h-1zM9 93h1v1h-1zM35 93h1v1h-1zM4 94h1v1h-1zM13 94h1v1h-1zM19 94h1v1h-1zM33 94h1v1h-1zM39 94h1v1h-1zM41 94h1v1h-1zM2 95h1v1h-1zM4 95h1v1h-1zM13 95h1v1h-1zM15 95h1v1h-1zM18 95h1v1h-1zM22 95h3v1h-3zM29 95h2v1h-2zM34 95h2v1h-2zM41 95h1v1h-1z"/>
<path fill="#ff8080" d="M14 1h1v1h-1zM17 2h1v1h-1zM35 2h1v1h-1zM6 3h1v1h-1zM9 3h1v1h-1zM15 3h1v1h-1zM0 5h2v1h-2zM9 5h1v1h-1zM17 5h1v1h-1zM19 5h1v1h-1zM0 6h3v1h-3zM8 6h1v1h-1zM10 6h1v1h-1zM12 6h1v1h-1zM14 6h2v1h-2zM17 6h1v1h-1zM20 6h1v1h-1zM27 6h1v1h-1zM31 6h1v1h-1zM34 6h1v1h-1zM42 6h1v1h-1zM3 7h2v1h-2zM8 7h1v1h-1zM10 7h2v1h-2zM13 7h1v1h-1zM15 7h2v1h-2zM18 7h1v1h-1zM29 7h1v1h-1zM2 8h1v1h-1zM6 8h1v1h-1zM9 8h1v1h-1zM11 8h1v1h-1zM15 8h3v1h-3zM22 8h1v1h-1zM25 8h1v1h-1zM31 8h1v1h-1zM4 9h1v1h-1zM6 9h1v1h-1zM16 9h1v1h-1zM22 9h1v1h-1zM38 9h1v1h-1zM13 10h1v1h-1zM15 10h1v1h-1zM0 11h1v1h-1zM3 11h1v1h-1zM8 11h3v1h-3zM13 11h2v1h-2zM17 11h1v1h-1zM19 11h1v1h-1zM36 11h1v1h-1zM38 11h1v1h-1zM7 12h1v1h-1zM9 12h1v1h-1zM13 12h1v1h-1zM16 12h2v1h-2zM40 12h1v1h-1zM1 13h4v1h-4zM8 13h1v1h-1zM11 13h3v1h-3zM15 13h1v1h-1zM17 13h1v1h-1zM23 13h2v1h-2zM28 13h1v1h-1zM38 13h2v1h-2zM1 14h1v1h-1zM7 14h1v1h-1zM13 14h1v1h-1zM15 14h1v1h-1zM19 14h2v1h-2zM22 14h1v1h-1zM24 14h1v1h-1zM26 14h4v1h-4zM33 14h1v1h-1zM35 14h1v1h-1zM4 15h1v1h-1zM8 15h2v1h-2zM17 15h1v1h-1zM19 15h1v1h-1zM30 15h1v1h-1zM6 16h1v1h-1zM14 16h1v1h-1zM18 16h2v1h-2zM0 17h2v1h-2zM3 17h2v1h-2zM11 17h2v1h-2zM15 17h3v1h-3zM19 17h1v1h-1zM23 17h2v1h-2zM26 17h1v1h-1zM30 17h3v1h-3zM15 18h2v1h-2zM19 18h1v1h-1zM23 18h1v1h-1zM35 18h1v1h-1zM12 19h1v1h-1zM16 19h1v1h-1zM21 19h2v1h-2zM24 19h2v1h-2zM32 19h1v1h-1zM34 19h1v1h-1zM38 19h2v1h-2zM42 19h1v1h-1zM3 20h1v1h-1zM7 20h1v1h-1zM16 20h1v1h-1zM19 20h3v1h-3zM23 20h1v1h-1zM30 20h1v1h-1zM34 20h1v1h-1zM36 20h1v1h-1zM38 20h3v1h-3zM19 21h1v1h-1zM1 23h1v1h-1zM4 23h3v1h-3zM9 23h1v1h-1zM15 23h1v1h-1zM1 24h1v1h-1zM3 24h3v1h-3zM13 24h2v1h-2zM16 24h2v1h-2zM29 24h1v1h-1zM16 25h1v1h-1zM3 26h1v1h-1zM4 27h1v1h-1zM1 28h3v1h-3zM6 28h1v1h-1zM8 28h2v1h-2zM11 28h1v1h-1zM14 28h1v1h-1zM18 28h2v1h-2zM22 28h2v1h-2zM25 28h1v1h-1zM27 28h1v1h-1zM30 28h1v1h-1zM0 29h1v1h-1zM3 29h1v1h-1zM5 29h1v1h-1zM10 29h1v1h-1zM12 29h1v1h-1zM18 29h1v1h-1zM2 30h2v1h-2zM6 30h1v1h-1zM9 30h1v1h-1zM11 30h1v1h-1zM5 31h1v1h-1zM17 31h1v1h-1zM1 32h2v1h-2zM4 32h2v1h-2zM13 32h1v1h-1zM17 32h1v1h-1zM7 44h1v1h-1zM19 44h1v1h-1zM25 50h1v1h-1zM34 50h1v1h-1zM3 51h1v1h-1zM8 51h1v1h-1zM21 51h1v1h-1zM32 51h1v1h-1zM36 51h2v1h-2zM42 52h1v1h-1zM14 53h1v1h-1zM23 53h1v1h-1zM32 53h1v1h-1zM13 54h1v1h-1zM24 54h1v1h-1zM3 55h1v1h-1zM20 55h1v1h-1zM37 55h1v1h-1zM0 56h1v1h-1zM7 56h1v1h-1zM16 56h2v1h-2zM19 56h2v1h-2zM24 56h1v1h-1zM35 56h1v1h-1zM39 56h2v1h-2zM0 57h1v1h-1zM4 57h1v1h-1zM7 57h3v1h-3zM11 57h2v1h-2zM20 57h1v1h-1zM25 57h1v1h-1zM32 57h1v1h-1zM36 57h1v1h-1zM38 57h1v1h-1zM41 57h1v1h-1zM0 58h2v1h-2zM3 58h2v1h-2zM9 58h1v1h-1zM12 58h1v1h-1zM16 58h3v1h-3zM20 58h1v1h-1zM23 58h4v1h-4zM28 58h1v1h-1zM31 58h2v1h-2zM34 58h6v1h-6zM41 58h2v1h-2zM2 59h2v1h-2zM5 59h1v1h-1zM10 59h1v1h-1zM13 59h1v1h-1zM15 59h1v1h-1zM17 59h1v1h-1zM21 59h1v1h-1zM24 59h2v1h-2zM27 59h1v1h-1zM31 59h1v1h-1zM34 59h1v1h-1zM36 59h4v1h-4zM41 59h1v1h-1zM3 60h1v1h-1zM13 60h1v1h-1zM16 60h1v1h-1zM22 60h1v1h-1zM26 60h1v1h-1zM33 60h1v1h-1zM35 60h1v1h-1zM38 60h2v1h-2zM0 61h1v1h-1zM4 61h1v1h-1zM7 61h1v1h-1zM16 61h2v1h-2zM24 61h2v1h-2zM28 61h2v1h-2zM38 61h1v1h-1zM40 61h3v1h-3zM0 62h1v1h-1zM3 62h4v1h-4zM8 62h1v1h-1zM13 62h1v1h-1zM15 62h2v1h-2zM18 62h1v1h-1zM20 62h1v1h-1zM23 62h2v1h-2zM27 62h4v1h-4zM33 62h1v1h-1zM35 62h2v1h-2zM41 62h1v1h-1zM0 63h3v1h-3zM9 63h1v1h-1zM13 63h3v1h-3zM21 63h1v1h-1zM27 63h2v1h-2zM32 63h1v1h-1zM37 63h1v1h-1zM40 63h1v1h-1zM42 63h1v1h-1zM28 64h1v1h-1zM32 64h1v1h-1zM42 64h1v1h-1zM9 66h1v1h-1zM11 66h1v1h-1zM15 66h2v1h-2zM19 66h1v1h-1zM26 66h2v1h-2zM29 66h2v1h-2zM36 66h1v1h-1zM40 66h2v1h-2zM1 67h1v1h-1zM36 70h1v1h-1zM23 72h1v1h-1z"/>
<path fill="#ff6060" d="M15 5h1v1h-1zM3 6h5v1h-5zM9 6h1v1h-1zM18 6h1v1h-1zM24 6h1v1h-1zM29 6h2v1h-2zM33 6h1v1h-1zM5 7h2v1h-2zM22 7h1v1h-1zM1 8h1v1h-1zM2 11h1v1h-1zM4 11h2v1h-2zM7 11h1v1h-1zM11 11h1v1h-1zM16 11h1v1h-1zM18 11h1v1h-1zM1 12h1v1h-1zM6 12h1v1h-1zM8 12h1v1h-1zM0 13h1v1h-1zM6 13h2v1h-2zM9 13h1v1h-1zM3 14h1v1h-1zM6 14h1v1h-1zM9 14h1v1h-1zM11 14h1v1h-1zM16 14h3v1h-3zM36 14h1v1h-1zM2 17h1v1h-1zM9 17h1v1h-1zM13 17h1v1h-1zM18 17h1v1h-1zM29 17h1v1h-1zM33 17h1v1h-1zM36 17h1v1h-1zM5 18h1v1h-1zM0 19h5v1h-5zM9 19h2v1h-2zM17 19h2v1h-2zM20 19h1v1h-1zM27 19h1v1h-1zM29 19h3v1h-3zM35 19h1v1h-1zM37 19h1v1h-1zM40 19h1v1h-1zM1 20h2v1h-2zM4 20h1v1h-1zM6 20h1v1h-1zM12 20h1v1h-1zM17 20h2v1h-2zM22 20h1v1h-1zM24 20h1v1h-1zM29 20h1v1h-1zM33 20h1v1h-1zM42 20h1v1h-1zM12 23h1v1h-1zM0 28h1v1h-1zM4 28h1v1h-1zM7 28h1v1h-1zM10 28h1v1h-1zM12 28h1v1h-1zM17 28h1v1h-1zM26 28h1v1h-1zM33 28h1v1h-1zM1 29h1v1h-1zM13 31h1v1h-1zM0 50h1v1h-1zM4 50h1v1h-1zM8 50h1v1h-1zM14 50h1v1h-1zM20 50h1v1h-1zM28 50h3v1h-3zM32 50h1v1h-1zM36 50h1v1h-1zM41 50h1v1h-1zM1 51h1v1h-1zM7 51h1v1h-1zM9 51h1v1h-1zM12 51h2v1h-2zM20 51h1v1h-1zM22 51h1v1h-1zM24 51h2v1h-2zM28 51h1v1h-1zM42 51h1v1h-1zM0 52h2v1h-2zM3 52h1v1h-1zM6 52h2v1h-2zM20 52h1v1h-1zM28 52h1v1h-1zM32 52h1v1h-1zM37 52h1v1h-1zM0 53h4v1h-4zM20 53h3v1h-3zM24 53h2v1h-2zM28 53h1v1h-1zM30 53h1v1h-1zM37 53h2v1h-2zM40 53h1v1h-1zM0 54h2v1h-2zM3 54h1v1h-1zM5 54h1v1h-1zM7 54h2v1h-2zM10 54h1v1h-1zM17 54h1v1h-1zM20 54h2v1h-2zM25 54h4v1h-4zM31 54h2v1h-2zM34 54h1v1h-1zM36 54h1v1h-1zM40 54h1v1h-1zM0 55h1v1h-1zM2 55h1v1h-1zM6 55h1v1h-1zM9 55h1v1h-1zM14 55h1v1h-1zM21 55h1v1h-1zM24 55h2v1h-2zM27 55h1v1h-1zM31 55h1v1h-1zM38 55h1v1h-1zM2 56h2v1h-2zM5 56h2v1h-2zM8 56h1v1h-1zM12 56h2v1h-2zM15 56h1v1h-1zM23 56h1v1h-1zM27 56h1v1h-1zM29 56h4v1h-4zM34 56h1v1h-1zM36 56h3v1h-3zM1 57h1v1h-1zM6 57h1v1h-1zM13 57h1v1h-1zM15 57h4v1h-4zM22 57h1v1h-1zM24 57h1v1h-1zM27 57h1v1h-1zM29 57h1v1h-1zM33 57h1v1h-1zM35 57h1v1h-1zM37 57h1v1h-1zM39 57h2v1h-2zM5 58h4v1h-4zM13 58h1v1h-1zM15 58h1v1h-1zM22 58h1v1h-1zM27 58h1v1h-1zM29 58h2v1h-2zM4 59h1v1h-1zM6 59h4v1h-4zM11 59h1v1h-1zM16 59h1v1h-1zM22 59h2v1h-2zM26 59h1v1h-1zM29 59h2v1h-2zM40 59h1v1h-1zM42 59h1v1h-1zM6 60h1v1h-1zM19 60h1v1h-1zM27 60h1v1h-1zM41 60h1v1h-1zM5 61h2v1h-2zM10 61h3v1h-3zM15 61h1v1h-1zM18 61h1v1h-1zM22 61h2v1h-2zM26 61h2v1h-2zM37 61h1v1h-1zM39 61h1v1h-1zM7 62h1v1h-1zM9 62h2v1h-2zM12 62h1v1h-1zM14 62h1v1h-1zM19 62h1v1h-1zM22 62h1v1h-1zM38 62h2v1h-2zM4 63h3v1h-3zM10 63h3v1h-3zM20 63h1v1h-1zM24 63h1v1h-1zM26 63h1v1h-1zM29 63h1v1h-1zM34 63h3v1h-3zM36 64h1v1h-1zM28 65h1v1h-1zM14 66h1v1h-1zM18 66h1v1h-1zM33 66h1v1h-1zM38 66h2v1h-2zM5 67h1v1h-1zM30 67h1v1h-1zM9 68h1v1h-1zM0 69h1v1h-1zM3 69h1v1h-1zM25 69h1v1h-1zM27 69h1v1h-1zM32 69h1v1h-1zM36 69h2v1h-2zM0 70h2v1h-2zM3 70h1v1h-1zM5 70h2v1h-2zM11 70h1v1h-1zM14 70h1v1h-1zM18 70h1v1h-1zM22 70h1v1h-1zM25 70h2v1h-2zM34 70h1v1h-1zM37 70h1v1h-1zM1 71h1v1h-1zM27 71h2v1h-2zM1 72h2v1h-2zM21 72h1v1h-1zM28 72h1v1h-1zM31 72h3v1h-3zM25 74h1v1h-1zM32 74h1v1h-1zM37 74h1v1h-1z"/>
<path fill="#ff4040" d="M13 6h1v1h-1zM15 9h1v1h-1zM15 11h1v1h-1zM5 14h1v1h-1zM38 17h1v1h-1zM5 19h3v1h-3zM11 19h1v1h-1zM13 19h3v1h-3zM19 19h1v1h-1zM26 19h1v1h-1zM28 19h1v1h-1zM33 19h1v1h-1zM9 20h1v1h-1zM13 20h1v1h-1zM26 20h1v1h-1zM9 32h1v1h-1zM1 50h3v1h-3zM5 50h1v1h-1zM7 50h1v1h-1zM10 50h3v1h-3zM16 50h3v1h-3zM21 50h4v1h-4zM26 50h2v1h-2zM31 50h1v1h-1zM35 50h1v1h-1zM39 50h1v1h-1zM42 50h1v1h-1zM0 51h1v1h-1zM2 51h1v1h-1zM10 51h2v1h-2zM14 51h2v1h-2zM17 51h2v1h-2zM26 51h1v1h-1zM30 51h2v1h-2zM34 51h1v1h-1zM39 51h2v1h-2zM2 52h1v1h-1zM5 52h1v1h-1zM9 52h4v1h-4zM15 52h1v1h-1zM17 52h1v1h-1zM21 52h1v1h-1zM24 52h1v1h-1zM27 52h1v1h-1zM29 52h3v1h-3zM34 52h1v1h-1zM36 52h1v1h-1zM38 52h3v1h-3zM4 53h1v1h-1zM6 53h3v1h-3zM10 53h4v1h-4zM15 53h3v1h-3zM26 53h1v1h-1zM29 53h1v1h-1zM31 53h1v1h-1zM33 53h4v1h-4zM39 53h1v1h-1zM41 53h2v1h-2zM2 54h1v1h-1zM4 54h1v1h-1zM6 54h1v1h-1zM9 54h1v1h-1zM11 54h2v1h-2zM14 54h3v1h-3zM18 54h2v1h-2zM22 54h1v1h-1zM29 54h2v1h-2zM37 54h3v1h-3zM42 54h1v1h-1zM1 55h1v1h-1zM7 55h2v1h-2zM10 55h4v1h-4zM15 55h3v1h-3zM22 55h2v1h-2zM28 55h3v1h-3zM32 55h3v1h-3zM41 55h2v1h-2zM4 56h1v1h-1zM9 56h3v1h-3zM18 56h1v1h-1zM21 56h2v1h-2zM26 56h1v1h-1zM33 56h1v1h-1zM41 56h2v1h-2zM3 57h1v1h-1zM21 57h1v1h-1zM26 57h1v1h-1zM42 57h1v1h-1zM11 58h1v1h-1zM33 58h1v1h-1zM12 59h1v1h-1zM18 59h1v1h-1zM33 59h1v1h-1zM35 59h1v1h-1zM13 61h1v1h-1zM33 61h1v1h-1zM17 63h2v1h-2zM22 63h1v1h-1zM33 63h1v1h-1zM38 63h1v1h-1zM1 64h1v1h-1zM3 64h1v1h-1zM5 64h1v1h-1zM7 64h2v1h-2zM15 64h4v1h-4zM21 64h1v1h-1zM25 64h3v1h-3zM30 64h2v1h-2zM34 64h2v1h-2zM37 64h1v1h-1zM39 64h3v1h-3zM0 65h1v1h-1zM14 65h1v1h-1zM16 65h1v1h-1zM20 65h1v1h-1zM23 65h1v1h-1zM30 65h3v1h-3zM36 65h1v1h-1zM0 67h1v1h-1zM3 67h2v1h-2zM8 67h3v1h-3zM12 67h1v1h-1zM14 67h1v1h-1zM16 67h1v1h-1zM20 67h2v1h-2zM23 67h1v1h-1zM25 67h1v1h-1zM27 67h1v1h-1zM31 67h2v1h-2zM39 67h1v1h-1zM41 67h1v1h-1zM3 68h1v1h-1zM12 68h1v1h-1zM14 68h1v1h-1zM20 68h2v1h-2zM25 68h1v1h-1zM29 68h1v1h-1zM32 68h1v1h-1zM36 68h2v1h-2zM41 68h1v1h-1zM1 69h1v1h-1zM5 69h1v1h-1zM7 69h1v1h-1zM12 69h1v1h-1zM20 69h1v1h-1zM23 69h1v1h-1zM28 69h1v1h-1zM30 69h2v1h-2zM34 69h1v1h-1zM41 69h1v1h-1zM2 70h1v1h-1zM8 70h1v1h-1zM13 70h1v1h-1zM16 70h1v1h-1zM23 70h1v1h-1zM28 70h1v1h-1zM30 70h3v1h-3zM41 70h1v1h-1zM0 71h1v1h-1zM2 71h2v1h-2zM9 71h1v1h-1zM11 71h1v1h-1zM14 71h1v1h-1zM16 71h1v1h-1zM21 71h3v1h-3zM31 71h1v1h-1zM34 71h1v1h-1zM37 71h1v1h-1zM40 71h1v1h-1zM0 72h1v1h-1zM4 72h1v1h-1zM6 72h2v1h-2zM10 72h1v1h-1zM14 72h1v1h-1zM16 72h2v1h-2zM20 72h1v1h-1zM24 72h2v1h-2zM27 72h1v1h-1zM30 72h1v1h-1zM34 72h2v1h-2zM37 72h1v1h-1zM40 72h2v1h-2zM1 74h1v1h-1zM3 74h1v1h-1zM5 74h1v1h-1zM8 74h3v1h-3zM12 74h1v1h-1zM18 74h1v1h-1zM20 74h1v1h-1zM24 74h1v1h-1zM28 74h4v1h-4zM36 74h1v1h-1zM42 74h1v1h-1z"/>
<path fill="#ff2020" d="M19 6h1v1h-1zM6 50h1v1h-1zM9 50h1v1h-1zM13 50h1v1h-1zM19 50h1v1h-1zM33 50h1v1h-1zM38 50h1v1h-1zM40 50h1v1h-1zM4 51h3v1h-3zM16 51h1v1h-1zM19 51h1v1h-1zM23 51h1v1h-1zM27 51h1v1h-1zM29 51h1v1h-1zM33 51h1v1h-1zM35 51h1v1h-1zM38 51h1v1h-1zM41 51h1v1h-1zM4 52h1v1h-1zM8 52h1v1h-1zM13 52h2v1h-2zM16 52h1v1h-1zM18 52h2v1h-2zM22 52h1v1h-1zM25 52h1v1h-1zM33 52h1v1h-1zM35 52h1v1h-1zM41 52h1v1h-1zM5 53h1v1h-1zM9 53h1v1h-1zM19 53h1v1h-1zM23 54h1v1h-1zM33 54h1v1h-1zM35 54h1v1h-1zM41 54h1v1h-1zM4 55h2v1h-2zM18 55h2v1h-2zM26 55h1v1h-1zM35 55h2v1h-2zM39 55h2v1h-2zM19 57h1v1h-1zM19 58h1v1h-1zM19 59h1v1h-1zM19 63h1v1h-1zM0 64h1v1h-1zM2 64h1v1h-1zM4 64h1v1h-1zM6 64h1v1h-1zM9 64h2v1h-2zM14 64h1v1h-1zM19 64h2v1h-2zM22 64h1v1h-1zM29 64h1v1h-1zM33 64h1v1h-1zM38 64h1v1h-1zM1 65h2v1h-2zM4 65h1v1h-1zM6 65h4v1h-4zM15 65h1v1h-1zM17 65h1v1h-1zM21 65h1v1h-1zM24 65h2v1h-2zM27 65h1v1h-1zM29 65h1v1h-1zM33 65h1v1h-1zM37 65h2v1h-2zM41 65h1v1h-1zM2 67h1v1h-1zM6 67h1v1h-1zM11 67h1v1h-1zM15 67h1v1h-1zM17 67h1v1h-1zM22 67h1v1h-1zM24 67h1v1h-1zM28 67h1v1h-1zM33 67h5v1h-5zM40 67h1v1h-1zM42 67h1v1h-1zM0 68h3v1h-3zM5 68h1v1h-1zM10 68h2v1h-2zM13 68h1v1h-1zM15 68h2v1h-2zM22 68h2v1h-2zM27 68h2v1h-2zM30 68h1v1h-1zM34 68h2v1h-2zM40 68h1v1h-1zM9 69h1v1h-1zM13 69h5v1h-5zM21 69h1v1h-1zM24 69h1v1h-1zM26 69h1v1h-1zM35 69h1v1h-1zM38 69h1v1h-1zM7 70h1v1h-1zM9 70h2v1h-2zM12 70h1v1h-1zM15 70h1v1h-1zM17 70h1v1h-1zM19 70h2v1h-2zM24 70h1v1h-1zM27 70h1v1h-1zM35 70h1v1h-1zM38 70h3v1h-3zM42 70h1v1h-1zM4 71h1v1h-1zM7 71h2v1h-2zM10 71h1v1h-1zM17 71h4v1h-4zM29 71h1v1h-1zM32 71h1v1h-1zM35 71h1v1h-1zM38 71h1v1h-1zM41 71h2v1h-2zM3 72h1v1h-1zM5 72h1v1h-1zM8 72h2v1h-2zM12 72h2v1h-2zM18 72h1v1h-1zM26 72h1v1h-1zM36 72h1v1h-1zM38 72h2v1h-2zM42 72h1v1h-1zM0 73h2v1h-2zM8 73h1v1h-1zM34 73h1v1h-1zM40 73h2v1h-2zM0 74h1v1h-1zM2 74h1v1h-1zM4 74h1v1h-1zM6 74h2v1h-2zM13 74h3v1h-3zM17 74h1v1h-1zM19 74h1v1h-1zM21 74h2v1h-2zM27 74h1v1h-1zM39 74h3v1h-3z"/>
<path fill="#9f9fff" d="M37 22h1v1h-1zM30 33h2v1h-2zM35 33h1v1h-1zM42 33h1v1h-1zM32 36h1v1h-1zM37 40h1v1h-1zM41 40h1v1h-1zM32 42h1v1h-1zM42 42h1v1h-1zM39 45h1v1h-1zM31 47h2v1h-2zM40 47h1v1h-1zM27 75h1v1h-1zM30 75h1v1h-1zM37 75h1v1h-1zM0 76h1v1h-1zM2 76h2v1h-2zM9 76h4v1h-4zM21 76h1v1h-1zM28 76h4v1h-4zM41 76h1v1h-1zM9 77h1v1h-1zM32 77h1v1h-1zM10 78h1v1h-1zM1 79h1v1h-1zM25 79h1v1h-1zM31 79h1v1h-1zM36 79h1v1h-1zM0 80h1v1h-1zM3 80h1v1h-1zM8 80h1v1h-1zM10 80h2v1h-2zM15 80h1v1h-1zM20 80h1v1h-1zM22 80h3v1h-3zM27 80h2v1h-2zM30 80h1v1h-1zM37 80h1v1h-1zM40 80h2v1h-2zM2 81h2v1h-2zM8 81h1v1h-1zM10 81h1v1h-1zM12 81h1v1h-1zM25 81h1v1h-1zM28 81h1v1h-1zM31 81h1v1h-1zM41 81h1v1h-1zM0 82h1v1h-1zM13 82h2v1h-2zM20 82h2v1h-2zM23 82h3v1h-3zM31 82h3v1h-3zM36 82h1v1h-1zM38 82h1v1h-1zM42 82h1v1h-1zM3 83h1v1h-1zM8 83h1v1h-1zM28 83h1v1h-1zM30 83h2v1h-2zM2 84h2v1h-2zM6 84h1v1h-1zM8 84h1v1h-1zM10 84h1v1h-1zM14 84h2v1h-2zM17 84h1v1h-1zM20 84h1v1h-1zM29 84h1v1h-1zM34 84h1v1h-1zM37 84h1v1h-1zM41 84h1v1h-1zM3 85h1v1h-1zM8 85h1v1h-1zM10 85h1v1h-1zM14 85h1v1h-1zM16 85h1v1h-1zM18 85h1v1h-1zM25 85h1v1h-1zM30 85h1v1h-1zM32 85h1v1h-1zM34 85h1v1h-1zM42 85h1v1h-1zM1 86h1v1h-1zM3 86h1v1h-1zM25 86h1v1h-1zM34 86h1v1h-1zM7 87h1v1h-1zM9 87h2v1h-2zM12 87h2v1h-2zM18 87h2v1h-2zM22 87h1v1h-1zM26 87h1v1h-1zM33 87h1v1h-1zM40 87h1v1h-1zM0 88h3v1h-3zM4 88h1v1h-1zM6 88h3v1h-3zM11 88h2v1h-2zM16 88h4v1h-4zM27 88h2v1h-2zM30 88h1v1h-1zM35 88h1v1h-1zM38 88h4v1h-4zM2 89h1v1h-1zM4 89h1v1h-1zM7 89h3v1h-3zM14 89h1v1h-1zM20 89h2v1h-2zM24 89h1v1h-1zM28 89h1v1h-1zM30 89h3v1h-3zM36 89h2v1h-2zM0 90h1v1h-1zM8 90h1v1h-1zM19 90h1v1h-1zM26 90h1v1h-1zM33 90h1v1h-1zM39 90h1v1h-1zM42 90h1v1h-1zM3 91h1v1h-1zM6 91h1v1h-1zM8 91h1v1h-1zM11 91h1v1h-1zM16 91h1v1h-1zM20 91h2v1h-2zM23 91h1v1h-1zM28 91h1v1h-1zM30 91h3v1h-3zM42 91h1v1h-1zM0 92h1v1h-1zM6 92h1v1h-1zM8 92h1v1h-1zM12 92h1v1h-1zM22 92h6v1h-6zM30 92h2v1h-2zM34 92h2v1h-2zM38 92h5v1h-5zM4 93h1v1h-1zM15 93h2v1h-2zM18 93h2v1h-2zM22 93h1v1h-1zM26 93h4v1h-4zM31 93h3v1h-3zM37 93h1v1h-1zM39 93h1v1h-1zM1 94h1v1h-1zM9 94h3v1h-3zM15 94h1v1h-1zM18 94h1v1h-1zM21 94h1v1h-1zM23 94h2v1h-2zM31 94h1v1h-1zM36 94h1v1h-1zM38 94h1v1h-1zM1 95h1v1h-1zM3 95h1v1h-1zM5 95h1v1h-1zM7 95h2v1h-2zM11 95h1v1h-1zM16 95h2v1h-2zM19 95h2v1h-2zM26 95h1v1h-1zM28 95h1v1h-1zM33 95h1v1h-1zM36 95h3v1h-3zM40 95h1v1h-1zM42 95h1v1h-1zM2 96h1v1h-1zM24 96h1v1h-1zM26 96h1v1h-1zM39 96h1v1h-1zM6 97h1v1h-1zM13 97h1v1h-1zM19 97h1v1h-1zM22 97h1v1h-1zM24 97h1v1h-1zM27 97h1v1h-1zM29 97h1v1h-1zM33 97h1v1h-1zM36 97h1v1h-1zM15 98h1v1h-1zM2 99h1v1h-1zM13 99h1v1h-1zM33 99h1v1h-1zM35 99h1v1h-1z"/>
<path fill="#6060ff" d="M34 33h1v1h-1zM0 84h1v1h-1zM28 84h1v1h-1zM3 87h1v1h-1zM5 87h1v1h-1zM8 87h1v1h-1zM20 87h2v1h-2zM25 87h1v1h-1zM28 87h1v1h-1zM30 87h1v1h-1zM32 87h1v1h-1zM34 87h1v1h-1zM36 87h1v1h-1zM39 87h1v1h-1zM20 88h1v1h-1zM23 88h1v1h-1zM32 88h1v1h-1zM3 90h1v1h-1zM7 90h1v1h-1zM12 90h1v1h-1zM16 90h1v1h-1zM20 90h2v1h-2zM25 90h1v1h-1zM27 90h1v1h-1zM36 90h2v1h-2zM41 90h1v1h-1zM28 92h1v1h-1zM0 93h1v1h-1zM5 93h1v1h-1zM10 93h1v1h-1zM14 93h1v1h-1zM20 93h2v1h-2zM25 93h1v1h-1zM34 93h1v1h-1zM36 93h1v1h-1zM20 94h1v1h-1zM29 94h1v1h-1zM34 94h2v1h-2zM40 94h1v1h-1zM21 95h1v1h-1zM32 95h1v1h-1zM0 96h2v1h-2zM3 96h6v1h-6zM11 96h1v1h-1zM14 96h1v1h-1zM16 96h2v1h-2zM20 96h2v1h-2zM23 96h1v1h-1zM27 96h1v1h-1zM30 96h3v1h-3zM37 96h1v1h-1zM41 96h1v1h-1zM3 97h1v1h-1zM5 97h1v1h-1zM8 97h2v1h-2zM11 97h2v1h-2zM14 97h1v1h-1zM16 97h3v1h-3zM23 97h1v1h-1zM26 97h1v1h-1zM28 97h1v1h-1zM31 97h1v1h-1zM40 97h1v1h-1zM0 98h2v1h-2zM3 98h1v1h-1zM6 98h9v1h-9zM16 98h1v1h-1zM19 98h1v1h-1zM21 98h1v1h-1zM24 98h1v1h-1zM27 98h1v1h-1zM31 98h1v1h-1zM34 98h1v1h-1zM39 98h2v1h-2zM0 99h1v1h-1zM5 99h1v1h-1zM7 99h2v1h-2zM11 99h1v1h-1zM14 99h2v1h-2zM21 99h3v1h-3zM26 99h2v1h-2zM31 99h1v1h-1zM39 99h1v1h-1zM41 99h2v1h-2z"/>
<path fill="#8080ff" d="M40 33h1v1h-1zM41 45h1v1h-1zM34 47h1v1h-1zM41 47h1v1h-1zM28 75h1v1h-1zM5 76h1v1h-1zM8 76h1v1h-1zM32 76h1v1h-1zM34 76h1v1h-1zM36 76h1v1h-1zM2 80h1v1h-1zM21 80h1v1h-1zM25 80h1v1h-1zM0 81h1v1h-1zM34 81h1v1h-1zM3 82h1v1h-1zM32 83h1v1h-1zM12 84h1v1h-1zM16 84h1v1h-1zM25 84h2v1h-2zM32 84h1v1h-1zM36 84h1v1h-1zM28 85h1v1h-1zM31 85h1v1h-1zM31 86h1v1h-1zM0 87h3v1h-3zM4 87h1v1h-1zM6 87h1v1h-1zM11 87h1v1h-1zM14 87h4v1h-4zM23 87h2v1h-2zM29 87h1v1h-1zM31 87h1v1h-1zM37 87h2v1h-2zM41 87h2v1h-2zM3 88h1v1h-1zM9 88h1v1h-1zM14 88h1v1h-1zM25 88h1v1h-1zM34 88h1v1h-1zM36 88h1v1h-1zM0 89h2v1h-2zM5 89h2v1h-2zM11 89h1v1h-1zM22 89h1v1h-1zM25 89h1v1h-1zM33 89h2v1h-2zM39 89h1v1h-1zM1 90h2v1h-2zM4 90h3v1h-3zM9 90h3v1h-3zM14 90h1v1h-1zM17 90h2v1h-2zM22 90h3v1h-3zM28 90h5v1h-5zM34 90h2v1h-2zM38 90h1v1h-1zM40 90h1v1h-1zM41 91h1v1h-1zM1 92h3v1h-3zM7 92h1v1h-1zM10 92h1v1h-1zM16 92h3v1h-3zM20 92h2v1h-2zM32 92h1v1h-1zM37 92h1v1h-1zM1 93h3v1h-3zM6 93h3v1h-3zM11 93h3v1h-3zM17 93h1v1h-1zM24 93h1v1h-1zM30 93h1v1h-1zM38 93h1v1h-1zM40 93h1v1h-1zM42 93h1v1h-1zM0 94h1v1h-1zM2 94h2v1h-2zM5 94h4v1h-4zM12 94h1v1h-1zM14 94h1v1h-1zM16 94h2v1h-2zM22 94h1v1h-1zM26 94h2v1h-2zM30 94h1v1h-1zM32 94h1v1h-1zM37 94h1v1h-1zM42 94h1v1h-1zM0 95h1v1h-1zM12 95h1v1h-1zM14 95h1v1h-1zM25 95h1v1h-1zM27 95h1v1h-1zM31 95h1v1h-1zM39 95h1v1h-1zM9 96h2v1h-2zM12 96h2v1h-2zM15 96h1v1h-1zM18 96h2v1h-2zM22 96h1v1h-1zM25 96h1v1h-1zM28 96h2v1h-2zM38 96h1v1h-1zM40 96h1v1h-1zM42 96h1v1h-1zM0 97h1v1h-1zM4 97h1v1h-1zM7 97h1v1h-1zM10 97h1v1h-1zM15 97h1v1h-1zM20 97h1v1h-1zM35 97h1v1h-1zM37 97h3v1h-3zM42 97h1v1h-1zM4 98h2v1h-2zM17 98h1v1h-1zM26 98h1v1h-1zM29 98h2v1h-2zM33 98h1v1h-1zM37 98h1v1h-1zM42 98h1v1h-1zM4 99h1v1h-1zM6 99h1v1h-1zM9 99h2v1h-2zM17 99h1v1h-1zM19 99h1v1h-1zM29 99h2v1h-2zM38 99h1v1h-1zM40 99h1v1h-1z"/>
<path fill="#ff0000" d="M15 50h1v1h-1zM26 52h1v1h-1zM18 53h1v1h-1zM27 53h1v1h-1zM11 64h3v1h-3zM23 64h2v1h-2zM3 65h1v1h-1zM5 65h1v1h-1zM10 65h4v1h-4zM18 65h2v1h-2zM22 65h1v1h-1zM26 65h1v1h-1zM34 65h2v1h-2zM39 65h2v1h-2zM42 65h1v1h-1zM7 67h1v1h-1zM13 67h1v1h-1zM18 67h2v1h-2zM26 67h1v1h-1zM29 67h1v1h-1zM38 67h1v1h-1zM4 68h1v1h-1zM6 68h3v1h-3zM17 68h3v1h-3zM24 68h1v1h-1zM26 68h1v1h-1zM31 68h1v1h-1zM33 68h1v1h-1zM38 68h2v1h-2zM42 68h1v1h-1zM2 69h1v1h-1zM4 69h1v1h-1zM6 69h1v1h-1zM8 69h1v1h-1zM10 69h2v1h-2zM18 69h2v1h-2zM22 69h1v1h-1zM29 69h1v1h-1zM33 69h1v1h-1zM39 69h2v1h-2zM42 69h1v1h-1zM4 70h1v1h-1zM29 70h1v1h-1zM33 70h1v1h-1zM5 71h2v1h-2zM12 71h2v1h-2zM15 71h1v1h-1zM24 71h3v1h-3zM30 71h1v1h-1zM33 71h1v1h-1zM39 71h1v1h-1zM11 72h1v1h-1zM15 72h1v1h-1zM19 72h1v1h-1zM22 72h1v1h-1zM29 72h1v1h-1zM2 73h6v1h-6zM9 73h25v1h-25zM35 73h5v1h-5zM42 73h1v1h-1zM11 74h1v1h-1zM16 74h1v1h-1zM23 74h1v1h-1zM26 74h1v1h-1zM33 74h3v1h-3zM38 74h1v1h-1z"/>
<path fill="#4040ff" d="M27 87h1v1h-1zM35 87h1v1h-1zM21 88h1v1h-1zM23 93h1v1h-1zM41 93h1v1h-1zM25 94h1v1h-1zM28 94h1v1h-1zM33 96h3v1h-3zM1 97h2v1h-2zM25 97h1v1h-1zM30 97h1v1h-1zM32 97h1v1h-1zM34 97h1v1h-1zM41 97h1v1h-1zM20 98h1v1h-1zM23 98h1v1h-1zM25 98h1v1h-1zM28 98h1v1h-1zM32 98h1v1h-1zM35 98h2v1h-2zM38 98h1v1h-1zM41 98h1v1h-1zM1 99h1v1h-1zM3 99h1v1h-1zM16 99h1v1h-1zM18 99h1v1h-1zM24 99h2v1h-2zM32 99h1v1h-1zM34 99h1v1h-1zM36 99h2v1h-2z"/>
<path fill="#2020ff" d="M36 96h1v1h-1zM21 97h1v1h-1zM2 98h1v1h-1zM18 98h1v1h-1zM22 98h1v1h-1zM12 99h1v1h-1zM20 99h1v1h-1zM28 99h1v1h-1z"/>
</g>
<rect x="444.9" y="589.9" width="13.1" height="7.1" fill="#8f288d"/>
<rect x="457.9" y="589.9" width="18.7" height="7.1" fill="#1b75b9"/>
<rect x="476.5" y="589.9" width="3.9" height="7.1" fill="#000"/>
<rect x="480.3" y="589.9" width="36.1" height="7.1" fill="#1b75b9"/>
<rect x="516.4" y="589.9" width="51.4" height="7.1" fill="#000"/>
<rect x="567.8" y="589.9" width="26.1" height="7.1" fill="#1b75b9"/>
<rect x="593.8" y="589.9" width="44.8" height="7.1" fill="#000"/>
<rect x="638.5" y="589.9" width="3" height="7.1" fill="#1b75b9"/>
<rect x="641.5" y="589.9" width="16.3" height="7.1" fill="#000"/>
<rect x="657.8" y="589.9" width="3" height="7.1" fill="#1b75b9"/>
<rect x="660.8" y="589.9" width="14.3" height="7.1" fill="#000"/>
<text x="206.3" y="723.4" text-anchor="middle" font-size="9.5">Samples</text>
<text transform="translate(333.6 649) rotate(-90)" text-anchor="middle" font-size="9.5">Probes</text>
<text x="558.5" y="726.5" text-anchor="middle" font-size="9.5">Samples</text>
<text transform="translate(684 651) rotate(-90)" text-anchor="middle" font-size="9.5">Probes</text>
<rect x="246.3" y="519.5" width="161.3" height="51.7" fill="#fff" stroke="#333" stroke-width="0.9"/>
<defs><linearGradient id="rwb"><stop offset="0" stop-color="#00f"/><stop offset="0.5" stop-color="#fff"/><stop offset="1" stop-color="#f00"/></linearGradient></defs>
<rect x="257.6" y="534.4" width="61.7" height="21.8" fill="url(#rwb)"/>
<text x="288.3" y="531" text-anchor="middle">Methylation</text>
<text x="260.9" y="566.2" text-anchor="middle">0.0</text>
<text x="288.3" y="566.2" text-anchor="middle">0.5</text>
<text x="316.2" y="566.2" text-anchor="middle">1.0</text>
<rect x="338" y="527.3" width="19.4" height="7.1" fill="#1b75b9"/>
<rect x="338" y="542.3" width="19.4" height="7.4" fill="#8f288d"/>
<rect x="338" y="557.5" width="19.4" height="7.5" fill="#000"/>
<text x="363.5" y="534.8" fill="#2a7ec1">NCBRS</text>
<text x="363.5" y="549.8" fill="#92278f">BIS</text>
<text x="363.5" y="565">Control</text>
<path d="M115.7 548.5L210.5 548.5M115.7 548.5L115.7 585.4M210.5 548.5L210.5 578.4M190.8 578.4L230.3 578.4M190.8 578.4L190.8 586.5M230.3 578.4L230.3 583M449.7 543.1L507.1 543.1M449.7 543.1L449.7 583.3M507.1 543.1L507.1 570.3M473.2 570.3L540.6 570.3M473.2 570.3L473.2 583.3M540.6 570.3L540.6 574M507.4 574L573.3 574M507.4 574L507.4 583.3M573.3 574L573.3 575.1M545.4 575.1L601.3 575.1M545.4 575.1L545.4 581.4M601.3 575.1L601.3 578.8M577 578.8L638.5 578.8M577 578.8L577 583M638.5 578.8L638.5 582.5" stroke="#999" stroke-width="0.8" fill="none"/>
<path d="M101 589.6L101 588.3M106 589.6L106 588.3M101 588.3L106 588.3M96 589.6L96 587M103.5 588.3L103.5 587M96 587L103.5 587M115.9 589.6L115.9 588.9M120.9 589.6L120.9 588.9M115.9 588.9L120.9 588.9M118.4 588.9L118.4 588.4M125.9 589.6L125.9 588.4M118.4 588.4L125.9 588.4M110.9 589.6L110.9 587.7M122.2 588.4L122.2 587.7M110.9 587.7L122.2 587.7M116.6 587.7L116.6 587.1M130.9 589.6L130.9 587.1M116.6 587.1L130.9 587.1M140.9 589.6L140.9 588.8M145.8 589.6L145.8 588.8M140.9 588.8L145.8 588.8M135.9 589.6L135.9 588.6M143.3 588.8L143.3 588.6M135.9 588.6L143.3 588.6M139.6 588.6L139.6 588.4M150.8 589.6L150.8 588.4M139.6 588.4L150.8 588.4M155.8 589.6L155.8 587.2M160.8 589.6L160.8 587.2M155.8 587.2L160.8 587.2M170.8 589.6L170.8 588.3M175.7 589.6L175.7 588.3M170.8 588.3L175.7 588.3M180.7 589.6L180.7 588.6M185.7 589.6L185.7 588.6M180.7 588.6L185.7 588.6M173.3 588.3L173.3 588.1M183.2 588.6L183.2 588.1M173.3 588.1L183.2 588.1M165.8 589.6L165.8 587.2M178.2 588.1L178.2 587.2M165.8 587.2L178.2 587.2M195.7 589.6L195.7 588.6M200.7 589.6L200.7 588.6M195.7 588.6L200.7 588.6M190.7 589.6L190.7 587.4M198.2 588.6L198.2 587.4M190.7 587.4L198.2 587.4M205.7 589.6L205.7 588.1M210.6 589.6L210.6 588.1M205.7 588.1L210.6 588.1M194.4 587.4L194.4 587.1M208.2 588.1L208.2 587.1M194.4 587.1L208.2 587.1M215.6 589.6L215.6 588.5M220.6 589.6L220.6 588.5M215.6 588.5L220.6 588.5M225.6 589.6L225.6 588.7M230.6 589.6L230.6 588.7M225.6 588.7L230.6 588.7M228.1 588.7L228.1 588.2M235.6 589.6L235.6 588.2M228.1 588.2L235.6 588.2M218.1 588.5L218.1 587.5M231.8 588.2L231.8 587.5M218.1 587.5L231.8 587.5M240.6 589.6L240.6 588.7M245.5 589.6L245.5 588.7M240.6 588.7L245.5 588.7M250.5 589.6L250.5 588.6M255.5 589.6L255.5 588.6M250.5 588.6L255.5 588.6M243 588.7L243 588.2M253 588.6L253 588.2M243 588.2L253 588.2M248 588.2L248 587.6M260.5 589.6L260.5 587.6M248 587.6L260.5 587.6M265.5 589.6L265.5 587.5M270.5 589.6L270.5 587.5M265.5 587.5L270.5 587.5M280.4 589.6L280.4 589.1M285.4 589.6L285.4 589.1M280.4 589.1L285.4 589.1M275.4 589.6L275.4 588.7M282.9 589.1L282.9 588.7M275.4 588.7L282.9 588.7M290.4 589.6L290.4 589M295.4 589.6L295.4 589M290.4 589L295.4 589M279.2 588.7L279.2 588.1M292.9 589L292.9 588.1M279.2 588.1L292.9 588.1M305.4 589.6L305.4 588.1M310.3 589.6L310.3 588.1M305.4 588.1L310.3 588.1M300.4 589.6L300.4 587.7M307.8 588.1L307.8 587.7M300.4 587.7L307.8 587.7M315.3 589.6L315.3 587.6M320.3 589.6L320.3 587.6M315.3 587.6L320.3 587.6" stroke="#666" stroke-width="0.4" fill="none"/>
<path d="M103.1 587L103.1 586.4M122.2 587L122.2 586.4M103.1 586.4L122.2 586.4M112.6 586.4L112.6 586M141.3 587L141.3 586M112.6 586L141.3 586M160.4 587L160.4 586.2M179.5 587L179.5 586.2M160.4 586.2L179.5 586.2M198.6 587L198.6 586.1M217.7 587L217.7 586.1M198.6 586.1L217.7 586.1M169.9 586.2L169.9 585.8M208.2 586.1L208.2 585.8M169.9 585.8L208.2 585.8M236.8 587L236.8 585.5M255.9 587L255.9 585.5M236.8 585.5L255.9 585.5M275 587L275 585.9M294.1 587L294.1 585.9M275 585.9L294.1 585.9M284.6 585.9L284.6 585.5M313.2 587L313.2 585.5M284.6 585.5L313.2 585.5" stroke="#888" stroke-width="0.4" fill="none"/>
<path d="M457.4 589.6L457.4 589.1M462.4 589.6L462.4 589.1M457.4 589.1L462.4 589.1M452.4 589.6L452.4 588.2M459.9 589.1L459.9 588.2M452.4 588.2L459.9 588.2M447.4 589.6L447.4 587.2M456.2 588.2L456.2 587.2M447.4 587.2L456.2 587.2M467.4 589.6L467.4 588M472.4 589.6L472.4 588M467.4 588L472.4 588M487.4 589.6L487.4 588.8M492.4 589.6L492.4 588.8M487.4 588.8L492.4 588.8M482.4 589.6L482.4 588.6M489.9 588.8L489.9 588.6M482.4 588.6L489.9 588.6M477.4 589.6L477.4 588.1M486.2 588.6L486.2 588.1M477.4 588.1L486.2 588.1M481.8 588.1L481.8 585.7M497.4 589.6L497.4 585.7M481.8 585.7L497.4 585.7M502.4 589.6L502.4 588M507.4 589.6L507.4 588M502.4 588L507.4 588M517.4 589.6L517.4 588.1M522.4 589.6L522.4 588.1M517.4 588.1L522.4 588.1M512.4 589.6L512.4 587.4M519.9 588.1L519.9 587.4M512.4 587.4L519.9 587.4M532.4 589.6L532.4 588.4M537.4 589.6L537.4 588.4M532.4 588.4L537.4 588.4M527.4 589.6L527.4 587.8M534.9 588.4L534.9 587.8M527.4 587.8L534.9 587.8M542.4 589.6L542.4 588.4M547.4 589.6L547.4 588.4M542.4 588.4L547.4 588.4M544.9 588.4L544.9 586.7M552.4 589.6L552.4 586.7M544.9 586.7L552.4 586.7M557.4 589.6L557.4 587.1M562.5 589.6L562.5 587.1M557.4 587.1L562.5 587.1M560 587.1L560 586.2M567.5 589.6L567.5 586.2M560 586.2L567.5 586.2M582.5 589.6L582.5 589.1M587.5 589.6L587.5 589.1M582.5 589.1L587.5 589.1M577.5 589.6L577.5 588.4M585 589.1L585 588.4M577.5 588.4L585 588.4M572.5 589.6L572.5 588.1M581.2 588.4L581.2 588.1M572.5 588.1L581.2 588.1M576.8 588.1L576.8 586.8M592.5 589.6L592.5 586.8M576.8 586.8L592.5 586.8M602.5 589.6L602.5 589.1M607.5 589.6L607.5 589.1M602.5 589.1L607.5 589.1M597.5 589.6L597.5 588.5M605 589.1L605 588.5M597.5 588.5L605 588.5M601.2 588.5L601.2 587.7M612.5 589.6L612.5 587.7M601.2 587.7L612.5 587.7M622.5 589.6L622.5 588.5M627.5 589.6L627.5 588.5M622.5 588.5L627.5 588.5M625 588.5L625 586.7M632.5 589.6L632.5 586.7M625 586.7L632.5 586.7M617.5 589.6L617.5 586.2M628.7 586.7L628.7 586.2M617.5 586.2L628.7 586.2M637.5 589.6L637.5 587M642.5 589.6L642.5 587M637.5 587L642.5 587M647.5 589.6L647.5 587.2M652.5 589.6L652.5 587.2M647.5 587.2L652.5 587.2M640 587L640 586M650 587.2L650 586M640 586L650 586M657.5 589.6L657.5 588M662.5 589.6L662.5 588M657.5 588L662.5 588M667.5 589.6L667.5 588.7M672.5 589.6L672.5 588.7M667.5 588.7L672.5 588.7M660 588L660 587.4M670 588.7L670 587.4M660 587.4L670 587.4" stroke="#666" stroke-width="0.4" fill="none"/>
<path d="M86.4 606.2L86.4 620.2M81.6 613.2L86.4 613.2M85.3 634.2L85.3 641.3M81.6 637.7L85.3 637.7M81.6 613.2L81.6 637.7M56.7 625.5L81.6 625.5M86.9 650.3L86.9 662.5M84.1 656.4L86.9 656.4M88.8 673.3L88.8 675.5M84.1 674.4L88.8 674.4M84.1 656.4L84.1 674.4M56.7 665.4L84.1 665.4M56.7 625.5L56.7 665.4M9.3 645.4L56.7 645.4M82.8 684L82.8 698.8M75.2 691.4L82.8 691.4M85.8 710.1L85.8 714M75.2 712L85.8 712M75.2 691.4L75.2 712M9.3 701.7L75.2 701.7M9.3 645.4L9.3 701.7" stroke="#999" stroke-width="0.7" fill="none"/>
<path d="M92 599.8L93.2 599.8M92.6 601.6L93.2 601.6M92.6 602.9L93.2 602.9M92.6 601.6L92.6 602.9M92 602.3L92.6 602.3M92 599.8L92 602.3M90.9 601L92 601M92.1 604.6L93.2 604.6M92.1 606.4L93.2 606.4M92.1 604.6L92.1 606.4M90.9 605.5L92.1 605.5M90.9 601L90.9 605.5M88.8 603.2L90.9 603.2M91.2 608.1L93.2 608.1M91.2 610.3L93.2 610.3M91.2 608.1L91.2 610.3M88.8 609.2L91.2 609.2M88.8 603.2L88.8 609.2M86.4 606.2L88.8 606.2M91.1 612.7L93.2 612.7M92.1 615.2L93.2 615.2M92.1 617.4L93.2 617.4M92.1 615.2L92.1 617.4M91.1 616.3L92.1 616.3M91.1 612.7L91.1 616.3M88.8 614.5L91.1 614.5M92.3 619.4L93.2 619.4M92.7 621.3L93.2 621.3M92.7 622.8L93.2 622.8M92.7 621.3L92.7 622.8M92.3 622L92.7 622M92.3 619.4L92.3 622M91.1 620.7L92.3 620.7M91.8 624.2L93.2 624.2M91.8 625.6L93.2 625.6M91.8 624.2L91.8 625.6M91.1 624.9L91.8 624.9M91.1 620.7L91.1 624.9M90.2 622.8L91.1 622.8M92.2 627.3L93.2 627.3M92.2 628.9L93.2 628.9M92.2 627.3L92.2 628.9M91.2 628.1L92.2 628.1M91.2 630.2L93.2 630.2M91.2 628.1L91.2 630.2M90.2 629.1L91.2 629.1M90.2 622.8L90.2 629.1M88.8 626L90.2 626M88.8 614.5L88.8 626M86.4 620.2L88.8 620.2M90.6 632.1L93.2 632.1M90.6 633.7L93.2 633.7M90.6 632.1L90.6 633.7M89.1 632.9L90.6 632.9M91.4 634.8L93.2 634.8M91.4 636.2L93.2 636.2M91.4 634.8L91.4 636.2M89.1 635.5L91.4 635.5M89.1 632.9L89.1 635.5M85.3 634.2L89.1 634.2M90.2 638.3L93.2 638.3M90.2 640.5L93.2 640.5M90.2 638.3L90.2 640.5M88 639.4L90.2 639.4M90.3 642.3L93.2 642.3M90.3 644.1L93.2 644.1M90.3 642.3L90.3 644.1M88 643.2L90.3 643.2M88 639.4L88 643.2M85.3 641.3L88 641.3M92.1 646.1L93.2 646.1M92.1 647.8L93.2 647.8M92.1 646.1L92.1 647.8M91.2 646.9L92.1 646.9M91.2 649.5L93.2 649.5M91.2 646.9L91.2 649.5M89.7 648.2L91.2 648.2M91.4 651.5L93.2 651.5M91.4 653.4L93.2 653.4M91.4 651.5L91.4 653.4M89.7 652.5L91.4 652.5M89.7 648.2L89.7 652.5M86.9 650.3L89.7 650.3M91.9 655.7L93.2 655.7M91.9 657.5L93.2 657.5M91.9 655.7L91.9 657.5M90.3 656.6L91.9 656.6M90.3 659.2L93.2 659.2M90.3 656.6L90.3 659.2M89 657.9L90.3 657.9M92.7 660.9L93.2 660.9M92.7 662.2L93.2 662.2M92.7 660.9L92.7 662.2M92.3 661.5L92.7 661.5M92.3 663.7L93.2 663.7M92.3 661.5L92.3 663.7M91.4 662.6L92.3 662.6M91.4 665.7L93.2 665.7M91.4 662.6L91.4 665.7M90.4 664.2L91.4 664.2M92.4 667.7L93.2 667.7M92.4 669.5L93.2 669.5M92.4 667.7L92.4 669.5M92 668.6L92.4 668.6M92 671.2L93.2 671.2M92 668.6L92 671.2M90.4 669.9L92 669.9M90.4 664.2L90.4 669.9M89 667L90.4 667M89 657.9L89 667M86.9 662.5L89 662.5M88.8 673.3L93.2 673.3M88.8 675.5L93.2 675.5M91.5 677.7L93.2 677.7M91.5 679.5L93.2 679.5M91.5 677.7L91.5 679.5M90.5 678.6L91.5 678.6M91.6 680.9L93.2 680.9M91.6 682.3L93.2 682.3M91.6 680.9L91.6 682.3M90.5 681.6L91.6 681.6M90.5 678.6L90.5 681.6M88.9 680.1L90.5 680.1M92.4 683.3L93.2 683.3M92.4 685.1L93.2 685.1M92.4 683.3L92.4 685.1M92 684.2L92.4 684.2M92 687.3L93.2 687.3M92 684.2L92 687.3M90.7 685.8L92 685.8M91.5 689.1L93.2 689.1M91.5 690.7L93.2 690.7M91.5 689.1L91.5 690.7M90.7 689.9L91.5 689.9M90.7 685.8L90.7 689.9M88.9 687.8L90.7 687.8M88.9 680.1L88.9 687.8M82.8 684L88.9 684M91.1 692.2L93.2 692.2M91.1 693.6L93.2 693.6M91.1 692.2L91.1 693.6M89.9 692.9L91.1 692.9M89.9 695.7L93.2 695.7M89.9 692.9L89.9 695.7M88 694.3L89.9 694.3M92.1 698.2L93.2 698.2M92.1 700.4L93.2 700.4M92.1 698.2L92.1 700.4M91 699.3L92.1 699.3M91 702.3L93.2 702.3M91 699.3L91 702.3M89.9 700.8L91 700.8M91.4 704.4L93.2 704.4M91.4 706.8L93.2 706.8M91.4 704.4L91.4 706.8M89.9 705.6L91.4 705.6M89.9 700.8L89.9 705.6M88 703.2L89.9 703.2M88 694.3L88 703.2M82.8 698.8L88 698.8M89.9 708.7L93.2 708.7M91.5 710.6L93.2 710.6M91.5 712.2L93.2 712.2M91.5 710.6L91.5 712.2M89.9 711.4L91.5 711.4M89.9 708.7L89.9 711.4M85.8 710.1L89.9 710.1M85.8 714L93.2 714" stroke="#666" stroke-width="0.45" fill="none"/>
<path d="M440.2 600.6L440.2 615.2M435.9 607.9L440.2 607.9M440.6 631.2L440.6 637.6M435.9 634.4L440.6 634.4M435.9 607.9L435.9 634.4M423 621.1L435.9 621.1M430.1 645.6L430.1 657.9M423 651.7L430.1 651.7M423 621.1L423 651.7M386.8 636.4L423 636.4M438.4 667.8L438.4 674.9M434.3 671.3L438.4 671.3M439.2 681.8L439.2 685M434.3 683.4L439.2 683.4M434.3 671.3L434.3 683.4M386.8 677.3L434.3 677.3M386.8 636.4L386.8 677.3M358.2 656.9L386.8 656.9M440.3 689.9L440.3 701.2M433.8 695.5L440.3 695.5M437.4 708.1L437.4 713.2M433.8 710.7L437.4 710.7M433.8 695.5L433.8 710.7M358.2 703.1L433.8 703.1M358.2 656.9L358.2 703.1" stroke="#999" stroke-width="0.7" fill="none"/>
<path d="M443.3 597.8L444.6 597.8M443.3 599.6L444.6 599.6M443.3 597.8L443.3 599.6M441.9 598.7L443.3 598.7M443.4 601.2L444.6 601.2M443.9 602.7L444.6 602.7M443.9 604.6L444.6 604.6M443.9 602.7L443.9 604.6M443.4 603.7L443.9 603.7M443.4 601.2L443.4 603.7M441.9 602.5L443.4 602.5M441.9 598.7L441.9 602.5M440.2 600.6L441.9 600.6M443.6 606.8L444.6 606.8M443.6 608.8L444.6 608.8M443.6 606.8L443.6 608.8M442.7 607.8L443.6 607.8M444 610.2L444.6 610.2M444 611.9L444.6 611.9M444 610.2L444 611.9M443.4 611L444 611M444 613.9L444.6 613.9M444 615.4L444.6 615.4M444 613.9L444 615.4M443.4 614.6L444 614.6M443.4 611L443.4 614.6M442.7 612.8L443.4 612.8M442.7 607.8L442.7 612.8M441.8 610.3L442.7 610.3M443.9 616.8L444.6 616.8M443.9 618.6L444.6 618.6M443.9 616.8L443.9 618.6M442.9 617.7L443.9 617.7M443.5 620.7L444.6 620.7M444.1 622.9L444.6 622.9M444.1 625L444.6 625M444.1 622.9L444.1 625M443.5 624L444.1 624M443.5 620.7L443.5 624M442.9 622.3L443.5 622.3M442.9 617.7L442.9 622.3M441.8 620L442.9 620M441.8 610.3L441.8 620M440.2 615.2L441.8 615.2M444 626.9L444.6 626.9M444 628.5L444.6 628.5M444 626.9L444 628.5M443.3 627.7L444 627.7M444 630L444.6 630M444 631.4L444.6 631.4M444 630L444 631.4M443.3 630.7L444 630.7M443.3 627.7L443.3 630.7M442.5 629.2L443.3 629.2M443.6 632.6L444.6 632.6M443.6 633.9L444.6 633.9M443.6 632.6L443.6 633.9M442.5 633.2L443.6 633.2M442.5 629.2L442.5 633.2M440.6 631.2L442.5 631.2M442.1 636.2L444.6 636.2M442.9 638.1L444.6 638.1M442.9 639.9L444.6 639.9M442.9 638.1L442.9 639.9M442.1 639L442.9 639M442.1 636.2L442.1 639M440.6 637.6L442.1 637.6M440.3 641.8L444.6 641.8M440.3 643.9L444.6 643.9M440.3 641.8L440.3 643.9M437.2 642.9L440.3 642.9M442.3 646.2L444.6 646.2M442.3 647.9L444.6 647.9M442.3 646.2L442.3 647.9M440 647.1L442.3 647.1M440 649.6L444.6 649.6M440 647.1L440 649.6M437.2 648.3L440 648.3M437.2 642.9L437.2 648.3M430.1 645.6L437.2 645.6M442.1 651.5L444.6 651.5M442.1 653.3L444.6 653.3M442.1 651.5L442.1 653.3M438.5 652.4L442.1 652.4M441.3 655.3L444.6 655.3M441.3 657.5L444.6 657.5M441.3 655.3L441.3 657.5M438.5 656.4L441.3 656.4M438.5 652.4L438.5 656.4M435.2 654.4L438.5 654.4M442 659L444.6 659M442 660.7L444.6 660.7M442 659L442 660.7M440.4 659.8L442 659.8M440.4 662.9L444.6 662.9M440.4 659.8L440.4 662.9M435.2 661.4L440.4 661.4M435.2 654.4L435.2 661.4M430.1 657.9L435.2 657.9M442.9 664.9L444.6 664.9M442.9 667.1L444.6 667.1M442.9 664.9L442.9 667.1M440.6 666L442.9 666M440.6 669.5L444.6 669.5M440.6 666L440.6 669.5M438.4 667.8L440.6 667.8M443.3 671.6L444.6 671.6M443.3 673.7L444.6 673.7M443.3 671.6L443.3 673.7M441.5 672.7L443.3 672.7M442.7 675.9L444.6 675.9M443.6 677.5L444.6 677.5M443.6 679.1L444.6 679.1M443.6 677.5L443.6 679.1M442.7 678.3L443.6 678.3M442.7 675.9L442.7 678.3M441.5 677.1L442.7 677.1M441.5 672.7L441.5 677.1M438.4 674.9L441.5 674.9M441.5 680.8L444.6 680.8M441.5 682.7L444.6 682.7M441.5 680.8L441.5 682.7M439.2 681.8L441.5 681.8M439.2 685L444.6 685M442.7 686.8L444.6 686.8M442.7 688.4L444.6 688.4M442.7 686.8L442.7 688.4M441.7 687.6L442.7 687.6M443.7 689.7L444.6 689.7M443.7 691.3L444.6 691.3M443.7 689.7L443.7 691.3M443.3 690.5L443.7 690.5M444.1 693L444.6 693M444.1 694.7L444.6 694.7M444.1 693L444.1 694.7M443.3 693.9L444.1 693.9M443.3 690.5L443.3 693.9M441.7 692.2L443.3 692.2M441.7 687.6L441.7 692.2M440.3 689.9L441.7 689.9M444 696.5L444.6 696.5M444 698.3L444.6 698.3M444 696.5L444 698.3M443.4 697.4L444 697.4M443.4 700.4L444.6 700.4M443.4 697.4L443.4 700.4M442.8 698.9L443.4 698.9M443.5 702.6L444.6 702.6M443.5 704.3L444.6 704.3M443.5 702.6L443.5 704.3M442.8 703.4L443.5 703.4M442.8 698.9L442.8 703.4M440.3 701.2L442.8 701.2M442.8 705.8L444.6 705.8M442.8 707.6L444.6 707.6M442.8 705.8L442.8 707.6M440.5 706.7L442.8 706.7M440.5 709.6L444.6 709.6M440.5 706.7L440.5 709.6M437.4 708.1L440.5 708.1M440.6 711.6L444.6 711.6M442.9 713.9L444.6 713.9M442.9 715.8L444.6 715.8M442.9 713.9L442.9 715.8M440.6 714.9L442.9 714.9M440.6 711.6L440.6 714.9M437.4 713.2L440.6 713.2" stroke="#666" stroke-width="0.45" fill="none"/>
</svg>
</body></html>
